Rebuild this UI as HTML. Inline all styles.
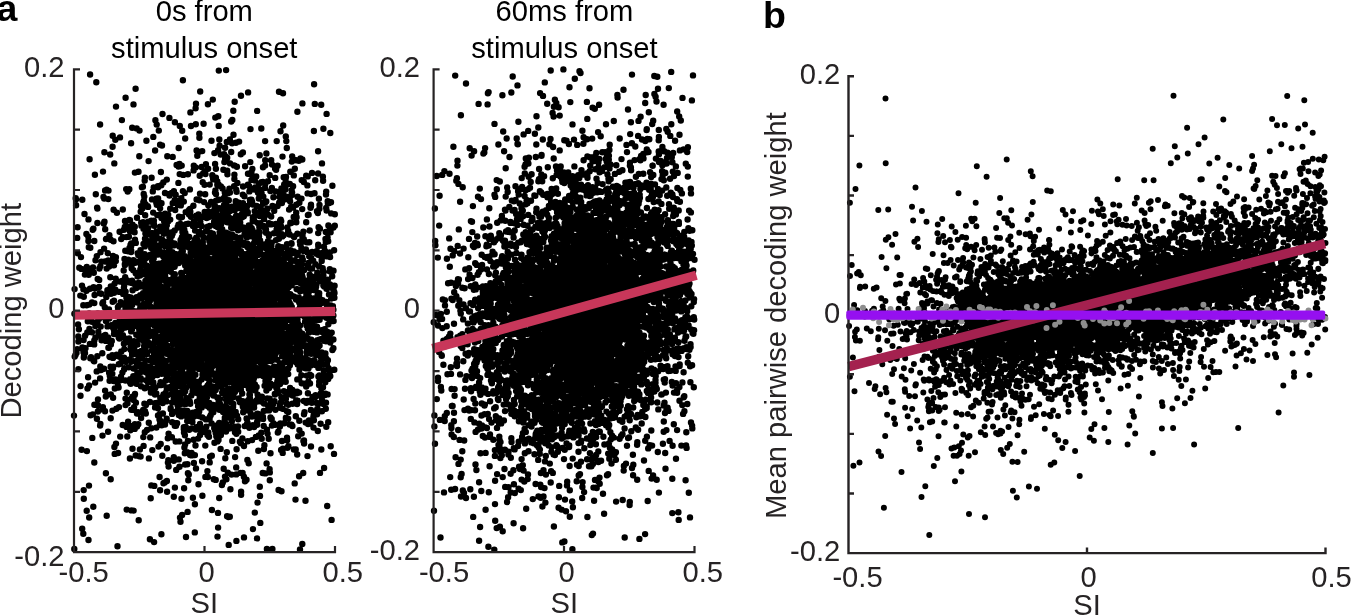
<!DOCTYPE html>
<html lang="en"><head><meta charset="utf-8"><title>Decoding weight vs SI</title>
<style>html,body{margin:0;padding:0;background:#fff}svg{display:block;will-change:transform}</style></head>
<body>
<svg width="1351" height="615" viewBox="0 0 1351 615" font-family='"Liberation Sans", Arial, Helvetica, sans-serif'>
<rect width="1351" height="615" fill="#fff"/>
<path d="M184.5 320.5h0M217.4 264h0M214.5 442.8h0M153.1 357.6h0M104.2 198.5h0M276.7 250.7h0M212 304.5h0M283.4 193.8h0M302.8 241h0M292.1 272.2h0M307.5 456.1h0M227.9 258.3h0M313.9 420.2h0M289.8 183.9h0M246.4 291.9h0M177.4 316h0M142.5 305.1h0M173.3 370.5h0M215.9 274.3h0M256.2 300.7h0M263.6 330.6h0M170 359.5h0M151 275.1h0M173.6 321.5h0M295.6 273.9h0M232.1 365.8h0M238.5 291.2h0M198.5 318.1h0M231.9 255.2h0M298.8 297.4h0M231.1 318.5h0M149.1 300.2h0M214.9 287.6h0M250.1 201.9h0M142 261.8h0M252.8 217.4h0M174.7 266.3h0M194.9 313.4h0M304.9 363.2h0M98.3 331.9h0M174.9 487.6h0M95.4 337.7h0M236.4 371.2h0M195.6 108.2h0M98 399.5h0M234.9 356.3h0M219.5 380.8h0M193.6 439.7h0M139.3 156.3h0M284.2 184.4h0M237.6 341.5h0M125.4 327.5h0M208.5 260.1h0M286.1 280.7h0M247.4 460h0M189.3 275.6h0M215.8 313.3h0M329.7 306.9h0M174.7 200.3h0M198.4 214.5h0M240.9 267.8h0M152.3 450.1h0M259.7 232.3h0M130.6 247.4h0M178.7 148h0M241.8 322.6h0M220.8 385.5h0M223.7 256.1h0M260.9 288h0M218.5 440h0M262 313.3h0M273.1 292.8h0M237.6 331.6h0M212.9 296.9h0M280.7 322.2h0M250.3 268.5h0M184 300.6h0M269.6 469.3h0M140.6 364.6h0M305.7 383.4h0M200.6 364.1h0M197 327.2h0M230.1 257.3h0M204.2 298.5h0M182 360.5h0M253.3 372.6h0M264.2 304.9h0M250.3 282.8h0M239.9 441.7h0M203.6 428.6h0M200.3 232.8h0M167.9 352.5h0M290.7 304.6h0M203.8 294.2h0M121.1 304.2h0M253.9 362.5h0M164.7 313.2h0M243.6 330.2h0M227.9 271.6h0M205.1 285h0M210.7 366.3h0M129.4 298.6h0M272.4 354.3h0M115.3 323h0M203.8 292.8h0M280.5 319.1h0M198.2 364.4h0M329.3 203.1h0M170 283.2h0M126.4 237.1h0M261.9 334.4h0M216 244.1h0M264.6 385.8h0M133.5 361.1h0M275.4 269.2h0M156.3 202.8h0M300.7 361.4h0M157.1 348.8h0M301.4 248.2h0M194.3 333.4h0M176 303.7h0M162.8 367.9h0M236.3 288.8h0M270.3 373.5h0M247.6 344.1h0M283.1 291.3h0M280.5 290.7h0M324.4 335h0M283.7 280.9h0M143 261.7h0M177.6 405.2h0M227.8 472.7h0M205.2 322.7h0M94.2 361.2h0M200.9 359.9h0M293 337.4h0M284.4 199.4h0M305 299.2h0M267.5 283.9h0M170.7 318.1h0M197 254.6h0M298.4 334.1h0M136.6 311.5h0M237.8 305h0M252.4 279.6h0M216 357.3h0M241.5 306.3h0M180.2 316.7h0M124.9 265h0M330.9 305.4h0M194.9 294.2h0M199.5 251.4h0M234.9 392.1h0M207.6 331.4h0M248.2 407.4h0M153.7 332.8h0M237.9 383h0M164.9 264h0M230.9 390.7h0M279.5 197h0M271.7 279.7h0M235.7 324.7h0M219.4 405.7h0M197.4 382h0M221.6 346.4h0M135.2 262.7h0M260.7 253.6h0M202.1 461.2h0M250.1 299.5h0M238 207.4h0M164 367.1h0M201.3 366.4h0M325.8 231.9h0M194.1 222.6h0M166.5 375.7h0M184.6 365.4h0M199.7 336.4h0M297.1 404h0M287.2 270.4h0M216 267.3h0M285.1 308.7h0M310 383.5h0M147 366.7h0M329.9 371.4h0M152.7 253.7h0M142.9 186.7h0M200.6 294.7h0M180.5 308.6h0M231.9 299.7h0M305.5 280.5h0M215.4 206.6h0M247 347.2h0M205.5 320.4h0M200.3 221.4h0M250.1 233.4h0M87.5 388.5h0M235.6 207.1h0M321.7 260h0M241.3 378.5h0M251.7 228.3h0M181.2 273h0M242.1 324.7h0M197.3 366.7h0M308.9 363.2h0M226.2 232.8h0M218.5 277.8h0M289.9 365.2h0M160.1 214.4h0M210 267.3h0M185.2 464.5h0M162.1 273.3h0M167 448.2h0M269.6 300.9h0M229.4 370.3h0M241.6 259.8h0M175.7 194.7h0M302.4 103.4h0M273.1 403.5h0M190.4 275.4h0M185.4 321.8h0M253.4 283.2h0M310.8 206.7h0M226.8 210.5h0M175.6 302.4h0M240.2 310.4h0M196.5 295.9h0M327.8 376.9h0M230.3 311h0M207.9 362.5h0M165.7 339.1h0M265.7 303.7h0M225 338.9h0M218.9 366.1h0M262.4 306.7h0M291.7 253.5h0M217.3 341h0M243.1 287h0M162.6 370.7h0M192.3 320.5h0M213.3 314.3h0M245.8 284h0M242.9 329.4h0M229.9 333.8h0M179.7 225.5h0M170.7 408.3h0M161.7 373.7h0M209 316.7h0M140.7 372h0M280.1 287.5h0M123.9 287.7h0M243 203.1h0M220.6 361.8h0M232.5 250.1h0M303.5 249.5h0M260.7 319.1h0M209.5 334.7h0M236.8 272.5h0M227.1 379.6h0M186.9 239.4h0M284.6 362.3h0M229.9 192.5h0M249.4 191.4h0M128.5 319h0M207.1 295.6h0M236.8 325.4h0M253 318.6h0M231 298h0M116 443.6h0M214.6 206.2h0M329.8 376.6h0M224.2 272.6h0M230.9 351.6h0M191 247.7h0M300.6 335.4h0M195.9 339.3h0M125.5 308.2h0M193.3 326.4h0M114 300.7h0M156.4 198.6h0M231.9 271.7h0M261.7 358.4h0M149.9 367.3h0M256.6 325.9h0M211.1 341.6h0M252.9 331.6h0M189.2 324.6h0M253.5 354.1h0M230.5 303.9h0M243.3 343.9h0M187.6 511.9h0M213.8 319.7h0M193.6 376.8h0M80.5 395.8h0M151.8 350.4h0M144.1 346.3h0M157.4 375h0M275.8 262.9h0M203.9 289.6h0M193.5 274.4h0M178.2 364.5h0M231.2 381.5h0M201.6 429.5h0M228.1 193.2h0M219.9 298.2h0M208.2 394h0M177.2 337.9h0M239.7 253.3h0M206.4 322.6h0M196.9 307.8h0M275 253.7h0M207.9 341.1h0M93.4 228.7h0M205 300.3h0M281.2 381.8h0M255.3 332h0M150.9 392.5h0M249.1 281.9h0M226.1 327.3h0M263.9 349.3h0M246.6 303.6h0M200.7 406.3h0M168.3 221.3h0M89.2 313.4h0M222.4 303.2h0M233.4 319.7h0M172.5 301.9h0M270.5 299.7h0M224.6 197h0M244.4 196.2h0M238.3 346h0M231.3 417.2h0M252.3 325.7h0M250.2 362.8h0M279 91.7h0M285.1 324.2h0M318 276.8h0M205.9 292.9h0M304 301.3h0M153.6 318.7h0M172.4 311.9h0M108.3 199.1h0M186.8 316h0M235.9 321.1h0M192.2 275.3h0M171.9 437.2h0M259.9 283.1h0M211 356h0M220.9 320.9h0M204.5 301.5h0M238.6 336.3h0M83.8 498.7h0M219.3 139.5h0M235.6 344.7h0M211.5 293.3h0M256.9 414h0M258.7 329.1h0M235.4 365.9h0M212.9 323.5h0M202 295.4h0M228.1 293.3h0M212.3 374.5h0M183.9 377.7h0M246.8 334.5h0M192.9 268.8h0M195.4 374.8h0M109.5 356.6h0M226.1 399.4h0M226.8 299.4h0M255.3 327.4h0M328.4 225.4h0M215.3 290.7h0M260.9 317.9h0M287.8 360.4h0M159.5 419.5h0M264.3 318.5h0M243.3 383.4h0M219.4 409.7h0M219.2 379.6h0M283.4 291.7h0M196.3 289.1h0M83 349.5h0M323.4 285.4h0M128.3 259.6h0M298.3 392.8h0M254.3 368.1h0M257.5 399.1h0M203.8 405h0M255.4 277.7h0M169 258.2h0M232.6 272h0M330.7 446.2h0M231.5 263.8h0M266.9 282.6h0M189 257.3h0M216.9 331.8h0M205.9 164.3h0M248.5 330.4h0M115.3 315.2h0M217.5 359.7h0M225.4 331.1h0M277.2 323.9h0M161.6 288.5h0M152.3 278.9h0M159 286.8h0M212.2 373.5h0M190.9 369.8h0M292.2 322.5h0M231.1 326.9h0M173.6 276.1h0M145 238.7h0M296.1 160.3h0M273.6 314.8h0M179.1 350.5h0M97.1 207.6h0M93 267.5h0M198.7 362.9h0M157.1 296.4h0M167 298.4h0M211.5 239.1h0M238.4 331.3h0M274.3 368.7h0M245.6 244.3h0M199.2 334.6h0M179.2 304.7h0M162.2 373.1h0M288.2 266.9h0M123.4 282.6h0M257.6 293.3h0M284.2 323.5h0M279.7 292.4h0M273.8 351.5h0M167.3 253.5h0M249.7 387.8h0M217.2 355h0M205.4 290.8h0M216.8 259.2h0M169.8 305.9h0M217.6 262.2h0M254.9 384.5h0M237 221h0M289.3 353.7h0M235 432.2h0M279.9 407.8h0M209.2 286.7h0M270.7 350.6h0M184.1 314.8h0M239.6 280.5h0M245 302.7h0M260.9 287.7h0M210.6 281.7h0M230.9 398.6h0M140.6 456.6h0M204.5 394.9h0M199.4 332h0M203.5 317.1h0M205.9 295.5h0M322.5 300.1h0M153.6 358.7h0M232 411.7h0M266.1 248.3h0M282.3 236.4h0M204.7 212h0M247.5 422.8h0M218.5 294.2h0M211.8 309.4h0M184.9 312.7h0M271.3 279.3h0M247.4 270.4h0M130.2 379.1h0M248.1 366.8h0M204.6 317.3h0M307.9 215.1h0M128.7 367.3h0M330.6 232.3h0M218.7 333.1h0M288.9 350.6h0M173.7 330.6h0M287 437.8h0M230.1 163.4h0M250.4 349.8h0M180.7 241.5h0M259.9 337.7h0M229.4 328.4h0M219.2 498h0M284.1 423.3h0M258.7 329.5h0M108.4 315.8h0M223.6 316.9h0M259.5 191.7h0M248.8 293.9h0M160.1 208.2h0M98.7 335.4h0M275.1 334.4h0M105.2 229.2h0M260.9 355.5h0M331 202.3h0M278.5 255.2h0M287.5 369.7h0M166.6 295h0M304.3 305.4h0M184.1 337h0M187.9 342.1h0M322.7 313.5h0M239.8 208.3h0M192.2 287.2h0M313.4 331.8h0M263.6 358.1h0M259.4 332.1h0M231.9 325.7h0M313.1 321.2h0M222 324.5h0M246.3 299.3h0M293.9 449.5h0M242.9 152.5h0M192.8 294.6h0M245.2 291.8h0M213.8 362.9h0M278.4 298.3h0M245.6 346.6h0M228.9 340.3h0M280 253.3h0M151.1 373.2h0M240 322.8h0M256.1 329.8h0M236.3 283h0M235.2 309.7h0M218.1 346.9h0M170.6 283.1h0M216.3 436.2h0M206.6 351.7h0M196.7 264.1h0M286.1 247.4h0M231.1 358.5h0M253.7 299.1h0M196.5 326.6h0M228.8 245.5h0M244.8 264.1h0M193.8 382.7h0M281.3 330h0M316.3 326.7h0M229.9 370.6h0M254.2 325.8h0M135.7 324.4h0M103.1 302.3h0M162.7 310.1h0M251.4 321.7h0M318.5 346.6h0M142.1 307.3h0M124.3 349.1h0M276 240.1h0M229 346.7h0M210.3 270.1h0M180 404.7h0M220 280.9h0M207.7 318h0M238.4 311.7h0M178.6 356.3h0M151.2 248h0M172.8 388.3h0M201.3 272.9h0M277.3 305.3h0M288.8 297.7h0M267.5 381.8h0M316.1 355h0M215.1 355.9h0M229.5 356.7h0M176.6 321.4h0M159.8 348.8h0M228.7 309.5h0M163.2 278.5h0M223.5 330.9h0M231.9 315.4h0M276.5 310.4h0M270.9 401.2h0M276.1 309.4h0M265.4 311.3h0M228.7 244.1h0M235.7 201.2h0M245.7 338.4h0M269.8 265.3h0M171.6 306.6h0M324.8 329.4h0M144.6 284.2h0M228.6 211.1h0M246.8 312.3h0M172.1 413.9h0M250.2 260.7h0M229.2 261.5h0M232.5 345.8h0M202.9 308.3h0M160.1 342.1h0M115.2 260.1h0M220.9 333.9h0M214.4 153.1h0M244.4 345.9h0M235.6 333h0M328.2 422.3h0M235.8 390.3h0M241.1 254.3h0M251.6 280.7h0M243 321.6h0M222.9 332.1h0M235 300.5h0M223.5 314h0M173.8 457.1h0M240.4 293.9h0M264.9 303h0M273 321.4h0M213.4 216.8h0M131.7 268.6h0M225 411.7h0M186 387.9h0M303.4 231.6h0M306.5 385.8h0M307.6 193.4h0M142.5 350.6h0M329.8 252.5h0M164.6 273.8h0M260.5 215.3h0M314.5 193.3h0M230.9 313.4h0M277.8 308.7h0M299.3 308.9h0M202.8 369h0M200 366.9h0M260.9 348.7h0M259 236.4h0M294.4 360.2h0M253.9 384.7h0M225.2 356.4h0M224.5 308.4h0M308.9 282.7h0M257.8 329.5h0M275.3 354.3h0M324.7 376.2h0M239 353.6h0M293.6 296.5h0M283.8 276.6h0M256.7 296.4h0M95 288.5h0M271.7 316h0M207 268.3h0M186.5 366h0M233 208.7h0M214.9 356.4h0M132.6 290.2h0M144.4 367.3h0M196.2 332.6h0M234 311.5h0M267.3 410.4h0M191.9 311h0M198.9 386.8h0M136.6 297.1h0M274.3 286.3h0M261.4 341h0M209.4 359.9h0M266.9 301.2h0M194.9 242.1h0M166 271.2h0M227.4 394h0M222.8 322.3h0M224.8 277.6h0M228.9 266.9h0M329.7 312h0M268 241.2h0M320 472.9h0M219.6 298.9h0M280.9 301.1h0M226.7 308.8h0M243.6 361.9h0M130 220.1h0M257.8 369h0M301.8 359.2h0M266.4 333.4h0M328.2 378.9h0M251.3 236.2h0M302.9 287.6h0M208.5 350h0M190.2 319.2h0M241.1 494.8h0M251.5 324.5h0M235.9 297.7h0M210 315.4h0M290.1 201.2h0M226.3 284.7h0M246.2 353.8h0M266.5 287h0M114.6 283.6h0M97.5 321.8h0M325.8 242h0M181 313.5h0M162.3 326h0M241.4 385.8h0M215 430h0M284.1 294h0M179.2 284h0M109.5 262.4h0M225 384.3h0M177 399.9h0M231.7 360.2h0M178.6 345.4h0M282.7 377.5h0M182.1 401.2h0M153.7 187.4h0M195.2 296.6h0M222.8 328.6h0M135.7 273.2h0M218.5 397.8h0M209.7 391.5h0M275.5 289.6h0M130.5 349.4h0M257.1 423.1h0M181.7 335.2h0M229.1 350.7h0M194 301h0M321.3 449.5h0M185.2 351.6h0M230 278.6h0M205.7 255.4h0M191.6 415.3h0M253.3 234.7h0M266.1 321.8h0M254.7 340.4h0M272.3 306.5h0M141.4 225.8h0M232.4 357.7h0M202.7 182.2h0M205.2 327.6h0M226.9 326.5h0M238.4 279.4h0M157.3 245.8h0M277.5 294.9h0M169.5 328.1h0M279.8 236h0M332.3 297.4h0M204.5 307.7h0M248.8 278.4h0M186 283h0M223.7 355.5h0M216.9 299.8h0M233.1 337.1h0M266.9 549h0M131.8 283.1h0M185.7 356.2h0M225.7 156.5h0M258.7 291.2h0M249.9 397.7h0M154.2 369.6h0M290.9 272.8h0M232 206.8h0M280.9 402.4h0M267.1 328.1h0M259.7 216h0M147.8 297.6h0M219.1 289.9h0M218.2 312.9h0M227.2 170.8h0M220.5 380.4h0M185.2 391.2h0M323.4 275.6h0M259.3 227h0M276.3 272.7h0M202.7 255.6h0M196.5 296.1h0M223.9 369.8h0M247.6 302.4h0M187.3 411h0M219.2 336.1h0M268.7 326.7h0M255.9 436.9h0M168.2 214.6h0M281.4 327h0M242.3 209.3h0M194 353.8h0M250.3 339.4h0M305.9 336.1h0M186.5 325.2h0M155.3 253.4h0M307.7 176.4h0M192.9 263.1h0M189.9 297.3h0M250 274.6h0M97.3 356.3h0M199.2 411.6h0M273.4 256.3h0M252.3 331.4h0M311.2 375.7h0M334 453.9h0M94.4 404.7h0M296.1 340.7h0M263.4 333h0M221.8 350.6h0M282.3 313.4h0M259.6 267.4h0M130.1 304.4h0M238.7 398.5h0M152.8 191.4h0M180.4 223.9h0M252.2 331.3h0M226.7 303.8h0M274.5 401.2h0M184.4 305.6h0M169.6 249.7h0M179 216.7h0M180.6 385h0M288.4 446.3h0M231.6 345.4h0M144.4 343.6h0M195 287.2h0M221.1 310.6h0M320.2 376.9h0M259.8 347.6h0M148.3 375h0M271.2 160.3h0M267.3 259h0M254.8 512.6h0M203.1 377h0M246.8 315.9h0M300.5 158.5h0M221.8 218.3h0M266.3 370.2h0M276.9 257.2h0M238.8 311.4h0M238.1 269h0M203.1 270.2h0M150.2 266.6h0M206.5 337.9h0M294.8 168.7h0M206.1 343.9h0M274.1 285.3h0M290.8 253.5h0M223.4 285.1h0M191 327.7h0M233.5 269.1h0M255.9 343h0M231.5 225.6h0M187.9 343.3h0M92.8 414.4h0M226.9 295.2h0M191.3 288h0M196.2 251.2h0M224.6 258h0M141 259.2h0M244.5 234.6h0M108.4 347.7h0M183.3 345.3h0M273.1 404h0M127.5 341.8h0M272.7 318.8h0M243.2 355.8h0M90.6 415.2h0M198 305.6h0M247.8 267.7h0M243.9 322.1h0M291.6 285.3h0M302.3 544h0M189.8 354h0M212.2 386.4h0M208.4 344.6h0M243.8 216.2h0M212.5 362.2h0M280.3 351.7h0M177.8 304.2h0M299.7 267.1h0M210.2 280.4h0M177.9 284.8h0M228.3 216.8h0M162.4 273.4h0M215.3 299.5h0M235.5 314.3h0M208.5 323.6h0M165.7 380.5h0M106.5 310.5h0M231 303.2h0M293.9 251.4h0M280.7 267.3h0M258.4 313.6h0M199.7 396.6h0M180.2 367.2h0M283.6 235.3h0M300.5 302.7h0M164 336.1h0M220.2 373.4h0M270.5 453.3h0M109 309.5h0M269.9 358.4h0M242.3 281.7h0M296.3 204.7h0M177.8 353.8h0M276.6 229.5h0M324.1 468h0M150.2 437.4h0M192.3 356.7h0M160.6 327.5h0M118.8 364.3h0M233.1 407.1h0M139.3 284.5h0M205 366.5h0M215.1 300.5h0M199.3 133.7h0M206.9 312.7h0M173.7 398h0M188.4 330.3h0M307 287.2h0M207.6 314h0M229.8 516.8h0M141.8 315.8h0M326.5 317.7h0M225.6 276.2h0M176.1 297.7h0M278.8 323.1h0M170.9 386.9h0M318.4 376.5h0M231.4 395.5h0M230.8 316.6h0M257 421.9h0M168.3 387.5h0M283.5 189.1h0M192.7 334.6h0M120 137.4h0M137 217.7h0M310.4 422.8h0M223 211.7h0M276.9 310h0M221.3 290h0M211.8 343.4h0M224.8 192.4h0M109.8 375.7h0M222.7 232.7h0M266.4 153.5h0M235.9 337.1h0M257.5 370.1h0M233.8 277.8h0M191.6 279.3h0M191.8 289.7h0M185.4 235.7h0M317.1 352.6h0M253.1 299.7h0M302.5 315.3h0M255.7 324.9h0M222 375.6h0M278.2 246.9h0M316.8 403h0M163.2 300.7h0M194 346.5h0M173.9 378.2h0M248.1 270.2h0M207.7 346.5h0M234.4 335.2h0M173.1 334.9h0M262.9 416.6h0M314 360.1h0M220.6 320.6h0M222.3 322.9h0M263.3 196.6h0M263.4 303.6h0M288.2 374.1h0M234.4 179h0M260.2 285.1h0M277.6 206.1h0M266.9 429.6h0M180.5 371.8h0M146.7 316h0M217.1 268.2h0M317 332.4h0M224.4 162.1h0M219.8 382.2h0M175.7 441.5h0M187.1 279.2h0M312.1 268.6h0M283 320h0M178.8 263.1h0M245.1 326.5h0M196.8 281.5h0M129.3 220h0M259.1 417.9h0M222.3 279.8h0M263.5 291.4h0M172.7 203.2h0M191.2 265h0M174.9 317.6h0M126.4 297.7h0M227.9 282.3h0M187.7 299.2h0M209.9 356.8h0M239.9 343.7h0M282.2 356.2h0M176.6 165h0M213.9 318h0M228.5 312h0M285.7 381.8h0M209.9 416.7h0M174.8 425.7h0M246.2 263.1h0M142.7 312.5h0M230.9 317.9h0M240.5 284.5h0M278.3 392.7h0M217.3 262.4h0M235.7 279.5h0M258.7 368.9h0M227.5 417.1h0M236.2 325.7h0M219.2 300.1h0M326.3 256.3h0M126.2 189.1h0M176.9 328.8h0M209 436.8h0M144.5 273.5h0M211.8 455.8h0M249.7 409.2h0M233.8 221.7h0M138 412.1h0M209.2 317.5h0M219 199.7h0M278.5 288.1h0M219.7 326.7h0M214.9 261.1h0M189.4 321.9h0M247.8 212.2h0M220.2 265.5h0M250.1 340.9h0M142.9 324.3h0M277.5 254.6h0M285.5 197.1h0M255.8 353.3h0M274 333.2h0M220.3 238h0M181.4 319.5h0M161.5 315h0M262.1 343.1h0M258.8 347.3h0M299.4 430.1h0M225.7 354.5h0M243.9 330.7h0M254.3 314.7h0M236.2 474.4h0M135.1 343.9h0M140.7 270.5h0M152.5 279.1h0M213.4 364.5h0M237.2 341h0M219.6 145.7h0M256.5 316.1h0M298.9 359.8h0M306.8 351.8h0M222.5 312.4h0M217.4 283.5h0M332.9 306.3h0M170.5 310.8h0M217.5 397.8h0M326.9 363.8h0M312.1 251.9h0M134.2 352.1h0M236.3 311h0M317 275.3h0M323.8 357.6h0M268.4 341.3h0M247.6 293.4h0M241.1 370.9h0M154.4 371.3h0M214 258.3h0M261.9 328.6h0M188.8 309.9h0M179.8 398.8h0M157.8 367.4h0M178.9 291.6h0M252.6 272.5h0M318.2 244.7h0M191.5 336.2h0M186.9 291.4h0M276.5 278.4h0M163.5 384.5h0M295.6 350.4h0M233.9 359.7h0M235.9 142.8h0M223.1 411.9h0M207.5 385.8h0M290 362.1h0M212.1 281.1h0M91 357.2h0M229.9 285.2h0M179.5 163.9h0M149 241.1h0M285.4 199.2h0M241 315.2h0M286.8 335.1h0M305.7 422.6h0M216.3 344.1h0M266.6 324.9h0M132.1 354.8h0M290.5 250.3h0M181.3 292.8h0M304 440.4h0M315.6 411.3h0M227.8 409.5h0M187.7 346.9h0M302.4 366.6h0M266.6 326.6h0M184.1 307.6h0M239.8 253.2h0M145.8 270.9h0M238.6 346.8h0M279.3 293.2h0M167.6 330.6h0M130.9 313.1h0M202.8 244.7h0M242.9 354.1h0M181.9 274.6h0M169.7 294.4h0M265.8 304.6h0M176.6 308.6h0M217.7 302h0M283.3 302.5h0M304.1 443.6h0M268.8 292.2h0M214.9 387.7h0M159.7 385.1h0M174.2 369.4h0M288.8 342.9h0M286.3 141.1h0M246.1 283.1h0M209.3 403h0M198.7 287.1h0M272.9 342.2h0M264.7 294.8h0M297.6 196.7h0M252.9 280.6h0M182.6 329.3h0M201.6 166.9h0M191.5 366.6h0M207.2 335h0M247.9 400.6h0M223.6 322.4h0M241 95.7h0M297.2 391.6h0M226.3 272h0M248.5 305.6h0M208.1 168.8h0M282.1 353.2h0M215.7 425.6h0M144.7 305.7h0M113.1 291.8h0M154.9 264.3h0M264.4 445.3h0M158.8 130.6h0M143.5 243.9h0M256.5 318.3h0M115.9 257.3h0M150.9 390.7h0M76 199.2h0M304.7 298.8h0M236.6 191.8h0M154.5 342.4h0M265.8 309.4h0M178.5 283.7h0M264 403.5h0M209.5 359h0M171.6 325.4h0M211.6 337.3h0M316.9 252.3h0M317.1 348.5h0M246 353.3h0M240.7 366.3h0M187.9 287h0M184.9 435.2h0M189.2 335.2h0M288.1 230.7h0M258.9 303.6h0M145.6 351h0M240.2 222.6h0M251.5 231.1h0M162.5 240h0M237.3 383.2h0M268 214.6h0M249.6 288.2h0M261.6 335.3h0M244.9 319.8h0M233.3 274.8h0M296.6 217.2h0M95.1 382.6h0M223.8 336.9h0M196.9 300.1h0M174.2 319h0M314.6 306.4h0M288.5 279.1h0M134.9 284.4h0M214.6 340.6h0M196.1 289.1h0M282 370.1h0M309.7 319.3h0M217.4 438.6h0M131.8 351.5h0M183.2 225.7h0M241.2 325.9h0M234.3 363.1h0M86.9 451.1h0M189.7 292.6h0M149.2 314.1h0M199.8 267.4h0M313.2 260.7h0M182.9 80.3h0M212.4 373.6h0M242.6 472.9h0M260.6 243.2h0M233.6 273.8h0M227.1 516.3h0M97.4 223h0M165.1 275.6h0M169.4 193.9h0M202.5 343.2h0M135.8 242.9h0M252 339.3h0M220.5 240.6h0M270.6 383.7h0M266.9 356.7h0M233.3 292.1h0M195.4 300h0M263.7 321.5h0M206.4 358.4h0M198.8 315.1h0M224.6 249.6h0M263 167.3h0M183 302.3h0M202.3 289.3h0M258.6 231.8h0M326.2 191.6h0M181.3 373.7h0M223.8 341.2h0M186.6 299.7h0M135.6 88.7h0M94.9 174.8h0M255.1 355.6h0M187.8 300.2h0M146.4 315.1h0M204.5 184.8h0M223.5 261.9h0M273.4 283h0M205.3 264.8h0M76.5 353h0M88.5 540h0M286.9 348.5h0M213.3 301h0M130.9 324.2h0M287.3 227.4h0M269.5 291.7h0M154.1 308.3h0M278.3 321h0M168.9 250.8h0M273 350.1h0M271 335.5h0M236.7 375.2h0M279.3 295.8h0M166.7 418.7h0M130.7 383.8h0M215.9 221.1h0M219.1 281.1h0M254.9 176.9h0M144 334.7h0M220.1 404.3h0M229.4 304.9h0M248.9 252.9h0M156.9 322.3h0M178.2 309.5h0M188.1 259.6h0M304 414.2h0M195.5 361.7h0M264.8 309.6h0M332.4 350h0M106.6 189.7h0M169.4 237.1h0M265.4 328.4h0M173.8 496.8h0M256.6 361.1h0M215.8 296.9h0M307.6 316.4h0M260.3 223.2h0M234.4 174.8h0M264.4 338.6h0M240 402.2h0M195.8 338.8h0M254.3 389.3h0M270.7 269.5h0M214.3 318.5h0M319.4 304.7h0M147.3 320.2h0M269.5 318h0M207.7 385.9h0M130 231.4h0M212 265.5h0M258.9 317.7h0M275.7 332.9h0M262.4 329.2h0M246.4 353.4h0M299.3 420.7h0M199.2 364.7h0M277.3 320.1h0M126.9 280.2h0M224.7 269h0M247.2 234.4h0M258 348.4h0M125.6 291.6h0M180.6 302.1h0M258.1 253h0M81.5 268.9h0M230.3 366.1h0M319.5 204.9h0M118.7 355.2h0M222.4 265.9h0M262.3 318.6h0M254 243.1h0M208.8 327.2h0M295.7 449.4h0M237.8 281.1h0M252.6 230.2h0M212.1 275.2h0M208.9 383.6h0M113.4 265.2h0M210 313.2h0M278.7 346.5h0M229.1 304.8h0M139.1 323.4h0M226.7 254.9h0M261.3 432.6h0M148.7 286.9h0M252.7 221h0M217.3 181.4h0M281.4 397.2h0M231.7 352.9h0M295.2 330.3h0M321.9 313h0M200.4 269.6h0M309.6 302.8h0M214.4 328.1h0M238.6 281.7h0M234.7 312.8h0M123.5 304.1h0M223.8 287.3h0M171.9 235.7h0M225.1 356.8h0M153.9 223.8h0M284.2 343.4h0M160.7 383.9h0M245.7 331h0M188.1 321.5h0M245.4 341.3h0M203.1 377.2h0M227.1 287.8h0M283.6 306.4h0M328.6 368.3h0M279.7 376.3h0M109.1 266.5h0M242.1 215h0M242.2 322.7h0M118.4 356.3h0M120.2 436.6h0M185.2 380.1h0M204 237.7h0M193.2 333.9h0M209.7 462.4h0M231.4 308.9h0M253.8 336.2h0M199.7 175.8h0M239.7 288h0M277.1 329.1h0M264.9 304.2h0M177.7 227h0M185.6 299.7h0M207.9 104.3h0M153.6 283.4h0M88.4 270.8h0M250.4 361.4h0M207.3 309.9h0M191 126h0M209.9 306.1h0M130.7 297.5h0M245.3 305.4h0M139 333.9h0M223.8 366.4h0M90.3 247.8h0M334.8 225.7h0M308.5 368.3h0M94.3 303.1h0M252.1 440.1h0M137.5 276.3h0M155.4 387.5h0M251.9 326.9h0M185.2 321.1h0M208 304.4h0M203.7 314.8h0M247.3 347.5h0M165.6 280.9h0M230.2 337.4h0M257.5 502.6h0M277.3 381.6h0M104.1 368.7h0M86.7 305.2h0M267 338.2h0M263.4 225.9h0M177.5 303.3h0M320.6 339.2h0M198 392.8h0M179.2 374.7h0M307.1 287.7h0M273.1 267.8h0M178.8 414.9h0M226 337.6h0M203.1 252.3h0M264.2 272.1h0M216.7 301.8h0M238.2 431.7h0M232 300.8h0M192.6 344.1h0M255.5 344.3h0M294.7 483.4h0M121.2 292.1h0M257.3 358.4h0M179.1 298.5h0M248.7 295h0M303.8 239.2h0M163.6 252.1h0M301.9 264.2h0M252.8 369.5h0M228 288.8h0M145.9 372.3h0M307.4 185.4h0M137.9 283.6h0M179.6 393h0M308.9 332.5h0M319.1 266.4h0M260 319.7h0M254.8 290.3h0M247.3 310.5h0M204.1 303h0M192.6 323.8h0M201.1 351.8h0M268.9 295h0M204.4 298.1h0M291.7 193h0M202.9 351.1h0M234.3 345.5h0M206.1 314.3h0M240.7 203.5h0M166.9 353.7h0M235.4 237.2h0M212.1 273.8h0M202.8 241.9h0M135.7 455.5h0M148.5 242.1h0M229.9 330.7h0M294.3 260.5h0M230.7 317.6h0M218.8 301.2h0M291 274.3h0M206.2 278.8h0M334.6 285.7h0M280.3 423.5h0M89.6 159.3h0M177.1 258.8h0M215.4 324.1h0M321.5 330.3h0M288.9 316.1h0M90.3 358.3h0M219.5 340.9h0M159 291.5h0M213.6 340.5h0M246.5 304.9h0M330.2 321.5h0M288 327h0M224.4 334.6h0M244 274.3h0M323.1 275.8h0M240.9 389.8h0M196.9 346.9h0M193.6 329.9h0M236.3 334.4h0M208.9 348.7h0M300.7 244.1h0M207.4 471.1h0M226.1 299.3h0M168.3 370.9h0M255.7 295.4h0M237.3 360.2h0M125.6 97.7h0M265.4 270h0M219.6 358.3h0M323.8 370.7h0M313.5 427.6h0M290.3 294.1h0M221.1 299.9h0M190 208.9h0M110.9 293.8h0M151.3 298.4h0M209.2 273.8h0M253.1 339.5h0M302 275h0M232.4 331.2h0M260 246.1h0M250.1 292.5h0M232.4 294.4h0M243.1 333.2h0M229.4 352.4h0M114 265.2h0M189.9 339.1h0M303.2 473h0M181.5 254.8h0M240.3 237.8h0M332.4 185.7h0M184.9 310.7h0M152.3 388h0M199.4 231.7h0M201.4 326.3h0M245 362.4h0M330.3 342.6h0M162.9 298.7h0M236.2 218.8h0M228.8 309.3h0M224 261.8h0M206.7 218h0M263.8 326h0M278.7 324.7h0M230.6 335.8h0M272 306.9h0M209.5 297.3h0M174.7 278.3h0M224.8 289.3h0M286.5 196.8h0M233.9 344.6h0M77.2 237.9h0M229.2 334.9h0M158.5 201.4h0M244.3 324.1h0M220 312.7h0M200.5 276.9h0M189.1 335.3h0M280.1 323.5h0M236.2 340.8h0M225.3 458.3h0M222.4 341.9h0M334.1 250.2h0M171.1 325.5h0M293.7 315.4h0M195.7 316.4h0M250.2 351.6h0M220.5 327.7h0M320.6 423.8h0M308.7 360.2h0M279.2 202.8h0M265 295.6h0M259.9 331.5h0M253 298.2h0M116.6 354.6h0M240.9 310.7h0M225.9 233.6h0M205.2 194.3h0M223.7 468.7h0M160 344.9h0M237.1 265.2h0M315.7 365h0M261.4 322.7h0M253.1 335.2h0M83.3 305.2h0M229.2 428.5h0M197.5 254.5h0M108.5 190.6h0M281.6 296h0M297.4 233.8h0M180.8 227.2h0M258.7 338.5h0M249.1 374.5h0M250.9 293.8h0M319.4 208.8h0M247.8 315h0M243.3 305.7h0M143.3 202.1h0M323.6 272.3h0M227.1 247h0M123.9 229.7h0M258.8 262.3h0M252.9 374.1h0M108.1 431.7h0M220.6 284.9h0M89.9 343.9h0M170.2 267.2h0M249.9 200h0M104.8 307.3h0M262 305.6h0M225 476.6h0M160.2 226.7h0M247.8 441.3h0M247.5 300.5h0M200.6 290h0M236.6 220.2h0M263.2 284.4h0M189.7 307.1h0M263 360.7h0M238.8 341.5h0M205 310.1h0M284.2 304h0M166.2 267.8h0M276.6 324h0M265.3 473.4h0M165.2 300.7h0M230.8 358.1h0M232.3 440.9h0M264.9 282.6h0M174.8 274.3h0M226.9 205.9h0M236.8 303.1h0M276.9 321.4h0M260.6 322.3h0M268.9 372.8h0M86.7 510.7h0M160.6 231h0M193.7 267.3h0M245.5 282.6h0M255.2 187.4h0M199.8 275.6h0M225.6 339.9h0M266.3 201.4h0M184.8 246.4h0M215.1 271h0M167.4 395.3h0M210.8 360.7h0M249.6 318.4h0M259.5 281.9h0M187.1 417.1h0M256.8 335.6h0M189.7 324.5h0M288.4 273.7h0M224.4 268.6h0M313 282.8h0M217.1 277.4h0M276.9 281.7h0M217.8 302.3h0M240.8 293.7h0M210.7 319.9h0M289.5 276.6h0M126.8 392.7h0M325.9 241.3h0M229.7 234.2h0M149.2 324.1h0M271.9 323.3h0M200.1 339.7h0M215.8 354h0M237.6 346.1h0M164.6 246.1h0M156.6 322.1h0M185.1 320.6h0M234.9 224h0M226.3 354.6h0M236.5 279.4h0M251.2 300.8h0M199.4 330.5h0M154.3 321.9h0M189.9 285.6h0M260.8 340h0M160.7 444h0M328.4 335.5h0M219 274.9h0M296.7 344.4h0M213.8 479.3h0M201.7 329.7h0M236.7 279.6h0M233.1 301.3h0M181.3 413.8h0M184 432.4h0M154.1 325.3h0M220.9 435h0M78.4 369.1h0M279.9 309.6h0M303.7 286.4h0M199.1 301.1h0M302.3 159.5h0M213 319.2h0M139.5 130.6h0M227.7 342h0M333.4 227.5h0M195.7 323.2h0M140.6 335.6h0M167.3 379.6h0M207.2 256.8h0M208.4 304.9h0M154.2 225.7h0M131.1 252.1h0M236.9 166.8h0M187.1 294.5h0M255.8 342.9h0M269.4 330.2h0M228.8 346.6h0M151.3 241.7h0M219.6 336.4h0M267.3 346.7h0M185.2 309.9h0M293.8 236.4h0M255.1 339.4h0M278.2 233.5h0M201.3 326.5h0M231.6 218.6h0M268.6 304.3h0M186.7 328.6h0M228.8 350.3h0M198.5 333.6h0M207.7 226.7h0M274.1 366.6h0M217.7 347.1h0M263.5 331h0M192.3 373h0M190.9 279.9h0M291.2 261.6h0M301.8 261.4h0M249.9 394.7h0M183.1 321.7h0M219.4 293.3h0M287.3 333.4h0M127.7 191.6h0M217.1 345.7h0M270.4 191.1h0M157.3 299.3h0M292.1 322.2h0M253.2 276.2h0M296.2 212.7h0M333.4 315.4h0M198 294.8h0M284.4 306.9h0M146.6 387.1h0M216.2 336.2h0M319.6 319.7h0M243.2 412.3h0M215.2 244.1h0M308.1 368.2h0M262.7 314.4h0M182.2 130.7h0M258 234.2h0M250.3 425.9h0M211.5 367.7h0M197 401.8h0M264.9 296.6h0M174.9 122.2h0M302.6 234.5h0M333.4 348.3h0M194.1 344.6h0M148.3 297.5h0M216.6 304.1h0M324.7 329.3h0M247.6 348.9h0M136.7 128.4h0M195.5 445.5h0M253.5 261.1h0M216.7 221h0M230.1 294.5h0M270.7 352.1h0M125.6 312.4h0M147.8 206.2h0M291.8 161.6h0M188.1 416.4h0M220.7 264h0M190.3 322.2h0M250.3 230.2h0M158 291.4h0M198.8 344h0M159.3 371h0M115.6 379.5h0M142 332.9h0M250.1 390.1h0M193.8 165.7h0M257.9 192.4h0M158 408.3h0M226.1 370.8h0M209.3 346.6h0M131.6 379.7h0M185 311.5h0M306.5 320.2h0M195.2 289.9h0M219.2 278.8h0M284.7 255.5h0M248.3 354h0M212.7 283.1h0M329.7 231.4h0M227.8 267.1h0M236 367.5h0M209.7 366.5h0M306.4 325.3h0M202.5 374.6h0M209 375.8h0M196.2 392.7h0M200.9 316.5h0M249.6 319.2h0M196.8 259.2h0M121 376.8h0M250.8 315.8h0M89.3 304.6h0M233.6 336.4h0M191.6 298.7h0M191.8 274.4h0M181.1 401.9h0M243.4 271.6h0M172.7 156.9h0M190.7 252.5h0M211.1 201.9h0M175 321.2h0M201.6 226h0M187.9 296h0M163.6 312h0M283.6 379.5h0M148.6 290.1h0M85 352.9h0M145.2 360.1h0M143.7 193.9h0M160.8 286.8h0M269 247h0M254.8 389.1h0M118.7 305.9h0M114.2 331.2h0M227.1 246.2h0M244.5 268.3h0M290.3 342.3h0M202.4 495.8h0M188.7 308.2h0M217.5 311.6h0M268.9 235.9h0M81.6 449.8h0M190.6 353.3h0M263.7 335.3h0M272 306.4h0M215.6 340.4h0M279.5 322h0M271.2 347.8h0M180 324h0M221.7 430.9h0M194.5 280.7h0M202 344.3h0M249.9 293.4h0M185 308.1h0M159.7 268.6h0M236.7 321.3h0M274.8 291.5h0M221.1 224.2h0M321.7 352.4h0M236.8 268.4h0M188.4 358.8h0M210.1 291.5h0M239.1 250.4h0M261.9 272.6h0M240.8 292.5h0M291.8 194.9h0M277.9 232.4h0M165.9 370.6h0M224.5 270.5h0M210.1 364.1h0M205.6 302.5h0M138.5 171.7h0M167.5 310.7h0M255.5 314h0M330.3 133h0M214.8 332.4h0M202.4 348.7h0M270.5 288.3h0M188.4 321h0M221.4 365h0M130.5 245h0M178 333.4h0M274.2 284.7h0M237.5 223.1h0M191.5 340.5h0M187.5 295.5h0M260.7 333.5h0M165.5 301.9h0M239.9 290.3h0M181.3 311.7h0M152.4 257.4h0M127.3 436.5h0M216.6 364.5h0M271.2 324.9h0M215.7 325.1h0M240 252.2h0M334.4 297.7h0M182.4 232h0M295.4 330.1h0M260.5 207h0M286 177h0M231 310h0M253.6 357.7h0M243.6 411h0M189.1 362h0M272.7 250.6h0M156.3 393.4h0M314.1 84.3h0M264.8 330.4h0M200.3 313.9h0M324.7 375.3h0M157.3 352.7h0M246.5 325.9h0M157.3 330.4h0M239.4 354.9h0M282.4 316.7h0M219.9 295h0M259.3 279.9h0M225.1 159h0M167.1 491.8h0M172.4 252.2h0M208.3 211.4h0M140.3 307.4h0M201.2 272.2h0M266 277h0M199.8 329.3h0M224.1 299.3h0M216.1 355.6h0M134.7 313.4h0M189.2 429.7h0M291.1 223h0M217.3 247.7h0M233.3 273.4h0M183.8 429h0M185 286.8h0M253.9 378.3h0M303 362.6h0M142.3 208.5h0M214.2 302h0M242.2 281.7h0M242.1 331.3h0M133.5 104.4h0M158 187.3h0M331.2 213.4h0M255 359.3h0M301.7 344.2h0M249.2 263.5h0M237.4 291.8h0M210.2 369.6h0M246.9 352.3h0M169.5 309.5h0M217.6 334.7h0M217.5 536.6h0M261.8 261.5h0M200.1 435h0M204 355.3h0M232.1 376h0M289.8 310.8h0M310.2 289.6h0M210.7 297.6h0M259.5 301.3h0M209.7 380.8h0M189.1 210h0M156.7 124.6h0M182.4 356.2h0M262.4 329h0M232.3 286.5h0M143.1 293.3h0M191.5 287.3h0M231.9 420.9h0M275.8 289.1h0M229.5 255.7h0M212.4 266.3h0M217.3 251.6h0M242.4 438.5h0M232.5 347.1h0M180 311.8h0M154.5 342.2h0M264.2 359h0M183.2 174.9h0M256.2 322.4h0M282.5 156.6h0M275.8 338.3h0M325.8 408.7h0M205.4 476.9h0M208.7 315h0M239.7 298.1h0M261.7 438.8h0M131.2 426.3h0M199.3 256.4h0M324.2 284.6h0M189.5 311.3h0M250 312.5h0M83.5 352.2h0M279.7 317.5h0M243.1 186.5h0M203.6 123.7h0M172.4 243.2h0M184.3 333.8h0M246.3 297.4h0M199 217.7h0M230.4 329.8h0M291.4 243.1h0M267.5 297.7h0M257.6 249.4h0M255.7 264.8h0M174.8 354.7h0M193 226.1h0M286.5 253.5h0M162.2 352.7h0M184.4 303.1h0M244.2 356.3h0M204.4 310.9h0M78.4 341.5h0M190.1 366.6h0M184.1 294h0M224.6 269.7h0M125.3 250.8h0M237.7 312.6h0M222.5 323.2h0M193.2 310.2h0M274.5 274.3h0M223.8 370.8h0M213.2 179.4h0M220.9 290.2h0M222.1 292.9h0M192.3 346.4h0M169.2 325.7h0M244.7 426.1h0M258.4 300.7h0M248 347h0M221.8 252.6h0M187.6 288.6h0M249.5 282.6h0M168.6 433.6h0M238.9 202.8h0M276.9 280.6h0M283.5 345.4h0M317 326.6h0M268.5 351.6h0M185.3 233h0M117.6 325.3h0M264.1 219.1h0M143.5 228.8h0M196.8 327.6h0M226 346.7h0M190.6 338.7h0M244.8 353h0M227 379.3h0M286.9 317.2h0M140.1 358.6h0M214.6 263.5h0M195.3 286.1h0M319.6 345.6h0M110.8 394.5h0M134.1 311.9h0M320.8 393.5h0M219.2 216h0M282.3 366.3h0M220.9 297h0M242.5 348.8h0M189.2 236.9h0M86.8 267h0M233.9 311.6h0M229.6 289.6h0M241.3 304.5h0M181.1 247.2h0M265.6 331.6h0M255.3 312.4h0M165.1 226.5h0M129.3 306.7h0M177.3 297.2h0M304.9 290.4h0M291.3 332.7h0M164.7 482.5h0M207.5 339.6h0M171 254.9h0M272.6 345.9h0M257.8 299.9h0M137 426.4h0M277.3 350.7h0M163.8 233.7h0M77.2 349.1h0M166.6 317.7h0M281.1 450h0M148.4 244.1h0M195.4 316.1h0M107 394.6h0M311.1 258h0M93.7 360.8h0M241.9 333.8h0M222.3 368.5h0M229.7 336.9h0M183.2 337.7h0M253.2 345.4h0M209.7 225.9h0M318.1 151.3h0M188.2 223.8h0M198.2 362.2h0M263 364.3h0M190 374.2h0M205.3 334.9h0M171 291.9h0M263.1 367.7h0M92.7 229.8h0M147.5 278h0M279.4 275.7h0M177.8 348.8h0M165.6 392.9h0M156.6 403h0M146.8 268.3h0M247.9 184.8h0M184 325.2h0M244.9 404.9h0M133.3 376.2h0M127 325.8h0M134.9 424.2h0M120.7 302.1h0M179.8 125.9h0M194.9 455.1h0M110.8 286.5h0M219.3 332.8h0M216.8 319.2h0M216.4 282.4h0M264.8 262.4h0M245.3 335.7h0M213.3 362.1h0M218.2 311.7h0M204.5 298.7h0M207 332.4h0M214.6 263.6h0M245.6 305.1h0M222.8 482.5h0M132.1 280.8h0M88.8 247.3h0M127.8 308.7h0M298.8 160.8h0M79.3 267.7h0M293.1 186.3h0M194.9 504.3h0M249.6 298.9h0M182.1 317.6h0M269.7 224.4h0M194.4 299.6h0M231.6 356.7h0M180.8 205.4h0M243.5 298.4h0M188.3 480.3h0M149.4 336.2h0M221.9 300.9h0M263.3 265.7h0M186 412.7h0M206.5 264.9h0M225.5 276.1h0M223.4 341.4h0M285 300.5h0M241.5 330.8h0M140.7 378.1h0M201 328.8h0M245.8 356.7h0M116.6 315.5h0M209.4 287.8h0M248.8 279.3h0M89.8 315.1h0M285.9 417.6h0M168.5 291h0M146.9 265.8h0M233.2 350.9h0M212.8 291.6h0M274.3 302.3h0M193.2 291.1h0M264.1 290.3h0M230.7 312h0M215.9 377.7h0M218.4 384.5h0M258.7 435.5h0M216.6 363.7h0M217.3 360.5h0M315.6 395.2h0M329.3 335.7h0M164.2 333h0M209.4 307.1h0M74 415.6h0M267.7 321.6h0M262.2 296h0M236.5 298.1h0M169.9 262.9h0M283 301.1h0M185.3 290.4h0M261.4 182.3h0M103.8 223.5h0M249.1 303.7h0M187.2 327.3h0M210.1 456.8h0M284.1 333.4h0M211.7 295.2h0M271.4 246.2h0M113.6 209.7h0M223.2 411.9h0M143.6 445.9h0M191 324.1h0M214.6 258.3h0M194 317.9h0M274.7 298h0M308.3 339h0M273.8 313.5h0M223.2 250.2h0M237.2 338.4h0M305.1 321.8h0M217.1 312.7h0M234.5 312.2h0M149.3 315.7h0M149.6 306.2h0M231 290.6h0M227.8 313.5h0M256 345.8h0M284.5 268.6h0M105.9 340.9h0M206.2 323.5h0M259.8 307.8h0M136.5 383.7h0M180.5 397.7h0M324 356.5h0M238 426.4h0M236.6 286.8h0M279.4 268.6h0M212.2 366.5h0M233.3 313.4h0M209.6 372.4h0M189.7 358.9h0M216.6 329.8h0M202.4 348h0M219.1 325.9h0M242.7 401.1h0M267.6 208.7h0M256.5 337.3h0M159.5 265.8h0M225.2 214.5h0M321.9 277.9h0M159.7 319.2h0M298.1 276.7h0M266.4 303.8h0M220.8 249.6h0M236 263.7h0M198.4 345.5h0M275.7 325.1h0M294.9 318.1h0M189 278.4h0M260 340.6h0M289.9 197h0M198 349h0M204.8 251.1h0M171.7 192.9h0M240.5 346h0M198.1 224.9h0M232.2 244.1h0M231.6 474.6h0M196.6 323.9h0M200.9 293.3h0M278.8 305.9h0M271.7 279.2h0M221.1 347.2h0M163.9 341.7h0M167.7 267.3h0M107.3 291.9h0M290.3 347.9h0M293 252.3h0M153.7 321.1h0M236.3 351.4h0M256.5 239.8h0M169.4 372.3h0M267 316.4h0M238.7 399h0M283.9 327.2h0M218.6 402.4h0M216.7 309.7h0M133 409.8h0M252.7 335.6h0M300.2 244.6h0M241.7 335.8h0M158.9 250.5h0M172.2 422.2h0M74.7 356.6h0M193.2 254.9h0M206.7 329.8h0M151 307h0M208.1 276.1h0M230 299.3h0M134.7 324.4h0M189.6 420.6h0M263.1 376.1h0M118.2 323.2h0M307.7 328.6h0M305.6 345.2h0M173.6 387.1h0M233.8 296.9h0M187.4 464.3h0M245.5 377.9h0M172.9 296.2h0M319.9 228.7h0M204.1 202.1h0M182.3 313h0M112.3 373.7h0M132.5 396.7h0M284.9 354.2h0M159.7 319.2h0M123.1 293.9h0M218.5 438.6h0M167.3 156.3h0M198.1 334.3h0M167.4 245.6h0M179.5 466.7h0M329.3 287.6h0M154.9 247.5h0M207.7 348.8h0M224.5 274.2h0M241.8 337.5h0M149.9 402h0M140.9 264.9h0M133.4 311.7h0M281.2 193h0M124.1 357.7h0M195.7 240.8h0M246 318.2h0M234.7 236.8h0M245.9 348.1h0M211.6 423.4h0M267 380h0M167.5 339.3h0M192.9 412.6h0M144.3 307.2h0M84.9 274.6h0M201.5 295.9h0M250.4 247.2h0M241.9 311.7h0M100.1 124.5h0M205.4 297.9h0M193.7 336.9h0M101.1 293.8h0M190.9 347.1h0M197.9 318.8h0M126.9 322h0M194.4 366.4h0M300 355.5h0M232.2 297.7h0M198.8 339.5h0M246.1 284.1h0M316.5 320h0M236.4 433.8h0M159.5 284.4h0M75.4 355.2h0M207.8 349.4h0M196.8 331h0M228.8 339.9h0M254.4 221.3h0M237.6 301.5h0M205.9 285h0M204 247.8h0M163.3 256.4h0M222 348h0M225.8 343.8h0M240.2 337.7h0M140.2 295.2h0M174.9 297.1h0M226.6 324.3h0M256.3 330h0M161.4 534.3h0M173.7 245.4h0M170.7 323.9h0M207.4 406.1h0M240 330.1h0M231 306.8h0M186.9 374.5h0M303.9 362.8h0M126.9 304.9h0M183.9 310.3h0M256.1 248.6h0M280.8 292.7h0M224.5 329.7h0M161.7 425.3h0M280 363.2h0M100.4 266.3h0M232.6 336.3h0M163.9 292.7h0M268.7 409.3h0M267.1 315.3h0M211.2 324.5h0M182.7 277.4h0M140.4 308h0M256.5 212.6h0M200 278.8h0M235.2 349.6h0M113.5 241.3h0M270.5 328.5h0M212.5 306h0M170.8 303.9h0M186.5 321h0M207.8 477h0M199.4 309h0M147.9 269.3h0M268.3 334.6h0M187.9 473.2h0M181.9 311.8h0M268.9 300.8h0M232.1 316.3h0M172.7 344.3h0M227.3 222.2h0M234.4 368.3h0M190.1 385.2h0M236.5 339.9h0M320.4 279.5h0M223.5 283.6h0M203.1 339.6h0M251.5 260.7h0M166.3 401.4h0M215.2 298.8h0M266.1 287.6h0M166.2 229.3h0M229.1 283.5h0M246.1 266.4h0M262.4 374.3h0M166.8 388.9h0M161.7 320.1h0M201.4 275.2h0M283.9 356h0M134 341.3h0M165.2 334.7h0M158.6 287.8h0M297 282h0M136.4 353.9h0M169.6 303.7h0M183.7 333.8h0M252.3 379.8h0M291.7 190.3h0M226 408.8h0M313.4 302.9h0M153.8 236.5h0M275.2 287.3h0M219.6 306.9h0M207.7 292.4h0M214.9 311.8h0M237.1 364.1h0M219.7 329.9h0M187.5 362.3h0M130.6 346.2h0M163.6 317.6h0M266.1 268.7h0M273.9 338.5h0M303.9 346h0M180.5 217.7h0M224.6 304.9h0M213.3 353.4h0M178 373.1h0M255.7 316.6h0M232.8 274.7h0M293.3 272.4h0M212.7 310.2h0M168.5 256.8h0M207.2 342h0M188.2 287.3h0M190.5 338.6h0M217.4 262.5h0M230.7 418.3h0M180.8 305.8h0M214.2 428.1h0M238.9 269.3h0M271.9 425.6h0M167.9 462.6h0M272.5 325.3h0M228.4 283.5h0M215.1 364.5h0M205.1 314.2h0M234.9 340.2h0M178.3 325.8h0M282.3 297.2h0M212.8 324.9h0M210.7 415.2h0M228.2 324.8h0M158.5 446.6h0M207.6 378.3h0M275.9 224h0M254 348.4h0M299.4 202.7h0M164.2 221.4h0M262 295h0M263.7 355.3h0M202.5 347.9h0M180 517.6h0M218.8 70.6h0M218.9 349.6h0M156.4 427.6h0M234.7 309.1h0M257.1 339.5h0M236 245.4h0M215.7 307.5h0M259.9 304.8h0M172.5 381.7h0M194.1 247.3h0M185.4 281.1h0M237.2 367.7h0M110.3 277.3h0M182.8 251.3h0M146.1 313.2h0M170.9 338.7h0M311 204.8h0M205.2 272.7h0M152.1 233.2h0M241.2 282.3h0M205.8 259.7h0M225.4 396.2h0M223 335.9h0M164.6 259.9h0M159.4 337.3h0M300 549.5h0M241.7 332.9h0M321.2 104.7h0M137.5 344.5h0M269.3 248h0M232.2 337.3h0M266.3 212.8h0M111.4 286.7h0M330.3 376.1h0M171.6 386.6h0M288.2 418.6h0M263.1 203.8h0M134.5 311.9h0M265.4 304.9h0M271.9 343.3h0M196.4 270.6h0M170.9 271.8h0M231.7 418h0M265 283.6h0M170.3 238.7h0M229 374.7h0M230 306.1h0M257 538.4h0M278.6 252.4h0M215 192.6h0M214.2 222.6h0M158 254.5h0M96.9 418.7h0M217.2 280.6h0M250.7 325.5h0M246.4 352.3h0M224.3 333.9h0M155.1 339.4h0M303.7 345.1h0M135 239.8h0M190.2 335.3h0M222.4 364.3h0M291.2 315.4h0M293.7 313.6h0M221.9 309.9h0M154.1 285h0M154.3 242.3h0M152.9 236.3h0M290.3 266.7h0M222.3 293.4h0M300.3 352.5h0M248.1 410.6h0M310.6 280.7h0M250.9 371.6h0M269.8 480.2h0M259.4 194.8h0M321.4 388.4h0M324.2 364.4h0M292.6 271.9h0M269.4 383.3h0M140.5 250.1h0M210.6 342.9h0M290.2 320.3h0M195.1 339h0M258.1 320.4h0M124.5 259h0M206.8 396.7h0M237 227.9h0M153 291.5h0M311.3 284.9h0M217 263h0M248.1 92.4h0M247.5 330.4h0M223.8 282.8h0M258.2 272.7h0M145.9 284.1h0M138.4 352.1h0M262.9 323.6h0M205.1 311.2h0M151.9 233.2h0M110.2 375.7h0M201 296.1h0M172.4 337.9h0M222.1 379h0M228.3 517h0M195.2 294.4h0M173.7 365.1h0M98.1 405.4h0M228.8 314.9h0M321.9 316.5h0M154.3 350h0M292.2 156.4h0M257.6 394.8h0M104.4 152.2h0M241.5 228.6h0M191 325.4h0M194.1 290.4h0M239.8 330.1h0M276.2 266.8h0M191.9 315.5h0M208.3 432.4h0M218.6 223.7h0M261.6 397.6h0M318.3 246.2h0M248.6 405.2h0M181.3 198.3h0M228.8 283.8h0M276.8 322.1h0M236.3 304.3h0M237.7 360.2h0M223.4 361.1h0M260.9 319.9h0M89.1 385.4h0M234.2 290.3h0M270.6 250.7h0M182.3 338.1h0M281.2 342h0M175 264.3h0M223.8 371.5h0M196 103.8h0M177.8 314.5h0M191.6 354.4h0M256.4 304.2h0M167.4 374.9h0M133.2 347.2h0M210.1 287.6h0M235.1 457.1h0M210.3 344.8h0M282.7 452.9h0M172.4 302.3h0M283.9 391.1h0M203.6 350.4h0M232.7 342.9h0M240.6 275.1h0M231.5 296h0M191.9 335.5h0M199.3 343h0M271 259.5h0M125.2 277.2h0M259.8 486.7h0M179.8 343.4h0M262.1 346.1h0M266.1 232.7h0M320.3 281h0M235.5 249h0M143.2 409.9h0M145.4 233.4h0M215.1 305.8h0M150.2 234.8h0M220.3 342.6h0M255.3 330h0M83.3 533.7h0M248.4 228h0M251.6 328.1h0M214.6 221.7h0M168.2 304.7h0M241.5 214.6h0M267.6 331.7h0M202 391.3h0M260.2 304.3h0M167.2 221.6h0M165.5 242h0M174.5 266.8h0M231.2 414h0M276.5 388.3h0M144.8 246.4h0M315.2 180.2h0M297.3 379.4h0M272 407.8h0M329.7 271.3h0M241.5 308.1h0M185.8 426.9h0M262.7 473h0M167.1 323h0M241.2 314h0M237.2 337.2h0M105.1 317.9h0M287 289h0M106.5 238.6h0M237.6 343.3h0M156.1 264.2h0M164.4 218.6h0M127.6 226.5h0M132 225.7h0M196.6 150.4h0M209.5 346h0M144.7 334.2h0M240.6 239.9h0M196 365.9h0M255.2 307.5h0M269.9 279.4h0M209.4 241.2h0M260.8 263h0M250.8 413.7h0M158.4 322.2h0M208.6 261.3h0M236.2 467.4h0M189.4 360.3h0M232.9 251.6h0M160.6 382.2h0M216.5 380h0M153.6 345.6h0M224.8 417.7h0M189.4 371h0M248.7 302.5h0M147.7 278.2h0M252.1 404.4h0M298 323.4h0M189.9 294.2h0M209.6 324.6h0M257.2 371.6h0M204.7 281h0M318 318.8h0M188.9 321.7h0M158.3 362.9h0M225.3 367.5h0M231.2 152h0M227.9 295.4h0M148 312.1h0M106.7 515.8h0M165.9 421.1h0M227.8 208.8h0M250.6 301.3h0M237.9 293.4h0M271.5 313.5h0M223.3 309.7h0M238.4 275.8h0M272.5 205.9h0M273.5 275.1h0M151.3 428.3h0M108.7 310.4h0M315.2 310.8h0M212.8 304.3h0M166.9 481h0M301.1 303.2h0M240.6 227.4h0M144 364.9h0M301.7 180.1h0M214.4 306.9h0M267.2 297h0M220.8 351.2h0M229.2 325.2h0M215.7 390h0M190.3 341.9h0M323 387.3h0M113 357.9h0M160.9 172h0M176.7 401.9h0M167.8 438.2h0M219.9 296.2h0M309.3 401h0M245.6 333.8h0M154.5 369.5h0M234.3 317.3h0M93.3 506.7h0M262.6 313.2h0M200 424h0M190.3 367.5h0M228.2 278.5h0M180.9 302h0M256 291.5h0M316.4 253.8h0M200.1 355.1h0M221.1 352.6h0M232.4 258.9h0M238 297.8h0M122.7 280.8h0M299 301.4h0M215.3 307.8h0M126.3 317.3h0M118.6 387.5h0M169.4 117.9h0M219 329.2h0M110.3 341.9h0M151.4 220.7h0M316.1 286.7h0M180 325h0M237.7 368.3h0M171 380h0M266.4 390.6h0M323.8 377.1h0M256.9 286h0M211.5 140.8h0M321.3 253.2h0M153 321h0M252.1 346.9h0M236.8 351.4h0M167.5 291h0M196.2 215.7h0M202.7 335.6h0M214.1 221.7h0M222.9 287h0M260.4 249.3h0M182.5 277.3h0M215.2 301h0M106.7 268.6h0M271.8 224.2h0M283 93.3h0M157 315.6h0M173.8 460.7h0M143.1 222.3h0M180.6 294.7h0M254.3 289.4h0M214.4 294.6h0M181.5 325.3h0M269.5 245.7h0M87.8 321.3h0M327.9 360.2h0M180.9 368.9h0M264 260.9h0M247 307.5h0M122.9 318.7h0M195.5 330h0M258.3 296.6h0M242.3 321.3h0M235 384h0M244.2 359.2h0M236.5 326.4h0M306.2 175.7h0M305.6 313.8h0M259.4 336.4h0M183.2 385.8h0M241.9 380.4h0M254.1 407.6h0M329 231.2h0M196.1 354.1h0M190.5 297.3h0M190.4 112.4h0M104.8 307.1h0M192.8 389.1h0M115.4 289.7h0M248.3 322.8h0M259.7 273h0M324 340.8h0M258.2 292.7h0M260.1 240.4h0M229.1 275.3h0M246.6 261.7h0M248 386h0M198.5 318.9h0M244.7 335.1h0M170.6 326.7h0M242 269.3h0M177.6 400.2h0M194.8 532.4h0M303.9 400.9h0M246.6 418.5h0M197.4 336.9h0M201.2 335.6h0M211 340.3h0M153.4 270.8h0M112.7 135.7h0M235.5 301h0M146.7 316.1h0M191.9 306.3h0M218.2 358.2h0M178.6 343.7h0M270 289.9h0M258.7 263.1h0M229.6 355.6h0M217.1 336.6h0M195.8 318.3h0M274.8 369.5h0M325.4 353.4h0M256.3 333.4h0M257.4 290.2h0M222.7 199.1h0M225.3 326.1h0M213.5 346.1h0M214.6 270.9h0M213.3 281.4h0M250 326.9h0M226.4 311.6h0M218.1 527.6h0M302.9 305.3h0M166.8 179.6h0M216.3 377.1h0M141 297.9h0M243.9 476.7h0M243.5 355.9h0M298.8 341.5h0M274.3 311.9h0M218.8 218.4h0M174.4 243.5h0M113 256h0M278.8 371.2h0M287 372h0M216.8 335.5h0M106 239.1h0M235.1 325.5h0M189.2 243.8h0M313.5 298.5h0M121.4 320.7h0M203.1 311.4h0M289.7 424.5h0M162.5 274.5h0M184.4 447.4h0M205.5 340.5h0M191.3 395.4h0M289.7 253.5h0M201.7 407.4h0M243.3 411.8h0M248.4 326.8h0M153.7 362.1h0M229.2 327.9h0M248.9 336.7h0M186.7 298.2h0M235.6 243.7h0M251.7 311.2h0M243.4 267.7h0M317.4 340.2h0M141 286.4h0M193.6 311.6h0M125 264.7h0M157.3 215.1h0M121.3 351.5h0M136.6 377.8h0M83.4 289.2h0M108 261.1h0M249.8 339.1h0M99.2 279.9h0M266.5 304.9h0M133.4 260.3h0M206.4 338.8h0M192.7 370.3h0M163.5 483.3h0M233.3 403.9h0M215.3 289.1h0M127.5 403.3h0M227.6 320.9h0M212 392.3h0M251.9 303.7h0M191.4 455.4h0M199.3 406h0M283 290.9h0M228.3 307.8h0M238.2 247.6h0M297 289.2h0M216.5 212h0M277 272.8h0M234.8 322.7h0M208.4 308.9h0M300.1 306.9h0M232.3 336.2h0M104.1 335.8h0M243.4 315.7h0M285.3 189.6h0M232.3 249.4h0M150.4 366.9h0M151.3 369.5h0M212.8 267.5h0M145.6 289.9h0M235 324.3h0M235.8 367.6h0M280.3 339.9h0M99.4 268.5h0M323.6 403.9h0M193.4 305.6h0M216.8 254.9h0M195.5 300.6h0M155 403.3h0M269 410.4h0M162.5 298.6h0M275.5 367.3h0M144.9 177.6h0M283.2 125.5h0M171.6 279.7h0M226.9 317.8h0M281.9 203.1h0M210.2 277.3h0M272.1 164.6h0M233.8 319.1h0M230.3 292.9h0M326 341.2h0M277.6 296h0M217.3 283.2h0M259.4 323.6h0M192.4 273.9h0M228.5 367.4h0M260.7 299.4h0M244.1 307.2h0M232.3 321.4h0M213.3 353.8h0M285.6 264.4h0M192.5 254.6h0M140.1 331.1h0M278 324.4h0M231.9 309.9h0M139.8 286.5h0M207.7 329.7h0M83.9 356.4h0M82.2 528.7h0M268.9 223.2h0M163.9 290.6h0M156.5 233.4h0M207.2 265.2h0M259.7 269.7h0M191 319.9h0M280.5 250.6h0M238.8 309.1h0M211 326.8h0M206.9 397.4h0M246.5 318.2h0M306.3 402.8h0M179.5 227.2h0M253 529.1h0M253.3 341.3h0M256 297.1h0M166.8 337.9h0M180.8 339.9h0M284.8 288.7h0M130.8 321.7h0M264.6 301.4h0M227.2 157.7h0M235.4 236.7h0M189 311.6h0M255.5 241.2h0M213.9 289.9h0M140.1 275.6h0M273.4 326.9h0M211.1 273.9h0M181.5 369.2h0M207.5 320h0M139.5 262h0M206.8 372.8h0M225.9 395.1h0M308.3 321.6h0M178.5 224.8h0M240.5 336.7h0M267.9 328.9h0M214.9 278.7h0M117.9 307.1h0M227.2 380.9h0M233.9 323h0M211 369.2h0M153.2 289.8h0M178.4 182.9h0M165.3 374h0M210.5 281.7h0M219 248.4h0M183.4 380.9h0M263.7 299.1h0M224.9 210.5h0M231 295.8h0M218.3 304.7h0M297.6 400.8h0M189.1 268.9h0M286.9 281.5h0M298.3 325.9h0M177.5 337.3h0M326.3 426.8h0M190.1 332.9h0M321.2 393.5h0M258.7 369.1h0M110.2 154.5h0M119.4 321.2h0M183.6 410.7h0M318.6 227.2h0M128.9 236.7h0M243 349.1h0M223.7 336.2h0M297.5 319.4h0M144.9 337.8h0M209.8 363.9h0M168.4 279.9h0M152.3 298.8h0M287.7 348.8h0M259.5 212h0M111.3 325.3h0M192.2 299h0M303.7 339.4h0M268 303.6h0M85.5 348.2h0M154.2 287.1h0M196.2 313.7h0M246.9 295.7h0M184.7 342.2h0M189.8 325.2h0M260.9 353.2h0M194.2 360.5h0M212.3 411.2h0M242.8 284.7h0M323.1 180.7h0M234.8 351.1h0M94.1 314.3h0M311.2 320.4h0M216.6 256h0M194.3 321.9h0M210.7 305.7h0M260.5 309.2h0M216.9 314h0M170.4 358.3h0M232.9 273.1h0M180.7 310h0M205.8 402.5h0M235.6 285.5h0M162.8 335h0M186.1 279.5h0M299.1 476.3h0M322.9 176.8h0M273.6 321.1h0M213.9 394.9h0M211.2 357h0M257.7 302.5h0M216.1 200.8h0M154.7 264.7h0M174.7 323.9h0M226.2 207.1h0M202.6 303.7h0M122.9 335.3h0M188.9 247.6h0M198.6 218h0M212.7 351.1h0M314.9 278.2h0M199.9 294.6h0M140.1 337.4h0M252.5 333h0M248.5 268.6h0M217.9 270.3h0M191 331.1h0M170.2 349.7h0M334.3 292.2h0M156.6 303.6h0M278.4 431.5h0M261.8 254.6h0M237.2 302.1h0M219.6 343h0M138.8 282.6h0M195.6 167.5h0M139.6 357.1h0M211.6 334.9h0M198.9 416.1h0M290.4 222.7h0M219.6 404.9h0M208.1 318.1h0M219.4 325.8h0M228.5 311.2h0M166.6 265.3h0M212.9 280.4h0M237.6 347.5h0M260.8 274.1h0M168.9 313.7h0M193.8 221.7h0M177.5 293h0M171.5 232.4h0M129.1 338.5h0M297.2 454.5h0M254.6 299.7h0M166.5 283.9h0M180.1 336.1h0M261.9 371.5h0M259.9 316.7h0M184.8 357.1h0M200.6 276.3h0M268.2 376.2h0M173.7 333.3h0M198.4 289.6h0M266.9 361.6h0M145.5 204.1h0M228.6 367h0M226 291.9h0M164.3 308.8h0M206.9 268.7h0M203 311.6h0M247.2 296.1h0M124.5 368.3h0M181.7 165.6h0M210.9 347.6h0M199.7 316.3h0M138.7 520.2h0M283.1 306.8h0M260.3 299.4h0M222.7 274.3h0M278.3 246.2h0M214.1 365.5h0M232.4 263.3h0M171.8 336.6h0M149.6 275h0M254 312.7h0M179.6 327.2h0M290.3 223.2h0M275 331.6h0M308.6 214.8h0M223 354.8h0M272.2 335.9h0M288.3 368.5h0M233 305.5h0M179.4 246.5h0M254 355.8h0M321 361.6h0M326.5 288.7h0M313.7 290h0M223.4 424.1h0M254.6 289.8h0M277.5 341.7h0M198.4 263.3h0M260.6 299.2h0M201.8 248.2h0M136.3 288h0M284.4 265.9h0M312.7 285.3h0M187.7 329.6h0M216.9 287.7h0M159.9 356.7h0M262.3 340.8h0M186.7 303.3h0M220 337h0M176.7 310h0M241.3 306.9h0M227.8 318.5h0M230.8 366.6h0M182.9 191.1h0M148.2 291.8h0M225.6 260.6h0M318.1 173.5h0M212.8 99.6h0M223.5 321.3h0M210.5 216.4h0M252.7 306.7h0M260.6 358.1h0M123.7 270.5h0M264.6 275.2h0M236.2 189.7h0M232.1 293.1h0M265.2 210.5h0M328.3 324.2h0M254.1 427h0M178.5 323.2h0M267.6 433.7h0M131.1 312.5h0M175.4 395.1h0M251.3 296.7h0M217.5 358h0M165.1 213.6h0M207.3 304.6h0M214.1 352.6h0M246.5 479.8h0M280.7 265.5h0M258.7 252.2h0M243.1 338.7h0M249 185.9h0M166.3 231.8h0M326 402.7h0M197.9 325h0M149.7 323.7h0M247.1 418.6h0M223.9 281.8h0M210.7 282.3h0M100.7 326.6h0M285.9 336.9h0M189.2 297.3h0M241.5 320.1h0M237.4 299.2h0M246.3 369.6h0M236.6 293h0M141.2 298.2h0M299.7 331.7h0M280.5 131.2h0M288.7 271.6h0M264.9 320h0M239.9 286.7h0M107.5 326.4h0M286.5 256.8h0M282.2 347.4h0M252.9 357.3h0M186 224.3h0M201.7 341.9h0M208.9 326.6h0M188.4 264.9h0M259.2 183.5h0M216.3 305.1h0M216.2 354.6h0M280.8 314.4h0M190 296.9h0M178.5 344.8h0M231.6 299.9h0M240.8 154.3h0M292.8 273.2h0M216 292.1h0M287.1 440.2h0M102.3 353.2h0M251 329.7h0M191.9 297h0M168.5 315.1h0M205.9 358.4h0M204.8 354.3h0M254.2 315.7h0M141 206.3h0M99.1 287h0M193.3 334.6h0M270.2 290.9h0M207.5 342.6h0M178.8 201h0M317.1 414.3h0M202.5 313.4h0M170.6 388.2h0M90.1 74.5h0M209.3 265.8h0M170.7 409.3h0M214.6 356.9h0M280.7 327.1h0M218.7 125.9h0M257.5 318.5h0M192.4 422h0M113.1 257h0M282.7 337.1h0M249.3 381.4h0M131.3 409.8h0M241.7 336.1h0M233.2 258.1h0M180.3 366.3h0M299 337.4h0M264.6 319.6h0M212 215.7h0M299 301.7h0M274.3 328.6h0M299.8 361.5h0M219.6 232.1h0M226.8 142h0M176.3 309.2h0M274.2 333.1h0M274.1 374.7h0M257.2 401.6h0M124.8 226.9h0M189 332.3h0M244.7 358.4h0M222.3 321.1h0M261.5 278.3h0M112.3 355.3h0M181.7 312.7h0M162.7 403.1h0M261.3 339.1h0M248.4 375.6h0M190.7 245.3h0M319.2 293.2h0M190 345.2h0M319.1 384.9h0M314 283.2h0M248 329.5h0M250.8 401.6h0M326 194.5h0M118.1 453h0M191.6 428.5h0M253.5 355.5h0M205.3 353.6h0M181.9 237.2h0M107.1 317.9h0M137.3 319.1h0M216.7 432.8h0M187.9 441h0M167.1 320.5h0M105.8 396.5h0M196 468.4h0M195.7 300.7h0M190.2 335.4h0M226 317.1h0M237.8 351.1h0M203.1 347.9h0M303.6 339h0M209.5 314.6h0M201.3 277.1h0M224.3 357.1h0M277.1 305.2h0M255.1 257.9h0M234.8 334.3h0M147 430h0M318.5 365.5h0M144.2 261.7h0M312.7 349.4h0M110.7 479.2h0M254 301.6h0M226.6 250.1h0M157.9 186.2h0M306.9 353.7h0M205.8 215h0M129.5 247.9h0M190.2 403.8h0M199.3 289.3h0M204.1 303.3h0M238.7 316.7h0M105.1 261.5h0M141 386.2h0M209.7 184.6h0M306.8 321.2h0M191.6 267.7h0M170.2 219.6h0M112.6 293h0M206.7 281.7h0M179.2 330.5h0M252 416.6h0M227.9 366.1h0M243.2 211.7h0M263.8 411h0M224.1 154.2h0M241.7 270.1h0M305.8 291.2h0M216.8 240.6h0M264 290.8h0M254.9 240.6h0M231.4 328.5h0M330.1 257h0M247.5 229.3h0M271.7 318.4h0M238.6 356.9h0M257.5 420.7h0M218.4 361.1h0M297.6 357.8h0M288.3 252.9h0M163.4 318.3h0M174.5 336.1h0M97.9 411.5h0M227.6 268.1h0M275.9 296.2h0M282.9 320.5h0M285.6 179.9h0M172.8 290.2h0M125.4 380.5h0M162 348.6h0M263 181.9h0M194.5 295h0M219.5 302h0M278.9 238.7h0M208.8 275.3h0M248.5 351.1h0M93.6 287.1h0M258.3 450.8h0M297.7 364.4h0M259.6 189.5h0M230 238.8h0M245.1 378.2h0M277.6 165.8h0M214.5 327h0M113.1 397.7h0M144.3 196.4h0M149.9 539.3h0M196.5 297.2h0M309 420.4h0M145.6 347.6h0M248.7 361.4h0M213.5 211.5h0M227.2 285.2h0M232.7 311.5h0M272.7 313.5h0M137.4 372.5h0M125.5 398.6h0M221.8 307.2h0M221.9 274.9h0M175.1 319.3h0M227.8 221.9h0M227.2 335.4h0M213.2 277.6h0M177 341.9h0M282.9 448.8h0M253.4 329.2h0M113.7 381h0M97.4 208.5h0M262.5 296h0M148.1 206.9h0M244.3 243.3h0M255.7 307.1h0M215.3 117.6h0M178.1 290.4h0M282.7 376.9h0M299.7 272.9h0M247.7 403.3h0M183.4 389.8h0M214.4 328.7h0M221.5 280.5h0M205.6 287.9h0M231.5 263.6h0M248.2 305.3h0M253.6 377h0M145.7 274.8h0M280.4 313.9h0M333.6 289.8h0M266.6 361.6h0M188.7 330.6h0M221.5 314.3h0M333.4 339.5h0M194.6 265.9h0M256.1 301.6h0M181.7 295.8h0M215.6 408.4h0M219.2 368.3h0M213.2 298.3h0M214.5 273.1h0M203.9 342.4h0M226.7 287.3h0M74.6 289.1h0M250.8 282.8h0M98.9 318.9h0M208.1 340.5h0M187.1 284.8h0M203.1 280.2h0M143.9 200.8h0M220.8 328.5h0M192.8 346.9h0M208.9 246.9h0M253 178h0M328.2 241.3h0M254 405.2h0M275.8 325.4h0M182.5 319.4h0M147.8 303h0M169.3 309.6h0M210 370.1h0M220.5 289.3h0M262.8 300h0M110.9 344.5h0M175.9 423.2h0M227.6 289h0M182 217.1h0M209.1 358.1h0M302.7 284.8h0M240.1 341.8h0M196.5 348.1h0M249.5 266.2h0M196.4 357h0M275.1 304.1h0M217.4 349.9h0M200.3 221.5h0M225.7 209.4h0M114 334h0M184 341.9h0M259.8 357.2h0M193.7 323h0M236.5 307.8h0M209.7 276.4h0M146.5 291.3h0M226.8 452.3h0M219.6 351.7h0M260.4 320.2h0M230.5 389.3h0M282.9 265.5h0M198.6 322.8h0M188.8 343.6h0M248.6 399.9h0M321.7 261.1h0M215.4 380.3h0M248 173.8h0M271.2 216.5h0M308.5 263h0M184 290.8h0M257.2 237.9h0M179.3 441.4h0M299.1 392.6h0M197.4 239.1h0M269.6 356.7h0M263.1 418.9h0M256.2 400.6h0M217.9 306.2h0M144 262.4h0M237.4 325.3h0M265.1 165.5h0M149.4 378.8h0M171.6 372.9h0M138.9 365h0M265.9 213.7h0M284 371.9h0M229.1 286.6h0M92 302.5h0M249.3 249.2h0M224.3 280.5h0M229.9 278.6h0M147.3 381.2h0M242.8 266.9h0M271.5 269.3h0M234.1 286.6h0M202.4 358.3h0M184.8 453.3h0M225.7 281.4h0M276.5 327.6h0M244.1 332.9h0M213 360.7h0M260.6 354.8h0M312.2 325.4h0M255.2 367.2h0M280 281.3h0M175.4 327.1h0M239.1 141.6h0M221.2 313.1h0M178.1 337.7h0M234.4 341.6h0M174.3 281h0M157 368.2h0M331.7 332.6h0M119.8 281.6h0M210.9 246h0M233.9 317.7h0M223 285h0M271.2 419.1h0M242.4 333.8h0M236.8 347.3h0M221.7 273h0M242.8 406.6h0M193.7 336.5h0M301.1 302.3h0M132.1 304.9h0M129.9 282.5h0M204.5 327.9h0M155.7 393.1h0M193.2 350.2h0M155.2 372.3h0M271.8 353.4h0M252.9 425.2h0M222.5 284.3h0M129.6 359.5h0M172.1 280.7h0M244.9 230.1h0M224.8 304h0M225.3 348.6h0M264.8 363.5h0M260.9 301.4h0M140.4 366.2h0M269.3 377.8h0M143.9 319.6h0M227.3 271.4h0M114.8 388.5h0M329.8 269.1h0M180.4 288.1h0M149.4 372.6h0M324.9 283.2h0M196.7 307.3h0M212.8 295h0M226.8 209.7h0M179.5 342.2h0M191.5 266.2h0M175.4 391.4h0M205 309.6h0M230.9 262.6h0M238.2 358.5h0M167.6 285.7h0M101.6 340.2h0M225.9 358.5h0M162.5 114h0M273.4 197.3h0M155.5 336.4h0M310.4 329.8h0M268.7 438.7h0M224.2 431h0M208 352.2h0M86.5 290.7h0M313.9 131h0M201.5 400.5h0M201.8 326.9h0M202.8 299.5h0M243 282.8h0M230 382h0M202.3 417.5h0M227.3 348.1h0M265.5 244.3h0M327 306h0M219.3 370.8h0M194.8 338h0M209.8 352.3h0M298.9 340.8h0M252.5 246.5h0M321.8 302.9h0M243.8 358.6h0M224 266.9h0M119.4 338.6h0M239.5 364.7h0M212 304.4h0M246 285.2h0M209.6 419h0M241.9 324.9h0M109.9 357.1h0M157.6 246h0M258.3 315.6h0M200.4 297.1h0M204.4 291h0M218 227.2h0M257.1 424.7h0M280.1 221.4h0M241.7 328.7h0M255.5 255.4h0M186.5 236.2h0M207 355h0M249.9 226.1h0M252.5 290.6h0M186.9 398.1h0M228.8 200.2h0M283.6 372.2h0M193 359.3h0M273.2 317.5h0M217.2 263.6h0M254.5 248.5h0M225.4 272.8h0M189.5 306.2h0M253.5 336.6h0M310.1 345h0M283.8 276.8h0M110.6 366.8h0M249.3 337.3h0M221.1 357.7h0M213.3 292.2h0M264.9 346.8h0M273.6 300.8h0M222.6 244.4h0M209.2 311.8h0M168.3 314.8h0M177.1 423.2h0M213.2 405h0M140.3 269.4h0M187.4 338.4h0M259.3 348.3h0M297.8 253h0M203.8 312.6h0M216.7 331.3h0M125.6 405.1h0M275.2 177.9h0M192.8 301.5h0M170.4 269.8h0M187.6 258.6h0M334.8 214.3h0M226.6 370.5h0M250.5 129.1h0M311 351.2h0M244.6 310.7h0M219.2 269.7h0M226 431.5h0M200 193.7h0M211.5 344.6h0M161.4 263.5h0M177.6 375.8h0M276.5 305.4h0M74.3 548.9h0M228.8 358.5h0M191.5 368.3h0M209.3 304.8h0M158.5 308.5h0M314.3 300.2h0M327.6 237.6h0M320.6 403.3h0M290.3 354.5h0M281.4 188.5h0M154.6 282.1h0M81 257.1h0M268.2 283.4h0M222.2 290.4h0M265.2 160.2h0M135.1 311.8h0M200 271.8h0M256.3 358.1h0M228.4 283.5h0M143.9 341.1h0M179.4 351.2h0M168 218.1h0M250.4 295.7h0M237.6 279.4h0M241 305.1h0M116.9 212.8h0M236.4 315.3h0M200.4 297.3h0M86.4 233.9h0M177.9 227.5h0M275.2 333.9h0M277.3 388.7h0M310.6 325.2h0M109.2 318.6h0M292.2 324.8h0M110.8 344.5h0M193.7 288.4h0M160.3 402.1h0M122.4 372.6h0M197.6 339.4h0M325.5 393.8h0M193.9 262.5h0M103.5 197h0M246 233.3h0M276.1 169.8h0M187.3 290.3h0M197.8 321.7h0M96.8 256.1h0M307.6 350.8h0M239.4 314.3h0M198.2 152.3h0M285.2 373.2h0M254.1 262.9h0M262.8 368.9h0M184.5 284.7h0M111.8 340.9h0M220.9 317.1h0M264.5 319.1h0M196.1 412h0M174.4 363.5h0M277.2 344.1h0M248.2 333.1h0M144.8 388.2h0M274.3 340.6h0M210.6 295.3h0M305.4 358h0M234.9 270h0M196.4 290.4h0M188.2 336.6h0M232.5 326.9h0M208.9 275.8h0M281.2 221.1h0M217.3 184.8h0M247.7 347h0M201.5 362.1h0M226.9 371.4h0M192.4 243.6h0M250.7 381.2h0M271.3 286.6h0M241.1 323.5h0M209.9 317.3h0M172.2 364.8h0M253.5 307.7h0M209 276.1h0M199 327.2h0M105 411.3h0M174.7 230.5h0M292.1 267.4h0M94.2 344.4h0M153.7 258.4h0M280.6 374h0M242.1 315.8h0M321 379.6h0M171.7 394.2h0M141.9 187.3h0M256.3 342.5h0M227.6 276.1h0M222.7 281.4h0M231.1 272.8h0M138.3 254.9h0M230.3 413.6h0M261.5 325.5h0M303.8 182h0M301.7 433.6h0M184.7 349.5h0M194.8 390.3h0M243.7 377h0M238.5 278h0M139.2 329.3h0M214.9 295.2h0M161.6 309.3h0M231.7 220h0M213.6 267.3h0M216 226.1h0M219.4 256.1h0M321.6 256.8h0M261.9 285.1h0M133.8 326h0M207.4 309.6h0M233.9 222.8h0M208.6 264.6h0M244.6 307.3h0M311.8 402.7h0M277.8 366.6h0M217.5 306h0M119 407.1h0M248.2 265.4h0M259.7 155.2h0M255.2 319.7h0M223.4 169.7h0M260 436.5h0M203 309h0M245.2 260.6h0M326.1 377.4h0M327.8 279.7h0M315.3 397h0M208.4 341.9h0M94.3 462.5h0M206.6 265.4h0M281.9 281h0M277.7 298.4h0M151.2 345.1h0M237.6 297h0M292.4 403.7h0M247.8 243.9h0M195.7 351.8h0M162.6 351.2h0M183.5 314h0M270.1 294.2h0M231.4 324.8h0M245.9 275.7h0M290.3 335.2h0M306.4 294.8h0M282.6 270.4h0M199.7 294.8h0M199 328.2h0M209.5 407.8h0M210.9 392.6h0M178.5 166.5h0M113.1 327.8h0M186.3 286.4h0M252.1 201.5h0M258.6 317.8h0M184.7 193.1h0M155 394.6h0M244.7 301.7h0M275 394.6h0M189.8 321.4h0M274.7 304.5h0M203.7 328.8h0M250.2 271.2h0M199.5 399.5h0M262.1 334.8h0M240.2 262.7h0M268.5 234.1h0M279.8 259.5h0M221.5 386.9h0M166.5 329.5h0M244.2 300h0M120.3 363.5h0M331.2 298.5h0M248.8 225.4h0M242.3 287.2h0M250.1 320.6h0M238.6 287h0M316.5 284.3h0M194.3 303.9h0M210.4 271.7h0M160.4 296h0M193.3 386h0M234 379.1h0M115.7 278.6h0M199.8 429.5h0M206.2 297h0M299.5 369.5h0M89.4 328.9h0M224.7 420.2h0M296.6 289.1h0M289 319.5h0M275.4 317.6h0M261.9 396.6h0M165.2 304.5h0M132.6 310.9h0M162 145.5h0M91.9 332.3h0M168.2 312.7h0M183.7 343.9h0M153.6 286.5h0M221.2 351.1h0M229.9 308.8h0M219.6 257.9h0M203.7 329.2h0M223.5 326.3h0M168.3 292.2h0M258.8 198.5h0M272.9 340.9h0M182 310.3h0M166.9 345.4h0M208.9 351.1h0M148.4 342.6h0M268.3 290.1h0M131.1 361.7h0M241.8 268.7h0M269.2 345.1h0M193.9 248.1h0M197 271.8h0M159 325.4h0M254.5 325.3h0M250.7 255.2h0M214.7 341.3h0M187.8 280.4h0M211.8 331.6h0M247.4 246.9h0M240.2 339.7h0M234.4 224h0M192 347.9h0M190.6 317.8h0M227.6 234.2h0M211 264.7h0M286.8 411.1h0M100.1 425.6h0M153.4 224.3h0M205 287.7h0M219.3 208.1h0M218.4 278.8h0M190.2 292.4h0M135.5 325.7h0M270.9 310.6h0M217.5 300.6h0M163.5 394.5h0M316.2 313.8h0M260.3 522.9h0M291.8 307h0M239.5 282h0M314.6 361h0M236.9 277.8h0M258 254.9h0M236.5 326.2h0M253.6 327.1h0M267.9 342.1h0M310.3 268.5h0M198.5 484.3h0M238.4 334.1h0M164.5 328.4h0M241.5 294.2h0M260.5 321h0M269.7 263.6h0M280 384.1h0M172.6 298.6h0M284.9 343.9h0M192.3 296.3h0M246.3 327h0M233.4 283.9h0M144.4 403.7h0M231.8 270.3h0M236.8 335h0M203.8 314.3h0M203.7 308.8h0M217.2 428.6h0M242.3 217.2h0M191.5 326.7h0M97.8 313.4h0M224.8 288.8h0M234.8 314.1h0M243.4 349.7h0M195.4 312.4h0M159 366.9h0M148.7 271.2h0M219.5 291.6h0M322 163.4h0M305.5 364.2h0M253.6 314.3h0M134.7 428.9h0M243.3 325.5h0M275.7 191.4h0M214.7 329.2h0M222.8 393.1h0M277.6 259.5h0M285.1 315.7h0M199 263h0M114.4 447h0M237.7 271h0M312.4 341.5h0M234.3 331.1h0M241.3 353.1h0M180.6 380.2h0M113 368.1h0M300.2 291.3h0M269.8 472.4h0M202.2 337.9h0M199.2 321.6h0M141 273.7h0M223.3 352.6h0M211.6 338.4h0M167 301.8h0M195.4 331.6h0M156.3 231.6h0M290.7 342.8h0M269 255.1h0M247.2 314.9h0M192.3 261.3h0M160 424.2h0M242 312.7h0M234.5 343.7h0M192.5 318.1h0M283.5 335.8h0M140.7 211.7h0M234.1 250.6h0M230 295.6h0M316.5 354.6h0M147 338h0M257.8 223.1h0M228.2 263.7h0M205.3 272.9h0M203.6 306.7h0M269.7 175.3h0M275.4 409.7h0M225.3 406.2h0M242.4 276.4h0M199.7 288.5h0M175.2 253.9h0M213.5 301.6h0M145.9 405h0M283 318.8h0M323.4 128.8h0M286.2 254.1h0M219.7 234.5h0M228.2 303.8h0M175.4 355.1h0M149 331.4h0M166.8 335.9h0M244.1 303.8h0M301.5 198.6h0M176.9 290.4h0M298.2 436.2h0M264.4 315.4h0M247.9 350.1h0M257.1 287.3h0M233.7 261h0M222.6 339.2h0M216.1 405.3h0M202.7 323.1h0M225.2 349.8h0M211 309h0M278.6 347.4h0M282 307.9h0M162.4 326.1h0M278.4 269.9h0M197.2 217.7h0M258.4 302.8h0M203 267.4h0M161.5 203.3h0M211.5 352.3h0M274.7 308.7h0M242.6 322h0M152.1 370.5h0M231.8 236.6h0M315.4 264.2h0M316.7 251.2h0M198.8 300h0M244.2 384.7h0M225.3 238.4h0M202.8 327.2h0M287.7 348.3h0M262 337.8h0M185.7 295h0M283.8 260.2h0M291.6 243.8h0M212.4 364.4h0M220.6 425.1h0M225.2 323.5h0M214.8 389.3h0M241.6 323.3h0M192.9 497.8h0M248.7 287.7h0M158.3 330.3h0M163.5 318.3h0M228.2 276.7h0M272 321.6h0M256.6 271.4h0M142.8 354.8h0M94.3 340.4h0M217.6 348.4h0M189.8 401.4h0M251.8 364.4h0M265.5 381.3h0M306.2 386.5h0M177.5 302.6h0M271.7 419h0M286.4 307h0M221.1 308h0M267 303.6h0M299.1 379.6h0M149.3 292.4h0M266.6 463.4h0M286.6 352.5h0M131.4 398.5h0M230.4 306.8h0M252.9 273.2h0M252.2 251.6h0M164.9 360.8h0M239.5 284.7h0M181.3 252.4h0M238.3 349.5h0M244.4 309.7h0M277.9 390.9h0M204.1 388.4h0M217.5 227h0M275.6 268.9h0M196.6 267.2h0M186.5 374.2h0M207.7 303.8h0M176.2 367h0M203.2 313.7h0M183.8 201.6h0M147.7 371.4h0M178.3 319.7h0M154.9 342.3h0M243.7 313.3h0M209.6 287.9h0M277.1 261.9h0M168.1 255.6h0M179.4 386.2h0M206 300h0M217.9 292.3h0M126.7 509.6h0M224.7 344.4h0M284.7 350.8h0M134.6 232.2h0M177.3 394.2h0M206.8 309h0M202.7 262.7h0M254.4 189.6h0M155.1 150.5h0M159.5 365.1h0M201.5 379.6h0M177.4 339.4h0M224.6 261h0M236.7 275.4h0M152.1 260.9h0M329 294.5h0M210.6 286.8h0M83.8 357.6h0M217.4 249.9h0M136.9 298.7h0M221.1 356.8h0M154.5 368.9h0M106.4 314.9h0M150.7 498.2h0M267.1 309h0M257.1 110.9h0M257.8 337h0M180.6 239.9h0M319.4 375.5h0M219.7 240.3h0M227 294.2h0M132.7 302.5h0M261.4 301.2h0M318.4 367.9h0M280.2 297.4h0M209.4 334.5h0M184.3 326.3h0M114.3 163.4h0M299.9 241.6h0M223.5 268.5h0M176.3 411.5h0M156.8 277.1h0M234.7 101.8h0M261.3 331h0M94.3 241h0M169.1 313.3h0M186.7 316.3h0M236.3 277h0M243.6 355.4h0M231 271.9h0M236.9 352.1h0M241.3 283.6h0M290.4 285.2h0M153.3 136.9h0M176.5 336.8h0M266.1 372.2h0M240.8 308.3h0M261.6 193.3h0M183.9 312.8h0M141.3 319h0M151.1 268.3h0M109.6 380.7h0M223.3 252.8h0M165 193h0M78.9 329.2h0M222.9 407.2h0M289.7 258.5h0M223.5 343.8h0M249 289.1h0M254.4 324.3h0M164.2 300.1h0M220.7 154.5h0M238.8 273.3h0M203.7 374.6h0M153 311h0M144.7 180.5h0M164.8 306.4h0M274.7 273.8h0M214 288.4h0M322.7 268.3h0M88.7 274.8h0M225.1 147.8h0M257.5 250.1h0M295.5 499.6h0M216.1 283.4h0M164.9 373.5h0M255.3 390.4h0M144.8 432.3h0M145.4 353.3h0M205 355.6h0M233.7 262.5h0M267.4 253.2h0M244 537.4h0M228.9 364.7h0M176.2 469.9h0M288.1 394.6h0M176.6 316.7h0M163.6 304.3h0M212.6 337.4h0M249.9 315.7h0M95.4 326.1h0M256.8 360.9h0M194.1 286.3h0M215.9 177.6h0M188.1 298.3h0M319.2 339.8h0M169.3 313.8h0M224.9 362.7h0M246.9 237.4h0M182.1 273.1h0M257.8 309.3h0M272 312.2h0M191 216.7h0M245.1 166.3h0M253.9 323h0M298.9 326.7h0M216.7 285h0M261.9 330.1h0M198.4 289.9h0M318.2 305h0M247.6 357.5h0M187.2 326.3h0M225 329.3h0M296.1 299.5h0M153.5 317.6h0M117.5 311.8h0M242.8 194.6h0M239.2 276.7h0M101.5 261.7h0M193.6 313h0M198.8 382.8h0M210.5 323h0M290.8 278.5h0M286.8 403.8h0M237.6 363.5h0M331.2 318.7h0M227.5 351.2h0M221 308.9h0M215.3 210.3h0M207.5 272.9h0M227 407.4h0M112.5 410.6h0M283.7 285.9h0M206.8 308.2h0M233.2 261.5h0M161.3 185.2h0M249.4 427.7h0M322.1 332.1h0M88.3 236.7h0M331 339.8h0M181.5 254.1h0M265 350.1h0M281.9 341h0M281.7 313h0M254.2 298.8h0M90 288.8h0M317.1 211.5h0M321.9 411.3h0M271.3 324.6h0M200.8 334.4h0M156 291.5h0M178.6 350h0M216 194h0M254.3 352.3h0M290.3 171.7h0M269.7 277.2h0M238.7 339.1h0M211.1 332.1h0M218.7 330.6h0M201.5 256.5h0M160.3 398h0M110.7 418.2h0M252.4 326.4h0M310.5 207.8h0M215.7 479.9h0M222.5 312.2h0M322.8 255.7h0M174.3 285.5h0M248.4 334.8h0M94.6 295h0M166.8 225.3h0M208.6 250.9h0M227.3 341.1h0M269.6 398.6h0M198.4 325.8h0M233.5 396.4h0M240.4 305.6h0M216 388.1h0M226.9 390.4h0M185.4 323.3h0M291.6 313.5h0M250.4 358h0M208.3 205.3h0M288.3 404.8h0M229.9 139.4h0M292.5 313.6h0M92 321.7h0M128.7 322.5h0M286.4 393.7h0M267.3 331.4h0M236.6 217.4h0M290.1 388h0M254.4 275.6h0M249.3 329.5h0M130.3 430.3h0M99.9 293.2h0M179.4 395.9h0M119.4 326.3h0M141.5 351h0M172.5 329.4h0M238 386.1h0M205.3 257.3h0M310.2 277.1h0M282.4 355.6h0M256.3 304.4h0M74.4 313.8h0M235.4 276.9h0M183 327.4h0M183 314.8h0M148.3 221.8h0M224.8 375.7h0M165 424.5h0M305.3 358.6h0M199.1 403.5h0M219.8 399.5h0M202.2 351.1h0M255.6 352.1h0M174.9 303.7h0M223.4 220.8h0M247.8 312.5h0M208.1 313.4h0M234.1 186.3h0M170 309.8h0M261.7 310.7h0M218.4 280h0M147.5 293.3h0M180.4 283.8h0M159.2 373.6h0M185.9 316.2h0M297.4 333.8h0M231.8 277.8h0M211.7 411.4h0M196.4 312.4h0M254.2 216.4h0M240.6 442.2h0M299.7 314.8h0M260.5 319.4h0M218.1 150.3h0M176 425.8h0M265.7 272h0M272.8 333.4h0M293.8 317.5h0M234.6 329.3h0M201.8 324.6h0M177.3 359.2h0M227.1 410.5h0M252.8 265.4h0M217.6 289.9h0M189.9 189.4h0M311.1 194h0M144.4 313.5h0M225.4 331.1h0M242.5 298.4h0M252.5 329.6h0M233.1 228.2h0M159.7 230.7h0M203.7 283.8h0M209.9 325.1h0M103.3 409.7h0M224.2 328.9h0M191.6 452.9h0M218.1 317h0M325.5 238.9h0M194.5 335.5h0M226.5 260.6h0M213.2 252.4h0M153.2 331.4h0M135.8 353.3h0M272.4 321.6h0M131.9 318.8h0M314.8 103.9h0M177.9 204.9h0M190.3 211.7h0M222.9 318.7h0M248.4 309.3h0M214.6 342.8h0M231.7 339.2h0M265.2 184h0M310.9 319.3h0M245.8 288.7h0M196.5 347.1h0M187.8 277.4h0M294.2 237.1h0M317.4 408.6h0M213.3 281.4h0M221.9 246.4h0M233.5 134.7h0M181.1 416.4h0M252.4 169h0M236.3 386.4h0M324.8 250.8h0M124.2 285.4h0M210.9 245h0M231.6 293.7h0M192.1 324.8h0M187.2 355.4h0M211.1 290.3h0M283.7 278.2h0M271.7 242.7h0M257.3 305.7h0M277.4 324.3h0M176.5 295.1h0M233 258.6h0M250.6 354.9h0M210.5 332h0M168.6 466.5h0M330 284.4h0M181.5 316.8h0M318.9 198.8h0M239.9 323.1h0M292.3 277.6h0M197.6 328.8h0M139.9 449.5h0M200.2 91.5h0M189.6 302.1h0M302.3 333.7h0M288 299h0M215.4 190.4h0M221.9 301.6h0M300.9 283.6h0M178.2 408.2h0M308.9 353.2h0M201.5 322h0M274 295.8h0M172.7 233.6h0M285.8 136.4h0M280.1 220.7h0M240.9 443.2h0M229.1 307h0M278.4 310.2h0M195.3 333.4h0M194.8 264.2h0M199.3 287.5h0M141.2 379.8h0M203.1 279.7h0M234.4 244.5h0M224.3 206.5h0M175.2 210h0M305.4 368.3h0M248.7 463.2h0M188.3 211h0M211.3 343.3h0M176.2 284.9h0M289.6 302.8h0M230.1 311.9h0M221.5 280.4h0M206 276.9h0M185.4 303h0M289.1 209.6h0M316.6 300.5h0M229.4 188.7h0M145.8 413.5h0M317.6 295.3h0M281.6 201.9h0M216 316.7h0M236.3 312.8h0M312 172.9h0M225.6 340.4h0M208.8 322.9h0M219.5 293.9h0M223.5 300.4h0M287.4 447.7h0M198.7 265.8h0M245.9 311.8h0M271.9 308.6h0M123.9 343.7h0M216 328.1h0M201.7 295.1h0M237.8 288.1h0M216.7 308.1h0M115.8 261.1h0M195 239.7h0M146.4 140.7h0M199 234.7h0M311.3 298.5h0M228 311.5h0M134.9 172.6h0M113.8 329.3h0M207.2 278.5h0M202 314.8h0M207.7 363.8h0M159.4 294.8h0M191.8 382.6h0M283.7 177.3h0M199.7 312.2h0M228 333.1h0M269 316.5h0M250.4 261.5h0M242.8 341.6h0M258 313.3h0M193.8 243.5h0M235.5 258.7h0M179.9 322.3h0M118.8 332.1h0M161.6 385h0M287.4 342.5h0M178.2 301.6h0M234.6 268.6h0M145.2 215.3h0M166.1 351.3h0M264 341.2h0M214.6 361.1h0M273.4 341.8h0M109 311.4h0M104.5 221.7h0M207.1 214.5h0M195.1 307.9h0M257.5 413.8h0M241.2 320.5h0M304.8 317.1h0M311.2 353.8h0M295.8 267.6h0M134.8 226.7h0M218.6 285.1h0M158.7 270.2h0M193.6 170.4h0M203.4 431.7h0M293.8 175.4h0M221.2 324.3h0M288.4 232.3h0M187.4 327.2h0M242.1 294.5h0M228.2 265.6h0M195.4 352.5h0M163.5 254.8h0M137 311.7h0M263.5 254.9h0M282 441h0M182.8 334.8h0M195.3 322.2h0M296.8 261.8h0M186.9 352.7h0M295 282.3h0M222.6 409.5h0M206 285h0M315.4 315.9h0M278.4 325.5h0M328.3 286.1h0M316.2 284.3h0M248.3 327h0M218.2 384.2h0M272.2 258.5h0M187.7 316.2h0M83.7 490.1h0M230.8 301.3h0M133.7 343.1h0M226.2 397h0M234.1 165.4h0M133.7 400h0M181 279.7h0M282.6 275.5h0M161 339.9h0M247.1 423.8h0M192.7 368.3h0M227.3 339.8h0M280.2 327.4h0M85.9 269.5h0M270.9 273.7h0M156.3 273.9h0M201 301.7h0M301.7 314.4h0M227 392.7h0M243.7 368.6h0M220 385.9h0M256.7 205.9h0M255 386.1h0M142.3 412.3h0M129.3 189.3h0M292.8 357.6h0M197.5 306.3h0M144.7 254.1h0M186 537h0M270.7 267.3h0M169.5 195.6h0M237.3 251.9h0M219 332.9h0M105.1 390.6h0M213.8 351.6h0M226.4 357h0M185.2 138.5h0M221.8 289.8h0M169.8 239.1h0M194.2 247.1h0M251.5 320.6h0M306.7 242.3h0M313.4 416.8h0M246.5 208.7h0M212.3 175.3h0M293.1 207.5h0M158.3 305.3h0M196.4 358.3h0M110.7 239.7h0M133.6 510.6h0M246.3 340.6h0M233.3 110.7h0M250.3 279.1h0M194.2 242.3h0M185.9 319.3h0M93.8 272.7h0M268.6 368.1h0M214.7 335.2h0M280.2 343.5h0M131.2 331.4h0M221.9 485h0M178.7 306.1h0M259.1 289.9h0M248.7 327h0M267.7 252h0M100.4 424h0M272.2 304.9h0M261.3 372h0M122.8 237.1h0M175 392.9h0M270.3 297.3h0M230.6 320.5h0M274.1 315.8h0M308.1 424h0M272.1 312.8h0M157.4 326.7h0M188.8 259.3h0M250 358.9h0M202.6 254h0M188.2 330.3h0M184.5 328.6h0M237.2 350.2h0M160.1 144.8h0M252.9 355.6h0M317.3 272.8h0M187.4 347.4h0M260 495.9h0M249.6 326.2h0M279.3 337.7h0M239.6 337.3h0M270.5 417.5h0M305.6 301.5h0M158 415.4h0M198.1 406.2h0M242.3 370.7h0M294.4 271.8h0M167.9 245.2h0M228.7 259.1h0M239.4 330h0M244.6 369.9h0M288.3 412h0M249.3 346.2h0M149.6 381.7h0M169.9 307.4h0M192.7 333.2h0M174.9 321.3h0M251 338.5h0M219.2 339.6h0M283 307h0M152.6 376.4h0M189.3 318.6h0M300.7 267.8h0M207.5 296.7h0M277.3 345.6h0M286.8 148h0M232.9 270.8h0M184.1 391.4h0M235.6 224h0M230.2 325.7h0M211.8 331h0M278.7 345.2h0M302.3 365.8h0M291.2 206.7h0M277.8 432.6h0M244 446h0M268.3 292.9h0M266.2 281.8h0M236.8 286.2h0M156.9 362.7h0M174.8 343.1h0M160.9 337.9h0M106.3 297h0M230.5 312.2h0M234.8 210.1h0M256 293.2h0M210.8 323h0M226.4 479.2h0M280.1 227.8h0M319.1 296.1h0M283.3 271.1h0M222.7 325.3h0M261.1 401.5h0M265.1 141.1h0M129.9 458.5h0M120.8 312.7h0M225.8 353.4h0M242.4 331.3h0M319.8 365.7h0M102.9 407.3h0M206 419.4h0M270.9 361.1h0M121.9 120.1h0M191.3 369.9h0M181 411.4h0M279.8 405.1h0M190.4 305h0M235.3 280.2h0M161.7 329.9h0M229.5 426.4h0M214.5 318.9h0M205.5 174.1h0M123.6 337.3h0M193.9 462.9h0M195.8 124.3h0M232.8 397.6h0M237 415.6h0M143.3 325.5h0M118.7 337.5h0M287.5 274.1h0M263.7 426h0M248.3 273.4h0M213.3 265.6h0M265.4 295.5h0M137 413.6h0M163.8 264h0M122.7 425h0M242.1 366.6h0M197 367.3h0M143.3 437.1h0M84.5 214h0M215.5 256.4h0M231.9 294.3h0M206.6 301.3h0M207.8 371h0M268.2 337.1h0M161.3 313.9h0M224 205.3h0M102.4 317h0M253.4 380h0M233.8 428.8h0M274.4 269h0M117.5 546.2h0M82.3 199.7h0M89.2 517.5h0M208.8 269.6h0M161.5 218h0M317.8 431h0M292.5 393.7h0M148 368.6h0M236.1 204.1h0M269.4 341.7h0M262.3 269.7h0M302.8 283.5h0M77.6 227.2h0M160.8 253.3h0M202.9 292.5h0M145 411.1h0M266.1 303.9h0M266.6 376.4h0M104.1 248.6h0M235.7 309.6h0M201.7 294.7h0M199.7 326.5h0M253.1 338.9h0M187.3 416.1h0M100.1 378.4h0M320.7 356.9h0M210.1 321.8h0M182.4 313.1h0M188.3 290.4h0M182.1 515h0M186.4 380.7h0M305.5 500.7h0M181.9 306.6h0M204.3 289.3h0M161.2 267.8h0M179.8 303h0M125.5 308.4h0M225.6 313.4h0M178.1 340.3h0M274.6 262.2h0M193.2 417h0M311.3 339.8h0M241.1 491.8h0M183.7 311h0M154.1 542.1h0M297.1 255h0M141.1 255.5h0M256.7 235.8h0M330 295.1h0M228.9 322.3h0M132.5 448.7h0M118.6 332.3h0M173.4 376h0M260.6 414.6h0M124.8 264.3h0M270.1 316.7h0M221.3 303.4h0M206.6 291.3h0M277.9 334.8h0M211.6 317.1h0M148.1 228.1h0M202.2 246h0M228.2 379.2h0M228.5 253.3h0M204.5 285.1h0M324.2 286.4h0M129.9 382.2h0M251.4 199.6h0M226.7 344.9h0M248.7 322.9h0M174.6 295.7h0M237.4 292h0M218.7 270.8h0M174.4 350.5h0M184.9 256.3h0M213.3 329.2h0M188.4 338.1h0M229.4 343.5h0M139.2 352.6h0M192.6 337.1h0M213 285.7h0M168 269.2h0M109.4 235.2h0M209.6 317.8h0M287 244.2h0M202.3 302.9h0M306.7 375.6h0M243.6 332.9h0M89 485.6h0M299.4 335.9h0M234.5 284.7h0M245.6 321.8h0M266.2 279.1h0M136.9 366h0M145.7 347.3h0M265.6 318h0M312.6 397h0M256.4 298h0M182.7 288.6h0M275.3 424.8h0M192.6 391.2h0M239.6 304.4h0M102.5 435.6h0M195.8 429.6h0M146.4 303.3h0M242.1 286.8h0M222.6 270.2h0M172.3 298.9h0M185.7 347h0M288.6 287.2h0M230.6 382.4h0M299.4 302.8h0M154.1 354h0M191.2 420.2h0M205.1 299.1h0M251.6 316.6h0M85.1 335.8h0M152.5 345.9h0M166 361h0M256.4 283h0M301.7 383.3h0M285.9 418.4h0M268 181.2h0M247.1 306.7h0M82 285.6h0M116 106.6h0M236 338.9h0M181.4 310.6h0M230.1 211.1h0M282.2 355.7h0M225.2 248.2h0M293.8 350h0M330.5 333.6h0M313.7 414.8h0M233.7 318.1h0M232.6 245.3h0M299.9 325.8h0M260.7 314.6h0M244.1 372.8h0M206.7 276.9h0M182 355.8h0M209.5 298.9h0M173.5 354h0M176 303.6h0M193.3 364.6h0M213.4 395.5h0M289.1 280.4h0M271.7 327.4h0M222.1 232.4h0M125 220.9h0M231.2 121.5h0M148.9 458.4h0M229.4 301.4h0M239.8 316.3h0M205 356.9h0M260 314.9h0M218 512.9h0M315.6 289.6h0M220.6 310.5h0M297.4 357.4h0M333.6 321h0M234 387.5h0M210 359.6h0M234.4 426.8h0M219.2 423h0M262.6 296h0M274 385.5h0M248.6 340.4h0M189.1 214.4h0M216.3 277.4h0M190 289.4h0M131 382.6h0M146 326.9h0M241.6 317.1h0M208 361.4h0M205.1 298.7h0M142.8 365h0M220.9 186.5h0M289 329.9h0M264.9 283.8h0M159.7 281.2h0M318.1 254.8h0M256.1 312.5h0M196.3 261.3h0M150.1 300.5h0M131 298.5h0M331.6 519.9h0M242 333.9h0M161.8 277.6h0M303.6 251.1h0M277.2 359.7h0M149.3 305h0M232.3 119.9h0M222.2 289.7h0M188.8 272.5h0M205.3 445.6h0M238 308.2h0M226.6 400.9h0M162.3 254.9h0M162.3 455.8h0M209.5 275.3h0M201.7 282.3h0M256.2 317h0M245.1 279.9h0M302.6 277.1h0M256.6 386.9h0M164 332.6h0M212.8 177.1h0M151.6 177.8h0M230.2 348h0M196.7 336.8h0M234.5 358.8h0M214 320.6h0M222.2 293.2h0M237.4 369.7h0M286.5 392.3h0M191.2 332.6h0M292.7 333.8h0M173.9 191.1h0M222.2 229.2h0M195.5 301.9h0M333.5 270.7h0M231.7 311.5h0M213.8 306.3h0M190.6 295.7h0M198 320.5h0M222.2 392.5h0M267.4 299.9h0M301.3 375.2h0M230.2 300.3h0M243.6 290.2h0M252.8 204.5h0M223.1 369.1h0M191.1 357.7h0M175.7 334.1h0M220 368.8h0M128.3 297h0M222.2 291.8h0M296.2 312.8h0M259.1 324.1h0M247.6 234.9h0M227.4 174.2h0M184.1 488.2h0M221.2 348.4h0M159.6 477h0M182.2 369.3h0M126.6 426.9h0M237.9 338.7h0M113.2 366.8h0M108.2 260.4h0M197.3 155.7h0M266.6 274.5h0M172.4 326h0M247.7 213.3h0M170 336.9h0M273.2 329.4h0M241.3 293.1h0M153.2 212.6h0M237.6 301.2h0M186.1 342.6h0M215 310.8h0M116.4 381.2h0M232.6 362.1h0M255.3 265.5h0M218.7 184.6h0M179.6 311.1h0M212.6 251.2h0M297.4 111.8h0M248.5 364.5h0M171.7 304.5h0M165.7 320.7h0M191.2 333.6h0M165.6 244.8h0M263.2 317.6h0M269.5 311.7h0M318.2 233.1h0M237.7 270.2h0M272.4 360h0M319.2 381.7h0M261.5 353.5h0M285.9 304h0M268.4 346h0M185.2 265.4h0M114.1 292.7h0M283.7 339.2h0M334.3 369.8h0M200.1 265.4h0M254.6 343.3h0M248.4 362.6h0M299.3 355.5h0M177.4 302.1h0M235.3 344h0M193.4 205.8h0M228.3 305.8h0M224.8 276.9h0M213.9 316.2h0M247.8 260.7h0M131.1 329.2h0M189.9 367.7h0M181.5 289.5h0M194.7 323h0M228.4 316.4h0M193.4 253.3h0M257.9 331h0M215.9 260.4h0M247.2 263.8h0M238.7 313.7h0M307 348.6h0M223.6 289h0M232.5 372.6h0M255.1 355.2h0M229 292.3h0M213.6 315.6h0M209.9 232.4h0M207.7 295.8h0M97.7 279h0M269.8 339.5h0M257 287.3h0M235.6 321.9h0M302.2 257.4h0M264.7 337.7h0M241.4 284.5h0M135.9 402.7h0M232.6 390.4h0M134.1 283.1h0M287.2 392.3h0M333.4 309.8h0M208.4 252.5h0M213.8 285.2h0M275.5 295.9h0M316.1 364h0M270.6 269.3h0M230.1 333.2h0M159.5 266.3h0M213.3 412.2h0M286.4 304.6h0M192.3 319.3h0M250.9 294.4h0M224.8 332.5h0M215.7 433h0M261.3 128.5h0M214.9 354.5h0M226.7 362.6h0M273.6 346.7h0M163.2 344.4h0M219.5 251.8h0M246.6 309h0M226.6 217.9h0M212.2 272.5h0M179.7 245.1h0M216.8 343.6h0M198.9 304.4h0M295.1 332.6h0M141.1 418.1h0M274.4 322.4h0M196.8 329.7h0M258.1 375.3h0M245.3 337.6h0M283.7 320.4h0M160.9 360.1h0M287.1 304.1h0M158.6 284.2h0M156.8 204.8h0M136.4 273h0M153.9 220.6h0M199.1 293.9h0M203.5 302.9h0M234 379.3h0M185.3 323h0M289.9 334.4h0M100.3 366.5h0M273.3 423.3h0M218 375.9h0M236.5 380.7h0M153.6 322.6h0M307.6 252.4h0M202.3 267.3h0M224.3 338.3h0M152.3 357.8h0M224.8 370.3h0M121.2 239.1h0M212.8 373.2h0M230.4 306.2h0M234 307.1h0M153.5 310.2h0M191.7 270.1h0M258.5 287.5h0M180.5 306.1h0M160.1 490.3h0M268.7 265.2h0M195.4 347.5h0M210.4 344.9h0M178.6 363.6h0M280.7 309.5h0M115.3 139.8h0M241.3 253.1h0M210.4 327.4h0M212 330h0M285.9 398.8h0M230.7 257.5h0M144.4 325.4h0M182.7 383.2h0M225.6 351.2h0M302 278.5h0M225.5 202.9h0M252.7 308.4h0M142 306.7h0M197.3 343.3h0M267.9 405.2h0M130.1 316.4h0M267.2 398.4h0M163.3 182.5h0M171 303h0M232.8 348.7h0M152 199.4h0M196.4 427.1h0M241.1 280.2h0M232.1 143.2h0M175.8 322.5h0M131.1 143.2h0M274.6 273.6h0M209.6 237.1h0M204 267h0M240.1 277.4h0M222.2 274.3h0M211.7 284.2h0M116.4 408.8h0M296.2 400.4h0M122.6 323.1h0M240.7 325.3h0M260.2 321.9h0M252.3 307.8h0M266.7 316.1h0M184.1 313.9h0M311 446.5h0M243.2 227.5h0M234.3 226.1h0M246.4 320.8h0M215.1 164h0M187.2 421.1h0M197.7 353h0M134.7 395h0M243.3 373.4h0M203.7 264.9h0M220.6 448.9h0M222.6 188.4h0M248.1 409.3h0M186.2 360h0M227.1 321.5h0M254 416.1h0M210.3 261.1h0M96.7 371.4h0M154.9 274.1h0M235.7 412h0M213.4 328.6h0M139.2 339.7h0M92.3 437.9h0M195.1 230.6h0M192.4 334.2h0M200.1 253.4h0M146.2 258.1h0M226.2 275.8h0M165.9 400.3h0M262.2 260.7h0M240.2 276.3h0M253.5 330.3h0M132.1 329.3h0M203.5 355.4h0M309.2 256.2h0M277.9 331.6h0M222.7 246.6h0M250.7 307.4h0M144.6 314.1h0M191.3 421.3h0M146.3 380.2h0M278.6 490h0M200 322.3h0M80.3 295.6h0M76.1 205.3h0M251 231.9h0M105.1 190.5h0M308.4 292.8h0M288.2 357.1h0M238.3 273.8h0M218 253.2h0M144.9 364.9h0M142.7 265.1h0M282.6 279.4h0M271.8 311.4h0M162 287.2h0M225 303.2h0M132 350.1h0M211.4 306.7h0M199.4 137.7h0M223.9 261.7h0M282.8 381.6h0M162.7 299.8h0M191 349.8h0M147 354.1h0M185 303.2h0M257 311.6h0M256.2 176.5h0M218.7 285.3h0M167.5 314.4h0M245 481.3h0M133.3 270.2h0M302.8 259.7h0M264 266.9h0M222.5 262.8h0M187.2 452.3h0M256.3 329.5h0M227.2 372.3h0M160.2 303h0M208.6 293.8h0M219.4 331.5h0M198.2 351.1h0M265.5 284.3h0M312.7 326.8h0M206 249.9h0M148.3 344.7h0M161.2 307.9h0M179.7 174.1h0M192.2 324.1h0M256 302.9h0M131.2 250.4h0M282.4 285.4h0M240.5 472.9h0M246.9 301.2h0M144.6 330.7h0M154.1 335h0M210.2 333.1h0M257 330.3h0M205.9 231.2h0M204.2 356.5h0M196.6 252.2h0M248.3 362.6h0M172.1 402.5h0M249.8 326.7h0M230.8 402h0M275.7 282.1h0M155.1 407.4h0M173.8 302.5h0M269.4 333.2h0M184.9 312.6h0M141.3 353.3h0M193.4 320.6h0M247 269.6h0M178.6 314.1h0M263.2 365.8h0M220.3 218.7h0M297.3 261.6h0M243.6 280.4h0M88.5 219.4h0M185.3 404.2h0M214.8 213.4h0M231.2 227.8h0M172.8 339.4h0M289.6 234.5h0M239.9 278.2h0M321.5 397.1h0M157.8 319.7h0M265.2 262h0M250.5 365.4h0M78.3 336.5h0M132.2 127.8h0M274.2 210.7h0M200.7 245.1h0M108.1 337.4h0M199.4 245.9h0M103 171.6h0M148.8 281.6h0M307.9 393.2h0M327.2 331.8h0M310.7 365.5h0M250.6 252.6h0M211.9 510h0M219 238.2h0M162.9 413.5h0M231.1 314.7h0M299.9 271.4h0M284.3 284.2h0M277.8 379.4h0M222.3 321.8h0M183.4 310.4h0M225.7 329.5h0M317.9 213.1h0M203.2 216.8h0M179.3 256.9h0M183.4 300.3h0M175.5 312.4h0M208.4 275h0M276.1 291.1h0M208 304.4h0M251.4 172.5h0M285.9 312.2h0M167.2 268.8h0M188.6 345.2h0M250.2 200.4h0M295 348.1h0M285.4 347.5h0M213.3 261h0M190.3 315.6h0M227.1 322h0M291 338.8h0M248.2 322.4h0M228.7 544.9h0M88.4 240.9h0M166.6 339.1h0M175.9 302.6h0M326.6 210.5h0M311 206.2h0M132.8 320.1h0M172.7 359.4h0M124.1 289.5h0M78.1 324.4h0M237.4 183h0M205.8 265.6h0M196 239.6h0M175 379.9h0M325.8 357.7h0M206.9 216h0M182.1 261.4h0M199.9 250.9h0M279.9 426.5h0M207.2 283.6h0M257.7 299.9h0M210.6 311h0M214.7 323.5h0M283.5 314.7h0M135 393.9h0M222.5 209.7h0M149.6 233.6h0M309.7 230.5h0M209.6 266.6h0M148.6 161.1h0M210 287.5h0M225.4 283.1h0M202.2 151.1h0M327.6 394.4h0M205.8 345.4h0M95.5 260.2h0M155.5 356.3h0M134.2 351.3h0M101 370.1h0M274 233.2h0M281.5 491.2h0M197.1 339.1h0M158.9 416.2h0M209.3 347.3h0M272.9 334.2h0M222.7 248.4h0M212.9 307.2h0M307.7 307.5h0M212.9 266h0M279.7 261.3h0M242.2 393.5h0M275.9 369.6h0M197.9 267.2h0M212.9 233.6h0M238.7 330.4h0M188.7 335.2h0M191.9 293.6h0M221.7 208.7h0M323 270.8h0M246.5 407.1h0M186.3 271h0M249.8 173.9h0M315.1 277.2h0M237.5 246.5h0M268.9 267.2h0M214 267.5h0M292.1 192.6h0M245.8 293.4h0M191.8 353.8h0M209.4 295.5h0M155.3 322.7h0M175.9 382.8h0M226.1 296.3h0M135.1 242.8h0M226.4 345.2h0M225.4 428.2h0M266.5 321h0M224.7 242.2h0M194.9 329.7h0M286.4 287.2h0M190.1 455h0M183.8 427.1h0M171.6 334h0M247.1 206h0M285.7 296h0M226.5 364.2h0M203.8 335.9h0M170.2 208.8h0M247.9 267.1h0M207.4 386.4h0M261.1 363.9h0M121.2 380.1h0M138.3 424.3h0M285.7 271.7h0M197.5 276.7h0M264.2 309.9h0M157.6 250.9h0M243.1 244.7h0M211 336.9h0M126.8 302.7h0M161.6 385.1h0M238.2 419.3h0M162 331.2h0M249.4 394.4h0M198.1 438.6h0M280.9 250.7h0M257.8 251.1h0M145.2 244.8h0M208.4 217.3h0M285.4 302.3h0M226.6 345.4h0M241.7 303.3h0M271.1 352h0M210.2 287.1h0M254.8 180.5h0M206.3 426.8h0M192.5 352.7h0M217.6 290h0M320.4 277.1h0M247.5 287.1h0M219.5 331.3h0M131.5 510.4h0M241.4 334.8h0M244 312.5h0M293.7 217h0M130.8 230.4h0M324.6 282.8h0M268.3 288.5h0M281.9 247.2h0M196.6 275.7h0M187.9 174.2h0M242.6 340.7h0M292.4 389.9h0M332.2 276.3h0M241.6 375.3h0M217 326.1h0M176.3 254.3h0M249.6 330.4h0M202.5 378.1h0M281.3 331h0M232.5 235h0M269.1 312.7h0M168 294.6h0M295.1 297.1h0M281.9 342h0M220.7 297.2h0M179.8 166.3h0M181.5 277.1h0M148.7 293.4h0M230 264.8h0M203 369.9h0M218.2 264.5h0M152.2 279.1h0M221.6 339.3h0M150.2 360.5h0M206.6 388.9h0M231.9 328h0M240.6 337.4h0M245.7 270.5h0M263.1 203h0M192.8 320.5h0M164.7 258h0M196.6 199.5h0M185.6 321.7h0M230.6 308.5h0M246.3 306.9h0M168.8 312.4h0M195.1 303h0M282 380.2h0M181.9 371.3h0M131.2 246h0M258.5 308.7h0M178.6 322.4h0M229.2 261.1h0M272.4 548.9h0M163 305.2h0M226.9 358.5h0M229.9 281.1h0M244.3 317h0M95.8 194.3h0M159.9 295.5h0M304.5 412.2h0M196.2 237.6h0M247.2 368.9h0M203.3 286.1h0M215.8 309.4h0M117.9 385.5h0M263.6 369.9h0M102.4 303.4h0M234.6 317h0M194.2 282.2h0M132.1 341.9h0M188.8 474.5h0M327.9 203.5h0M251.5 179.9h0M147.9 328.5h0M215.3 246.7h0M196.2 299.9h0M181.9 316.2h0M314.1 307.3h0M154.3 485.9h0M216.1 248.6h0M109.1 372.8h0M260.7 340.9h0M261.1 248.1h0M302.5 237.5h0M280.9 225.9h0M100.5 252.2h0M225.4 391.9h0M167 372.7h0M309.5 326h0M144.1 303.5h0M220.8 367.2h0M207.5 434.9h0M253.9 305.7h0M231.5 297.1h0M244.6 282h0M198.8 246.5h0M218.6 370.8h0M125.6 341.2h0M112.7 301.7h0M314.2 276.6h0M200.4 256.3h0M211.2 347.3h0M199 340.7h0M189.4 418h0M202.8 317.8h0M267.4 314.5h0M196.3 333.9h0M107.8 253.2h0M155.4 120.2h0M172.6 332.4h0M196.4 242.5h0M222.3 271.2h0M220.8 299.5h0M250.3 162.1h0M263.9 278.9h0M198.2 384.6h0M327.7 201.2h0M326.6 113.9h0M158.9 263.8h0M211.5 315.3h0M230.3 241.2h0M199 369h0M208.6 258.7h0M214 284.8h0M252.4 304.4h0M137.7 253.3h0M197 318.6h0M238.2 312.6h0M276.2 319.5h0M231.6 264.2h0M229.6 283.5h0M291.5 424.7h0M282.7 408.8h0M161.9 291h0M139.4 456.3h0M209.3 321.7h0M248.9 388.9h0M262.2 333.1h0M326.2 207.9h0M143.7 329.1h0M218.3 116.2h0M226.8 219.5h0M105.9 321h0M199.2 295.7h0M223.4 198.6h0M259.2 281.2h0M239.9 229.4h0M295.8 416.3h0M184.2 292.7h0M83.6 340.1h0M222.8 249h0M107.4 290.3h0M240.7 287.8h0M328.2 335.1h0M180.5 521.8h0M253.2 276.4h0M196.1 261.8h0M132.6 224.6h0M213.1 362.8h0M259.7 334.5h0M237.3 350.1h0M296.8 393.2h0M295.7 361.9h0M161.3 243.6h0M124.1 369.5h0M185.9 238.4h0M313.3 307.8h0M250.8 342.1h0M253.3 360.4h0M258.8 298.8h0M147.6 366.6h0M246.8 289.1h0M276.1 331.4h0M245.3 342.2h0M105.9 473.3h0M225.9 423.7h0M299.6 348.7h0M195.5 270.8h0M214.2 275.6h0M183.1 302.8h0M247 311.8h0M235.2 298.3h0M273.5 284.1h0M189.5 331.8h0M215.7 226h0M128.4 262.5h0M159.1 247h0M202.7 284.3h0M175.9 296.2h0M134.1 407.3h0M269.1 388.1h0M246.8 409.7h0M303.4 440.9h0M180.7 309.6h0M280.8 336.5h0M281.6 299.1h0M77.8 253.3h0M246.9 265.3h0M179.3 315.4h0M143.3 354.3h0M202.1 307.7h0M272.5 323.7h0M200.1 344.2h0M232 335.3h0M210.3 359.4h0M278 296.9h0M222.7 284.2h0M185.1 444.4h0M245.4 267.8h0M162.2 287.6h0M150.5 254.6h0M199.5 200.3h0M307.1 307h0M155.3 333.9h0M214.6 208.8h0M184.3 229.8h0M326.6 302h0M279.4 349.2h0M235.6 366h0M236.2 215.6h0M208.5 388.7h0M321.4 358.7h0M249.2 334.4h0M230.1 348.9h0M272.4 329.7h0M237.1 267.9h0M203.8 324.4h0M196.9 327.4h0M264.1 340h0M122.8 209.5h0M224.8 366.4h0M231.9 277.8h0M239.3 347.5h0M276.2 314.7h0M128.7 326.2h0M308.4 381.4h0M218.3 273h0M260.1 264.7h0M129.8 314.1h0M216.6 335.7h0M210.9 305.4h0M231.7 247.7h0M231.5 371.3h0M172.5 259.9h0M200.3 307.3h0M196.3 338.9h0M265.5 310.9h0M137.4 302.6h0M255.2 307.9h0M145.6 255.7h0M242.8 318.9h0M273.9 340.6h0M278 317.1h0M87.3 332.4h0M322 400.2h0M222 272.1h0M251.2 291.1h0M249.8 394.4h0M144.6 224.1h0M263.9 449h0M227.2 324.3h0M184.2 287.3h0M197.2 269.9h0M277.4 282.7h0M216.7 309.6h0M174.1 342.7h0M202.3 260.3h0M233.9 335.5h0M281.1 338.7h0M296.4 339.7h0M309.1 297h0M228 216.2h0M254.7 211.1h0M75.7 198.2h0M258.2 328.1h0M178.8 279.4h0M292.4 426h0M185.1 366.5h0M309.3 242.2h0M314.5 343.8h0M227.1 297.2h0M217.4 441.4h0M245.9 259.3h0M222.8 221.5h0M158.1 198.5h0M250.7 256.2h0M190.8 310h0M168.3 460.1h0M233.8 293.5h0M181.2 320h0M228.4 315.9h0M242.5 288.4h0M293.4 339.8h0M235.1 255.1h0M208 354.9h0M199.2 309.7h0M232.6 290.8h0M231.5 336.3h0M214.5 300.8h0M265.2 202.6h0M196.9 351.7h0M329.3 308.2h0M249 300.3h0M109 347.7h0M232.7 340.6h0M268.8 320.1h0M230.8 327.8h0M289.4 327h0M205.3 281h0M181.5 359.3h0M263.2 304.3h0M88.1 377.2h0M296.7 325.7h0M223.6 275.7h0M206.8 319.8h0M159.3 238.6h0M237.6 303.6h0M156 317.6h0M275.1 168.6h0M325 395.1h0M194.4 271.8h0M240.3 242.6h0M220.5 233.1h0M231.8 297.1h0M161.5 358h0M222.9 313.9h0M268 280.1h0M273.2 318.6h0M160.7 313.9h0M195.5 279.4h0M224.6 273.6h0M166.8 372.8h0M206.1 293.5h0M195.5 275h0M214.6 327.8h0M235.9 313h0M238.1 230.2h0M302.6 290.6h0M137.9 359.8h0M112.6 146.8h0M123 303.1h0M230 318.1h0M212.9 308.4h0M274.5 302.9h0M104.3 222h0M128.1 251.2h0M261.5 292.5h0M218 293.4h0M241.1 368.2h0M203 275h0M266 229.8h0M218.3 322.5h0M170.8 193.6h0M110.4 325.4h0M145.4 281h0M190.7 377.2h0M185.7 212.1h0M212.4 339.1h0M205.9 297h0M215.7 296.5h0M177.6 291.4h0M230.4 489.2h0M180.1 414.1h0M317 211.2h0M310.9 409.9h0M218.4 345.9h0M83.8 296.8h0M179 312.7h0M271.9 187.9h0M240.9 251.3h0M213.7 406.1h0M213.7 309.6h0M187 324.3h0M209.4 352.4h0M236.6 449.2h0M226.1 70.1h0M195.5 314h0M247.5 339.2h0M137.6 379.3h0M276.7 141.1h0M120.9 357.5h0M228.3 259h0M228.2 388.6h0M183.7 243.3h0M251.8 314.6h0M230.2 283h0M287 270.9h0M193.7 375.5h0M232.5 320.2h0M230.8 255.4h0M226.5 279.3h0M210.8 323.3h0M191.6 358.7h0M309.9 374.7h0M230.4 324.9h0M240.8 369.4h0M189.9 284.2h0M260.9 303.8h0M259.9 244.4h0M233.3 276.3h0M198.8 361.5h0M215.8 311.3h0M236.4 540.9h0M292.7 395.5h0M311.8 289.4h0M82.4 347.4h0M183.3 283.8h0M227 298.3h0M157 266.3h0M249.2 257.9h0M96.3 82.2h0M238.4 240.7h0M311.3 350.8h0M189.1 269.1h0M105.4 334.9h0M254.1 341.4h0M189.4 364.8h0M274.8 394h0M226.4 247.1h0M244.3 278.1h0M309.2 291.2h0M325.3 382.2h0M184.7 386.7h0M192.4 285.2h0M216.3 305.4h0M151.7 311.7h0M173.5 351.4h0M226.2 279h0M272.5 403.6h0M204.5 280.4h0M252.8 361.1h0M97.1 325.2h0M114.7 453.9h0M307.6 265.3h0M260.4 345.1h0M119.6 231.8h0M139.5 336.1h0M241.2 357.6h0M148.8 422.8h0M292.9 330.6h0M205.7 346.2h0M232.4 330.4h0M240.8 310.8h0M229.3 317h0M286.2 266.5h0M220.6 332.7h0M128.1 339.2h0M161.6 300.7h0M194.4 346.8h0M215.9 168.8h0M302.2 209.1h0M258.5 263.7h0M163.9 361.8h0M324 378.1h0M187.7 349.7h0M221.6 353.4h0M157.7 250.1h0M247.7 288h0M251.9 341.3h0M266.2 305.4h0M243.4 289.3h0M258.7 299.2h0M246.5 337.3h0M284.7 378h0M243.6 300.3h0M306.2 222.3h0M307.5 400.9h0M164.1 351.3h0M203.3 269.2h0M181.3 318.8h0M246 315.7h0M159.4 361.5h0M163.8 399.4h0M301.8 250.4h0M119.4 291.9h0M200 293.3h0M235.6 276.4h0M194 274.1h0M226.3 302.4h0M192.1 312.3h0M232 332.9h0M265 187.9h0M296.5 280.4h0M192 315.7h0M254.9 265.8h0M194 416.5h0M242.5 383.7h0M202.1 233.9h0M133.6 368.5h0M245.3 299.5h0M128.1 421.8h0M213.8 274.9h0M173.7 400.9h0M197.9 299h0M159.8 414.2h0M217.9 245.6h0M244.9 254.3h0M197.8 294.9h0M315.1 284.8h0M257.3 325.5h0M323.4 357.8h0M224.6 210.7h0M281.1 227.7h0M246.5 354h0M309.7 274.8h0M239 329h0M160 252.9h0M267.8 301h0M156.6 250.7h0M245.2 330.7h0M144.8 411.5h0M277.4 254.8h0M199.5 332.2h0M183.8 393.2h0M227.7 299h0M334.5 292.9h0M263.8 315.4h0M311.1 301.7h0M243.3 404.4h0M195.9 335.9h0M280 287h0M160 420.5h0M199.8 364.3h0M219.3 275.2h0M250.7 251.2h0M181.5 498.8h0M152.5 293.5h0M281.8 234.3h0M170 354.7h0M176.1 366.1h0M188.7 358.3h0M151.3 485.4h0M296.3 222.2h0M171.5 265h0M121.7 329.3h0M324 246.8h0M295.1 325.8h0M156.7 232.2h0M261.3 254.3h0M231.5 319.2h0M267.4 324.3h0M141.5 321.6h0M296.9 353.6h0M244.8 276.9h0M286.3 284.2h0M131.5 266.3h0M206.7 265.9h0M310.7 298.5h0M203.3 173.1h0M209.7 314.4h0M141.2 222.7h0M127.5 302.3h0M189.4 317.9h0M214.7 319.7h0M327.2 506h0M305.9 249.4h0M187.1 262.6h0M260.5 332.6h0M235.6 300.9h0M318.6 307.1h0M191 323.8h0M264.8 227.6h0M201 400.6h0M138 261.4h0M150.4 284h0M245.3 274.5h0M203.2 254.6h0M198.9 294.9h0M280.7 219.8h0M243 256.2h0M178.7 459.4h0M265.5 380.7h0M284.8 290.8h0M241.4 353.1h0M223.2 341.9h0M191.7 343.4h0M217.4 279.2h0M80.6 386.1h0M273.1 356.8h0M223.9 275.8h0M152.8 372.9h0M183.9 332.9h0M134.2 348.1h0M131.2 243.4h0M269.6 337h0M224.2 265.5h0M136.3 334.8h0M170 333.8h0M265.6 295.5h0M198.2 298.1h0M125.3 361.7h0M245.7 305.9h0M213.7 276.7h0M175 341.9h0M232.8 237.3h0M203 341.6h0M140.8 263.9h0M238 315.7h0M304.2 269.9h0M205.8 349.3h0M167.9 366.4h0M222.3 278.9h0M280.2 227.3h0M146.7 297.5h0M195.4 320.5h0M246.4 316.5h0M208.1 257.9h0M214.3 237.2h0M285.4 187.6h0M187 266.8h0M222.2 339.1h0M218.5 278.3h0M210.4 334.1h0M281.4 320.3h0M153.3 382.5h0M204.7 171.7h0" fill="none" stroke="#000" stroke-width="6.4" stroke-linecap="round"/>
<path d="M511.5 442h0M605.1 350.7h0M598.8 368.7h0M611.8 305.6h0M601.7 284.4h0M568.4 290.9h0M563.5 247.2h0M614.3 322h0M570 300.5h0M667.8 329.4h0M588.1 330.3h0M539.8 308.8h0M650.9 258.4h0M551.2 312.3h0M549.9 255.8h0M516.7 314.8h0M552.8 370.9h0M608.1 474.2h0M595.6 246h0M687.8 166.6h0M579.5 71.3h0M619.8 365.3h0M555.1 293h0M600.8 352.1h0M587.1 174h0M603.5 351.4h0M681.9 269.8h0M625.9 275.7h0M620.1 307.6h0M666.2 291.9h0M555.8 358h0M557.2 286.6h0M523.7 259.9h0M608.7 250.9h0M589.5 306.1h0M589.8 282.2h0M547.3 310.8h0M544.3 296.4h0M475 410.3h0M513.6 284.5h0M517.9 293.1h0M523.6 372.5h0M562.1 262.9h0M612.7 228.6h0M591.2 315.8h0M575.7 370.9h0M598.6 423.9h0M673 197.1h0M646.7 408h0M523.1 349.9h0M606.4 270h0M654.6 341.6h0M605.6 219.4h0M643.1 246h0M665.8 300.7h0M512.9 379.9h0M620.4 244.5h0M614.2 342.3h0M643.4 292.8h0M672.6 445.7h0M570.1 397.1h0M613.3 326.3h0M573.6 277.6h0M519.7 203.4h0M628.1 406.1h0M596.5 252.5h0M557.5 362.9h0M552 268.6h0M649.9 290.6h0M601.7 388.8h0M655.6 194h0M641.8 349.4h0M544 371.9h0M618.2 322.1h0M644.7 323.4h0M652.2 124.1h0M667.2 195.8h0M569 375.5h0M556.5 345.5h0M557.5 225.9h0M618.4 308.3h0M634.1 386h0M517.4 303.8h0M614.2 258.7h0M609.3 208.4h0M583.1 356.7h0M648.7 354.1h0M659.5 292.3h0M611.7 343h0M642.1 235.2h0M645.4 417h0M614.8 277.9h0M586.9 101.9h0M651.1 183.6h0M567.1 399.2h0M609.8 342.5h0M629.7 250.9h0M645.3 141h0M666.2 343.4h0M606.5 319.9h0M636 238.2h0M608.2 353.9h0M590.7 370.3h0M462.8 490.4h0M638.7 301.8h0M680.7 289.8h0M562.7 339.3h0M588.5 244.7h0M588.2 361.9h0M516.7 347h0M595.2 301.2h0M603.2 273.4h0M667.2 241.5h0M574.6 375.7h0M606.7 337.6h0M531.5 269.4h0M545.4 502.6h0M578.2 358.3h0M656.9 318.1h0M576.3 197.7h0M510.2 326.4h0M485.4 427.4h0M594.5 242h0M542.8 211.6h0M566.4 310.9h0M494.6 254.3h0M589.6 196h0M474.2 349.3h0M510 347.4h0M551.6 338.5h0M616.6 301.8h0M608.1 290.8h0M599.7 285.5h0M534.3 278h0M495 504.1h0M587.4 173.3h0M551.5 303.7h0M662.4 325.9h0M618.4 341.4h0M576.5 272.6h0M526.9 244.1h0M648.2 245.4h0M623 298.6h0M551.6 336.7h0M598.7 334.7h0M564.6 362h0M572.5 309.6h0M511.7 381.1h0M545.7 355.5h0M626.9 218h0M527.6 267h0M640 268h0M601.2 303.4h0M606.7 373.4h0M540.3 223.3h0M612.6 310.2h0M681.6 288.1h0M558.2 267.9h0M580.6 372.1h0M577.2 367.2h0M541.2 192.4h0M655 338.1h0M630.7 373.5h0M692.1 425.6h0M685.4 320.3h0M587.8 330.2h0M549.5 319.4h0M571.4 324.5h0M663.6 104.7h0M579.4 359.1h0M582.4 379.8h0M591.6 227.8h0M556.5 250.9h0M691 193.4h0M651.6 245.5h0M593.5 487.6h0M660.3 249.5h0M598.8 225.5h0M546.5 302h0M582.2 337h0M584.9 348.6h0M592.5 375.2h0M623.9 265.3h0M523.6 414.5h0M690.2 296.8h0M651.1 401.9h0M472 378h0M692.6 332.9h0M585.8 285.1h0M569.4 335.9h0M470.8 286.3h0M622.1 244.3h0M687.4 294h0M668.5 371.1h0M589.2 300.1h0M551.3 318.7h0M632 263.7h0M637.4 315.8h0M589.9 285.4h0M578 351.1h0M555.4 308h0M631.7 321.4h0M542.6 280.7h0M571.6 346.5h0M593.8 349.3h0M669.9 334.5h0M575.6 244.3h0M544.7 273.2h0M607.1 351.9h0M535.5 436.6h0M582.3 312.6h0M615.9 452.2h0M450.6 339.3h0M583.4 143.8h0M517.8 349.1h0M542.3 398.5h0M655.1 328h0M594.8 108.8h0M545.9 426h0M615.2 413h0M567.9 383.9h0M596.7 330.5h0M485.8 366.1h0M617.6 231.6h0M623.6 307.9h0M512.4 288.2h0M559.2 485.9h0M536.3 291.4h0M659 299.9h0M639.8 184.9h0M527.5 257.8h0M588.9 339.3h0M594.9 274.4h0M667.1 226.8h0M610.1 307.4h0M682.8 309.8h0M621.3 296.1h0M561.9 274.4h0M490 311.4h0M558.3 373.1h0M693.1 318.3h0M486.9 332.1h0M562.4 247.1h0M507 369.7h0M646.9 208h0M640.9 292h0M576 360.3h0M563.8 293.6h0M519.3 355.5h0M624 286.6h0M617.3 260.9h0M612.7 390.8h0M575.4 299.7h0M554 307.9h0M578.3 360.7h0M589 347.2h0M545.8 277.9h0M587.1 275.2h0M626.2 212.8h0M577.7 229.2h0M599.1 355.3h0M632.2 289.7h0M513.4 404.6h0M610.7 267.8h0M636.4 293.3h0M585.9 287.5h0M513.6 300.3h0M647.7 343.7h0M547.4 362.1h0M635.8 308.5h0M548.6 221.2h0M616 368.3h0M599.9 238h0M591.8 361.3h0M532.9 356h0M664.9 355.4h0M569.6 466h0M563 397h0M559.3 326h0M614.5 343.8h0M615.6 221.7h0M558.8 351.2h0M492.6 251.8h0M520.6 272.1h0M560.4 296.9h0M577.8 229.3h0M626.8 415.3h0M629.4 354.4h0M571.9 308.2h0M541.7 375.5h0M582.8 326.3h0M547.1 362.4h0M566.9 217h0M575 286.2h0M635.6 350.1h0M615 247.9h0M653.2 120.7h0M616.8 188.3h0M504.4 258.6h0M596.5 355h0M605.5 324h0M586.5 345.5h0M603.1 326.5h0M547.8 305.6h0M592.5 187.3h0M542.2 382.5h0M677.3 389.9h0M602.5 396h0M539.2 213.8h0M571.9 267.6h0M575.4 221.4h0M607.7 254.4h0M576.6 267.8h0M663.7 259.5h0M581.6 301.1h0M621.3 250.2h0M503.6 272.9h0M601.9 339.8h0M569 433.3h0M651.9 192.3h0M555.9 408.1h0M555.7 316h0M556.1 334.4h0M525.2 359.2h0M600.1 299.1h0M677.4 302.1h0M469 238.9h0M607.3 305.5h0M585.6 372.6h0M583.6 332.8h0M580 322.2h0M529.2 303h0M570.2 370.8h0M581 265.1h0M607.6 313.8h0M631.5 236.1h0M670.7 310.6h0M600.3 216h0M469.8 332.9h0M648.8 112.2h0M572.3 396.2h0M579.1 298.8h0M550 303.5h0M634.8 310.8h0M555.1 340.7h0M598.1 308.8h0M570.7 348.2h0M490.1 297h0M582.2 320.3h0M625.4 308.2h0M611.9 395.7h0M640.4 250h0M444.9 300.3h0M667.9 220.2h0M609.8 285.5h0M579.6 366.7h0M522.5 323.9h0M628.5 280.5h0M651.5 334h0M638.1 135.9h0M572.3 217.7h0M528.2 359.4h0M542.4 373.6h0M592.5 295.5h0M574.9 310.8h0M522.1 436.9h0M526.7 355.5h0M625.3 321.6h0M657.4 343.3h0M561.2 434.3h0M607.6 345.9h0M503 393.2h0M596.3 365.9h0M506.9 341.1h0M526.4 237.2h0M568.5 350.8h0M570 317h0M689.4 349.8h0M584.1 253h0M494.9 263.1h0M609.6 243.2h0M497.9 363.4h0M525.1 440.8h0M610 292.5h0M548.6 333h0M568.1 318.5h0M479.8 298.1h0M537.1 349.2h0M526.8 310.6h0M635.9 249.5h0M678.8 222h0M589.9 453.1h0M587.4 156.5h0M603.2 276.4h0M521.6 366.1h0M518 288.6h0M568.9 144h0M604.4 233.8h0M551.6 188.9h0M627.2 251.7h0M605.3 387.2h0M606.7 225.5h0M451 282.7h0M561.6 509.6h0M618.3 373.8h0M520.9 337.6h0M457.4 165.6h0M654.6 251.4h0M510.8 457.8h0M554.1 437.3h0M534.2 279.8h0M541.3 174.4h0M627 445.8h0M658.2 321.7h0M615.6 303.6h0M577.7 401.9h0M622.9 310.9h0M605 251.5h0M611.1 308.9h0M640.4 160.2h0M656.5 101.5h0M446.4 341.7h0M646.8 391h0M579.8 217.1h0M591.7 307h0M513.7 294.6h0M555.9 347.7h0M620.1 340.2h0M523.2 334.8h0M618 272.9h0M630.9 167.4h0M572.6 247h0M558.3 281.1h0M516.4 329.3h0M585.8 355.9h0M505.2 486.9h0M539.1 168.9h0M585.5 190.8h0M642.8 310.9h0M492.9 353h0M610.1 336.1h0M493.5 338.7h0M485.4 335.2h0M600.1 349.9h0M476.4 300.3h0M614.8 199.7h0M658.7 201.4h0M579 220h0M690.9 212.4h0M642.8 246.7h0M554.8 267.6h0M645.3 291.4h0M584.7 362.2h0M533 319.5h0M570.1 366.1h0M667.9 341h0M530.2 308.4h0M551.6 333.6h0M522.9 339.1h0M632.9 271.5h0M615.3 389.9h0M453.9 421.3h0M580.7 324.3h0M514.4 271.2h0M521.5 208.2h0M588.5 378.7h0M552.2 303.5h0M550.7 70.5h0M566.9 246.1h0M557.5 435.5h0M598.9 312.5h0M635.3 302.6h0M510.7 492.5h0M613 230.4h0M528.7 399.3h0M551.3 380.7h0M608.9 310.2h0M656 355.2h0M599.2 371.6h0M531.1 319h0M615.8 295.8h0M526 272.3h0M559.7 115.6h0M604.4 353.5h0M556.7 246h0M638.5 120.9h0M662.4 276.2h0M540.8 299.4h0M571.5 348.2h0M602.6 305.4h0M672.3 270.7h0M623.3 296.2h0M570.5 342.8h0M558.3 350.8h0M617.2 350.2h0M578.5 443.1h0M533.7 322.9h0M639.5 297.4h0M559.8 304.6h0M535.9 400.6h0M550.5 340.2h0M554.8 374.4h0M553.6 257.6h0M620.6 237.4h0M548.7 425.9h0M530 333.4h0M660.2 249.9h0M581 461.8h0M666.4 278.2h0M634.3 321.3h0M679.7 309.6h0M637.4 234h0M666.7 319.6h0M625.4 339.5h0M656 387.2h0M578.2 344.8h0M613.8 225.9h0M514.1 301.6h0M522.4 299.8h0M503.9 420.4h0M486.9 219.4h0M596.9 326.5h0M601 407.2h0M629.6 272.8h0M611.2 363.9h0M555.7 379.6h0M565.1 252.6h0M580.3 262.4h0M563.2 347.4h0M512.3 324.7h0M567.3 287.7h0M493.2 266.6h0M556.5 344h0M578.8 284.9h0M597.3 311.7h0M612.1 260.2h0M538.2 318.2h0M449.5 173.8h0M532.8 499.1h0M631.3 274.7h0M596.4 235.2h0M573.3 356h0M678 253.3h0M608.8 314.7h0M596.8 272.2h0M610 287.9h0M528.5 360.3h0M504.4 243h0M588.8 255.1h0M608.1 375.1h0M606.6 258.4h0M556.5 293.8h0M605.7 310.2h0M622.3 246.9h0M627.3 278.4h0M672.1 231.7h0M592.9 377.4h0M523.3 234.5h0M587.5 242.2h0M621.3 290.8h0M612.4 274.3h0M595 339.8h0M472.6 329h0M567.6 283.3h0M595.5 288.8h0M570.6 266.6h0M494.9 455.9h0M581.9 349.1h0M623.8 268.6h0M648.8 325.4h0M498.9 386.1h0M552.2 194h0M470 311.4h0M561.9 277.3h0M613 293.3h0M615 405.8h0M533 240.6h0M590.1 317.4h0M663.4 279.2h0M471.1 391.2h0M556.6 174.9h0M594.7 401.8h0M579.3 230.4h0M568.3 239.9h0M571.4 346.7h0M681.7 272.2h0M548.8 251.9h0M502.9 240.5h0M571.6 181h0M671.8 157.1h0M646.3 254.9h0M527.7 358.5h0M617.8 308.1h0M545.9 474.6h0M577.5 291.7h0M677.1 392.8h0M620.3 233.7h0M555.4 421.2h0M482.4 346.9h0M474.6 320.7h0M604.3 286.9h0M535.6 340.8h0M546.6 366.2h0M651.9 233.4h0M606 208.7h0M441.3 390.5h0M639.6 316.7h0M563.5 207.3h0M558.3 335.9h0M527.5 265.4h0M534 349.2h0M616.9 394.2h0M615.2 349.1h0M575.7 305.6h0M570.9 282.5h0M688.2 252.4h0M511.1 278.2h0M536.4 432.5h0M501.4 284.9h0M593.4 192.7h0M514.9 303.4h0M586 278.6h0M593.7 279.8h0M628.2 309.1h0M521.2 407.1h0M491.9 383.3h0M626.9 334.7h0M611.4 320.2h0M603 227.1h0M604.7 167.1h0M628.6 296.8h0M597.9 415h0M597.7 303.7h0M605 331.8h0M515.3 286.3h0M634.5 339.2h0M548.1 349.6h0M495.1 480.7h0M588.4 230.4h0M610.5 418.3h0M540.3 441.8h0M589 280.5h0M440.8 313.9h0M587 273.3h0M534.2 352.9h0M543 307.3h0M480 333.1h0M598.5 283.5h0M532.9 280.5h0M599.8 431.7h0M682.3 405.1h0M661.7 235.6h0M642.4 266.2h0M661.3 394.6h0M537.1 326h0M579.1 323.2h0M561.5 327.1h0M607.6 367.8h0M549.1 281.4h0M572.2 285.5h0M690.7 248.9h0M575.1 241.1h0M679.7 364.5h0M499.5 302.5h0M608 309.3h0M543.9 304.2h0M598.7 336.3h0M632.6 351.9h0M571.5 302.4h0M543.2 346.6h0M694.1 330.2h0M583.7 388.1h0M448.9 336.8h0M668.5 410.9h0M602 365.4h0M584.1 331.1h0M493.3 322.7h0M562.5 271.8h0M551 395.4h0M559.5 416.2h0M595 421.2h0M462.3 451.3h0M597 280.1h0M599.4 289.1h0M589.7 171.2h0M564.3 183h0M560.3 365.6h0M568.7 298.4h0M649.3 139.2h0M691.3 306.3h0M520.7 218.9h0M545.4 357.7h0M637.7 257.3h0M561.3 262.5h0M593.6 357.6h0M643.9 268.7h0M504.4 246.5h0M601.8 303.1h0M478 350.1h0M643.4 277.9h0M561.7 396.1h0M575.6 284.5h0M565.6 270.2h0M612.3 378.3h0M605.3 341.5h0M472.9 245.7h0M596.5 178.7h0M611.3 321.1h0M571.9 365.1h0M655.7 376.1h0M617.6 97.5h0M630.7 385.4h0M621.1 435.9h0M677.7 291.5h0M561.6 359.6h0M597.4 365.3h0M573.4 285.6h0M475.3 403.5h0M555.7 301h0M580.5 297h0M540.2 336.1h0M528.6 314.1h0M549.8 320.2h0M593.4 212.9h0M656.5 228.7h0M612.1 435.8h0M488.7 245.6h0M640.6 116.8h0M587.2 343.7h0M546.2 210.1h0M590.1 393.7h0M559.3 317.3h0M600.7 136.3h0M590.1 306.8h0M581.8 368.2h0M488.9 274h0M538.5 496.5h0M641.1 155.9h0M645.3 216.4h0M679.2 249.6h0M578.7 377h0M545 461.4h0M602.2 260.5h0M590.7 284.9h0M609.1 293.8h0M575.5 381.1h0M619.4 390.5h0M596.7 488.1h0M610.7 439.6h0M614.2 335h0M617.4 208.9h0M633.3 464.7h0M507.7 303.8h0M549.7 300.1h0M568.5 319.5h0M535.2 438.2h0M591.3 387.9h0M605.2 285.5h0M664.9 312h0M579.6 250.4h0M502 257h0M587.7 336h0M444.7 421h0M569.3 235h0M563.9 350.3h0M664 330.7h0M539.6 404.5h0M648.4 328.4h0M589 466.2h0M576.3 341.6h0M578.8 397.4h0M681.4 245.1h0M643.5 369.8h0M634.8 278.5h0M689.1 210.6h0M587.2 312.6h0M599.4 417.9h0M460.7 477.2h0M569.4 366.5h0M588.4 218.7h0M625.7 293.7h0M612.3 323.8h0M633.2 301.8h0M608.2 268.9h0M524.7 360.3h0M558.7 249.8h0M573.5 379.5h0M630.6 299.5h0M604.2 337.7h0M672 290.8h0M504.9 394.4h0M593.2 333.2h0M670.4 262.4h0M690.8 188.8h0M600.8 289.7h0M523.4 297.1h0M482.1 264.9h0M659.5 223.4h0M584.9 354.4h0M580.6 401.1h0M569.3 327.9h0M529.5 300h0M589.5 298.4h0M635.9 249h0M493.9 291h0M532 246.3h0M553 283h0M541 271.1h0M564.2 294.1h0M593 225h0M525.8 402.1h0M583.9 353.1h0M486.8 244.8h0M579 313.2h0M603.7 287.6h0M626.5 293h0M520.6 395.3h0M686.1 445.5h0M658.7 140.2h0M691.5 241.9h0M632.4 346.6h0M673.3 258h0M616.1 386.2h0M586.8 255.2h0M567.5 363.9h0M545.7 318.5h0M618.1 264.4h0M673.3 226.3h0M553.9 106.8h0M571.2 282.2h0M607.8 188.8h0M530.1 290.5h0M618.2 282.7h0M630.6 319.9h0M642.2 268.6h0M510.7 243.7h0M531 340.5h0M551.3 271h0M611.4 279.3h0M595.9 210.9h0M543.1 301.4h0M610.1 336.7h0M478.9 272.3h0M653.8 244.1h0M562.8 364h0M583.9 354.2h0M548.2 290.8h0M512.8 306.7h0M658 88.8h0M587.9 269.2h0M484.9 404.6h0M502.7 531.2h0M562.7 354h0M577.2 416.3h0M648.8 218.6h0M635.8 352.8h0M562.6 421.5h0M610.4 266.7h0M577.2 348.9h0M653.1 475.5h0M580.4 319.3h0M553.5 357.1h0M537.2 273.4h0M616.5 297.9h0M602.7 335.1h0M642.1 256.9h0M533.6 443.3h0M554.2 312.9h0M622.5 434.3h0M576.1 310.9h0M654 369.8h0M646.6 309.9h0M596.7 238.8h0M618.6 294h0M615.1 309.4h0M660.5 266.6h0M502.4 295.6h0M578.4 378.2h0M580.7 352.7h0M663.8 290.7h0M603.7 305.9h0M558.4 331.8h0M599.4 200.4h0M533.4 311.8h0M506.1 399.2h0M457.5 160.7h0M583.4 313.4h0M585.6 351h0M595.6 189.7h0M557.6 213.2h0M617.2 322.9h0M591.4 234.4h0M606.6 368.9h0M620.2 306.1h0M470.3 489.3h0M616.1 202.9h0M601.8 378.5h0M581.9 257.1h0M475.5 349.6h0M638.2 381.9h0M593.3 355.4h0M434.9 208.5h0M557.1 386.3h0M599.5 417h0M619.7 348h0M574.8 432.4h0M515.7 330.9h0M622.6 320.1h0M641.7 219.3h0M674 392.6h0M583.6 274.4h0M599.9 334.4h0M566.2 309.8h0M618.9 300.4h0M606.9 349.1h0M592.1 325h0M626.8 234.1h0M523.6 420.6h0M561.6 284.6h0M639.9 197.8h0M571.4 377.5h0M677.6 304.1h0M530.1 324.5h0M591.3 300.9h0M511.2 287h0M510.5 371.3h0M589 355.1h0M616.1 501.6h0M661 329.5h0M654.4 321.7h0M621.4 288.1h0M603.7 276.8h0M530.1 311.7h0M569.1 447.1h0M595.5 354.8h0M608.2 378.7h0M628.4 331.8h0M625 254.3h0M566.9 399.3h0M659.9 285h0M512.7 76.5h0M592 240.5h0M562.3 347.6h0M635 370.8h0M550.1 316.7h0M573 274h0M570.1 348.2h0M543.4 262.2h0M528 474.4h0M589 283.1h0M450.5 248.8h0M658.2 371.3h0M670 302.1h0M498.2 307.4h0M609.9 349.3h0M523.1 347.6h0M651 318.6h0M511.2 322.4h0M605 201.9h0M649.6 342.5h0M550.4 281.8h0M594.2 275h0M587.3 118.9h0M503 288.5h0M589.5 267.4h0M607.2 371.1h0M610.2 289.3h0M631.3 431.3h0M515.8 310.9h0M515.6 298h0M517.5 414.9h0M594.1 356.5h0M571.9 342.7h0M524.3 481.5h0M564.6 349.2h0M586.3 231.2h0M546.5 428.4h0M597.3 255.6h0M613 186.8h0M669 312.1h0M631 369.9h0M678.1 332.6h0M540.1 248h0M672.3 274.5h0M556 423.7h0M693.8 387.2h0M610.7 179.1h0M572.9 195.1h0M506.4 259.6h0M618.1 186.8h0M514.3 367.4h0M444.8 416.2h0M624.9 292.4h0M575.8 310.2h0M520.8 347.9h0M579.9 248.6h0M576.7 481.2h0M649.7 232.8h0M583.4 305h0M538 304.1h0M524.9 443.4h0M642 233h0M670.8 224.2h0M518.6 488.7h0M572.1 286.6h0M600 397h0M548.6 359.4h0M580.5 264.6h0M565.9 176.8h0M540.3 411.3h0M572.2 366.3h0M655.5 250h0M657.3 215.3h0M551.9 291.9h0M505.6 301.8h0M643.5 158.4h0M623.2 317.6h0M585.1 209.2h0M600.7 354.5h0M601.8 251.7h0M669.8 233.6h0M585.3 207.2h0M667.5 152.7h0M595.8 237.1h0M603 493.7h0M634.2 342.4h0M597.1 225.5h0M568.1 345.7h0M616.7 185.9h0M488.2 354.9h0M522.8 210.6h0M625.9 309.1h0M524.6 319.9h0M589.1 289.5h0M676.6 354.1h0M485.1 292.2h0M475.3 365.9h0M589.5 326.4h0M534.5 305.6h0M516.5 375.8h0M538.2 257.1h0M590.2 165.6h0M488.4 325.3h0M556.6 315.8h0M610.4 164.4h0M562.1 427.7h0M582.5 266.2h0M628.8 336.5h0M538.6 399.7h0M569 316h0M524.6 353.2h0M629.1 280h0M626.4 241.1h0M499.6 447.5h0M596.3 152.9h0M600.5 281.6h0M637.9 281.1h0M531.2 287.6h0M550.5 336.4h0M571.6 416.5h0M651.2 176.9h0M498.1 387.7h0M627.2 234.2h0M512.5 333.5h0M614.5 197.4h0M615.2 221h0M510.8 310.5h0M692.3 230.3h0M646.2 264.8h0M578.5 189.2h0M634 192.8h0M582.9 340.4h0M634.3 276.2h0M611.8 406.5h0M611.3 301.8h0M607.3 260.4h0M556.7 313.9h0M502.4 95.2h0M588.8 416.7h0M603.8 255.5h0M558.9 419.3h0M590 242.2h0M586.1 349.3h0M532.5 220h0M522 210.5h0M479.8 188.6h0M576.4 270h0M522.2 344.7h0M605.1 290.1h0M570.2 308.2h0M642 139.5h0M579.9 245h0M559.5 359.3h0M515.2 280.2h0M655.9 325.4h0M616.1 210.1h0M490 309.1h0M605.4 307.8h0M568.1 326.7h0M509.4 354.4h0M573.7 252.4h0M577.3 297.9h0M515.4 383.7h0M643.3 154h0M546.1 393.3h0M613.8 367h0M599.7 325.3h0M633 244.5h0M603.4 322.2h0M537.1 377.3h0M485.9 297.6h0M672.5 297.7h0M617.3 193.8h0M592.4 372.6h0M485.6 509.7h0M544.3 319.9h0M584.3 278.9h0M521.2 257.9h0M560.1 284.6h0M495.2 240.5h0M550 334.8h0M562.2 312.9h0M600.4 246.7h0M626.1 382.6h0M482.8 291.4h0M556.4 374.6h0M589.8 275.7h0M564 377.3h0M623.4 288.3h0M580.3 383.7h0M605.7 344.2h0M607.6 334h0M601 381.9h0M639.7 376.7h0M518.1 378.9h0M631.4 281.4h0M639.4 356.6h0M677.5 258h0M658 349.6h0M562 337.1h0M476.7 315.4h0M662.4 147h0M586.9 262h0M597 390.6h0M592.5 364.1h0M658.3 409.4h0M572.4 549.3h0M496.4 264.9h0M545.5 280.7h0M485.5 388.8h0M633.1 288.2h0M571.8 360.4h0M521 268.3h0M593.9 263.3h0M606 325.5h0M658.7 151.4h0M688.6 325.4h0M585.2 277.1h0M582.5 296.3h0M594.5 301.6h0M639 199.2h0M520.9 336.7h0M611.7 264.2h0M499.1 368.8h0M582.6 360.2h0M531.4 325.4h0M572.6 273.6h0M616.5 221.2h0M607 288.1h0M615 417.3h0M602.5 422.8h0M545.6 354.2h0M672.3 513.1h0M693 253.9h0M633.9 298.9h0M531.8 282.3h0M607.3 378.1h0M458.4 183.9h0M673.3 224h0M643.6 342.9h0M620.3 269.6h0M671.9 250.6h0M563.7 367h0M573.5 305.7h0M489.9 307h0M438 325.5h0M497.2 222.7h0M579.1 279.4h0M507.7 191.9h0M554 233.7h0M495.9 272.6h0M637.1 316h0M621.4 397.5h0M494 242.2h0M554 307.8h0M553 294.4h0M580.3 315.6h0M553.7 373.9h0M572.4 350.2h0M585.5 263.4h0M584.8 316h0M617.8 365.7h0M539.1 355.7h0M634.2 375.9h0M574.9 236.4h0M614.1 349.2h0M557.8 387.6h0M537 377.7h0M562.7 416.5h0M504.5 347.6h0M683.6 372.3h0M526.2 508.7h0M613.8 121h0M563.4 388.3h0M545.7 378.3h0M591.4 374.1h0M624.8 309.4h0M575.1 339h0M629.9 165.6h0M586.6 270.1h0M584.7 360.7h0M627.4 224.1h0M515.6 376h0M654.1 310.1h0M582.5 294.7h0M614.6 315.6h0M590.4 241.9h0M490.4 283.2h0M463.3 361.3h0M598.6 270.7h0M518.4 121.8h0M583.5 403.5h0M586.2 322.8h0M600.8 326h0M544.4 345.2h0M579.6 324.9h0M621.3 333.8h0M599.4 422.8h0M576.5 358.5h0M544.9 389h0M654.1 385.3h0M610.8 266.9h0M600.5 309.5h0M600.6 293h0M505 240.6h0M472.4 318.8h0M546.5 318.8h0M569.6 353.9h0M587.2 362.5h0M563.7 215.7h0M546.8 332.6h0M611.3 267.6h0M556 389.5h0M575.1 363.6h0M544.9 230.6h0M520.6 295.1h0M611.3 295.2h0M552.9 336.8h0M600.7 354.9h0M572.8 295.2h0M436.1 315h0M609.1 310.4h0M541.7 390.8h0M552.7 378h0M581.1 310.5h0M625.8 274.2h0M540.5 435.1h0M691.5 293.9h0M536.8 366.8h0M613.4 340.9h0M614.8 245.1h0M555.3 382.4h0M583 337h0M555.4 338.7h0M474.1 364h0M569.4 430.7h0M605.3 388.1h0M565 264.4h0M542 261.9h0M565 301.8h0M580.5 202.7h0M485.1 344.8h0M590.2 355.9h0M667.8 222.3h0M618.8 288.2h0M620 270.4h0M513.4 470.3h0M654 215.6h0M575.2 331.7h0M511.3 413.8h0M675.3 306.4h0M547.5 341.3h0M479.6 336.8h0M486 313.5h0M675.9 214.4h0M557 348h0M680.1 250.3h0M562.4 182.1h0M561.8 438.6h0M601.1 254h0M462 338.3h0M511.6 245.8h0M683.9 348.3h0M583.5 430.4h0M555.2 336h0M523.6 294.7h0M555.6 192.2h0M550 274.5h0M634.6 327.7h0M587.3 272.8h0M606.7 161.6h0M524.6 265h0M642.5 360.3h0M644.1 216.7h0M434.4 426.4h0M595 287.7h0M670.5 232h0M600.6 191.7h0M589.1 269.4h0M641.4 272h0M487.7 349.7h0M516.8 294h0M618.3 313.4h0M546 334.8h0M633.2 407.5h0M614.3 338h0M611.8 348.2h0M683.7 260h0M641.9 308.8h0M572.5 176.3h0M646.3 276.7h0M631.3 269.5h0M602.3 152.2h0M492.3 354.7h0M517 219.3h0M663.7 431.8h0M617 269.4h0M608.8 344.1h0M618.1 228h0M579.2 359.3h0M567.3 339h0M661.9 257.7h0M628.2 292.5h0M601.8 371h0M488 362.9h0M651.3 349.7h0M504.9 449.7h0M549.9 326.3h0M600.1 324h0M547.4 310.5h0M577 282.4h0M593.6 268.6h0M494.9 285.5h0M608.2 330.2h0M523.3 396.7h0M598.4 385.8h0M668 291.4h0M592.7 340.6h0M617.2 320.7h0M664.1 151.3h0M543.5 349.8h0M687.2 311.3h0M559.1 352.4h0M506.7 138.5h0M506.8 390.8h0M560.7 166.5h0M508.3 357.7h0M484.8 325.2h0M539.6 308.1h0M489.6 466.3h0M560.2 331.6h0M681.2 288.9h0M670.6 263.8h0M551.6 391.2h0M593.5 412.7h0M608 284.9h0M584.1 341.3h0M624.7 294.3h0M564 360.6h0M553 290.2h0M591.4 466.2h0M577.7 256.5h0M667.5 366.3h0M585 227.8h0M676 383.3h0M479.9 303.3h0M608 319.4h0M525.8 158.5h0M600 342h0M613.3 288.9h0M547.4 225.4h0M634.5 289.6h0M590 265.3h0M586.4 292.8h0M622.9 372h0M617.6 284.3h0M541 309.2h0M582.4 130.8h0M573.7 225.8h0M585.8 384.6h0M579.4 336.7h0M547.8 276.3h0M637.2 264.2h0M638.1 183.3h0M643 313.8h0M491.3 317.6h0M576.3 295.2h0M527.4 203.2h0M534 348.8h0M676 458.8h0M564.7 331.6h0M579.4 294.6h0M569 266.2h0M536.5 338.8h0M455.9 286h0M667.7 245.9h0M505.8 300.3h0M560.1 404h0M610.7 242.7h0M628.1 295.1h0M580.6 329.2h0M551.2 287.1h0M578.3 314.3h0M550 280.5h0M467.4 343h0M564.3 332.2h0M682.9 285.6h0M509.3 342h0M552.6 248.5h0M619.4 298.5h0M629.8 345.4h0M554.9 304.6h0M607.6 270.8h0M647.8 390.2h0M664.3 254.8h0M608.7 283.9h0M480.3 357.2h0M520.3 372.6h0M539.8 339.3h0M570.4 211.9h0M535.3 332.8h0M591.7 264.1h0M507.1 345.5h0M642.4 345.5h0M597.3 330.3h0M507.3 257.1h0M641 312.5h0M592.8 229.3h0M629.3 299.9h0M573.3 389.2h0M669.4 321.7h0M650.3 219.3h0M612.8 301.4h0M658.5 240.9h0M499.4 360.5h0M671.2 251.4h0M540.9 314.6h0M596.1 454.9h0M574.1 431.4h0M692 329.9h0M615 204.4h0M580.3 262.4h0M553.7 158.5h0M574.7 289.1h0M463.2 319.4h0M564.3 140.2h0M643.6 244.5h0M545.1 253.9h0M671.2 71.9h0M546.2 260.5h0M553.7 276.4h0M474.9 342.6h0M692.3 428.4h0M652.3 343.6h0M637.6 369.4h0M644.3 267.4h0M582.6 333.2h0M442.1 318.9h0M563.7 327.1h0M623.4 235.8h0M566.6 342.7h0M591.9 337.7h0M508.5 451.7h0M566.5 140.8h0M639.5 159.1h0M583.6 270.3h0M646.8 382h0M579.5 306.7h0M576 269.6h0M572.2 335.8h0M628.4 377.6h0M587.9 228.9h0M617.4 388.9h0M613.4 310.5h0M649.3 186.8h0M618 399.1h0M578.3 357h0M556.1 244.9h0M555.2 378h0M596.5 391.7h0M566.3 288.4h0M563.4 327.6h0M556.5 302.8h0M576.7 416.5h0M628.5 307.4h0M558 347.5h0M644.3 402.5h0M663.2 317.1h0M599.1 387.6h0M455.1 489h0M675.9 166.4h0M519.7 278.2h0M558.6 338.5h0M591 295.4h0M489.1 310.8h0M622.3 279.3h0M621.3 348.4h0M633 202.6h0M606.1 308.8h0M675.9 213.3h0M558 379h0M594.5 340.9h0M543.1 387.3h0M565.5 305.4h0M563.7 237.3h0M586.8 377.2h0M664.9 328.8h0M666.5 409.6h0M555.4 330.3h0M642.9 272.5h0M510.7 409.6h0M626.9 266.4h0M557.1 212.6h0M568.1 305.2h0M583.6 274.7h0M526.9 282.6h0M527.8 316.8h0M619.4 205.2h0M499.3 436.6h0M648.7 326.7h0M528.4 163.5h0M670.6 253.3h0M485.9 286.2h0M578.6 402.6h0M568.9 290.4h0M567.3 383.2h0M638.4 317.7h0M491.6 353.9h0M503.7 345.4h0M593.2 254h0M626.3 304.5h0M577 304.6h0M598.1 228.5h0M626 463.6h0M522.7 293.9h0M603.1 392.3h0M579.1 271.2h0M434.4 415.4h0M602.7 254.7h0M596.1 201.1h0M621.1 294.7h0M641.8 299.2h0M651.6 478.6h0M531 200.8h0M548.6 417.5h0M563.7 389.1h0M521.9 312h0M591.8 397.8h0M648.5 224.3h0M548.3 431.8h0M596.3 338.6h0M609 257h0M578.6 435.2h0M523.8 357.7h0M613.4 307.5h0M511.3 254.6h0M662.9 308.8h0M596.7 288.9h0M594.4 307.4h0M568.1 368.1h0M641.7 423.5h0M573.9 380.6h0M568.6 287.7h0M562 412.1h0M572.2 307.4h0M530 244.8h0M487.9 368.8h0M559.2 280.1h0M670.2 290.2h0M630.9 122.2h0M586.9 411.3h0M554.9 282.9h0M676.2 310.5h0M559.7 409.8h0M525.7 363.2h0M444 492.4h0M652.7 309h0M663.7 405.4h0M543.7 431.2h0M677.5 256.3h0M599.5 191.2h0M489.9 436.9h0M599 346.4h0M647.4 306.9h0M474.5 316.3h0M633.9 367.8h0M601 275.1h0M552.8 341.9h0M501.5 263.6h0M570.8 366.3h0M614 274.6h0M655.5 379.9h0M640.6 271.6h0M622.3 333.1h0M616.9 324.2h0M660.2 336.1h0M598.5 385.4h0M631.9 326.8h0M564.7 204.3h0M563 318.1h0M552.1 265.4h0M610.3 324.9h0M566.5 348h0M595.3 188.2h0M692.1 365.3h0M495.2 311.5h0M630.2 366.9h0M552.8 178.3h0M645.6 399.7h0M557.3 406.3h0M561.2 406h0M637.1 341.9h0M596.4 357.1h0M501.9 215.9h0M483.3 227.5h0M581.4 350.5h0M586.5 283.8h0M564.7 273.7h0M650.6 274.8h0M622.4 233.1h0M546.7 248.9h0M597.6 296.6h0M693.2 270.4h0M505.9 385.1h0M667.4 220.7h0M638 391.8h0M567.8 263.7h0M611.2 343.3h0M656.4 311.5h0M551.4 361.7h0M631.4 366h0M580.4 186.6h0M509.3 339.9h0M582.8 330.6h0M539.5 261.8h0M649.3 223.4h0M653.5 272.6h0M550.1 364.5h0M620 377.5h0M562.9 258.2h0M450.8 367.2h0M603.9 346.9h0M563.5 391.8h0M560.4 315.2h0M587.5 315.4h0M594.1 331h0M587.3 287h0M665.8 274.1h0M554 284.4h0M632.4 306.9h0M524.8 365.3h0M523.6 224.7h0M610.3 306.6h0M597.9 379.1h0M677.1 233.1h0M547 304.6h0M576.5 337.3h0M489.5 226.5h0M548.8 308.9h0M595.7 369.7h0M574.5 315.2h0M529.8 308.1h0M551.1 240.4h0M557.6 322.1h0M466 83.5h0M655.9 272.8h0M640.5 286.5h0M540.5 405.1h0M533 281.2h0M591.3 354.5h0M570.3 258h0M561.8 213.1h0M581 261.1h0M617.7 278.6h0M588.3 345.4h0M579.9 412.5h0M599.5 333h0M463.5 304.4h0M636.3 417.3h0M542 213h0M611.8 326h0M519.4 336.6h0M581 342.7h0M526.3 359.4h0M437.8 257.6h0M629.6 505h0M530 187.7h0M641 263h0M588.4 374.3h0M544.4 322.6h0M581 271.2h0M598.3 232.2h0M605.3 286.2h0M694.1 299.1h0M590 364.6h0M567.2 234.4h0M530.9 230.4h0M679.6 366.1h0M684.5 340.8h0M602.8 252.7h0M617 273h0M603.2 282.9h0M541.8 286h0M501.5 354.8h0M546.1 288.7h0M566.9 354.2h0M550.9 327.4h0M572.1 354.3h0M573 271.5h0M607.5 174.4h0M624.2 251.2h0M586.6 275.8h0M661.7 394.4h0M647.7 233.2h0M546.6 263.3h0M503.1 314.3h0M569.8 305h0M669.1 309.7h0M612.4 363.1h0M561.8 369h0M670.5 370.7h0M581.2 440.7h0M597.8 340.2h0M686.6 349.1h0M584.1 284.9h0M602.4 311.7h0M634.5 212.7h0M451.6 389h0M572.7 347.4h0M592.4 223.9h0M648.3 265.3h0M536.1 326.7h0M635.9 176.7h0M545.1 359.1h0M566.9 173.9h0M667 158h0M585 215.4h0M643.3 404.9h0M598.4 162.4h0M573.5 324.7h0M600.3 295.8h0M570.1 254.7h0M508.5 309h0M606 290.4h0M628.2 260.1h0M558 333.9h0M617.1 305.7h0M606.6 269.4h0M621.3 308.1h0M530.4 398.1h0M601.3 247.2h0M663.4 239h0M652.1 445.6h0M663.4 276.6h0M559 293h0M582 247.5h0M567.9 287.7h0M673.8 207.8h0M621.4 214h0M487.1 257.9h0M628.7 315.3h0M600 331.1h0M589.5 239.4h0M672.4 194.4h0M575.7 262.5h0M538.9 214h0M641 270.9h0M595 322.2h0M583.7 319h0M602.3 302.7h0M662.9 443.8h0M578.2 175.3h0M556.5 416.4h0M483 305.9h0M538.5 306.4h0M525.2 299.4h0M611 356.9h0M639.8 318.4h0M598.4 301.2h0M542.3 353h0M537.9 367.3h0M593 533.6h0M571 256.5h0M650.7 188.6h0M606.9 301.1h0M627.6 311.8h0M540 296.3h0M532.3 269.4h0M567.2 324.8h0M594.9 251.1h0M477.4 287.5h0M579.7 305.3h0M648.2 300h0M594.8 232h0M647 318.2h0M628.8 259.6h0M525.1 272.9h0M557.9 451.8h0M509.8 280.3h0M597.7 291.3h0M551.3 302.6h0M598.2 323.9h0M472.4 278h0M578.7 475.4h0M577 294.7h0M521.3 401h0M542.4 231.4h0M596.9 240h0M622 230.2h0M570.5 295.4h0M508.4 343.8h0M629.7 420.2h0M591.8 334.6h0M633.9 364.8h0M572.6 319.8h0M657.7 310.2h0M548.8 268.2h0M657.4 266.3h0M535.4 350.3h0M594.2 457.7h0M585 405.2h0M609.6 243h0M690.7 276.3h0M542.3 339.5h0M628 109.5h0M599.8 211h0M666.8 231.8h0M632.2 311.3h0M622.8 317.7h0M587 312.3h0M614.4 199h0M525.2 343.6h0M550.5 138.9h0M597.3 273.3h0M614.4 398.4h0M622.7 300.9h0M524.8 320.2h0M559.2 365.2h0M638.5 346.3h0M642.9 252.8h0M535.3 195.7h0M547.5 332.9h0M614.9 253.5h0M454.3 251.2h0M677.6 350h0M510.5 222.9h0M608.4 301.6h0M566.9 324.3h0M525.7 302.3h0M579.5 258.4h0M577.6 307.2h0M608.2 338.4h0M615 311.5h0M632.2 268.1h0M598.1 132.1h0M561.8 365.3h0M572.3 310.3h0M572.7 458.6h0M580.1 303.7h0M434 510.7h0M553.6 299.5h0M650.4 312.5h0M531.8 395.3h0M571.8 365.6h0M507.9 284.2h0M678.4 342.2h0M518.5 265.7h0M584.1 263.7h0M576.4 334.3h0M656.4 346.6h0M553.9 395h0M616.3 165.2h0M494.9 450.1h0M623.3 320.5h0M606.8 228.8h0M578.3 283.4h0M584 219.3h0M561.7 422.2h0M626.2 288.3h0M587 389.4h0M646.8 374.1h0M660.3 220h0M675.8 286.5h0M587.9 334.3h0M608.4 427.5h0M553.2 241.2h0M612.3 352.4h0M592.9 309.4h0M642.3 411.9h0M656.7 322.5h0M635.8 295.9h0M559.1 348.9h0M602.6 184.1h0M613 305h0M558.3 345.7h0M612.1 214.4h0M580.5 73h0M547.2 103.8h0M483.5 355.2h0M479.1 540.7h0M640.2 416.2h0M585.7 234.7h0M693.4 319h0M629.3 375.1h0M599.4 368.3h0M542.9 325.3h0M551.7 320.7h0M563 231.4h0M600.4 395.4h0M650.6 197.6h0M597.2 192.2h0M626.4 238.5h0M565.2 334.4h0M554.6 375.8h0M596.5 301.5h0M619 275.9h0M615.8 201.9h0M609.7 343.6h0M531.5 221h0M530.1 261.5h0M582.3 223.4h0M643.9 335.7h0M500.6 357.4h0M595.8 281.2h0M579.2 252.6h0M468.3 257.3h0M686.5 327.1h0M617.1 344.3h0M642.1 370.2h0M469.1 268.2h0M595.7 354.1h0M598.4 278.6h0M687.2 152.1h0M570.1 266h0M526.4 282.3h0M557.6 330.9h0M564.3 362.8h0M576 369.5h0M672.8 323.2h0M535 244.4h0M677.7 172.9h0M539 299.7h0M616.1 254.9h0M640.4 252.9h0M580.9 327h0M591.8 290.6h0M518.2 282h0M550.2 284.6h0M641.8 262h0M561.4 287.2h0M556.5 209h0M587.7 222.9h0M559.9 322h0M609.4 149.9h0M576.1 340.5h0M596.5 301.2h0M592.6 107.6h0M540.1 319.5h0M612.7 250.6h0M625.1 338.7h0M542.8 418.3h0M550 310.4h0M652.4 294.6h0M596.3 276.8h0M622.9 286.3h0M553.9 398.2h0M587 367.8h0M509.4 292.9h0M600.3 361.5h0M562.7 324.9h0M608.5 286.1h0M627.4 345.6h0M474.1 151.3h0M584.3 372.8h0M608.2 453.6h0M583.6 137.2h0M548.3 306.7h0M619.8 341.5h0M559.3 353h0M527.4 397h0M672.4 162.2h0M561.5 266.3h0M595.5 204.4h0M594.4 257.4h0M541.4 294.4h0M572.7 179.7h0M587.2 274.6h0M625.4 182.6h0M672.4 291.3h0M584.2 347.2h0M627.4 324.2h0M483.8 329.7h0M590.2 283.9h0M525.7 232.3h0M563.2 361.9h0M578.8 266.8h0M579.2 320.9h0M659.7 195.1h0M634.2 268.4h0M528.3 292h0M587.2 241.2h0M642.8 364h0M590.8 349.6h0M599.9 306.4h0M571.8 287.4h0M460.2 335.7h0M495.8 416.3h0M591.2 333.1h0M578.7 229.9h0M563.9 172.4h0M602.4 254.7h0M549.4 355.6h0M627 152.1h0M557.5 298.1h0M521.7 298.6h0M587.2 337.9h0M562.7 312.3h0M658.7 335.5h0M616.1 413.1h0M612.9 279.4h0M567.1 337.4h0M662.2 190.6h0M578.8 291h0M538 331.8h0M613 237.5h0M590.9 435.9h0M587.1 255.8h0M599 344.5h0M579.6 291h0M571.2 288.9h0M551.6 281.4h0M655.3 359.2h0M567 214.5h0M634.4 194.1h0M616.4 330.4h0M645.6 236.3h0M661.5 217.2h0M657.9 283.2h0M578.3 361.1h0M589.7 365.7h0M548.9 407.4h0M508.5 271.8h0M560.3 379.3h0M576.9 285.6h0M659.3 358.9h0M635.2 335.6h0M527.2 417.6h0M551.1 202h0M449.2 238.4h0M580.6 344.6h0M568.5 325.2h0M581.7 220.6h0M627.8 315.5h0M566.8 268.2h0M645.3 345.6h0M503.7 344.9h0M663.8 421.5h0M603.4 273.3h0M571.9 315.8h0M581.8 354.3h0M628.5 391.7h0M563.7 352.6h0M604.5 383.6h0M541.2 322.5h0M620.1 286.7h0M603.2 311.9h0M575.8 324.3h0M574.8 339.3h0M533.2 339h0M612.5 309.4h0M566.3 249h0M516.7 138.4h0M554.8 234.2h0M610.5 356.1h0M639.4 394.2h0M613.3 411.2h0M574.1 309.2h0M614.1 396.7h0M584.3 270.4h0M568.6 213.8h0M607.3 245h0M439.9 419.9h0M556.4 352h0M501.7 330h0M504.1 151.3h0M481.4 388.3h0M561.3 333.3h0M528.4 340.7h0M628.7 233.5h0M694.2 319.5h0M668.5 258.1h0M670.1 178.8h0M587.3 327.5h0M620.1 299.4h0M596 206.2h0M595.9 209.7h0M581.3 340.8h0M678.4 512.2h0M549.4 206.6h0M559.4 283.7h0M588.8 208.1h0M629.9 334.8h0M599.3 205.6h0M535.4 241.1h0M544 392.3h0M549 330.6h0M658.9 293.9h0M532.8 249.8h0M626.5 240.2h0M599.2 352.9h0M545.4 309.6h0M561 325.3h0M597.7 210h0M645.2 409h0M624.2 326.9h0M682.6 304.9h0M629.8 415.2h0M612.4 331.5h0M551.4 400.2h0M565.2 252.9h0M606 338.4h0M592.3 293.1h0M665.5 355h0M568.5 382.8h0M480.6 331.3h0M620 325.5h0M474.4 354.6h0M628.6 276.6h0M597.6 324.5h0M490.7 303.6h0M646.2 257h0M555.4 242.1h0M651 213.9h0M496.1 420.3h0M641.5 317.6h0M560.8 209.1h0M564.5 398.9h0M551 315.6h0M603 256.5h0M595.1 396.2h0M602.5 256.3h0M672.9 266.6h0M610.9 280.2h0M631.9 143.2h0M617.9 258.5h0M647.3 370.8h0M567 352.6h0M578.8 365.7h0M596.5 302h0M575 254.8h0M606.7 302.2h0M575.8 225.8h0M579 324h0M596.8 280.9h0M553.2 357.1h0M547.2 327h0M540.5 293h0M631.2 292.9h0M557.3 326.5h0M592.3 285.2h0M547.5 321.5h0M554.1 386.5h0M567.5 341.7h0M559.4 272.6h0M455.6 457.2h0M594.9 279.8h0M613.7 292.7h0M640.3 381.1h0M645.1 245.6h0M544.9 349.8h0M610.6 367.7h0M554 360.3h0M632.1 299.1h0M528.7 176.8h0M611 328h0M528.6 350.4h0M600.5 317.5h0M690.6 346.9h0M593.8 297.4h0M596.4 410.4h0M527 285.7h0M634.1 372.4h0M570.6 279h0M570.9 302.7h0M675.1 140.7h0M562.7 350.2h0M572.8 331.1h0M669.3 225.9h0M526.1 330.1h0M573.9 352.5h0M596.5 342.1h0M549.9 329.4h0M641.5 282.3h0M641 379.6h0M618.6 296.6h0M667.6 407.8h0M609.2 288.5h0M544.3 399.8h0M638.9 294.4h0M593 354.2h0M603.3 222.4h0M501.6 319.4h0M585.7 308.7h0M634.1 282.1h0M585.6 344.6h0M607.6 293.1h0M535.7 294.6h0M522.7 366.6h0M544.7 326.4h0M555.1 248h0M621.4 375.4h0M580 277.7h0M675.7 352.4h0M621.9 274.6h0M599.1 342h0M579.6 335.8h0M528.8 401h0M588.9 308.8h0M585.9 252h0M507.7 252h0M571.9 317.6h0M571 240.4h0M673.2 152.9h0M556 313.2h0M639.7 296.2h0M581.8 319.3h0M557.1 350.4h0M569.2 445.4h0M558.9 403.2h0M654.3 76h0M599.2 272.6h0M552 320.4h0M652.8 338.2h0M531.6 174.3h0M569.5 87.2h0M460.1 201.7h0M610.3 352.7h0M495.3 316.5h0M597.7 211.4h0M561.8 405.1h0M610.4 304.7h0M540.1 93.1h0M557.8 387.1h0M515.7 342.9h0M586.2 297.7h0M612 300.2h0M592.4 353.8h0M640.4 188.9h0M565.5 377.7h0M622.4 170.2h0M569.7 256.2h0M578.5 276.9h0M612.7 302.4h0M580 286h0M606 292.1h0M620.1 330.8h0M608.9 155.7h0M485.1 148.1h0M663.8 180.3h0M669.5 302.4h0M521.8 240.8h0M563.1 238.7h0M605.2 349.5h0M573.8 334.9h0M500.7 319.2h0M569.9 308.4h0M577.7 294.3h0M597 250.2h0M661.9 291.4h0M651.8 242.7h0M672.5 239.7h0M475.4 387.9h0M506 356.3h0M577.8 365.1h0M599.7 358.4h0M569.2 305.9h0M571.3 386.6h0M572.3 296.2h0M497.7 339h0M578.3 257.9h0M658.5 254.9h0M679.6 348.8h0M613.5 354h0M575.1 244.7h0M645.2 300.4h0M559.1 296.8h0M641.9 263.2h0M604.3 293.1h0M553.7 319h0M468 408.8h0M489.9 339.8h0M606 204.2h0M546.5 223h0M606 323.5h0M614.6 305.1h0M494.1 292.3h0M577.1 260.5h0M580.5 308.6h0M518.7 194.6h0M551.5 280.3h0M467 354.1h0M532.8 289.6h0M591.3 223.7h0M580.6 284.3h0M686.6 447.9h0M514.7 360.4h0M652.9 197h0M641.7 337h0M628.8 187h0M599.6 373.2h0M598.6 387.6h0M543.3 344.1h0M558.2 344.5h0M506.1 231.5h0M558.7 368.4h0M658.2 243.7h0M514.2 291.5h0M587.8 376.2h0M615.8 287.8h0M566.1 410.9h0M670.1 315.1h0M654.8 294h0M509.2 367.4h0M578.1 397.2h0M570.1 416.4h0M537.4 359.3h0M481.3 491h0M555.2 340.6h0M605.4 272h0M574.8 342.7h0M560.2 236.7h0M577.1 319.9h0M568 406h0M496.4 327.7h0M601.8 247.7h0M599.1 236.9h0M610.7 305.5h0M548.2 226.5h0M568.8 304.6h0M536.9 326.4h0M607.4 287.9h0M677.1 273.1h0M655.9 158.6h0M482.8 435.9h0M607.2 305.6h0M447.5 374.3h0M624.6 325.3h0M609.9 447.7h0M645.2 440.7h0M562.1 179.5h0M629.6 348.3h0M558.6 346.1h0M583.9 319.6h0M578.8 289.5h0M610.1 359.3h0M566.8 380.9h0M529.6 367.1h0M587.8 262.1h0M535.2 341.4h0M477.6 350.6h0M533 239.8h0M651.3 430.5h0M484.3 152.5h0M665.3 173.1h0M659.6 239.3h0M549.8 315.2h0M570.1 223h0M557.5 289.7h0M577.2 144.9h0M499.4 446h0M632.8 267.4h0M605.9 322.1h0M641.1 400.2h0M599 298h0M532.6 285h0M605.8 318.1h0M675.2 257.9h0M653 347.3h0M618.9 334.2h0M539.6 246h0M631.8 331.3h0M612.7 286.5h0M616.1 230.5h0M485 437.6h0M563.8 284h0M531.8 409h0M577.3 297.6h0M666.1 266.5h0M581.9 348.6h0M508.9 324.1h0M530 253.8h0M634.3 328.1h0M593.4 334.9h0M653.5 347.9h0M521.2 285.9h0M583.5 340.8h0M481 199.1h0M593.2 245.5h0M547.9 395.5h0M667.2 283.3h0M596.2 437.1h0M555.2 204h0M626.5 317.2h0M602 204.9h0M567.6 300.1h0M640.1 301.5h0M614.1 252.2h0M693 75.4h0M517.3 327.9h0M449.8 341.4h0M544.1 176.2h0M613.3 276.8h0M555 340.1h0M565.9 280.7h0M584.8 266.5h0M592.4 281.1h0M554.9 455.1h0M684.1 330.6h0M436.7 176h0M620.8 370.3h0M603.1 279.6h0M583.5 254.8h0M549.7 349.5h0M613.8 437.6h0M500.5 442.1h0M658.6 210.3h0M575.9 435.5h0M567.7 367.8h0M541 292.8h0M545.5 422.9h0M567.6 216.8h0M519.8 351.6h0M557.6 293.3h0M617.9 374.2h0M559.4 317h0M629.5 337.8h0M654.4 391.6h0M575.3 364.5h0M618.6 333.5h0M656.6 281.3h0M538 227.7h0M531.4 383.9h0M556.2 310.8h0M607.7 379.3h0M603.9 219.7h0M595.1 347.5h0M567.5 228.9h0M576.2 283h0M488.1 393.9h0M586.3 261.6h0M561.1 283.3h0M612.2 275.1h0M601.1 391.8h0M618.1 293.4h0M579.2 373.1h0M544.9 335.7h0M541.1 350.5h0M567.6 268.6h0M450.2 477.1h0M588.1 349h0M519.6 298.3h0M458.1 283h0M553.8 336.5h0M541.9 294.1h0M600.6 231.1h0M624.8 326.7h0M599.7 483.7h0M477 371.3h0M664.8 334.8h0M612.3 327.1h0M632.8 325.3h0M579.2 285.7h0M443.4 364.8h0M645.9 290.1h0M582.3 321.7h0M566.2 290.8h0M536.5 297.6h0M579.5 341.3h0M621.7 297.3h0M591.4 338.7h0M590.4 360.4h0M690.5 344.3h0M551.7 311h0M657 218h0M559.9 376.2h0M539.8 267.2h0M645.2 103h0M555.9 397.5h0M544.4 285.1h0M628.1 438.1h0M629.9 315.2h0M635.2 281.7h0M520.8 412h0M550.5 331.6h0M522.3 372.9h0M543.2 357.1h0M528.8 317.3h0M642.2 346.3h0M583.6 160.3h0M582.2 366.8h0M609.7 391h0M585.2 329.2h0M601.4 211.6h0M571.1 389.6h0M550.9 416.3h0M630.1 182.3h0M538.7 289.4h0M619.5 284.5h0M667.1 301.3h0M677.3 348.5h0M642.1 326.6h0M543.5 496.5h0M462.7 187.2h0M639 226.4h0M599.2 358.4h0M671.7 274.5h0M583 238.1h0M475 243h0M551 349.3h0M586.6 248.4h0M689.6 318.5h0M547.6 275.5h0M439.2 225.6h0M615.2 194.1h0M539.5 216.7h0M564.4 210.7h0M628.1 354.5h0M649.8 329.9h0M527.3 372.5h0M563.5 355.8h0M541.1 487.1h0M687.3 404h0M590.7 306.8h0M625.8 312.8h0M472.5 368.8h0M549.9 355.1h0M516.9 321.7h0M600.1 391.6h0M494.3 549.6h0M541.4 228.3h0M498.4 144.5h0M652.1 283.6h0M660.7 160.9h0M499.3 292.1h0M669.6 440.9h0M560.8 338.4h0M611 351.7h0M656.8 389h0M613.3 242.7h0M541.2 262.6h0M617.4 270.3h0M464.2 440.5h0M646.7 406.5h0M617.6 285.6h0M560.4 176.6h0M663.2 367h0M621.3 299.3h0M539.7 309.5h0M615 347.4h0M520.3 306.6h0M686.3 432.2h0M602 406.6h0M617.5 294.1h0M604.4 444.5h0M609.6 339.3h0M616.1 333.1h0M538.5 246.7h0M599.7 359.1h0M569.4 311.6h0M687.8 176.6h0M606.1 252.9h0M639.3 307.7h0M573.1 367.6h0M586.8 308.3h0M633.7 269.4h0M599.3 237.6h0M534.3 274.4h0M577.9 287.8h0M607.5 271.9h0M583.7 296.7h0M672.8 289.5h0M604.3 327.6h0M513.9 484.3h0M569.9 345.6h0M482.8 313.5h0M664.9 254.6h0M534 330.9h0M501.9 318.9h0M567.2 308.9h0M604 332.7h0M585 270.8h0M549.3 277.9h0M631.4 272.6h0M620.5 377.2h0M670.6 290.7h0M619.8 420.2h0M498.6 386.6h0M493.3 349.1h0M673.5 301.2h0M661.8 282.2h0M591.3 274.2h0M637.7 299.7h0M657.2 285.8h0M620.8 347.9h0M580.5 331.9h0M512.3 383.7h0M622.7 201.3h0M548.2 326.8h0M581.1 344.7h0M558.1 345.9h0M570.2 332.4h0M624.9 384.9h0M652.2 212.1h0M564.9 403.2h0M559 391.3h0M635.8 330.5h0M652.8 284.8h0M596.5 206.7h0M569.1 196h0M577 331.5h0M622.7 500h0M616.8 347.3h0M594.6 355.2h0M509.3 206.9h0M566.6 414.7h0M630.1 292.1h0M595.1 394.9h0M509.8 290.7h0M492.5 254.4h0M683.3 264h0M654.4 232h0M642.4 341.5h0M595.7 344.1h0M435.4 245.2h0M557.3 446.4h0M600.1 333.9h0M602.4 369h0M458.3 305.7h0M679.8 325.9h0M599.3 324.5h0M577.6 274.4h0M568.6 336.5h0M598.5 276.1h0M610.1 279.1h0M587.6 326.5h0M615.8 225.4h0M670.2 279.1h0M645.2 272.6h0M606.7 347.3h0M552.8 321h0M681.9 193.4h0M511.8 341.7h0M589.5 365.2h0M611.8 339.7h0M577.4 401h0M593.3 376.2h0M494.5 336h0M656.5 192.6h0M577.7 332.3h0M621.9 361.7h0M581.2 312.9h0M560.2 252.4h0M524.8 453.2h0M587.2 315.7h0M634.4 397.4h0M599.1 261.4h0M583.4 230.9h0M676.8 272.9h0M481.5 415.5h0M547.5 326.5h0M573.9 300.7h0M595.6 487.6h0M623.4 233.5h0M614.6 379.4h0M547.7 363h0M554.8 341.6h0M675.1 318.5h0M613.6 264h0M607.2 254h0M677 199.2h0M550.3 339.1h0M556.6 338.3h0M547.8 428.3h0M573.9 280.8h0M569.9 227.1h0M685.1 320.1h0M612.7 335.7h0M513 318.7h0M591.4 266.9h0M528 385.3h0M634.8 296.6h0M595 347.2h0M658.7 291.2h0M672.8 311.6h0M597 335.4h0M618.3 304.9h0M568.1 259.9h0M492 366.6h0M598.2 410.9h0M658.4 292.3h0M562 261.7h0M536.9 268.4h0M602.2 383.5h0M593.2 300.3h0M636.7 198.7h0M571.2 230.2h0M589.9 257.8h0M606.8 254.7h0M590 342.2h0M655.8 340.2h0M596.5 289h0M551.3 343h0M634.1 358.4h0M623.6 294.5h0M532 342h0M561.9 320.4h0M545.5 418.7h0M677.7 245.4h0M536.2 212.2h0M608.7 256h0M541.6 154.9h0M617 318h0M586.9 241.1h0M569 367.7h0M647.1 259.8h0M581 353.5h0M595.3 306.8h0M599.3 271h0M652.2 243.4h0M611.5 463.5h0M638.1 429.8h0M543.5 310.5h0M506.9 362.4h0M441.6 355.2h0M530.5 324h0M479.1 482.2h0M446 346h0M567.2 175.2h0M583.1 379.6h0M505.9 267.4h0M564 337.7h0M655.9 286.8h0M648.5 199h0M655 184.4h0M630.6 308.9h0M516.7 291.7h0M520.6 242.2h0M646.5 182.8h0M560 328.7h0M532.8 268.7h0M563.3 371h0M627.7 320.2h0M608.5 328.8h0M602.1 258.6h0M639.6 226.6h0M531.1 344h0M586.2 369.1h0M611.2 378h0M513.6 342.2h0M587.2 220.9h0M668.8 339.2h0M661.2 344.1h0M600.1 294.1h0M583.3 317.3h0M643.3 339.9h0M505.1 320h0M651.7 196.2h0M582 333.1h0M595.1 398h0M570.1 353.3h0M592.5 292.4h0M592.2 340.9h0M564.7 305.2h0M596.6 328.6h0M580.9 399.4h0M694.5 259.8h0M629.6 359.7h0M614.6 294.6h0M624.6 428.4h0M458.2 430h0M575.5 379.6h0M590.4 227.7h0M606.9 338.3h0M648.5 152h0M485.6 452.9h0M508.1 230.2h0M564.6 223.3h0M487.2 309.2h0M646.4 242.1h0M553.7 342.7h0M623.5 378.2h0M496.9 372.3h0M679.6 330.1h0M649.2 263h0M534 287.9h0M456.4 283.7h0M618.6 258h0M689.6 230.8h0M532.8 404.6h0M598.1 309.3h0M559.2 383.5h0M578.4 363.5h0M663 355.2h0M551.4 306.5h0M566.6 247.1h0M588 255.2h0M678.9 223.9h0M576.1 226.9h0M615.5 201.2h0M629.9 282h0M617.9 366.6h0M651.7 389.6h0M548.4 303.1h0M551.7 244.7h0M607.2 252.8h0M593.3 319.9h0M563.4 360.6h0M623.6 367.6h0M538.1 223h0M621.7 298.7h0M615.3 281.2h0M619.9 392.7h0M610.5 335.7h0M561.2 244.1h0M615.8 286.3h0M593 457.8h0M661 278.3h0M557.9 325.7h0M595 332h0M524.8 173.5h0M644 460.5h0M631.3 282.8h0M575.5 254.3h0M488.6 92.1h0M620.4 292.4h0M592.1 341h0M574.6 241.3h0M554.2 299.8h0M589.5 277.4h0M647.7 501h0M572.3 306.8h0M443.4 340.8h0M558.7 347.6h0M458 279.2h0M529.8 323.1h0M563.1 287.7h0M517.2 396.3h0M642.4 310.2h0M548.5 306.2h0M572.5 296.9h0M641.6 232.9h0M557.5 329.8h0M573.2 334h0M608.8 223.2h0M599 387.1h0M580 328h0M558.9 344.9h0M565.7 249.1h0M546.2 318.3h0M628.4 286h0M686.2 150.1h0M593.4 342.7h0M529.6 275.9h0M655.6 262.1h0M567.5 271.6h0M524.5 381.9h0M659.3 228.9h0M566 281.2h0M578.1 389.4h0M567 307h0M685.6 480.3h0M612.3 291.4h0M438 381.1h0M548.3 334.4h0M619.4 346.5h0M572.3 372h0M580.6 253h0M609.3 367.4h0M569.5 348.2h0M648 265.9h0M585.7 301.1h0M566.4 403.6h0M505.4 325.3h0M658.8 129.9h0M622.5 351.8h0M469.7 148.2h0M556 166.4h0M586.4 325.3h0M522.5 307.4h0M627 204.7h0M563.3 261.9h0M593.5 414.2h0M624.7 376.2h0M557.9 331h0M589.1 275.2h0M469.6 274.7h0M673.8 424.3h0M653.2 245.3h0M658.9 136.9h0M560.5 343.3h0M539 179.3h0M576.5 294.4h0M582 333.5h0M579.5 247.8h0M488.4 546.7h0M548.1 268.3h0M637.3 442.2h0M572.5 348.2h0M588.2 286h0M571.2 221.7h0M637.7 280.5h0M511 344.8h0M552.6 112.9h0M442.4 328.1h0M598.7 339.9h0M600.6 238.5h0M621.4 349.6h0M663.9 230.2h0M588.8 244h0M553.4 352.1h0M608.5 272.5h0M595.6 262.2h0M516.1 391.1h0M586.1 312h0M670.9 288.9h0M488.4 373h0M530.1 288.7h0M477.2 360.2h0M563.5 314.6h0M578.7 280.3h0M514 333.9h0M587.3 332.6h0M566 362.7h0M614.9 173.9h0M618.3 317.5h0M674.9 304.1h0M569.8 260.7h0M670.7 294.6h0M611.4 313.2h0M665.3 291.2h0M606.8 290.2h0M612.3 354.4h0M579.9 328.3h0M570.4 358.3h0M634.2 401h0M665.5 468.8h0M617.4 291.5h0M622.6 272.7h0M570.6 361h0M487.1 257h0M581.8 351.7h0M594.3 303.3h0M480.4 394.8h0M588.7 270.1h0M543 95.9h0M551.7 236.3h0M476.1 386.7h0M567.2 242.5h0M630.6 308.7h0M582 360.3h0M486.5 302.5h0M578.4 305h0M677.6 239.7h0M528.2 300.9h0M514.7 416.3h0M653.8 302h0M527.4 368.5h0M611.1 330.9h0M592.6 347.5h0M570.3 408.5h0M588 369.7h0M643.7 217.9h0M622 358h0M596.4 338.5h0M578 428.6h0M541.5 327.3h0M562.7 250.8h0M677.8 351.1h0M562.6 325.4h0M499.8 181.5h0M632.3 282.7h0M543 325.6h0M616.8 271.6h0M612.6 336.9h0M653.7 284.8h0M534.5 454.2h0M578.2 410.7h0M561.1 282.7h0M550.9 358.4h0M436.8 399.1h0M559.8 334.1h0M608.5 178.8h0M489.6 288.3h0M553.7 351.4h0M619 285.6h0M547.6 370h0M543.8 327.8h0M580.7 393h0M563.8 342.7h0M626.4 305.3h0M568.6 283h0M666.4 430.1h0M605.8 317.3h0M657.2 298.3h0M611.4 313.5h0M596.1 290.4h0M586 328.2h0M528.2 130.9h0M629.7 195.1h0M562.6 277h0M611.2 279.4h0M497.3 355.2h0M620.1 310.6h0M506 394.1h0M576.1 183.4h0M553.4 352.3h0M637.6 414.9h0M624.6 312.5h0M512.7 374.9h0M532.7 369h0M624.4 386.8h0M581.1 402.1h0M553.9 322.3h0M534.4 326.9h0M568 289.4h0M608.5 304.2h0M625.1 269h0M560 341.1h0M659.5 307h0M546.9 384.4h0M471.5 370.6h0M601 351.1h0M623 335.3h0M561.7 208.6h0M600.1 357h0M575.7 286.7h0M591.9 352.2h0M579.8 274.8h0M503.1 357h0M475.2 299.6h0M590.3 314.5h0M644.7 357.9h0M477.7 301.7h0M598.3 251.4h0M584.3 448.2h0M647 262h0M584.9 340.5h0M608.6 350h0M623.3 355.3h0M575.9 373.6h0M655.5 287h0M623.9 187.7h0M573.7 277.5h0M613.2 248.6h0M556.7 231h0M550.3 411.6h0M567.1 271.2h0M604.4 239.6h0M516.4 253h0M664.1 326.7h0M630.1 182h0M637.5 360.8h0M486.4 342h0M554.7 370.6h0M481.8 387.5h0M630.2 305.1h0M591.1 389.4h0M522.3 317.4h0M683.7 305.3h0M611.5 326.1h0M582 317h0M596.4 351.1h0M551.2 380h0M516.9 304h0M591 277.8h0M683.1 413.9h0M587.2 318.7h0M460.4 310.7h0M679.9 324.3h0M595.6 329.5h0M605.8 294.8h0M483.5 304.3h0M562.2 236.2h0M608.6 279h0M615.1 225.5h0M565.4 295.1h0M615.7 300.1h0M630.2 134.1h0M580.4 405.8h0M641.4 311.9h0M657.4 252.1h0M545.5 344.7h0M583.4 316.5h0M548.3 294.8h0M543.5 470.1h0M589.9 191.3h0M570.6 347.5h0M622 274.5h0M603.1 241.7h0M684.2 236.9h0M569.9 278.6h0M607.8 306.6h0M602 281.7h0M637 365.2h0M548.9 206h0M576.5 188.6h0M645.6 305.6h0M571.3 352.1h0M623.6 323.6h0M674.4 258.1h0M514.8 493.1h0M569.8 199.9h0M560.6 171.6h0M542.4 506.5h0M579.4 253.5h0M572.9 507.3h0M569.3 332h0M490 434.5h0M515 413.7h0M587.9 351.4h0M578.3 267.7h0M513.8 448.2h0M539.3 294.3h0M515.8 314.2h0M653.7 202.1h0M544 418.7h0M589.8 194.5h0M632.1 223.8h0M555.2 342.1h0M578.2 267.7h0M562.7 314.9h0M588.6 243.9h0M564.2 319.1h0M558.4 331.6h0M574 390.7h0M583 174.5h0M577.1 302.7h0M627.8 221h0M668.8 270.5h0M629.9 217.7h0M690 248.7h0M530.9 268.3h0M589.5 241.2h0M537.7 336.7h0M536.4 340.5h0M560.2 358.8h0M576.3 326.5h0M579.6 270.9h0M646.7 152.2h0M559.2 310.6h0M563 328.4h0M613.2 344.6h0M455.2 75.6h0M574.7 309.8h0M573.9 272.2h0M519.6 415.2h0M522 404.9h0M579.6 316.8h0M644.2 361.8h0M534.5 346.7h0M567.2 481.7h0M563.3 301.6h0M665.2 453h0M487.4 317.1h0M542.9 308.7h0M672.2 314.8h0M635.5 288h0M449.8 266.8h0M607.8 294.4h0M597.8 333.3h0M518 446.1h0M611.8 323.2h0M557.6 208.4h0M577.2 334.4h0M545.8 455.9h0M615.8 397.5h0M633.2 319.6h0M580.8 418.4h0M688.7 249.2h0M515.4 333.4h0M591.3 232.6h0M575.5 308.2h0M579.8 236h0M504.2 277.9h0M536.9 325.3h0M571.3 275.5h0M592.3 288.8h0M614.7 217.4h0M688.8 285.5h0M535.6 484h0M533 337.4h0M581.9 210.2h0M490.1 354h0M607.3 160.8h0M514.6 210h0M466.5 376.1h0M518.7 369.1h0M591.5 334.9h0M562.2 229.3h0M550.8 389.8h0M671.4 279.9h0M564.5 436.8h0M587.5 312.5h0M546.3 306.9h0M605.6 314.1h0M624.4 253.1h0M616.2 297.7h0M596.7 334.2h0M625.1 390.9h0M579.8 324.2h0M609.4 319.1h0M522.4 267.2h0M587.8 288.6h0M571.7 392.4h0M558.8 312h0M606.5 290h0M675 356.1h0M596.2 370.3h0M562.8 357.3h0M671.9 271.8h0M530.2 341h0M516 247h0M531.3 442.4h0M578.4 416h0M660.3 225.8h0M579.1 350.2h0M489.3 208.3h0M606.1 395.1h0M483.4 153.6h0M627.6 307.8h0M628.6 300.7h0M575.8 320.4h0M633.9 296h0M569.3 220.6h0M522 288.2h0M471.6 410.1h0M677.9 327.8h0M563.3 309.7h0M557.3 333.8h0M629 265.3h0M644.1 377h0M662.1 323.9h0M497.9 398.8h0M583.9 375.2h0M655.3 254.9h0M656.4 292.9h0M552 439.3h0M656 358.3h0M535.1 351.6h0M593.3 334.8h0M540.9 473h0M618.4 372.1h0M539.7 309.1h0M587.1 312.6h0M479.2 423.7h0M570.1 198.6h0M551.4 451.8h0M479.5 319.1h0M570.2 398.7h0M638.5 255.9h0M512.1 381.9h0M630.4 225.2h0M604.3 275.4h0M594.8 224.3h0M574.8 325.4h0M622.8 226.2h0M631.5 306.9h0M631.8 224.5h0M590.2 350.6h0M543.6 323.3h0M674.9 297.4h0M646.6 130h0M582.3 311.6h0M561.9 314.6h0M602.5 312.3h0M644.1 264.4h0M685.5 337.3h0M553.6 268.2h0M543.8 334.1h0M496.7 528.1h0M612.9 272.2h0M656.4 219.7h0M648.6 270.6h0M630.1 320.7h0M628.1 374.4h0M524.1 318.7h0M623.9 293.8h0M624.4 316.3h0M559.5 304h0M597.4 341.3h0M586.9 400.6h0M540.5 355.5h0M488.7 374.8h0M628.1 339.4h0M575.2 325h0M606 307.1h0M554.9 99.7h0M629.6 221.6h0M616.6 330.6h0M617.4 95h0M605.8 286.4h0M569.8 516.8h0M567.9 180.2h0M687.6 219.5h0M624.8 330.1h0M633.5 187.5h0M631.8 292.8h0M620.7 355.8h0M497.7 312.9h0M556 295.7h0M672.8 171.6h0M561.3 393.5h0M555.4 321.7h0M629.8 350.5h0M548.9 402.6h0M635.7 274.4h0M650.4 320.6h0M564.6 328.6h0M587.3 289.7h0M639 304.6h0M668.1 293.2h0M571.4 295.4h0M630.3 213.5h0M571.4 347.9h0M569.3 252.1h0M521.3 215.5h0M581.5 170.3h0M625.3 386.3h0M661.5 179.1h0M578.6 385.5h0M566.9 283h0M583.8 222.8h0M604.4 313.1h0M588.2 337.5h0M485.4 392.5h0M602.2 239.1h0M503.2 131.5h0M582.5 277.1h0M624 313h0M632.6 296.1h0M551.4 428.5h0M598.1 282h0M636.3 278.5h0M591.6 358h0M632.9 349.8h0M599.4 282.8h0M585.9 400.8h0M613.9 347h0M580.6 241.2h0M547.5 197.2h0M638.4 343.7h0M499.1 368.3h0M569.1 299.6h0M541 216.7h0M549.9 317.3h0M626.4 334.6h0M523.2 419.1h0M623.1 259.5h0M590.9 377h0M581.9 212.8h0M556.6 308.9h0M619.4 410.7h0M642.2 287.4h0M520.7 189h0M545 437.8h0M590.3 258.6h0M585.2 416.5h0M567.8 333.8h0M520.8 325h0M630.8 304.1h0M643.1 224.1h0M636.4 378.6h0M564.3 286.7h0M638.6 231.2h0M651.5 279.2h0M568.7 434.7h0M681.9 285.2h0M532.1 333.3h0M556.4 223.7h0M497.9 290.7h0M613.7 300.5h0M557.9 193.7h0M586.5 314h0M547.1 273.5h0M581.3 334.4h0M588.5 245.5h0M581.4 336.9h0M689.8 291.8h0M549 307h0M610.7 306.4h0M555.6 217.9h0M590.1 323.3h0M541.9 291.9h0M626.4 269.6h0M504.5 469h0M618.8 309.3h0M635.3 293.3h0M546.5 405.7h0M622.5 316.8h0M558.9 497.2h0M640.5 309.4h0M659 162h0M508.9 383.2h0M658.7 357.1h0M593.9 223.4h0M502.6 328.2h0M524.6 429h0M598.3 286.6h0M541.5 155.7h0M551.3 306.7h0M596.5 341.3h0M625.2 307.8h0M639.5 332.8h0M561 283.3h0M509.6 232h0M583.4 365.1h0M581.2 361.1h0M659.8 291.3h0M608.8 159.6h0M574.6 353.7h0M606.1 281.2h0M647.5 353.8h0M643.8 304.1h0M580 324.3h0M673.3 241.3h0M644.6 266.9h0M567.4 363.2h0M666.3 129h0M569.9 338.4h0M556.4 278.3h0M507.2 298.9h0M575.6 298.8h0M501.7 357.8h0M459.3 300.2h0M589.5 411.3h0M651.2 291.7h0M557.5 356.5h0M544.5 237.8h0M616.8 360.6h0M603.4 331.1h0M623.9 365h0M532.3 338.7h0M547.7 356.9h0M538.6 447.3h0M564.4 541.4h0M564.4 286.4h0M572.1 357.2h0M629 236.2h0M643.6 305.4h0M454 323.8h0M657.3 76.7h0M609.6 257.8h0M601.5 254.7h0M559.1 328.7h0M551.6 284.9h0M688.4 228.2h0M595.2 340.6h0M524.4 362.7h0M562.8 240h0M551.3 237.4h0M557.2 357.3h0M554.9 247.1h0M578.2 305.2h0M639.3 342h0M594.9 201.4h0M571.2 357.7h0M499.8 331.3h0M629.4 213.2h0M683.2 279.1h0M598.3 220.2h0M556.8 336.1h0M595.6 433.2h0M570.5 279.6h0M598.1 362.6h0M632.5 362.9h0M535.4 344.2h0M615.2 246.1h0M543.2 194.8h0M452.7 300h0M539.7 301.1h0M560.1 264.6h0M549.7 343h0M647.4 225.4h0M633.4 293.9h0M574.6 313.3h0M581.2 230.3h0M563.7 368.7h0M649.7 346h0M624.7 309.8h0M647.1 327.8h0M524.3 439.6h0M605.4 340.5h0M627.3 291.2h0M584.3 298.6h0M606.8 305.6h0M677 282.5h0M564.4 254.6h0M535 416.1h0M638 272.2h0M559.7 368.5h0M657.4 245.7h0M561 238.1h0M634.8 218.9h0M632 468h0M619.9 259.6h0M507.5 281.7h0M552.5 333.9h0M569.9 316.7h0M532.5 259.8h0M586.2 321h0M517.4 316.8h0M557.2 259.5h0M657.3 348.1h0M583.5 242.8h0M648 393.1h0M479.8 391.4h0M575.7 345.9h0M675.5 288.9h0M494.8 376.3h0M555.3 238.6h0M547.6 297.9h0M570 226.7h0M545.6 361.5h0M579.5 314.2h0M560.3 306.8h0M654.7 209.6h0M480.2 378.1h0M607.7 309.1h0M612.4 376.3h0M653.4 264.3h0M574.5 281.6h0M535.3 372.7h0M531.9 236.3h0M628.6 235.2h0M660.4 291.7h0M557.9 248.5h0M575.2 348.5h0M559.8 301.6h0M472.9 206.1h0M550.2 196.6h0M615 349h0M626.9 245.5h0M530.7 182h0M515.6 199.9h0M672.6 385.6h0M585.8 311.7h0M657.9 318h0M570.2 339.7h0M633.5 207.7h0M573.3 401.3h0M616.4 331.4h0M528.6 384.3h0M633.6 231.9h0M586.7 387.5h0M483.4 298.5h0M600.8 356.7h0M614.2 307.2h0M572.7 417.1h0M586.2 399.5h0M582.1 423.6h0M507.6 231.7h0M518.5 345.2h0M595 370.1h0M545.1 303.4h0M602.1 171h0M571 340.5h0M612.4 377.8h0M681.4 445.6h0M542.2 181.2h0M598.3 451.5h0M558.8 294.4h0M584.8 282.9h0M589.8 319.4h0M581.1 184.6h0M630.3 308.9h0M586.7 296h0M535.9 384.2h0M616 331.8h0M534.2 299.8h0M598.7 267.8h0M568.6 280.5h0M549.4 361.6h0M568 366.2h0M685.9 258.3h0M608.3 157.2h0M607.4 153.7h0M533.7 407.8h0M508.2 404.4h0M562.6 447.9h0M609.1 384.6h0M651.9 332.6h0M523.6 298.5h0M576.2 321.4h0M575.7 260h0M654.3 316.8h0M597.6 384h0M535.9 290.2h0M621.9 272.1h0M595.5 294.9h0M574.6 315.4h0M518.1 191.2h0M624.6 325.1h0M532.5 229.4h0M544.2 315.1h0M596 239.6h0M593.7 187.5h0M629.7 311.6h0M566 225.1h0M590 238.9h0M513.9 324.9h0M615.2 319.5h0M475.6 431.9h0M571 256.4h0M590.6 377h0M551.2 430.6h0M642.6 278.8h0M589 249.4h0M619.3 171.7h0M568.4 407.6h0M688.2 356.2h0M560.6 272.2h0M516.1 324.2h0M599.4 222h0M603.4 436.8h0M649.7 445.2h0M610.5 292.4h0M621.7 278h0M603.3 281.3h0M554.2 429.3h0M623.7 470.6h0M591.3 341.7h0M548.5 401.3h0M671.8 255.3h0M616.7 313.4h0M493.2 376.8h0M587.2 286.3h0M540.9 339.4h0M630.9 414h0M473 371.7h0M542.8 356.9h0M560.1 262.9h0M678.7 321.8h0M607.7 272.1h0M500.9 235.3h0M626.7 361.4h0M520.9 389.7h0M632.2 295.6h0M634.7 324.7h0M542.2 279.6h0M592.3 246.3h0M643 319.8h0M559.8 202.9h0M596.6 265.8h0M456.4 296.5h0M584.9 329.5h0M609.2 379.1h0M521.1 350.7h0M562.8 269.1h0M489.5 306.5h0M535.4 330h0M620.1 274.4h0M554.8 226.7h0M544.5 331.3h0M666.8 244.4h0M645.2 245.3h0M632.8 283.5h0M552.4 358.8h0M646.5 356h0M590.5 319.3h0M600.8 316.3h0M525.2 263.8h0M546.6 383.3h0M475 362.8h0M592.9 342h0M524.6 166.8h0M599.4 249.4h0M634.7 274.6h0M534.5 407.4h0M561.1 287.6h0M458.5 463.9h0M638.6 203.7h0M481 351.5h0M660.9 254.8h0M596.1 394.1h0M592.2 244.9h0M660 342.2h0M624.7 537.5h0M666.2 358.3h0M536.4 354.6h0M646 327.6h0M535 291.3h0M576.7 341.7h0M640.1 219.8h0M571.4 260.2h0M571.8 350.9h0M519.3 365.8h0M586.1 314.6h0M538.7 348.1h0M528.5 283h0M606.6 357.9h0M575 239.5h0M592.7 370.4h0M525.8 431.9h0M588.2 351.1h0M480.7 322.2h0M625.7 242.7h0M613.5 297.4h0M669.2 208.7h0M582.5 236.2h0M593.5 407.5h0M661.6 289.9h0M556.4 445.2h0M543 318.6h0M622.3 421.8h0M582.9 281h0M679.5 134.7h0M456.3 180.8h0M549.2 301.6h0M470.8 418.9h0M561.6 260.2h0M619.9 261.2h0M505.8 308.8h0M594.8 298.9h0M542.2 348.4h0M507.1 502h0M592.6 252.5h0M573.2 322.2h0M638.8 310.4h0M564.5 230.3h0M568.5 325.3h0M568.8 347.5h0M564.5 352.6h0M623.5 89.8h0M504.6 304.7h0M505 209.8h0M528.3 214.9h0M659.9 272.4h0M554.4 338.6h0M563 283.5h0M513.9 385.8h0M575.9 271.1h0M576.3 265.5h0M674.8 352.1h0M515.5 186.3h0M609 213.5h0M644.5 301.4h0M622.5 284.4h0M593.7 413.3h0M617.3 342.2h0M615.5 267.8h0M535.5 418.9h0M585.8 208.9h0M489.1 419.1h0M582.1 318.8h0M561.8 299.8h0M560.7 263.4h0M677.6 294.9h0M580.8 386.3h0M575.7 346.6h0M610.5 366.6h0M641.9 369.4h0M637.2 356.5h0M568.7 299.7h0M541.3 264.5h0M650.3 225.3h0M620.9 323.1h0M549.3 327.8h0M568.3 356h0M585.1 333.2h0M620.6 401h0M502.2 256.1h0M549.7 359.4h0M552.8 300.9h0M491.3 353.6h0M498.2 289.6h0M528.6 349h0M617.3 340.9h0M581.3 189.1h0M578.4 371.3h0M653.3 330.2h0M662.1 287.8h0M539.5 227.6h0M507.2 187.5h0M597.1 366.5h0M593 272.9h0M633.6 272.3h0M536 370.2h0M596.6 271.5h0M567.2 318.4h0M591.5 327.6h0M601.5 355h0M545.7 335.4h0M514.4 316.7h0M553.6 306.4h0M535.7 434.3h0M666.8 348.2h0M589.8 216.6h0M539.1 431.6h0M581.1 351.3h0M532.5 260.1h0M670.5 264.9h0M577.8 362.9h0M621.4 271.9h0M486 345.6h0M540.7 316.5h0M644.8 347.1h0M491.6 382.2h0M593.6 356.5h0M627.8 383.2h0M606.5 225.1h0M550 323h0M626.1 360.8h0M617.9 259.4h0M631.3 299.2h0M674.4 329.4h0M572.5 280.4h0M531.6 326.5h0M561.6 249.7h0M546.7 317.4h0M644.7 229h0M577.8 315.6h0M446.9 338.9h0M504.7 333.9h0M627.6 276.6h0M645.4 255.9h0M592.8 323h0M487 269.5h0M634.6 220.2h0M490.3 363h0M600.2 208.8h0M540.1 343.1h0M561.1 322.9h0M468.8 353h0M507 327.1h0M677.8 252.6h0M596.5 381.8h0M558 247.9h0M572.7 383.6h0M581.3 273.9h0M470.9 388.3h0M554.7 259.3h0M589.7 295.3h0M468.5 330.5h0M550.7 482.5h0M566.4 316.1h0M498 304.6h0M560.5 330.9h0M540.2 312.8h0M607.4 294.2h0M498.8 361.5h0M646.2 186.1h0M471.6 155.6h0M490.4 261.1h0M611.5 277.6h0M592.1 440.1h0M473.2 516.9h0M604.8 324.6h0M596.3 379.5h0M582.5 371.3h0M574.1 250.8h0M631.1 170.3h0M630.9 300.4h0M604.8 224.7h0M619.8 386.3h0M635.9 330.9h0M549.9 350.8h0M594.9 231.2h0M488.5 301.1h0M580.2 333.7h0M625.6 198.3h0M551.2 280.4h0M585 275h0M610.7 233.9h0M504.3 290.5h0M629.9 258h0M603.7 290.5h0M564.1 338.3h0M554 207h0M546.9 317.2h0M623 217.4h0M578.5 371.3h0M535.3 277.2h0M598.2 240.8h0M585.2 313.4h0M610 271h0M625.9 359.8h0M626.5 325h0M568.2 278.7h0M680 295h0M494 308.9h0M667.1 237.7h0M568.3 221.1h0M540.2 282.9h0M591.8 346.1h0M556 251.8h0M560.7 362.7h0M635.3 222.6h0M566.9 364.5h0M546.5 352.4h0M451.4 298.7h0M635.5 234.7h0M574.2 292.3h0M562.5 392.9h0M602.8 263.9h0M673.8 213.2h0M519.3 334h0M610.3 320.1h0M608.7 339.3h0M634.7 347.4h0M627.6 182.4h0M616.8 197.7h0M554 369.8h0M616.9 264.1h0M593.1 202.7h0M509.6 309.2h0M484.6 302.7h0M571.6 352h0M491 380.5h0M473.9 496.8h0M646.7 319.5h0M589.1 326.8h0M639.5 335h0M653.3 232.8h0M565.3 255.1h0M535.4 308h0M538.8 285.1h0M562.6 329.7h0M531 328.7h0M560.1 247.5h0M578.9 408.2h0M617.6 336.8h0M552.2 344.6h0M534.4 259.8h0M631 283.5h0M538.2 446.3h0M584.2 415.5h0M625.8 320.5h0M597.6 407.6h0M576.6 362.7h0M578.2 424.3h0M628.9 303.5h0M450.5 337.9h0M660.4 295.3h0M473.6 399h0M590.5 157.5h0M560.2 265.9h0M501.8 391.5h0M646.1 232.5h0M553.3 309.7h0M552 244.2h0M628.6 304.8h0M598.9 431.4h0M592.2 314.5h0M592.3 316.7h0M626.4 254.4h0M622.3 396.1h0M583.5 239.7h0M493.6 357.5h0M624.1 273.9h0M523.2 422.6h0M505.6 321.9h0M638.1 283.5h0M482 425.5h0M574.2 395.2h0M612.5 317.5h0M689.4 295h0M693.4 333.8h0M654 275.9h0M500.3 298.7h0M630.9 235.7h0M481.8 403.5h0M587.2 359h0M456.9 178.2h0M609.6 299.4h0M583.2 321.7h0M613.9 299.7h0M534.3 267.2h0M623.1 283.1h0M545.2 378.7h0M512.5 315.3h0M571 252.4h0M631 320.9h0M614.4 455h0M557.8 353.5h0M565.1 217.1h0M627.9 229.9h0M572.5 289.8h0M590.8 302.3h0M637.2 329.8h0M572.5 335.9h0M536.5 419.4h0M638.8 173.9h0M608.5 349.2h0M606.1 425.3h0M621.7 313.3h0M590.3 413.7h0M688.8 290.2h0M557.7 332.4h0M545.8 389.3h0M601.1 275.2h0M606.5 411.6h0M559.9 323.5h0M604.3 295.7h0M549.5 228h0M500.7 220.4h0M637 357.1h0M594.5 295.5h0M640.9 212.5h0M535.8 400.1h0M585.9 303h0M542.1 227.2h0M674.2 227.5h0M651.5 352.3h0M607 336.5h0M544.1 308.3h0M627 259.3h0M650.1 172.3h0M601.6 346.1h0M603.9 332.6h0M492.2 366.5h0M690 517.4h0M651.1 197.4h0M576.5 291.2h0M509.2 245.3h0M564 178.7h0M509.5 157h0M608.8 290.1h0M543.3 255.7h0M557.2 289.2h0M577.2 308.1h0M471.7 376h0M599.3 302.3h0M645.2 296.2h0M536.1 293.4h0M582 354.4h0M629 340.5h0M631.7 330.7h0M531.2 350.3h0M534.2 268h0M639.6 247.5h0M590.7 440h0M619.6 377h0M530.4 315h0M659.6 323.2h0M582.9 283.4h0M663.2 369.1h0M478.2 308.2h0M652.9 320.4h0M577 464.7h0M476.4 470h0M567 333.6h0M534.4 195.4h0M612.2 394.8h0M620.8 335.1h0M586.8 372.2h0M615.5 248.7h0M612.8 255.8h0M659.9 297.9h0M555.3 343.7h0M605.2 323.5h0M546.6 350.7h0M655.6 96.7h0M623.9 328.6h0M547.7 348.6h0M590.8 216.5h0M512 323.4h0M626.8 280.6h0M598.4 462.1h0M662.5 257.3h0M631 298.7h0M553.6 454.5h0M501.8 306.5h0M599.5 232.6h0M594.1 312.1h0M668 257.9h0M557 170.3h0M671.4 309.3h0M598.4 317.8h0M570.7 185.4h0M653 373.9h0M648.1 282.4h0M605.8 315.4h0M572.2 399.3h0M630.6 194h0M602.4 256.7h0M616.4 294.8h0M522.1 416.4h0M535.4 226.8h0M604.1 226h0M648.6 297.9h0M551.6 447.1h0M559.9 371.1h0M593.6 438.6h0M568.4 323.8h0M563.8 363.4h0M536.8 249.8h0M514.7 230.5h0M604 204.3h0M625.3 193.5h0M567.3 340.7h0M517.6 343h0M459.6 439.9h0M497 427.9h0M535.7 360.5h0M657.7 350h0M665.3 258.8h0M653.3 227.1h0M547.8 384.9h0M622.8 295.6h0M525.8 204.2h0M573.7 378.3h0M593.7 364.3h0M683.7 397.3h0M581.4 292.3h0M528.8 366.3h0M536.3 235.6h0M609.2 424.9h0M573.8 361h0M571.4 313.3h0M537.9 400.5h0M599.1 104.7h0M593.8 305.5h0M582.3 233.5h0M605.8 295h0M573.6 295.1h0M618.4 200.6h0M583.4 380.3h0M683.3 291.5h0M586.5 289.3h0M515 259.7h0M621.4 382h0M599.4 353.4h0M634.8 377.7h0M540.9 336.2h0M555.3 348h0M580.6 264.3h0M451.3 425.3h0M610.6 394.4h0M647.6 308h0M624.5 325.7h0M512.5 210.6h0M571 314.8h0M524.9 395.6h0M495.8 343h0M616 316h0M605.1 302.8h0M618.6 355.5h0M606.5 344.8h0M571.5 395.2h0M562.2 303.5h0M651.8 228.2h0M582.3 307.1h0M617.3 242h0M578.9 340h0M687.8 362.7h0M448.1 283.2h0M460.7 459.6h0M547.8 167.3h0M562.7 280.4h0M655.2 280.8h0M559.8 276.9h0M665 379.1h0M574.6 327.3h0M508 382.7h0M620 292.2h0M538.9 384.9h0M630.4 255.1h0M554.2 334.9h0M614.2 327.1h0M572.8 207.2h0M529.5 252.2h0M500.8 379.3h0M693.1 270.9h0M585.2 339.4h0M619.7 297.2h0M690.1 319h0M672.6 227.3h0M572.3 391.6h0M545 410.7h0M608.4 253.1h0M508.4 333.9h0M575.9 196.4h0M523.3 301.2h0M638.3 377.4h0M647.5 384.6h0M495.7 407.3h0M538.3 127.5h0M567.8 253h0M616.6 206.6h0M589.5 88.3h0M611.3 266.8h0M535.7 408.6h0M631.5 317.5h0M595.3 324.7h0M575.9 265.6h0M527 308h0M641.8 378.7h0M505 388.3h0M561.9 301.7h0M528 287.3h0M684.3 396.2h0M614.3 264h0M460.7 345.9h0M575.6 331h0M581.3 205.3h0M563.4 217.6h0M600.2 246h0M527.1 241.8h0M612.5 390.5h0M637.4 310.9h0M620.6 351h0M492.1 364.3h0M513.7 317.7h0M625.4 302.1h0M587 139.3h0M603.7 277.5h0M552.5 317.6h0M520.5 376.2h0M463.6 248.6h0M486.7 362.7h0M559.7 150.4h0M682 320.3h0M571.1 401.1h0M603.8 338.3h0M607.4 332.1h0M544.6 283h0M500.9 451.9h0M679.5 400.7h0M598.3 236h0M439.6 319.3h0M617.1 308.9h0M482.9 286.4h0M579.1 277.7h0M485.4 340.8h0M637.2 208.5h0M560.4 384.5h0M615.5 370.4h0M598.6 212.3h0M564.8 286.7h0M586.4 388.3h0M563.7 338.9h0M608.6 239.2h0M577 209.7h0M520.8 490.1h0M580.9 316.1h0M593.7 362.8h0M592.9 464h0M573.8 335.9h0M565.9 282.6h0M546.6 282.1h0M604.2 318.9h0M614.6 301.3h0M590.2 269.7h0M544.7 265.5h0M551.2 349h0M574.1 338h0M555.5 404.9h0M646.8 149.5h0M545.3 256.4h0M537.7 378h0M584.1 358.3h0M546.3 413.7h0M524.4 319.9h0M569.2 343.5h0M594.8 372.8h0M626.7 243.6h0M531.3 360.8h0M610 272.2h0M568.3 266.7h0M655.7 338.7h0M507.3 358.3h0M532.8 334.5h0M546.5 354.6h0M588.1 312.1h0M564.9 232.3h0M564.7 424.1h0M574.8 363.7h0M552.9 334.2h0M500.4 452h0M525.5 404h0M657.7 333.3h0M591.7 340.9h0M544.1 351h0M563.5 376.9h0M612.7 289.1h0M672.3 285.3h0M505.3 220.7h0M621.1 278.2h0M551.4 423.6h0M667.7 131.8h0M594.1 226.3h0M505 411.1h0M579.6 278.7h0M605.3 268.7h0M580.2 292h0M522.8 465.3h0M482.1 334.1h0M654.4 354.3h0M631.9 323.3h0M523.5 395.6h0M513.6 523.3h0M593.9 271.1h0M528.7 239.1h0M496.1 313.6h0M544.4 380.3h0M603.9 291.4h0M538.9 354.9h0M504.2 300.8h0M605.6 277.8h0M648.6 299.5h0M571.6 280.4h0M584.7 391.3h0M594.8 289.9h0M487.6 104.4h0M511.3 92.5h0M540.1 273.2h0M619.1 251.8h0M562.5 318.9h0M593 325.8h0M566.3 297.2h0M585.9 276.5h0M554.2 322.2h0M573.8 385.9h0M560.6 324.4h0M584.8 316h0M621.2 388.4h0M621.4 303.8h0M545 236.7h0M646 255.1h0M651.7 284.2h0M569.9 358.3h0M571.7 226.3h0M597.7 183h0M548.5 362.8h0M617.1 216.6h0M481.5 428.6h0M576.1 390.5h0M573.1 412.6h0M504.4 315.3h0M600.7 265.5h0M666.6 321.7h0M615.9 459.7h0M631.9 230.2h0M635.3 342.5h0M457 362.9h0M564.4 226.9h0M608 337.3h0M595.1 261.7h0M611.7 378.1h0M546.3 330.3h0M561.9 260.5h0M508 321.9h0M588.8 329.1h0M636.8 359.6h0M565.2 306.1h0M610.6 270.8h0M557 339h0M602 365.2h0M614.7 274.4h0M625 384.8h0M574.6 236.2h0M560.4 273.8h0M538.2 459.9h0M518.7 441.7h0M642.2 253.7h0M625.6 365h0M499.9 526.8h0M575 246.5h0M641.9 292h0M642.2 314.2h0M638.6 201.7h0M458.9 279.4h0M579.8 409.5h0M691.9 100.4h0M455.4 283.2h0M596.9 317.1h0M551.9 296.8h0M594.3 288.7h0M600.8 361.6h0M501.2 423.4h0M483.7 316.1h0M477.8 318.1h0M687.8 281.5h0M657.9 189h0M580.6 400.8h0M561.6 341.4h0M560.5 269.8h0M577.6 178.5h0M555.7 274h0M589.7 300.7h0M628.8 322.1h0M573.2 436.9h0M514.6 449.4h0M561.7 285.1h0M547.7 290.4h0M570.3 102.1h0M521.2 375.1h0M639.9 264.3h0M599.3 159h0M563.6 319.9h0M538.3 322.9h0M657 287h0M673.5 349.9h0M657.5 290.1h0M581.6 283.1h0M572.4 283.9h0M563 301.1h0M561.5 234.9h0M634.7 346.8h0M660.3 256.8h0M568.4 227.4h0M564 459.1h0M590.3 445.1h0M552.8 302.7h0M541.1 411h0M582 351.8h0M549.4 144.2h0M544.9 361.1h0M582.4 317.7h0M612.9 341.6h0M679.9 243.4h0M571.5 421.5h0M554.5 423.7h0M571.8 290.4h0M534.9 133.8h0M595.4 273.9h0M611.3 287.5h0M576.6 266.6h0M554.8 379.3h0M653.3 224.2h0M604.8 229.4h0M610.3 285.5h0M547.5 270.4h0M575 325.6h0M564.8 280.3h0M613.4 239.1h0M652.6 384.3h0M561.1 329.9h0M552.8 191.2h0M581.3 276.1h0M628.1 287.2h0M499.6 439.9h0M556.3 102.9h0M540.2 292.6h0M661.1 324h0M552.3 423.8h0M613.3 284.7h0M632 74.6h0M634.9 280h0M564.3 353.5h0M505.3 293.6h0M574.7 179.4h0M579.4 345h0M654.9 314.5h0M531.5 426.6h0M609.5 278.5h0M648.2 448.4h0M580.1 351.5h0M641.7 240.4h0M569.6 221.3h0M629.7 265.2h0M545.4 382.3h0M486.4 246.2h0M593.4 267.2h0M686.6 265.5h0M444.4 171.1h0M585.2 396.1h0M580.9 272.4h0M508.8 287.8h0M522.1 187h0M567.4 325.7h0M578.3 273.3h0M574.5 312.4h0M505.7 196.6h0M530 287.8h0M573.1 281.6h0M616.4 255h0M571.7 333.9h0M656.6 277.1h0M628.8 357.2h0M588.7 232.5h0M536.3 144.5h0M589.8 255.7h0M597 259.7h0M675.7 370.9h0M554.6 224h0M605.4 402.4h0M665.5 236.8h0M617.9 355.5h0M569 282.7h0M536.4 392.3h0M553 349h0M541.3 429.9h0M652.7 276.3h0M629.1 331.2h0M599.4 212.1h0M614.1 367.7h0M530.8 243.7h0M497.8 316h0M507.5 396.7h0M627.2 369h0M529.9 353.4h0M454 412.8h0M499.2 418.4h0M513.9 201.3h0M577.7 357.7h0M615.2 313.4h0M635 255.5h0M595.9 444.2h0M541 316h0M601.9 283.8h0M541.2 275.1h0M558.7 313.6h0M615 206.9h0M543.7 353.2h0M681.6 326.2h0M678.9 272.6h0M645.1 239.6h0M517.6 385.1h0M454.6 389.1h0M562.5 255.1h0M553.7 387.4h0M638.5 339h0M486.2 338.7h0M586.9 438.5h0M518.8 310.4h0M661.3 281.5h0M549.6 305.7h0M668.9 258.7h0M621.9 272.7h0M611.5 347h0M543.1 359.5h0M519.6 268.8h0M521.6 459.1h0M542.8 422.7h0M601.2 415.8h0M616.1 192h0M541.7 362.1h0M570.4 357h0M595 479.9h0M617.1 266.5h0M477.2 236.5h0M566.9 207.9h0M582.6 482.1h0M493.2 393.6h0M507.8 396.3h0M566.2 413.4h0M640.4 345.5h0M623.2 217.1h0M579.7 256.3h0M453.8 437h0M502.5 350.5h0M636.7 298.4h0M609.5 250.6h0M611.6 352.1h0M628.2 289.4h0M513.9 374h0M536 278.6h0M576.7 332.7h0M627.2 309.3h0M482.9 295.6h0M549.7 417.5h0M491.6 239.3h0M527.9 379.6h0M559.6 357h0M547.8 419.9h0M653.7 289.9h0M553.9 349.9h0M589.4 397.8h0M556.1 396.9h0M565.2 370.7h0M594.1 500.7h0M600.8 359.5h0M520.8 343.1h0M486.7 331.5h0M562.9 285.2h0M517.7 356.8h0M546.6 262.3h0M598.5 167.2h0M523.7 375.2h0M484.6 414.2h0M608.1 236.6h0M668.8 88.1h0M557 326.8h0M661.4 221.9h0M673.4 235.2h0M575.2 190.3h0M575.7 326.2h0M563.4 69.4h0M601.9 395.3h0M465.6 353.7h0M596.5 282h0M584.5 379.4h0M584.8 403.8h0M557.8 365.9h0M592.2 138.6h0M580.6 400.3h0M659.6 316.6h0M585.8 272.8h0M550.7 225.4h0M635.9 278.4h0M490.8 375h0M602.9 237.6h0M522.6 295.1h0M580.1 286.4h0M523.8 411.3h0M534.5 422.8h0M532.2 262.1h0M630.8 205h0M593.4 345.8h0M632.4 344.6h0M529.4 280.4h0M693.8 317.2h0M520.9 301.6h0M561.1 356.1h0M546.1 288.9h0M640.8 362.4h0M652.7 165.7h0M565.7 330.9h0M577.7 282.9h0M608.1 309.9h0M567.4 390h0M537.3 430.6h0M495.5 326.8h0M584.3 255.9h0M604.2 318.7h0M514.7 403.9h0M525.5 190.3h0M591.6 340.8h0M590.4 310.6h0M567.2 373.9h0M608.1 393h0M618.6 293.6h0M681.5 301.1h0M565.9 332.7h0M579.8 296.5h0M510.6 473.7h0M480.5 453.3h0M613.9 334.8h0M673.2 216h0M574.7 379.9h0M634.3 389.7h0M626.6 293h0M564.3 268.3h0M555.7 340h0M570.2 359.5h0M625.1 335.2h0M657.3 402.5h0M554 407.2h0M578.9 222.8h0M504.3 363.6h0M571.7 276.7h0M526.3 315.7h0M590 192.8h0M609.1 332h0M653.7 217.9h0M568.6 418.1h0M559.8 237.4h0M528.4 378.8h0M533.9 327.3h0M576.1 298.9h0M586.2 346.9h0M623.9 232.5h0M584.7 312.5h0M686.8 243.9h0M565.5 283.1h0M591.7 324.1h0M571.9 317.3h0M636.6 255.3h0M551.3 378.2h0M627.4 298.4h0M630.4 264.2h0M644.4 186.6h0M618.8 329.5h0M564.3 351.9h0M508.6 393h0M578.1 259.4h0M650.3 217.2h0M543.7 377.2h0M611.8 384.8h0M435.2 240.9h0M620.8 278.3h0M582.4 430.6h0M475.7 360.8h0M606.5 224.1h0M541.3 325.2h0M607 302.8h0M581.4 285.3h0M585.1 223.6h0M591.6 351h0M637.2 284.3h0M502 309.6h0M640.6 286.6h0M623 223.6h0M556.9 320.2h0M549.8 277.9h0M526.9 311.1h0M659 308.8h0M488.7 349.2h0M567.4 323.5h0M648.8 318.2h0M567.7 270.1h0M523.6 470.6h0M632.4 234.2h0M654.4 93.9h0M637.7 325.2h0M599.2 225.3h0M674.8 268.1h0M502.8 274.7h0M612.8 378.7h0M586.3 381.3h0M650.4 242.6h0M549.5 418.8h0M526.3 286h0M592.5 309.4h0M654.8 260.2h0M578 351.7h0M593.8 266.1h0M575.1 391.7h0M491.6 298.8h0M595.7 247.6h0M685.4 317.1h0M590.4 401.7h0M538.6 357.8h0M619.9 302.7h0M559.2 330.7h0M590 256h0M595.4 169.2h0M611.1 247.1h0M555.3 311.5h0M646.6 324.6h0M591.8 337.8h0M572.5 124.4h0M591 239.3h0M659 154.3h0M573.2 278.4h0M678.2 252.9h0M554.8 336.5h0M615.4 307.2h0M547.5 319.4h0M634.9 184.3h0M565 265.5h0M558.7 355.3h0M516.1 299.4h0M620.7 335.9h0M462.3 334.3h0M676.3 244.1h0M649.5 285.5h0M606.7 334.8h0M506.1 351.5h0M537.7 336.8h0M620.2 317.9h0M581.7 348.8h0M589 317.1h0M440.9 386.9h0M579.4 240.4h0M546.7 294.1h0M639.6 399.4h0M560 375.1h0M472 221.7h0M549.5 315h0M587.9 409.3h0M642.3 318.4h0M580.6 332.7h0M624.1 193h0M659.1 326.5h0M505.6 364h0M626.3 195.8h0M640.6 358.1h0M572.3 278.9h0M597.5 367.8h0M567.7 207.8h0M477.1 376h0M650.9 233.9h0M515.6 290.8h0M544.2 324.6h0M568.1 241.6h0M537 445.2h0M610.3 418.4h0M683.7 288.1h0M553.1 322.9h0M610.8 264.8h0M531.1 345.1h0M581.5 255.3h0M663 279.1h0M626.5 337.5h0M548.9 207.9h0M488.6 341.1h0M597.2 220h0M603.2 395h0M588.9 285.8h0M576.4 201.3h0M607.3 351h0M634.6 160.1h0M637.9 224.5h0M606.9 400.4h0M590.4 327.1h0M582.2 316.9h0M556.5 337.1h0M624.3 330.1h0M548.7 309.7h0M544.6 299.6h0M545.2 296.7h0M466 498h0M601.5 309.3h0M544.9 310.5h0M602.6 308.7h0M539.5 179h0M496.4 338.3h0M607.8 268.1h0M579.2 344.3h0M562.5 423.9h0M545.8 280.5h0M641.9 349.9h0M631.2 199h0M621.9 247h0M575.4 286.1h0M556.1 306.9h0M605.8 320.2h0M499.9 369.5h0M553.2 340.7h0M613.5 330.5h0M557.7 343.6h0M578 329.4h0M542.4 295.6h0M524.6 196h0M588 185.2h0M476.6 362.6h0M535.5 337.8h0M609.8 247h0M626.3 311.3h0M544.8 311.8h0M587.6 386.6h0M606.1 277.1h0M574.4 368.6h0M631.8 330.1h0M625.3 304.1h0M561.1 348.4h0M580.7 252.7h0M573.4 437.4h0M550.3 330.6h0M624.7 416.6h0M568.9 388.4h0M655.5 382.7h0M621.8 309.8h0M628.1 263.6h0M628.6 244.5h0M475.7 288h0M507.7 294.9h0M493.3 439.8h0M514.8 274.7h0M659 303.6h0M499.9 279.4h0M546.6 194.9h0M582.3 340.7h0M607.7 189.2h0M575.2 238.1h0M487.8 414h0M592.7 270.6h0M497.1 474.1h0M566.3 278.5h0M548.7 363.3h0M663.5 312.9h0M604.5 265.3h0M592.6 256.4h0M553.4 356.3h0M585 334.4h0M604.2 341.6h0M528.5 451.2h0M589.7 412.9h0M501.5 259h0M602.9 357.6h0M579.9 275.7h0M633.8 262.8h0M645.6 225.6h0M576.5 409.5h0M593 310.3h0M667.1 240.8h0M681.1 271.3h0M578.6 343.6h0M575.4 401.8h0M535.8 276.4h0M589 325.5h0M547.5 346.3h0M628 310.7h0M590.2 281.6h0M523.7 311.5h0M535.1 402h0M588.4 391.8h0M634.9 283.1h0M617.3 335.3h0M598.2 223.2h0M556.9 376.6h0M554.9 281.1h0M548.7 445.4h0M586.5 316h0M599.8 290.3h0M580.9 345.6h0M547.2 214.8h0M627.3 300.8h0M496.2 374.1h0M634.4 213.9h0M592.2 357.6h0M546.7 295.6h0M608.8 289.4h0M536.3 328.8h0M634.5 374.9h0M581.6 273.8h0M588.9 374.6h0M615 231.6h0M522.5 412.2h0M616.6 376.2h0M554.6 279.5h0M568.2 172.4h0M580.7 294.2h0M508.4 454.5h0M605.9 320.3h0M679.9 201.7h0M554.9 349.6h0M498 340.1h0M557.6 422.7h0M560 376.7h0M512.9 233h0M674.8 287.6h0M619.3 379.8h0M551.3 251.6h0M588.3 321h0M578.7 236.7h0M640 299.5h0M561.9 326.1h0M585 252.5h0M622.2 315.8h0M558.7 294.8h0M574.2 269.1h0M646.8 344.4h0M502.4 327.3h0M579.3 295.3h0M624.1 304.3h0M590.9 357.3h0M585.1 398.6h0M688.8 492.8h0M557.2 341.7h0M609.1 413.9h0M656.2 296.8h0M628.2 235.5h0M530.3 235.4h0M673.6 282h0M613 376.6h0M600 295.1h0M553.6 306.7h0M507 354.2h0M562.3 542.4h0M606.6 363.1h0M560.3 350.5h0M533.2 373.1h0M599.7 341.5h0M522.9 350.3h0M604.5 262.5h0M522.7 362.4h0M572.7 202.4h0M636.8 307.4h0M677 278.9h0M584.1 492.1h0M587.7 288h0M584.2 274.5h0M580.9 291.6h0M541.7 223.2h0M583.2 230.8h0M675.5 285.1h0M672.1 343.9h0M535.4 301.9h0M569.2 341.9h0M607.8 307.6h0M547.4 194h0M568.3 349.1h0M571.2 232.1h0M460.8 313.6h0M644.6 235.6h0M556.8 300.6h0M547.6 316.1h0M592.8 252.4h0M551.4 340.9h0M679.9 150.4h0M601 250.7h0M599.7 310.3h0M579.7 237.2h0M564.2 356.9h0M490.1 298.7h0M617 231.2h0M561.6 432.8h0M621.5 246.9h0M595.1 323.2h0M634.8 277h0M509.9 360.6h0M554.3 332.8h0M535.7 368.8h0M641.9 295.6h0M590.5 322.4h0M603.6 217.6h0M520.4 289.7h0M475.7 289.4h0M568.8 360.5h0M521.6 479.6h0M582.1 265.9h0M683.1 254.9h0M567.3 340.2h0M619.1 226.2h0M543.3 242.1h0M620.7 405.7h0M564.8 275.2h0M521.1 365.2h0M480.1 527h0M507.1 264.1h0M612.5 339.7h0M600 294.1h0M590 249.2h0M649.2 327.1h0M596.7 378.9h0M446.8 412.9h0M628.2 266.9h0M568.1 436.2h0M577.7 402.6h0M494.2 408.4h0M691.2 329.5h0M591.4 157.4h0M609.8 302.8h0M582.5 189.5h0M550 388.6h0M599.7 345.8h0M573.4 277h0M613.3 286.1h0M610.5 359.3h0M523.2 271.8h0M519.6 324.1h0M629.4 234.6h0M584.4 412.4h0M591.4 288.9h0M568.9 225.8h0M566.8 304.4h0M625.5 254.1h0M486.3 338.6h0M597.8 375.2h0M574.2 355h0M557.4 340.6h0M609.8 345.2h0M591.8 535.1h0M598 460.6h0M464 492.9h0M585 298.7h0M565.4 348.4h0M598.3 481.3h0M610.4 329.5h0M610.5 454.1h0M522.5 380.1h0M603.5 286.6h0M645.6 245.8h0M624 203.4h0M544 303.1h0M628.9 395.7h0M628.9 379.1h0M441.8 355.8h0M557.8 337.1h0M622.9 292.1h0M600.5 255.1h0M636.1 231.7h0M595.4 249.3h0M599 397.3h0M562.8 356.4h0M653.3 266.7h0M591.5 277.9h0M573.7 336.4h0M659.6 327.1h0M592.6 383.1h0M600.8 339.3h0M557.6 207.2h0M487.8 339.2h0M635.6 327.1h0M585 330.5h0M474 247.1h0M631.6 224.8h0M533.3 396.6h0M634.1 354.8h0M566.6 420.8h0M651.1 397.4h0M560.1 394.8h0M519.1 466.8h0M524.1 274.1h0M491.5 296h0M653.4 295h0M576.7 339.3h0M630.3 305.8h0M461.6 473.9h0M651.2 261.7h0M607.6 270.3h0M622 220.5h0M602.2 260.3h0M669 305.8h0M577.7 262h0M601.4 233.3h0M568.3 287.7h0M609.7 326.1h0M562.8 347.3h0M502.7 477.1h0M587.2 277h0M536.5 116.3h0M571.7 352.5h0M608.3 324.4h0M558.4 267.8h0M614.5 286.7h0M552.3 386.1h0M610.3 300h0M593.8 251.3h0M601.4 276.8h0M541.3 384h0M600.9 418.1h0M484.6 391.4h0M684.4 411.3h0M572 326.7h0M540.2 319.7h0M656.2 300.1h0M456.3 296.2h0M566.9 244.8h0M553.3 357.7h0M596 425.1h0M607.4 317.5h0M556.7 287.5h0M606.6 199.4h0M606.3 303.5h0M597.3 356.3h0M574.9 187.3h0M433.7 322.2h0M574 327.6h0M522.6 356h0M583.8 429.3h0M562.3 278.5h0M601 333.3h0M549.1 225.4h0M631.7 310.1h0M601.4 191.9h0M640.1 299.1h0M473.5 322.4h0M625.5 349.5h0M596.2 290.5h0M568.9 365.2h0M677.3 200.9h0M593.6 305.5h0M586.4 246.2h0M570.7 259h0M574 355.1h0M625.4 295.3h0M552.4 273.8h0M547.4 440.4h0M544.2 234.4h0M614.2 377.4h0M582.9 251.7h0M495.2 275.3h0M537.3 362.6h0M607.9 277.5h0M611.9 344h0M599.5 477.6h0M614.7 307.5h0M553.6 116.6h0M586.2 358h0M573 331.9h0M612.5 245.5h0M577.8 423h0M600.1 337.3h0M541.3 371.8h0M628.6 210.1h0M555.3 287.3h0M646.9 267.8h0M608.9 201.4h0M565.4 234.4h0M563.9 277.9h0M580.5 226h0M530.8 366.9h0M603.6 344.8h0M651.5 368.4h0M616.3 346.4h0M533.2 323h0M607.2 375.2h0M595 375.8h0M665 413h0M593.3 346.1h0M579.5 276.5h0M556.7 345.6h0M613.4 322.3h0M590.6 195.7h0M572.2 320.9h0M586.9 230.2h0M562.2 248.8h0M604.6 248h0M499.4 318.4h0M508 258.6h0M616.5 337h0M618.4 273.4h0M531.2 317.4h0M625.4 314.4h0M551.9 387.9h0M525.6 375.1h0M608.4 298.4h0M556.3 390.1h0M567.4 376.2h0M569.8 490.2h0M628.9 302.3h0M690.1 366.3h0M585.7 412.6h0M683.1 257.1h0M668.8 321.8h0M676.6 257.1h0M576.5 363.1h0M557.3 285.4h0M564.8 276.6h0M528.7 407.5h0M531.8 339.4h0M567.6 232.1h0M523 216.2h0M599.1 229.2h0M596.1 229.9h0M648.7 470.9h0M608.9 288.2h0M560.6 275.9h0M685.4 300.4h0M470.5 303.3h0M505.3 380.9h0M634.6 302.2h0M517.5 85.4h0M587.1 374.1h0M555.8 288.5h0M534.2 332h0M547.7 343.3h0M526.5 371.5h0M554 359.5h0M492.4 316.1h0M629.1 287.4h0M580.2 236.2h0M591.2 271.1h0M632.1 344.1h0M511.3 438.3h0M612.9 332.7h0M676.9 282.9h0M614.2 261.6h0M677.4 187.9h0M562.7 279.8h0M590 227.6h0M505.4 368.6h0M487.5 374.9h0M540.4 272.2h0M647.4 238.7h0M592.8 431.9h0M547.5 384.3h0M567.6 305.3h0M552.1 305.3h0M465.4 379.9h0M579.3 271.7h0M626.6 276.7h0M665.1 214.2h0M625.9 309.4h0M556.3 338.2h0M582.6 274.2h0M601.1 460.7h0M507.6 388h0M567 485.4h0M607.2 276.6h0M630.4 317.4h0M586.3 264.8h0M534.6 328.9h0M439.1 352h0M601.7 239.4h0M564.5 336.6h0M607 155.2h0M561.6 302.5h0M575.7 306.2h0M482.9 293.9h0M602.5 352.7h0M528.2 189.1h0M586 324.6h0M577.2 235.6h0M582.4 235.3h0M597.8 283.8h0M637.1 444.8h0M463.7 399.5h0M528.8 266.9h0M620.9 332.7h0M549.1 310.3h0M522.5 290.2h0M627.1 270.9h0M632.6 295.4h0M627.6 361.1h0M526.6 332h0M540.4 436.9h0M452.6 406h0M582.3 249.7h0M651.2 402.3h0M582.5 254.9h0M560.2 318.5h0M581 442.5h0M569.3 269.8h0M525.2 317.5h0M599.1 309.8h0M678.5 357.1h0M532.4 300h0M556.1 361.3h0M564 294.5h0M686.1 260.7h0M539.9 449.6h0M665.8 161.9h0M571.1 409.5h0M641.5 295.1h0M545.4 388.5h0M582 218.7h0M502 336.6h0M558.1 291.7h0M523.8 307.5h0M501.5 305h0M516.5 310.7h0M629 315.3h0M495.2 520.8h0M607 475.2h0M621.5 397.6h0M602 342.4h0M553.3 435h0M547.9 343.4h0M508.8 297.8h0M557.6 229.7h0M570.3 292.4h0M618.8 334.2h0M541.5 304.2h0M633 305.6h0M611.1 313.1h0M570.5 357.9h0M527.2 414.8h0M691 422.5h0M590.6 251.7h0M607.8 252h0M489.3 256.6h0M451.4 428.1h0M495.7 281.4h0M525.5 164.5h0M524.9 348.9h0M609.1 289.7h0M606.1 372.8h0M627.9 245.9h0M590.1 354.3h0M670.1 303.4h0M594.5 299.1h0M531.1 292.6h0M575 257.7h0M537.3 436.5h0M528.3 260.4h0M669.7 287.2h0M591.4 238.9h0M543 415.3h0M490.8 235.6h0M649.3 325.4h0M534.1 325.1h0M587.1 459.2h0M588.3 304.1h0M592.5 336.9h0M640.3 319.9h0M644 304.9h0M541.9 321.2h0M591.8 300.1h0M524.1 267.4h0M601.3 261.9h0M627.4 414.2h0M575.2 266.3h0M577.7 381.6h0M608 329.3h0M507.1 344.6h0M566.2 320.8h0M478 196.7h0M626.4 320.2h0M554.8 324.5h0M464.6 288.3h0M647.6 273.5h0M593.2 161.3h0M574.4 166.4h0M553.5 420.4h0M573.9 243.9h0M507.1 265.2h0M440.5 537.5h0M551 350.3h0M552 302.6h0M446.8 311.8h0M626.4 330.3h0M530.6 440.1h0M457.5 337.2h0M559.7 304.8h0M626.8 378.8h0M584.6 306.8h0M635.5 355.7h0M542.1 363.3h0M494.7 266.4h0M475.5 464.5h0M615.3 282.2h0M590.2 340.2h0M590.1 317.2h0M686.2 347.1h0M611.3 249.3h0M473 305.1h0M531.8 365.9h0M587.5 177.7h0M572 279h0M566.6 300.4h0M614.4 327.5h0M531 365.4h0M630.5 288.6h0M593.1 370.2h0M600.2 415.3h0M559.4 365.6h0M603.4 328.5h0M598.5 258.9h0M585.2 187h0M627 314.4h0M535.2 279.4h0M561 302.9h0M514.7 223.3h0M461 496.5h0M542.9 372.3h0M520.8 391.1h0M601.7 292.9h0M646.9 436.8h0M621.2 235.1h0M569.2 314.7h0M648.8 308.5h0M599.1 411.7h0M585.9 259.1h0M581.3 352.1h0M454.2 292.2h0M585 382.8h0M518.9 412h0M588.5 352.9h0M582.2 289.3h0M590.2 263.3h0M572.9 285h0M514.1 410.5h0M554 260.8h0M605.3 374h0M608.1 282.1h0M560.2 244.1h0M673.9 233.6h0M652.1 346.2h0M586.7 195.4h0M643.8 340.6h0M636.2 352.3h0M557 232.3h0M521.7 178.1h0M563.4 293.6h0M522.2 332.1h0M589.9 187.8h0M625.8 192.2h0M562.9 256h0M571.8 347.1h0M626.1 377.5h0M591.8 305.5h0M622 266h0M597.4 372.2h0M623.4 250.9h0M593.8 270.4h0M559.7 280.9h0M540.6 361.4h0M653.3 175h0M637.1 302.5h0M531.4 260.9h0M662.3 273.3h0M573.1 325.3h0M548.4 252.8h0M467.6 344.2h0M613.1 345.6h0M686.7 242.2h0M490.1 401.2h0M516.9 284.8h0M569.6 363.7h0M611.2 280.8h0M605 373.2h0M609.7 144.7h0M506.8 346.5h0M565 358.1h0M609.5 168.4h0M571.8 422.7h0M514.1 322.4h0M518.7 268.1h0M581.4 229.8h0M619.2 397.2h0M510.3 292.1h0M562.1 257.6h0M594.3 359.8h0M636.7 312.6h0M674.9 337.8h0M556 325h0M672.8 340.1h0M576.8 305.9h0M499.4 381.6h0M627.1 299.5h0M526.8 294.4h0M508.5 487.2h0M590.1 361.8h0M586.8 297.3h0M685.9 308h0M510.9 353.1h0M546.1 401.1h0M579.3 178.1h0M539.9 253.4h0M608.6 279.2h0M578.4 224.9h0M654.1 342.3h0M490.2 357.2h0M563.3 313.6h0M496.8 189.2h0M589.3 325.4h0M548.9 217.9h0M499.2 377.1h0M514.8 360.5h0M575.7 322.1h0M597.4 260.3h0M591.5 344.9h0M667.3 242.2h0M613.6 283.2h0M541 346.3h0M641.9 297.6h0M639.8 259.5h0M558.5 304.4h0M648.7 291.7h0M586.4 344.6h0M464.5 410.1h0M536.8 386.7h0M510.5 221.9h0M635.2 330.4h0M682.8 331.3h0M597.4 416.2h0M673.8 296.6h0M687.3 271h0M627 409.3h0M610.5 316.3h0M652.9 254.3h0M521.1 279.8h0M631.6 320.1h0M612.8 325.7h0M620.9 221.4h0M568.8 359h0M588 344.9h0M616.7 350.9h0M462.3 287.8h0M520.2 352.3h0M568.2 251h0M663.9 349.9h0M614 319.2h0M586.7 304.9h0M435 443.7h0M623.9 466h0M587.2 301.5h0M581.4 209.9h0M499.1 313.2h0M588.5 288.3h0M580.6 296.4h0M575 372.7h0M542.1 292.6h0M610.7 275.3h0M628.3 244.1h0M628.9 378.2h0M682.3 241.7h0M530.5 280.4h0M489.2 238.9h0M615.1 291.3h0M583.1 333.6h0M550.1 267.3h0M615.8 320.3h0M587.2 384h0M597.5 317.4h0M611 248.6h0M554.8 258h0M642.9 285.7h0M450.3 333.6h0M574.5 251.3h0M670.3 135.9h0M685.8 163.8h0M468.1 279.1h0M642.1 366.5h0M514.8 301.1h0M608.2 282h0M535.8 157h0M566 511.3h0M529.2 373h0M580.9 309.1h0M627.8 392.9h0M651.2 392.9h0M506 267.7h0M573.1 403.3h0M613.8 275.6h0M560.3 313.2h0M600.3 327.4h0M600 245.8h0M688.7 240.5h0M598.4 313.8h0M573 252.6h0M624 270.6h0M505.1 275.2h0M593.7 326.5h0M598.1 263.3h0M470.9 221.1h0M507.3 300.5h0M609.1 286.4h0M560.6 204.5h0M663.9 314.6h0M614.3 291.9h0M602.4 304.3h0M611.8 370.8h0M648.1 238.6h0M594.6 370.7h0M656.8 272h0M635.1 282.4h0M565.8 254.3h0M489 296.2h0M545.3 443.2h0M549.3 435.1h0M591.8 245.6h0M610.5 293.3h0M517.5 224.9h0M608.9 443.5h0M646.7 261.5h0M691.8 245.4h0M575.8 251.5h0M570.9 297.3h0M608 322h0M619.2 330.3h0M569.7 326.6h0M509.8 289.3h0M606.3 339.5h0M523.9 309.9h0M635.3 308h0M577.2 354.8h0M576.7 347.1h0M632.9 454.8h0M544.5 488.1h0M617.1 318.4h0M632.1 333.2h0M565.9 265h0M571.9 356.6h0M586.4 305.5h0M689.5 283.6h0M683.6 251.8h0M579.5 315.2h0M641.7 302.6h0M586.7 389h0M563.5 371.3h0M517.9 357.1h0M642.9 257.9h0M548.8 279.6h0M491.8 238.7h0M609.3 458.7h0M575.6 228.5h0M563.4 327.1h0M521.3 361.3h0M529.6 362.7h0M600 354.5h0M654.8 225.9h0M607.9 325.4h0M541.2 239h0M484.5 405.5h0M505.7 168.3h0M568.2 309.2h0M498.8 374.9h0M637.7 212.5h0M523.1 528.3h0M606 124.3h0M654.1 344.1h0M579 244.4h0M589.6 244.7h0M609.7 270.9h0M664.7 382.6h0M640.8 285.3h0M578.7 362.8h0M570.2 327.3h0M633.1 392.7h0M627.8 315.1h0M527.9 371.6h0M686.5 265.5h0M619.7 360.6h0M571.1 260.1h0M517.8 144.2h0M556.2 188.5h0M568 317.3h0M594.1 313.8h0M568 273.9h0M609.6 197.2h0M603.9 334.9h0M522 272.8h0M520.6 382.5h0M571.6 228.1h0M535.4 288h0M608.7 181.2h0M580.8 339.4h0M607.1 389h0M592.1 355.8h0M496.4 392.8h0M552.4 283.9h0M647.8 349.5h0M600.9 317.6h0M495.2 196.9h0M572.8 279h0M608.4 331.1h0M541.9 421.9h0M609.1 256.5h0M451.6 434.5h0M579.3 375.4h0M571.9 329.4h0M626.4 331.8h0M570.5 376.3h0M633.1 475.2h0M533.4 253.5h0M493.3 391.1h0M553.1 147h0M629.6 282.2h0M678.7 519.9h0M590.1 337.1h0M595.9 289.1h0M656 315.5h0M549.2 314.1h0M568 276.6h0M568 251.2h0M542.8 348.2h0M539.9 191.2h0M566 225.6h0M612.3 294.7h0M446.7 326.3h0M567.1 330.6h0M669.6 288h0M577 379.2h0M572.9 368.9h0M612.4 211.8h0M451 373.9h0M499.3 233.1h0M669 350.4h0M649.3 277.4h0M574.9 276.7h0M457.7 245.9h0M535.4 247.8h0M506.9 330.1h0M543 258.2h0M503.7 404.6h0M545.3 255.2h0M453.4 146.8h0M533.7 351.1h0M513.2 365.3h0M605.8 209.7h0M535.5 340.9h0M671.8 224h0M680.3 270.6h0M452.7 255.4h0M649.6 321.3h0M615.7 291.6h0M657.5 237h0M536.2 362.5h0M586.4 351.6h0M683 324h0M622.3 270.5h0M678.7 275.7h0M577 215.3h0M652.3 294.2h0M633.6 225.3h0M669 204.3h0M583.2 267.9h0M451.2 489.8h0M644.4 247.8h0M627 244.8h0M461.5 344.7h0M477.6 274.7h0M579 293.4h0M561.6 376.2h0M621.4 222.8h0M622.7 307.6h0M519.3 214.2h0M543.7 323.3h0M618.3 337.2h0M643.3 173.7h0M618.2 286.1h0M580.1 236.1h0M552.6 297h0M650.9 266.9h0M544.1 339h0M631.2 310.7h0M588.9 187.6h0M618.3 310.6h0M498.3 339.3h0M688 290.2h0M511.8 334.4h0M604.4 206.9h0M621.5 277.3h0M569.5 381.9h0M542.6 356.6h0M569 180.9h0M553.2 399.7h0M497.1 262.1h0M585.8 350.4h0M495.2 364.3h0M610.4 257.4h0M609.8 368.7h0M575.4 284.5h0M535.4 336.9h0M542.8 139.5h0M606.9 329.5h0M496.2 289.1h0M652.4 329.4h0M495.2 336.3h0M625.9 257.1h0M602.2 316.3h0M596 333.3h0M599.7 335.8h0M495.7 378.9h0M629 366.3h0M547.5 414.5h0M638.2 212.9h0M572.6 383.2h0M520.8 311.2h0M588.5 336.2h0M609.2 288.6h0M615.1 270.8h0M504.9 317.4h0M621.3 320.9h0M585.2 349.4h0M498.6 282h0M610.6 328.2h0M592.3 248.3h0M521.5 254.6h0M585.8 296h0M625.4 242.3h0M592.5 161.1h0M533 316.6h0M591.4 339.7h0M640.5 230.8h0M572.6 256.1h0M631.2 261.8h0M618.5 305.6h0M621 272.1h0M477.8 245.2h0M546.7 247.6h0M574.5 390.4h0M519.8 388.2h0M610.6 266.2h0M635.9 320.7h0M574.8 78.8h0M631 282.3h0M634.2 377.8h0M439.6 195.7h0M570.4 226.9h0M586.2 363.9h0M647.5 236.2h0M580.2 347h0M547.9 284.1h0M673.2 341.2h0M592.6 247.5h0M577.3 342.8h0M681.4 242.6h0M652.5 165.6h0M666.3 187.5h0M561.2 256.8h0M570.8 332h0M577.7 366.9h0M577.6 242.5h0M687 316.4h0M633.2 387.8h0M540.4 242.6h0M501.7 294.9h0M516.7 363.2h0M599.7 241.1h0M597.5 225.5h0M520.8 309.3h0M620.2 318.7h0M473.9 289.7h0M559.1 340.1h0M564.3 310.6h0M548 339.4h0M649.1 255.7h0M680.7 271.9h0M508.1 497.2h0M491.8 325.1h0M512.3 377.6h0M649.2 189.8h0M478.6 103.9h0M616.6 326.7h0M649.8 219.3h0M535.7 405h0M491 348.4h0M575.2 295.6h0M637 397.5h0M516.6 356.9h0M564.8 398.1h0M685.5 272.1h0M583.3 380.7h0M541.1 351.2h0M498 362h0M573.6 318.4h0M604.7 300.1h0M621.2 289.7h0M610.2 346.1h0M511.8 200.6h0M676.6 296.3h0M505.5 265.2h0M606.2 291.4h0M600.2 302.5h0M595.6 324.2h0M560.3 313.5h0M560.2 360h0M614.3 274.2h0M573.7 269.3h0M622.2 280.8h0M569.6 310.2h0M602.5 278h0M517.7 353.9h0M551.6 398.1h0M646.7 225.4h0M608.6 207.2h0M592.3 369.8h0M479.1 382.5h0M524.9 298.3h0M583.6 333.7h0M575.3 191.4h0M682.4 382.4h0M590.4 423.5h0M554.4 316.1h0M442.2 174.9h0M494.5 194.8h0M618.8 406.5h0M495.9 297.8h0M621.5 159.1h0M591.8 278.8h0M597 376.3h0M562.1 326.8h0M562.7 204.1h0M541 306.8h0M529.7 344.2h0M619.7 138.5h0M518.9 421.2h0M571.5 295.3h0M446.9 258.7h0M628.6 268.5h0M536.3 248.4h0M639.4 538.9h0M660.8 233.1h0M605.1 269.1h0M556.2 349.5h0M656.7 479.8h0M624 278.2h0M629.3 255.4h0M504.8 371.5h0M555.6 338.2h0M624.9 298.1h0M487.3 368.5h0M668.2 283.2h0M568.6 290.8h0M614.4 202h0M586.7 304.7h0M604.7 351.5h0M542.5 351.7h0M647.6 275.2h0M533.4 342.9h0M517.7 348.1h0M559.1 352.4h0M609.6 254.5h0M639.8 282.9h0M554.6 334.2h0M608.2 288.7h0M599.3 319.3h0M558.6 107.2h0M604.1 513.8h0M611.3 289.6h0M478.3 354.3h0M635.9 288.2h0M556 274h0M673.5 252.8h0M488.8 338.8h0M627.9 208.5h0M680.3 189.9h0M572.4 270.7h0M665.1 299.3h0M574.7 428.2h0M612.3 400.8h0M541.5 368.6h0M607 347.7h0M523.4 320.9h0M596 212.7h0M509.5 277.7h0M625.7 254.8h0M555.2 298.3h0M638.4 280.9h0M565 499.6h0M571.7 343.8h0M589.6 356.3h0M551 328.1h0M572.1 324.7h0M629.8 320.9h0M565.8 326.1h0M622 280.2h0M609.3 289.1h0M582.9 188.8h0M627.7 360.1h0M676.2 278.4h0M536.8 313.5h0M595.2 391.1h0M607.6 194.4h0M618.1 402.9h0M663.8 379.6h0M582.4 487h0M523.3 278.1h0M684.2 258.6h0M628.5 409.9h0M559.6 279.1h0M538.3 283.9h0M601.6 233.1h0M596.4 337.9h0M554.9 413.7h0M598.5 233.5h0M608.8 320.5h0M582.9 257.2h0M646 293.5h0M604.2 342.4h0M635.5 377.6h0M572 287.1h0M596.9 374.2h0M589.7 317h0M542 297.9h0M589 374.3h0M467.8 355.5h0M532.4 218h0M620 191.8h0M494 336.7h0M574.1 378.1h0M533 281.5h0M540.7 497.7h0M649.2 321.5h0M619.6 438.7h0M559.1 349.2h0M534.7 408.8h0M586.9 242.4h0M494.5 123.9h0M541 392.8h0M600 299.4h0M560.8 330h0M619.3 297.3h0M583.8 293.2h0M664.1 350.1h0M530.6 406.8h0M588.3 360.6h0M562.4 301.5h0M460 253.5h0M611.4 324.9h0M588.5 416h0M633.1 319.8h0M576.5 403.5h0M558.2 385.1h0M480.8 329h0M531.4 263h0M600 364h0M548.2 314.5h0M553.1 313.1h0M595.2 156.2h0M546 328.5h0M625.9 268h0M657.8 344.8h0M633 320.6h0M481 269.6h0M613.2 264.7h0M610.8 369.3h0M533.5 341.9h0M645.7 95h0M651.2 297.9h0M527.2 362.8h0M687.9 147.3h0M595.1 389.8h0M647.4 138.9h0M660.6 365.7h0M579.5 284.3h0M628.4 319.4h0M613.7 319.8h0M611.8 263.7h0M563.2 287.6h0M568.5 333.4h0M601.6 340.3h0M469.2 410.5h0M578.8 430.1h0M671.3 124.2h0M626.2 355h0M472.1 318.2h0M614.3 340.1h0M566.8 274.8h0M647.2 262.5h0M543.7 274.3h0M610.4 432.2h0M649.4 239.6h0M558.7 394.3h0M581.6 379h0M587.8 338.8h0M536.3 290h0M662.1 171.3h0M635.3 146.5h0M583.3 324.3h0M538.9 365.6h0M640.2 299.4h0M658.2 277.6h0M620.7 201.1h0M593.2 278.9h0M590.3 340h0M570.2 309.9h0M582.1 348.9h0M599.9 322.3h0M550.5 401.6h0M671.8 381.9h0M613.7 411.7h0M605.1 152.1h0M625.1 285.6h0M611.1 270.5h0M556.8 367.1h0M590.6 205.9h0M556.8 317.3h0M616.5 347.5h0M681.4 238h0M613.1 233.6h0M566.4 353.9h0M524.6 349h0M629.8 290.4h0M559.5 279.8h0M650.9 286h0M621.2 280.2h0M479.8 314.5h0M684.5 265.7h0M595.6 253.5h0M593.4 356h0M558.6 215.8h0M567.3 344h0M558.6 507.7h0M550.5 343.7h0M550.3 290.6h0M454.6 395.8h0M522.8 272.7h0M680.2 305.9h0M625.7 310.5h0M566.9 280.9h0M643.2 299.9h0M511.1 351h0M564.9 384.6h0M572.5 295.3h0M659.7 262.1h0M666.7 235h0M625.2 322.5h0M589 346.1h0M641.2 185.9h0M624.4 378.5h0M607.2 251.5h0M630.6 283.7h0M563.4 287.3h0M594.8 312.9h0M478.3 341.1h0M596.4 322.4h0M641.6 185.5h0M575.6 302.9h0M583.6 381.9h0M603.9 419.6h0M618.9 313h0M533.9 388.3h0M608 292.3h0M505.2 356.1h0M563.2 312.3h0M536.8 380h0M542.8 303.5h0M531.3 421.7h0M607.1 191.2h0M679.2 116.4h0M601 368.9h0M522.9 433.1h0M566.6 251.7h0M518.5 191.2h0M603.8 266.1h0M629 437.5h0M592.8 269.9h0M541.5 180.9h0M547.5 346h0M526.6 200h0M620 213.9h0M527.5 225.7h0M540.1 343.3h0M547.4 329.7h0M606.8 369.6h0M546.7 387.8h0M642.6 280.9h0M625.4 356.2h0M515 310.1h0M574.1 265.7h0M572.4 187.9h0M579.2 356.4h0M621.7 227.3h0M597.8 268.5h0M484.8 257.1h0M635.3 321.4h0M591.3 274.4h0M635.2 250.7h0M585.9 273.1h0M579.6 340h0M498.5 400h0M583.1 375h0M514.7 245.1h0M637.2 479.7h0M504.1 310.7h0M500.9 330.5h0M594 335.6h0M568.6 420h0M618.9 297.1h0M669.9 233.8h0M629.7 280.1h0M482.3 351.3h0M564.7 449.8h0M690.4 382.2h0M631.8 255.2h0M532.8 313.5h0M549.9 352.4h0M634.7 243.9h0M581.5 308h0M593.4 381.8h0M547.5 361.7h0M666.7 340.9h0M567.3 360.2h0M585.5 362.9h0M620.8 322.1h0M629.8 341.6h0M597.9 222.8h0M528.5 302.2h0M607.9 303h0M528 333.7h0M580.2 290.6h0M498.5 444.9h0M647.5 288.8h0M612.9 417.9h0M651.2 196.6h0M552.7 291.6h0M496.7 180.1h0M549.8 463.6h0M621.8 291.7h0M561.5 353.6h0M533.3 312.2h0M655.4 331.8h0M641.2 235.4h0M559.5 358.7h0M633.1 377.2h0M568.1 262.1h0M655.3 210.4h0M523.4 311.3h0M608.1 284.4h0M553.9 526.5h0M530.1 271.8h0M605.8 238h0M633.1 321h0M628.8 314h0M553.3 331.8h0M497.2 295h0M585.7 355.4h0M516 306.7h0M563.9 323.7h0M563 304.7h0M608.8 192.6h0M513.9 399.9h0M652.9 260.6h0M505 370h0M644.7 289.3h0M678.7 210.5h0M596.3 205.5h0M614.8 331.2h0M545.8 386h0M562 313.5h0M504.6 321.5h0M603 238.5h0M664.5 402.6h0M621 313.1h0M584.9 271.9h0M562.2 342.4h0M521.5 374.5h0M545.6 322.1h0M600 302.1h0M520.2 299.4h0M587.4 175.3h0M574 139.6h0M601.9 267.4h0M589.4 270.4h0M458.8 229.4h0M564 409.1h0M634.4 289.7h0M596 243.8h0M571.8 341.9h0M582.8 303.9h0M582.2 498h0M533.9 241.9h0M498.1 399.6h0M656.5 263.2h0M659.7 259.4h0M612.6 280.1h0M568.1 339.3h0M506.8 358.6h0M578.7 318.2h0M583.4 249.4h0M569 287.4h0M672.9 287.2h0M646.8 129.1h0M672.6 354.2h0M591.4 362.6h0M569.7 220.1h0M546 305.6h0M612.7 386.7h0M681.4 261.2h0M575.4 297.5h0M569.3 239.7h0M594.9 278.2h0M485.4 236.2h0M677.2 111.4h0M584.5 431.6h0M617.3 251.9h0M522.3 328.9h0M520 469.1h0M578.3 249h0M535.8 363.6h0M615.9 334.6h0M562.9 283.8h0M577.1 340.4h0M642.7 307.6h0M619.4 290.4h0M536.9 351.2h0M541.5 362.4h0M600.8 256.2h0M590.8 232.4h0M590.8 238.5h0M602.3 353.4h0M679.7 235.7h0M580.8 270.8h0M574.2 258.7h0M616.2 192.3h0M596.6 271h0M552.8 472.9h0M580.7 245.5h0M457 366.1h0M531.7 330.1h0M589.5 358.2h0M615.8 336.5h0M664.3 242.6h0M637.2 315.1h0M637.4 299.6h0M606.9 320.7h0M558.5 364.1h0M684.3 231.9h0M614.8 303.1h0M639.7 293.6h0M683.6 149.4h0M590.3 289.3h0M564.8 416.7h0M575.7 362.6h0M572.2 501.5h0M589.2 268h0M526.9 342.3h0M527.2 235.4h0M541.9 306h0M675.5 366.5h0M600.8 281.8h0M475.9 331.5h0M624.2 360.5h0M663.7 255.3h0M625.4 274.9h0M588 298.4h0M535 310.9h0M537.3 237.6h0M561.5 278.4h0M540.7 328h0M611.4 320h0M624.5 259.2h0M600.2 261.8h0M638.1 254.6h0M606.5 216.2h0M502.3 325.4h0M648.6 229h0M569 273.3h0M597.4 333.2h0M514.5 307.1h0M573.1 383.9h0M476.7 264.9h0M528.6 375.3h0M582.5 330.9h0M607.9 246.8h0M581.7 268.6h0M639.7 194.8h0M540.6 391.9h0M629.8 281.5h0M599.8 253.1h0M677.1 430.1h0M575 322.7h0M474.9 350.9h0M661.5 239.7h0M602.8 341.4h0M540.3 484.6h0M562.4 354.7h0M611.1 307.3h0M584.1 355.2h0M504.1 367.5h0M682.9 252.6h0M553.1 310.9h0M565.2 199.4h0M569.2 351.6h0M604.2 256.9h0M539.7 453.7h0M636.4 214.5h0M652.5 224.2h0M515.1 265.7h0M553.6 245h0M574.4 334.1h0M661.4 203.9h0M635 270.9h0M587 260.3h0M601.8 295.7h0M623.5 245.5h0M571.4 356.9h0M616.9 263.5h0M621.3 308.4h0M603.2 388.9h0M612.1 416.1h0M581.5 261.4h0M520.1 336.8h0M513.6 383.9h0M599.9 311.2h0M569.8 377.7h0M551.7 335h0M620.8 353.9h0M588.1 313.8h0M565 302.7h0M675.3 290.2h0M610.1 393.4h0M501.8 455.3h0M669.4 322.4h0M501.4 330.8h0M614.5 305.3h0M631.2 293.7h0M561.1 233.7h0M516.5 333.7h0M517.9 302.2h0M568 396.8h0M580.8 206.7h0M627.4 330.9h0M581 345.9h0M681.6 350.9h0M625.3 324.1h0M466 308.3h0M668 323h0M491.7 344.8h0M558.7 327.5h0M573.3 365.1h0M538.4 181.2h0M645.1 534.1h0M636 250.6h0M686.2 336.4h0M641.3 384.4h0M489.8 293.3h0M603.1 323.2h0M491.5 422.6h0M580.4 272.5h0M563.5 301.6h0M560.1 274.6h0M536.5 278.8h0M571.2 332.8h0M609.1 251.7h0M660.5 342h0M634.5 312.9h0M632.9 380.3h0M541.2 406.9h0M587.4 517h0M564.4 360.6h0M676.1 232.5h0M604.4 287.4h0M649.5 186.9h0M456.4 363.8h0M581.4 322.4h0M565.7 231.8h0M547.8 318.1h0M658.4 307.6h0M578.3 259.8h0M672.7 302.9h0M568.1 341.3h0M511.4 266h0M592.6 270h0M518.3 361.5h0M544.8 351.8h0M662.4 165.2h0M597.4 244.1h0M602.9 289.5h0M615.5 361.6h0M445 305.4h0M587.6 267.3h0M534.2 353.6h0M516.1 213.9h0M671.2 224.3h0M654.7 261.8h0M607.7 227.8h0M567.9 259.9h0M487.9 93.2h0M589.3 230.2h0M596.8 270.5h0M649.2 242.8h0M507.2 380.5h0M532.8 293.2h0M606.8 392.5h0M532.9 253.4h0M575.9 336.9h0M475.2 263.2h0M626.5 144.9h0M587.1 190.7h0M675 351.4h0M639.2 200.6h0M619.9 299.2h0M590.2 380.1h0M575 384h0M693.8 302.1h0M596.9 243.4h0M486.9 428h0M574.2 308.4h0M484.6 360.4h0M590.3 314.4h0M550.6 388.1h0M553.6 386.6h0M604.6 245.2h0M619.8 360.1h0M622 296.5h0M528.9 157.8h0M578.7 466h0M578.5 451.8h0M547.2 363.6h0M614.8 323.9h0M640.1 399h0M523.4 308.4h0M580.7 323.4h0M520 265.8h0M570.1 360.1h0M550.7 415.2h0M557.1 293.4h0M505.4 246.5h0M655.3 291.3h0M500.4 458.1h0M565.1 244.5h0M516.5 263.6h0M597 353.3h0M559.2 309.7h0M549.6 329.3h0M600.7 244.1h0M545.2 381.3h0M596.2 398.2h0M518.5 321.3h0M676.6 328.1h0M531.7 407.5h0M457 358.8h0M462.3 348h0M529.3 401.7h0M527.8 398.2h0M594.6 340.7h0M657.8 296.9h0M535.5 357.1h0M581.8 321.4h0M580 474.1h0M601.1 232.2h0M558.8 293.4h0M572.9 338.2h0M442.8 299.5h0M642.8 373h0M626.7 276.3h0M636.3 317.1h0M569.2 278.5h0M526.4 259.9h0M548.7 343.9h0M605 322.2h0M539.7 415.6h0M662.7 175.3h0M569.9 224.8h0M594.6 340.2h0M577.9 238.4h0M602.9 328.7h0M575.7 377.2h0M689.9 258h0M631.8 254.1h0M524.4 371.6h0M595.9 267.3h0M609.4 238h0M593.8 316.1h0M672.8 276.1h0M651.3 336.1h0M488.8 492.2h0M596.8 357.7h0M588.8 320.3h0M552 297.8h0M596.8 295.7h0M630.4 287.3h0M664.3 283.5h0M567.3 245.8h0M646 268h0M545.7 329.1h0M557.9 286.6h0M625.8 364.6h0M597 280.8h0M606.5 394h0M681.3 311.4h0M688.6 294.1h0M589.5 204h0M561.6 326.4h0M528.8 310.9h0M612.6 361.3h0M646 293.1h0M556.4 281.7h0M666.6 163.5h0M657.3 315.1h0M604.4 282.9h0M617.7 338.4h0M624.4 275.4h0M537.9 316.2h0M589 327.2h0M658.9 492.6h0M559.4 325h0M530.9 345.8h0M606.1 189.8h0M561.5 174h0M538.2 297.5h0M647 344.7h0M671.2 319.3h0M601.8 366.1h0M615.7 304h0M566.6 443.4h0M633.1 310.2h0M639.6 315.1h0M591.7 324.3h0M621.3 318h0M581.6 251.9h0M547.5 263.2h0M613.1 395.8h0M525.4 403.9h0M555.5 202h0M593.2 220.4h0M630 162.6h0M595.3 332.8h0M582 207.5h0M597.2 293.8h0M612.2 449.4h0M438 377.8h0M499.1 278.5h0M615.2 250.9h0M451.9 406h0M523.6 134.4h0M568.1 338.3h0M535.5 306.5h0M551.8 352.1h0M626.4 258.9h0M559.9 309.4h0M577.4 412.7h0M574.5 302h0M599.9 318.7h0M588.3 323.4h0M599.6 172.3h0M580.3 197.7h0M576.7 334.8h0M615.5 263.9h0M564.7 354.6h0M581.2 202h0M670.8 192.7h0M580.6 237.1h0M613.3 364.7h0M601.1 286.4h0M525.9 352.8h0M467.9 323.6h0M582.5 305.5h0M502.7 395.1h0M628.2 348.3h0M652.9 231.6h0M523.1 301.3h0M487.2 359.2h0M657.8 452h0M566.5 326.7h0M542.7 274.4h0M497.3 314.5h0M593 295.5h0M527.7 479.1h0M550 321.3h0M657.9 296.4h0M605.4 311.9h0M567.6 277.4h0M481.7 254.8h0M576.1 216.3h0M498.1 238.3h0M477.1 243.6h0M643 309h0M569.1 369.6h0M527.7 311.9h0M517.5 143.9h0M600.4 334h0M506.5 390.8h0M664.3 287.2h0M472.3 232.1h0M657.7 234h0M551.6 279.3h0M619.3 357.2h0M570.1 358.9h0M584.3 312.9h0M569.6 265.1h0M574.4 276.4h0M680.8 120.5h0M569.9 319.7h0M577.3 365.8h0M597.4 307.3h0M510.9 317h0M507.7 333.1h0M538.2 255.3h0M543.9 416.1h0M519.4 274.4h0M641.8 300.1h0M591.5 325.6h0M499.1 423.8h0M576.3 388.3h0M534.4 357.6h0M635.8 427.5h0M593.3 255.6h0M618.8 293.6h0M681.7 350.6h0M587.4 215.5h0M629.2 291.4h0M505.5 210.6h0M474.4 422.4h0M668.7 320h0M615.3 323.8h0M631.9 299.4h0M599.6 353.3h0M520.5 307.4h0M618.3 213h0M602.2 271h0M534.9 413.1h0M689.5 297.6h0M641.5 305.3h0M523.1 332.4h0M595.1 242.7h0M611.6 298.1h0M564 284.2h0M667.5 235.1h0M551.3 288.7h0M667.8 317h0M593.6 290.8h0M596.5 265.9h0M650.9 359.7h0M607.6 420.2h0M564.1 330.1h0M551.1 471.2h0M641.9 353.6h0M585.8 388.4h0M665.9 392.6h0M667.6 295h0M469.1 311.6h0M528.5 425.1h0M513.6 237.5h0M622.2 243.3h0M595.2 257.6h0M566 218.9h0M521.8 280.2h0M465.3 269.4h0M590.2 325.1h0M610 332.5h0M566.4 299.7h0M536.9 252.5h0M645.3 187h0M584.5 324.2h0M562.7 289.9h0M612.9 338.3h0M500 330.9h0M563 319h0M586.6 354.7h0M590.5 459.5h0M611.8 339.2h0M681.5 330.4h0M528.8 438.7h0M572.6 285.3h0M605.8 159h0M538 313.9h0M532.2 374.8h0M536.7 290.6h0M602.8 301.3h0M626.5 304.2h0M665.5 334.6h0M613.4 346.4h0M659.4 228.6h0M550.4 337.6h0M629.9 292.4h0M467.9 330.4h0M567 300h0M639.4 261.3h0M607.6 316.8h0M671 295.1h0M545.7 304.9h0M543.6 354.3h0M547.1 268.9h0M598.6 402.6h0M477.9 429.7h0M562.6 253.2h0M539.4 269.3h0M630.6 274.4h0M547.9 436.1h0M682.5 97.9h0M679.4 387h0M605.9 360.4h0M557.4 216.4h0M666.1 328.6h0M460.9 115.2h0M526.9 276.4h0M672.3 478.8h0M565.8 213.9h0M569.1 314.4h0M616.2 332.7h0M657 317.8h0M592.7 357.6h0M601.3 266h0M532.3 271.6h0M578.1 277.7h0M536.5 208.7h0M653.3 334.1h0M601.1 299.1h0M580.4 338.8h0M582.5 375h0M595.2 373.9h0M475.3 284.5h0M589.3 281.5h0M544.8 82.4h0M597.2 277.7h0M629.8 501.9h0M555.3 236.6h0M597.5 222.2h0M558.6 350.5h0M512.9 314.2h0M529.6 319.2h0M644.8 270.7h0M573 193.1h0M586.5 350h0M560.5 321.9h0M629.5 355.6h0M598.2 297.8h0M590.2 297.6h0M674 176h0M540.7 353.7h0M665.2 172.6h0M609.5 331.9h0M525.1 334h0M615.6 269.8h0M687.2 310.9h0M529.7 351.8h0M642.7 283.2h0M545.3 295.5h0M564 292.5h0M541.4 306.3h0M518.2 242.7h0M465 388.7h0M560.1 208.7h0M460.1 374.4h0M636.5 292.7h0M556.8 423.5h0M633.6 317h0M572 299.8h0M515.1 287.7h0M613.9 224.9h0M544.5 295.8h0M622.7 287.5h0M600.5 298h0M596.6 251.6h0M590.6 240.4h0M567.9 319.8h0M591.6 317.3h0M666.1 235.6h0" fill="none" stroke="#000" stroke-width="6.4" stroke-linecap="round"/>
<path d="M1073.3 291.7h0M1244.4 251.1h0M1253.8 261.2h0M987.8 349.6h0M1116.5 321.8h0M1108.5 293.6h0M1167.9 283.4h0M1167.7 320.8h0M1084.7 352.4h0M1035.9 318.4h0M1203.3 283h0M1059.5 320h0M1041.5 327h0M1167.7 294.5h0M1184.3 287.3h0M1084.7 319.5h0M1165.1 264.3h0M1174.6 326.8h0M1166.4 302.2h0M1163.1 321.2h0M1278.7 230.6h0M1239.9 302.8h0M1116.1 288.6h0M1164.9 300.8h0M1031.4 315.8h0M1091.7 263.8h0M1152.2 299.1h0M1108.8 412.1h0M937.7 346.6h0M1061.9 326.7h0M965.9 225.8h0M993.5 293.8h0M989.6 291.7h0M1210.6 342.3h0M988.8 321.8h0M1189.1 283.4h0M1083.4 220.3h0M1122.4 357.4h0M1130.6 263.6h0M1083.6 300.1h0M1010 361.5h0M1031.6 300.3h0M1123.9 261.2h0M1278.6 298.5h0M992.9 386h0M973.8 328h0M1282.4 297.7h0M1027.6 271.8h0M1039.1 293.3h0M969.1 319.8h0M994.8 328.9h0M1255.5 269.5h0M1053.7 346h0M1058 288h0M1232.3 322h0M1187.5 278.5h0M1101.6 318.4h0M1160.1 283h0M860.8 275.3h0M1052.5 344.3h0M1072.5 281h0M1224.7 211.2h0M1243.8 254.3h0M1056.7 302.5h0M946.5 370h0M978.6 351.9h0M970.3 363.5h0M1006.4 314.9h0M994.1 331.6h0M1076.3 352.7h0M1157.3 283h0M976 363.2h0M975.5 301.4h0M1127.2 332.8h0M1162.3 292.3h0M1032.2 360.7h0M1069.1 309.5h0M982 326.6h0M962.2 389.6h0M1194.4 276.7h0M1030.3 302.9h0M1011.2 348.5h0M1107.8 312.2h0M1074.7 307.1h0M1050.2 366.3h0M953 330.6h0M1315.1 196.5h0M937.8 224.4h0M1256.4 257h0M1080.5 397.4h0M1118.8 298h0M1197.8 276.4h0M1157.5 270.5h0M1082.4 365.6h0M1136.3 330.4h0M1139.8 314.5h0M1174.8 307.4h0M1186.2 322.2h0M1312.9 234.2h0M1009.4 308.1h0M1198.7 221.2h0M1070.2 295.6h0M995.4 330.9h0M1045.8 306.7h0M1053.4 293h0M966.2 354.2h0M997.8 337.6h0M998.5 316.1h0M1101.5 286.8h0M1082 274.5h0M1174.7 277.1h0M1060.9 279.1h0M1019.2 325.9h0M1079.7 328.4h0M1194.4 273.2h0M1295.1 207.8h0M1115.8 283.3h0M1066.5 300.9h0M1019.2 424.2h0M1122.3 296.4h0M1065.6 441.9h0M1064.2 293.7h0M1212.4 223.8h0M1323.7 234.6h0M1121.8 295.5h0M1000.5 315.7h0M1217.2 311.9h0M1167.8 335.7h0M910.4 324.2h0M1214.2 272.6h0M1315.5 198.7h0M1043.1 305.3h0M1235.5 307.2h0M1216.4 214.9h0M1236.6 355.4h0M970.9 271.6h0M1311.8 256.8h0M967.9 370.2h0M1275 226.5h0M1159.2 249.3h0M1122.7 271.1h0M1173.5 287.5h0M1301.6 242.2h0M1028.3 312.4h0M1097.4 357.1h0M1268.6 320.7h0M1104.3 327.4h0M1036.6 333h0M1117.3 298.8h0M1041.9 263.7h0M968.6 308.2h0M990.1 322.2h0M1056.1 282h0M993.1 331.7h0M968.1 395.2h0M936.9 366.3h0M1057.5 330.1h0M1180.1 250.2h0M982.9 335.3h0M1114.2 324.7h0M927.2 330.3h0M1111.1 282.5h0M1076.7 330.1h0M1293.2 253.4h0M1117.2 281.4h0M1235.4 263.9h0M995.5 264.4h0M1014.5 312.4h0M1197.8 244.8h0M1086.1 284.2h0M1114.2 277.7h0M1027.2 323.2h0M1250.9 232.6h0M1310.2 228.9h0M1115.9 309.1h0M1136.4 315.9h0M1248.8 294.5h0M1148.5 321.5h0M1244.8 234.5h0M1040.6 365.2h0M1219.1 324.6h0M1105.2 313.2h0M1226.5 192.3h0M1057.6 356.8h0M1032.2 322h0M1106 287.9h0M1244.9 265.1h0M992.2 301.6h0M1198.1 268.5h0M1277 125.3h0M1308.5 171.2h0M1195.6 228.5h0M924.6 338.3h0M1064.3 360.2h0M1200.3 274.2h0M1118.6 219.7h0M1294 372.5h0M1137.2 296.8h0M1045.8 332.7h0M1291.7 295.2h0M975.7 202.7h0M1035.5 294.4h0M1062 324.4h0M1103.7 324.2h0M1108.7 277.1h0M1000.2 333.9h0M1052.9 312.5h0M1135.8 320.2h0M1018.8 344.1h0M976.4 383.2h0M1072.6 332.4h0M1121.8 323.6h0M1078.6 294.9h0M1118.7 321.7h0M1177.3 318.6h0M1004 329.9h0M1050 290.5h0M1190.7 312.7h0M1039.9 326.8h0M1260 233.7h0M1087.9 290h0M1036.4 300.8h0M971 318.9h0M976.2 245h0M1025.9 321.6h0M1188 264.1h0M1038.8 339h0M1172.5 299.5h0M1145 324.5h0M1203 300.9h0M1064.6 339.7h0M1144.7 274.2h0M1141.6 297.1h0M996.7 312h0M1298.4 209.3h0M945.1 314.1h0M1104.7 308.7h0M1066.4 335.7h0M966.7 292.9h0M1025.4 356.8h0M991.1 358.6h0M1280.1 250.9h0M1134.9 346.5h0M1153.7 316.2h0M1140.3 378h0M954.7 320h0M1036.1 364.5h0M1183.3 267.5h0M1184.1 281.2h0M1059.7 299.8h0M1068.5 345.4h0M966.8 281.2h0M1055.8 304.3h0M1187.9 322.5h0M1316.1 283h0M1019.7 387h0M1111.7 302.7h0M1254.5 255.8h0M1296.4 326.1h0M1016.8 497.6h0M989.9 316.4h0M945 319.6h0M1285.9 199.5h0M1062.2 281.6h0M1180.6 253.2h0M1170.5 325.1h0M1164.9 310.3h0M1120.9 281.3h0M1272.4 305.3h0M995 331.8h0M1127.8 335.3h0M1180.9 347.9h0M1109.8 342.8h0M993.8 349.4h0M1065.9 297h0M1027.7 268.7h0M1196 295.7h0M1097.7 303h0M1211.3 310.4h0M1060.4 361h0M990.7 283.4h0M1057.6 303.6h0M1050.7 464.7h0M1035.5 324.3h0M965.7 339.3h0M1056 297.1h0M1200.4 179.5h0M1016.6 356h0M1098 370.6h0M1162.4 323.2h0M1006.4 333.4h0M851.7 264.9h0M1031.8 377.8h0M1218.8 242.9h0M1275.1 334.2h0M1201.9 258.6h0M974.7 326.5h0M1064.4 353.5h0M1033.2 333.6h0M1234.7 345h0M1205.1 284.9h0M1045.2 322.3h0M1088.7 295.2h0M1060.2 393h0M1134.1 334.8h0M1300.8 168.5h0M1084.2 318.1h0M1072 306h0M1137 252.1h0M1325 253.7h0M978.3 296.2h0M1202.8 265h0M1303.8 250.9h0M1318.1 244.8h0M1022.9 306.6h0M1135.2 284.1h0M1081.3 307.6h0M1110.5 283.4h0M1222.5 292h0M1321.1 241.3h0M1031 333.4h0M1111.6 319.3h0M1269.8 259.7h0M1319.7 211.2h0M1010.4 236.5h0M1183.2 252h0M1159.2 268h0M963.3 311.3h0M1038.8 269.2h0M1062.8 314.7h0M1001.1 393.3h0M1063.5 332.7h0M1212.4 277.1h0M1201 274h0M1230.6 272h0M901.5 472.1h0M1076.3 276.8h0M1317.1 257.7h0M980 304.8h0M1073 211.3h0M1215 236.8h0M1126.7 299.4h0M1041.1 297h0M1064.7 314.2h0M1141.4 307.9h0M1186.8 272.6h0M1072.7 337.1h0M1195.3 258.5h0M1183.2 304.6h0M1027.2 342.8h0M1139.3 343.8h0M1086.1 317.5h0M1230.4 238.7h0M1180.3 281.4h0M1040.3 388.7h0M988.5 337.6h0M1167.4 315.1h0M1109.9 297.1h0M1254.1 164.7h0M1043.6 359.3h0M1116 298.5h0M1306.8 226.5h0M1129.3 425.6h0M1020 327.8h0M1192.2 243.9h0M1181.5 294.1h0M984.5 393.7h0M1037.5 327.2h0M1139.7 282.6h0M1042 326.9h0M1187.1 127.8h0M1203.4 298.6h0M960.8 365.7h0M1147 332h0M1086.5 308.1h0M1298.2 220.1h0M1026.1 277.4h0M1062.4 284.4h0M1090.3 304.1h0M1192.6 298.2h0M1058.9 314.1h0M1226.3 300.2h0M945 279.7h0M961.8 390.7h0M1119.8 254.8h0M1183.4 288.8h0M973.3 405.8h0M990.2 327.6h0M1038.9 291.7h0M1260.3 244h0M1147.3 332.9h0M1105.3 339.9h0M1033.9 332.4h0M1160.9 246.7h0M953.6 455.8h0M1156.7 286.9h0M1200.2 264.6h0M1248.6 280.2h0M1040.3 356.3h0M1265.1 245.1h0M1052.2 380.2h0M859.4 165.5h0M970.2 359.7h0M1152.3 309h0M1161.2 310.9h0M1090.6 300h0M1275 256.9h0M1140.2 305.6h0M978.1 311.1h0M987.2 318.6h0M995.4 339.5h0M1114.5 320.1h0M1133.5 281.8h0M1151.3 282.7h0M1204.3 274.7h0M1227.5 246.8h0M1105.7 333.4h0M1216.5 279.4h0M1263.3 275.8h0M1204 253.2h0M1143.9 308h0M1095.6 287.8h0M1152.8 361.1h0M849.9 202.8h0M1190.6 301.5h0M1185 270.3h0M1069.5 327.7h0M1145.2 336.3h0M1209.1 286.4h0M1057.3 333.5h0M981.4 324.1h0M906.5 336.8h0M998.6 349.9h0M1124.9 299.3h0M1025.5 284.3h0M1008.1 314.8h0M978.9 402.7h0M1202 222.8h0M1067 320.3h0M1018.4 341.7h0M1075 307h0M1171.6 275.4h0M1078.3 299.5h0M1061.9 307.2h0M905 352h0M1024.3 270.9h0M1207.1 238.5h0M1161.9 428.6h0M1091.9 210.7h0M1021.8 351.9h0M1060.6 390.1h0M1321.9 231h0M930.2 323.4h0M922 303h0M1068.2 272h0M1306.2 255.1h0M1162 306.2h0M1180.4 268.6h0M1015.3 252.2h0M1050.9 279.1h0M1094.2 287.6h0M1039.1 281h0M1169.6 285.9h0M1028.9 486.4h0M1145.6 305.6h0M1140.5 307.3h0M1298.9 270.1h0M1260.9 259.2h0M1080.1 323.7h0M1052.8 355.3h0M1007.8 385.7h0M1150.3 312.2h0M929.3 535h0M1017.3 286.5h0M1040.1 283h0M1061.1 310.2h0M1243.7 233h0M920.3 292.6h0M1151.3 332.4h0M1061.5 339.4h0M1033 353.8h0M1133.7 306.9h0M1111.9 296.2h0M1119.5 345.6h0M1006.7 296.6h0M1275.9 209.3h0M1043.6 316.9h0M1053.2 255.4h0M1131.4 272h0M1102.8 241.7h0M973.4 334.6h0M1261.6 253.3h0M1189.1 278.5h0M1107.7 271.6h0M1183.9 284.7h0M1120.6 292.2h0M1044.7 251.9h0M1158.8 326.7h0M940.6 336.6h0M1075.6 357.6h0M1054.6 331.4h0M1122.4 262.5h0M1196 289.8h0M919.2 335.5h0M1316.3 191.8h0M960.7 307.3h0M919.1 316.9h0M1067 344.9h0M1127.1 318.4h0M1259.1 274.8h0M1312.1 205.7h0M982.6 368.7h0M1157.2 322.2h0M1152.8 452.9h0M1301.2 211h0M1003.5 306.9h0M1182.2 302h0M1169.7 293.8h0M1189.7 198.1h0M1251.2 275.3h0M1309.4 375.1h0M985.1 315.3h0M986.4 338.7h0M1040 282.7h0M1066.5 323.5h0M1120.2 299.6h0M1148.3 308.5h0M966.5 337.8h0M934.8 356.1h0M1108.5 349.5h0M1201.5 312.6h0M1072.8 297.7h0M1001.1 299.3h0M1189.5 219.8h0M999.6 341h0M1122.2 269.4h0M988.7 351.3h0M1099.2 300.6h0M1059.9 351.4h0M1202.8 285.6h0M1215.7 285.7h0M1143.2 301.5h0M1109.1 287.6h0M1274 297.2h0M1053.4 312.3h0M1234.5 317.3h0M1121 277.5h0M1003.7 323.7h0M1168.8 323.2h0M979.1 342.4h0M1186.2 293.3h0M1065 379.4h0M1228.1 278h0M1058.1 347.7h0M965.3 359.4h0M1233.3 201.6h0M1034.4 311.6h0M1241.2 296h0M1014.8 323.1h0M1138.5 330.4h0M996.3 318h0M1091.1 292.9h0M1045.5 306.9h0M1144 279.3h0M1086.5 328.1h0M1064.8 291.2h0M1225.2 178.1h0M1059.1 228.8h0M937.4 233.2h0M1005.7 281.4h0M998.3 274.3h0M1119.7 264.4h0M1013.9 262.1h0M1104.3 326.6h0M1260.3 283.7h0M978.4 361.2h0M1096.4 274.9h0M860.1 286.8h0M1005.3 405.2h0M1195.9 229.2h0M1152 260.3h0M1125.3 269.4h0M1144.2 277.4h0M1004.7 273.2h0M1137.7 302.7h0M1175.1 279.6h0M1190.6 225.3h0M1110 287.8h0M1143.1 289.5h0M1026.4 307.3h0M1121.8 366.2h0M1021.7 328.5h0M1190.9 301h0M989.8 331h0M969.5 308.3h0M1168 318.8h0M1071.2 321.8h0M1193.2 254h0M1067.7 293.3h0M1047 308.5h0M1129.8 317.5h0M1253.4 237.5h0M1252.3 273.2h0M1096.3 301.3h0M1206.1 280.7h0M1219.4 279.8h0M1320.1 239.8h0M1282.5 248.7h0M1183.8 291.8h0M1122.5 320.8h0M1046.5 331.3h0M940.6 319.5h0M1281.3 144.2h0M1191.9 282.4h0M952.3 315.9h0M1083.9 328.8h0M1099.1 298.5h0M1149.8 303.5h0M1040 291.8h0M1325 317h0M1225.6 275h0M1017.7 334.1h0M1155.2 310.5h0M932.1 402.6h0M1283.3 385.4h0M982.1 313.4h0M993.7 334.7h0M1139.9 364.3h0M1112.4 342.7h0M1139.3 287.1h0M1110.9 318h0M1158.2 306.1h0M1175.3 265.4h0M1105 367.8h0M1044.7 301.5h0M1056.5 332.2h0M981.9 374.6h0M1162 304.7h0M1138 323.3h0M977.2 316.1h0M979.7 310.5h0M1027.1 334.2h0M1056.6 344.4h0M1044.6 300.5h0M1024.2 451.7h0M1010.7 330.2h0M1078.7 277h0M1229.7 281.2h0M1013.8 311.7h0M967.2 333.7h0M1205.6 326.2h0M1019.8 342.4h0M1050.6 328h0M1072.3 297.5h0M1014.7 294.9h0M1018.8 319.3h0M1010.4 372.9h0M942 337.8h0M1190.4 273.9h0M999.7 330.4h0M1216.9 263.4h0M1008.1 222.7h0M1199.3 286h0M1208.3 274.8h0M1106.2 317.1h0M1158 199.9h0M953.7 265.4h0M1274.4 235.8h0M1294.1 276.1h0M1118.5 285.4h0M1160.5 284.1h0M1075.7 376.8h0M996.1 228.1h0M1064.9 324h0M1249.6 285.9h0M1173.4 272.9h0M1098 353.3h0M1134.2 327.5h0M1066.7 306.1h0M1165.8 313.9h0M1024.9 285.6h0M880.9 312.2h0M1121.8 334.7h0M882.7 306.6h0M1253.1 237.9h0M1266.1 234.5h0M1236.2 252.1h0M1087.2 316.1h0M941.4 280.1h0M1125.8 358.2h0M1198.8 311.3h0M1184.2 288.5h0M1163.2 296.4h0M962.1 334.9h0M969.3 298.8h0M1053.8 295.9h0M1045.5 268.6h0M1244 264.5h0M1137.5 350.3h0M1092.9 320.3h0M900.5 331.5h0M1036.3 325.7h0M1023.5 334h0M1106.6 287.5h0M1095.2 330.9h0M1066.6 320.7h0M991.6 322.6h0M1027.1 331.7h0M1098.2 304.9h0M1048.7 291.5h0M1012.9 311.4h0M1002 346.2h0M1091.7 325.5h0M1263.4 295.7h0M1124.8 346.3h0M1163.1 291.7h0M1119.5 279.3h0M1071.1 339.7h0M1107.7 287h0M975.7 305.5h0M1005.9 318.1h0M1033.7 330.1h0M1246 282.7h0M1084 299.8h0M897.8 324.7h0M1266.6 285.8h0M1165.9 266.4h0M1154.7 301.7h0M1026.7 359.7h0M995.4 341.6h0M1221.2 270.8h0M1315.7 307.9h0M1155.4 296.4h0M1302.2 204.3h0M1138.6 350h0M1073.4 282.9h0M1116.9 348.5h0M1094.4 296h0M979.9 323.6h0M1192.9 329.6h0M1128 285.9h0M1146 296h0M1079.7 476.1h0M1037.9 296.2h0M1158.4 284h0M1132.2 345.9h0M1004.6 377.7h0M1225.4 279h0M1005.2 329h0M1184.1 291.5h0M1064.2 334.9h0M1054.6 332.8h0M1271 287.6h0M1069.5 305.9h0M988.1 300.8h0M982.2 357h0M1176 307.3h0M1093.1 265.1h0M997.7 281.5h0M1155.9 361.9h0M936.1 279.7h0M1239 258.2h0M1027.5 351.3h0M904.6 323h0M1288.8 239.4h0M1237.9 241.8h0M1175 273.1h0M1271.8 262.6h0M1232.8 268.6h0M1187.7 307.3h0M1083.5 297.2h0M1121.4 290.2h0M1040.8 323.5h0M1102 289.1h0M1087.3 298.4h0M1080 306.9h0M1010.8 330.1h0M960.3 281.2h0M1029 265.3h0M980 332h0M1032.4 359.8h0M1033.4 349.4h0M1160.2 299.2h0M1115.6 334.6h0M1171.6 330.6h0M891.4 401.8h0M937.3 458.1h0M1049.4 244.7h0M1137.1 296.9h0M1058.2 323.4h0M1102.9 349.6h0M1246.7 285.3h0M1209.1 300.2h0M1185.4 293.4h0M1256.8 237h0M1091.5 253.4h0M998.4 289.2h0M1158.3 278.5h0M1207.1 340.2h0M1138.7 292h0M1144.1 336.1h0M1160.5 299h0M1002.3 387.2h0M1271 220.8h0M1093.8 348.6h0M1038.9 340.5h0M966.7 320.1h0M1166.7 247.7h0M1100.1 328.8h0M1205.1 296.6h0M1264.1 245.5h0M1080.9 393.8h0M1215.9 247.8h0M1287.7 192.8h0M1059.5 285h0M1194.9 264.5h0M1165.9 328.7h0M988.2 340.6h0M1134.8 203.5h0M1204.2 268.9h0M1202.5 279h0M1014 304.4h0M1199.6 284.6h0M1045.3 303.9h0M972.1 331.1h0M1021.1 323.2h0M1049.2 313.9h0M1153.8 288.2h0M1185.9 333.8h0M1037.4 305.8h0M1038.7 350.8h0M1163.3 310.4h0M1195.3 300.4h0M1017 380.8h0M1042.5 284.5h0M957.2 376.2h0M1069 356h0M993.9 323h0M1016.8 360.8h0M1181.8 213.1h0M980.4 259h0M1097.6 270h0M1193.8 221.2h0M1294.2 195.7h0M1016.2 313.9h0M1221.3 234.5h0M1279.3 271.3h0M1078.6 319h0M1073.1 339.2h0M1045.8 314.4h0M1211.4 280.3h0M1048 295.5h0M1205.4 311.6h0M1167.5 273.4h0M1126.6 301.8h0M1241.4 268.6h0M1180.6 296.2h0M1145.7 290.2h0M1192 226.2h0M1064.2 315.5h0M965.5 348.6h0M962.6 314.2h0M1154.5 247h0M1145.5 266.3h0M1028.1 332.9h0M1180.9 285.7h0M1036.6 289h0M1045.1 295.6h0M1296.6 307.8h0M1231.9 216.7h0M1275.9 286.6h0M1156.6 280.6h0M1035.3 348.6h0M938.4 381.4h0M1013.7 294.7h0M1236 272.2h0M1070.9 232.6h0M1063.8 319.5h0M1064.4 315.4h0M1191.2 304.8h0M1113 288.3h0M970.1 343h0M1168.7 300.7h0M1008.3 349.1h0M1139.1 320h0M1181 302.3h0M1155.5 293.6h0M999.2 330.8h0M1063.4 297.6h0M1302.8 168.6h0M1032.9 289.3h0M1012.2 335.2h0M1286.5 276.7h0M1133.1 273.2h0M1068.1 336.2h0M1008.2 356h0M1107.9 308h0M1182.9 237.8h0M973.2 314.8h0M1020.5 401.2h0M864.3 313.5h0M991.9 289.9h0M987.1 340.2h0M1088.2 291.2h0M1253.5 264.3h0M1204.4 287.3h0M1035.8 379.5h0M1292.6 353.5h0M985.3 343.7h0M995.7 328.7h0M1195.2 298.5h0M1021.3 306.4h0M1258.5 271.7h0M1164 304.9h0M1099.3 323.9h0M1240.9 353.3h0M997.6 305.3h0M1093 330.2h0M1034.7 290.7h0M999.3 305.2h0M1260.2 310.2h0M1240.2 300.3h0M1064.5 372.4h0M1046.7 323.4h0M1169.5 335.8h0M1140.3 235.9h0M932.2 410.5h0M1243.7 212.3h0M1321.2 227.2h0M1134.5 273.2h0M1026.4 337.5h0M1179.7 367h0M1010.8 330.3h0M1102.3 318.6h0M1219.6 295.4h0M907 339.4h0M1098.1 275.1h0M1227.7 269.5h0M1201.4 304.2h0M976.1 350.2h0M1090.2 348.8h0M1074.1 288.4h0M1199.7 282.3h0M1111.2 279.4h0M1060.3 323.8h0M1085.6 301.3h0M1249.8 255.6h0M1030.6 271.5h0M1181.9 270.9h0M1010.6 341.1h0M1230.1 276.3h0M940.5 348.7h0M1017.7 292.8h0M1242 230.3h0M1011.5 347.8h0M1107.6 249.9h0M1044.4 343.8h0M948.8 296h0M1036.1 301.3h0M1093.3 328.3h0M1250.6 247.7h0M1188.6 261.9h0M957.7 239.7h0M1206.9 297.2h0M1005.4 330.1h0M1109.4 285h0M1095.6 322.7h0M1220.2 311.9h0M1140.5 263.5h0M1160.3 338.4h0M1292.6 256h0M1079.7 336h0M1313.8 217.3h0M1229.2 249.3h0M1213.5 249.1h0M1061.1 295.2h0M1255.6 186.1h0M976.2 316.2h0M1003.7 304.5h0M985.1 369h0M1205.3 289.7h0M1077.4 347.4h0M1077.5 379.9h0M934.9 332.3h0M1223.3 238h0M1108.6 285.6h0M1060 310.9h0M1015.4 308.4h0M952.1 338.4h0M1005.2 301.8h0M997.5 417.4h0M945.5 347h0M1161.4 312.1h0M1281.8 324.7h0M1282.5 202.3h0M1231.8 249.5h0M1166.7 275.5h0M986 306.6h0M1007.7 328.1h0M1143.2 257.3h0M975 284.2h0M1143.9 321.4h0M1044.4 291.6h0M1172.1 285.6h0M1023.3 331.7h0M859.5 462.6h0M962.5 264.8h0M1069.7 295.7h0M1221.5 262.3h0M1310.7 262.7h0M1170.6 284.3h0M982 340.7h0M982 269.5h0M1155.9 295.9h0M1010 313.4h0M999.9 353.6h0M987.6 257h0M1229.3 165h0M1199.7 282.2h0M1113.9 297.7h0M1099 244h0M1045.8 326.9h0M1222.6 255.4h0M1050.6 329.7h0M1081.5 277.3h0M1137.4 273.1h0M1013.8 361h0M1150.5 313.1h0M925.3 486.3h0M1120.5 261.7h0M1310 220.5h0M1119.2 333.9h0M1179.4 312.4h0M987.5 417.4h0M1050.1 280.9h0M949.1 375h0M1132.1 368.9h0M1098.5 337h0M1196.4 311.5h0M944 338h0M1093.2 313.5h0M1087 289h0M1194.1 444.4h0M984 317h0M1026.9 314.6h0M1021 345.9h0M1122.6 344.9h0M969 262.5h0M1299.5 277.6h0M1131.8 297.8h0M994.4 247.5h0M1164 370h0M1102.6 339.2h0M996.1 319.8h0M1017.5 352.4h0M1057.5 365.3h0M1039.4 312.5h0M1171.2 271.6h0M1304.8 231.6h0M1169.7 316.9h0M945.9 352.4h0M1095.8 384.3h0M1121.6 366.7h0M1297.6 237.9h0M1061.8 293.3h0M1106 310.4h0M1060.7 330.8h0M1011.6 298.3h0M1241.1 298h0M1204.3 296.1h0M982.8 332.6h0M1129.6 322.3h0M1083 308.9h0M1267.4 275.4h0M1074 304.2h0M1000.2 330.7h0M917.8 321.8h0M1082.9 376.1h0M1175.6 291.4h0M1164.5 293.4h0M1029.4 324.3h0M1181.5 259.4h0M1079.1 328.2h0M1141.1 266.4h0M1054.1 314.3h0M1081.3 273.2h0M1076.2 317.4h0M992.5 302.6h0M987 325.3h0M1211.5 313h0M1111.2 332h0M995 325h0M928.7 327.7h0M1089.1 283.7h0M1068 352.2h0M1254.7 267.1h0M1289.2 257h0M1024.4 346.5h0M1087.9 278.2h0M905.1 391.7h0M1316.8 302.9h0M1018.4 298.2h0M1179.4 223.3h0M1022.7 302.4h0M1155.7 294.2h0M1114.3 267.4h0M1004.6 323.3h0M1244.4 273.7h0M1320 219.9h0M1048.4 355.8h0M1064.2 349.7h0M951.5 336.5h0M1031.1 417.3h0M1011.4 299.4h0M1033.1 306.8h0M1028 331.6h0M1082.1 305.5h0M933.6 316.8h0M1004.6 366.1h0M1114.5 291.7h0M1154.6 275.3h0M1121.9 272.9h0M1025.5 330.1h0M985.1 375.7h0M1245.2 251.2h0M1239.4 282.2h0M1161.7 276.4h0M1139.4 307.1h0M1196.7 311.1h0M1243.6 207.9h0M1167.4 272.9h0M1096.5 284.8h0M989.6 338.8h0M1021.1 306.6h0M1133.9 287.2h0M1216.1 294.6h0M1228.2 318.4h0M904 338.4h0M966 377.9h0M1184.5 339.7h0M1318 324.1h0M1006.3 331.6h0M1145.9 298.1h0M1145 317.3h0M1133.2 316.7h0M1082.2 309.6h0M1257.1 307h0M1193.7 275.3h0M1219.3 186.6h0M873.8 288.7h0M1275.3 283.7h0M1049.8 310.3h0M1318.8 159.5h0M1161.7 307.3h0M1070 291.7h0M1009.3 338.3h0M1037.1 294.2h0M888.2 209.4h0M1205.9 277.5h0M1048.3 306.1h0M961 450.4h0M1030.6 308.7h0M1030 323.5h0M1019 326.6h0M1130.4 287.8h0M1178.4 270.3h0M1126.2 318.4h0M1223.7 298.8h0M963.9 313.8h0M1104.2 320h0M1129.1 344.2h0M999 308.9h0M1209 277h0M1146.9 347.8h0M1035 320.1h0M1251.2 291.7h0M1078.6 313.2h0M1050.7 286.7h0M1182.4 218.3h0M1226.8 309.5h0M993.1 317h0M1118.7 310.1h0M1165.6 320.1h0M1161.1 331.8h0M1050 296.9h0M1125.6 345.6h0M1290.6 223.1h0M1318.2 241.2h0M985.2 347.1h0M1083.8 311.3h0M885.5 98.4h0M956 364.1h0M1096.1 309.8h0M1027.3 315.9h0M1178.7 379.8h0M1004 392.2h0M1159.2 296.6h0M1296.3 333.4h0M1138.7 320.3h0M1258.1 284.1h0M1041.9 365.8h0M1058.1 416h0M1185.8 299.8h0M1135.7 323.3h0M938.4 242h0M1136.5 330.2h0M1206.1 318.3h0M1181.9 300.5h0M1110.3 289.8h0M1127.1 307.8h0M1183.7 319.7h0M1211.7 291.7h0M1116.7 318h0M1042.6 312.3h0M1200.8 232.5h0M1008.5 427h0M1022.8 317.2h0M1102.9 326.3h0M993 426.4h0M969 300.3h0M1082.9 376.6h0M1113 282.2h0M972 286.5h0M955.4 392.9h0M1255.3 275.7h0M1085.9 315.7h0M1056.5 312.6h0M999.5 361h0M1138.9 227.2h0M1316.8 256.6h0M1263.8 245.4h0M921.6 308.3h0M981.3 302h0M1004.9 415.5h0M1114.6 340h0M1205.2 297.8h0M1010.9 294.5h0M1087.7 365.6h0M956.2 412.7h0M992.4 309.3h0M1182.5 326.5h0M1084.1 397.1h0M1009.1 333.1h0M910.6 332.3h0M1196.8 287.8h0M1039.6 269.1h0M1238.7 273.8h0M1050.6 325.9h0M986.3 362.6h0M1101.9 311.8h0M943.2 236h0M1088.2 264.2h0M1055.9 347.5h0M996.2 384.4h0M1215.7 296.2h0M972 264.8h0M1244.1 291.5h0M1080.8 311.9h0M1083.3 275.1h0M1099.2 303.4h0M985.4 331.6h0M1195 233.3h0M1044.7 318.6h0M1084.7 311.7h0M1226.4 285.5h0M1069 260.3h0M1123.8 292.7h0M1036.3 315.3h0M1003.4 409.5h0M995.5 314.9h0M1013.5 312.1h0M1086.7 336.6h0M1266.4 292h0M1185.8 293.1h0M1030.4 285.4h0M1210.5 269.3h0M1001.9 321.2h0M1073.3 295.2h0M1252.2 265.8h0M999.3 213h0M1178.2 242.5h0M924.3 281.6h0M1236.2 224.9h0M978.5 311h0M952.8 306.9h0M1321 258.9h0M1247 320.2h0M1183.2 277.3h0M1000.9 288h0M1325.3 261.3h0M1041.9 291.1h0M1069.6 296.1h0M1056.5 347.1h0M1057.6 306.3h0M980.1 315.9h0M1284.9 206.3h0M949.5 312.9h0M1177.6 295h0M1051.5 336.8h0M1009.3 306.9h0M1304.4 285.8h0M1079.3 290.7h0M1040.4 363.9h0M940.8 381.2h0M994.5 312.2h0M1180.7 274.9h0M1072.2 260h0M987.2 300.1h0M985.3 360.2h0M1125.6 289.2h0M983.9 358.1h0M1021.4 287.5h0M1119.1 276.8h0M1109.8 277.8h0M919.6 282.9h0M1158.5 239h0M1168 323h0M1023.7 338.1h0M1147.2 294.5h0M1079.2 287.6h0M995 334.2h0M1204 366.8h0M967.8 267.9h0M1170.2 303.7h0M1270.9 310.5h0M1112.7 295.7h0M956.3 426.6h0M930.7 368.7h0M1106.3 280.3h0M1274.9 252.8h0M987.7 326.6h0M1015.7 310h0M1005.4 358.7h0M1077.7 277.7h0M919.3 331.6h0M1242.6 320h0M1100.9 301.9h0M952.4 368.7h0M1182.5 298h0M992 404.4h0M1078.9 293.5h0M1134.3 276.1h0M1184.3 214.2h0M983.7 398.5h0M948.9 324.1h0M1087.3 319.2h0M1216.8 232.7h0M1014 334.2h0M1060.1 350.7h0M1070.5 346.8h0M1061.7 294.3h0M1033.5 294.6h0M1211.4 299.6h0M1237.6 277.3h0M920.1 449.1h0M1025 304.9h0M1239.4 303.8h0M1072.2 247.1h0M1178 303h0M1055.5 307.3h0M1179.9 290h0M1023.7 335.9h0M1084.5 352.7h0M1196.9 244.4h0M943.6 313.7h0M1094.8 261.7h0M1221.9 290.7h0M988.7 368.5h0M1114.7 271.3h0M1050.1 327.4h0M1318 254.5h0M1032.8 293.9h0M1082 277.6h0M885.8 239.7h0M1040.4 270.5h0M1314.6 236.4h0M1020.6 366.2h0M1232.8 275.3h0M1067.9 257.3h0M1148 302.2h0M1164 315.1h0M1131.9 304.7h0M1124 271.3h0M1095.8 332.2h0M1109.2 339.4h0M1129 292.5h0M1135.8 300.4h0M912.2 408.9h0M1068.6 295.3h0M921.3 427.5h0M1298.5 251.6h0M1304.2 247.1h0M1137.8 311.1h0M1009.7 358.8h0M972.4 345.5h0M970.3 282.1h0M1071.3 220.9h0M1144.6 344.1h0M1112 320.8h0M1163.8 308.6h0M984.2 347.9h0M960.4 313.7h0M986.3 354.3h0M1077 277.7h0M1248.7 231.2h0M1191.4 290.7h0M1164.1 264.1h0M1244 274.1h0M1013.1 273.1h0M950.5 380.4h0M1148.4 306.9h0M1096.8 317.2h0M1090.3 290.8h0M976 304.6h0M1181.6 238.3h0M1025.7 367.3h0M1160.4 279.5h0M1165.7 280.8h0M1019.8 303.1h0M1184.4 226h0M1143.5 295.8h0M977.9 357.9h0M978.1 328.1h0M1172.3 307.9h0M1026.2 288.8h0M1014.9 323.2h0M1069.3 386.1h0M1082.5 354.2h0M927.5 328.9h0M1062.9 262.8h0M1064.4 305.2h0M982.5 297.4h0M967.2 364.9h0M1165.6 277.8h0M1303.5 181.7h0M1036.3 303.6h0M1117.9 330.5h0M1103.9 267.5h0M1065.5 214.4h0M1238.2 427.9h0M1047.4 314.1h0M968.1 374.9h0M1068.6 310.2h0M1016.8 327.3h0M1248.6 247.2h0M971.9 307.4h0M1294.9 334.9h0M1044.7 265.4h0M1049.3 319.3h0M1149.1 285.5h0M1011.3 319.2h0M987 304.3h0M1144.3 361.2h0M1120 358h0M992.7 315.8h0M1138.2 299.5h0M1321 186.3h0M1295.7 264.2h0M1062.5 317.9h0M1023.7 298.1h0M928.9 411.2h0M1147.6 293.9h0M1188.1 270.8h0M1096.2 326.2h0M1090.1 295.7h0M1224 217.5h0M1152 303.3h0M1062.2 336.5h0M1243.9 349.1h0M1046.7 326.4h0M1002.4 321.3h0M1000.7 340h0M1108.4 304.5h0M1186.8 285h0M1031.1 287h0M1100.2 265.2h0M1309.8 230.7h0M1269.8 151.3h0M1033 286.6h0M1085.7 284.6h0M968.3 290.1h0M1229.1 312.8h0M1102.8 283h0M1154.5 318.5h0M1126.2 306.1h0M1093.4 330.1h0M1231.2 232.1h0M1006.2 292.5h0M998.1 340.6h0M1211.1 225.4h0M1286.3 229h0M1110.8 296.4h0M1291.7 257.9h0M1250.8 291.2h0M1040.9 364.4h0M1114.9 321h0M1103.9 292.1h0M1193.1 306.4h0M1041 326.9h0M1194.9 258.5h0M937 276.4h0M996.7 299.6h0M992.4 363.5h0M991.5 348.8h0M1201.7 267.4h0M1158.7 320.7h0M1116.4 265.5h0M1186.9 285.4h0M1168.5 282.4h0M1315.1 172.5h0M1087.9 317h0M992.5 355.5h0M1091.7 320.4h0M1083.1 342.7h0M1272 246.2h0M1293.1 227.4h0M996.8 327h0M1178.1 326.4h0M1060.1 279.2h0M999.9 284.7h0M1057.4 284.8h0M1210.6 280.4h0M1117.3 343.9h0M1235 260.8h0M1011.8 310.3h0M1153.4 263.9h0M984.6 238.9h0M1081.9 311.8h0M1129.2 266.2h0M1116.7 221.6h0M1043.8 319.7h0M976.2 279.9h0M1302.2 335.4h0M1001.8 311.3h0M1051.8 338.4h0M1070.9 286.1h0M1103.7 216.1h0M1237.1 273.2h0M1167.1 292h0M1076 277h0M1100.8 293h0M1236.3 240.5h0M1207.1 229.6h0M992.9 310.4h0M1253 325.9h0M915 396.3h0M1044.8 342.8h0M973.3 336.9h0M1008.9 366h0M1187.9 272.5h0M1147.7 342.7h0M1256.7 233.5h0M1096.8 287h0M1037 310.5h0M1182.4 292.7h0M1228.7 258.9h0M991.8 287.9h0M978.6 322h0M1206.1 267.1h0M991.2 285.7h0M1184.5 325.6h0M1035.6 326.9h0M1173.5 258h0M1035.7 296.6h0M1175.3 249.7h0M1046.3 377h0M1041.6 270h0M1247.5 256.9h0M1017.6 299.2h0M1002.9 302.5h0M1061 322.2h0M1099.5 347.4h0M985.4 341.3h0M1206 291.5h0M1050.1 317.3h0M1119.4 280.3h0M1089.3 339h0M896 284.4h0M1012.1 305.8h0M937.1 283.8h0M1079.4 279.7h0M1123.4 255h0M1084.4 412.5h0M923.2 333.4h0M913.9 364.1h0M1154.4 341.1h0M1007.9 297.2h0M852.9 357.4h0M1121.3 312.3h0M1160.5 241.4h0M1043.3 326.9h0M1208.4 245.9h0M1084.1 306.7h0M993.8 288.9h0M1108.9 318.3h0M1285.2 303.5h0M1310.3 235.8h0M1176.7 300.6h0M964.2 360.7h0M967.8 414h0M951.4 324h0M1087.1 351.2h0M1060 327.6h0M1117.5 343.2h0M1210.5 282.2h0M1224.3 271.7h0M1066.2 367.4h0M1170.9 288.7h0M1004.4 312.4h0M1017.6 435.2h0M991.7 314.9h0M1228.1 231.7h0M1155.7 333.8h0M1184.5 288.6h0M943.9 331.3h0M1308.3 220.7h0M1099.6 373h0M1208.3 287.5h0M1101.1 336h0M948.7 317.7h0M962.7 300.7h0M945 394.5h0M1111.4 279.5h0M1035.3 320h0M1008.3 328.3h0M1181 295h0M1293.7 274.2h0M946.2 382.2h0M1129.5 286.4h0M1188.8 273.7h0M1245.2 209.1h0M992.1 318.5h0M1086.5 286.4h0M1059.7 323.8h0M999.3 343.1h0M1030.3 349.5h0M1047.1 306.8h0M965.2 248.3h0M1230.6 247.9h0M1082.8 295.6h0M1080.5 267.2h0M1076.2 268.3h0M1137.1 296.7h0M1054.9 292.3h0M999.8 284.5h0M1178.9 336h0M1023.5 287.7h0M1199.1 274.1h0M1098.9 214.2h0M996.1 433.1h0M971.9 293.5h0M929.6 340.1h0M1244 226.7h0M1094.2 368.1h0M1094 327.6h0M1211.3 221.6h0M1174.5 287.3h0M1052 353.3h0M1201.2 311.6h0M1017.1 297h0M1173.3 323.9h0M1087.1 300.3h0M1053.2 282.2h0M1009.4 307.7h0M1051.4 324h0M1292.7 231h0M1152.8 354.6h0M1207.9 344.4h0M1095.1 373.6h0M1204.2 261.1h0M1032.2 283.6h0M1074 314.3h0M1008.9 330.8h0M1071.5 320.9h0M1175.6 321.5h0M1099.6 324.7h0M874.7 389.1h0M1107.9 316h0M1140.1 302.9h0M1003.7 291h0M849.9 376.8h0M1258.8 278.7h0M1163.5 344.8h0M1047.1 291.7h0M983.1 340.3h0M1108.8 298.6h0M1080.8 341.3h0M1235.7 262.9h0M977.5 289.7h0M1176.4 276.7h0M1069.1 366.1h0M1151.8 273.6h0M1229 309.4h0M1068.9 295h0M1199.1 317.6h0M1077.1 301.1h0M1143.9 267.4h0M1320.6 208.9h0M1212.8 279h0M1252.1 156.1h0M1149.6 305h0M1220 210.9h0M1207.2 286.9h0M1093.3 329.2h0M1100.8 336.1h0M976.9 313.5h0M1189.7 292.5h0M1117.7 179.2h0M976.8 280.6h0M1028.4 289.9h0M1088.7 279.5h0M1262.5 314.2h0M999.4 320.3h0M968.1 312.5h0M1162 302.5h0M1259.2 275h0M1088.6 341.1h0M1026.1 347h0M1158 275.6h0M1229 281.9h0M1134.1 302.5h0M985.2 345.2h0M1235.5 269.2h0M1232.4 345.8h0M1144.4 322.6h0M1135.7 271.5h0M1004.4 318.8h0M1130.2 325.8h0M1143.8 307.5h0M1271 295.7h0M1120.7 280.4h0M1101.5 293.7h0M1296.6 214.3h0M1002.6 299.2h0M1214.9 298h0M1295 255.6h0M1151.5 330.1h0M1078.1 334.9h0M1159.1 311.2h0M1094.2 323.7h0M983.5 316.9h0M1141.6 278.9h0M1057.4 297.6h0M1181.8 285.1h0M1043 352.4h0M1192.2 313.1h0M1179.4 323.2h0M962.7 292.5h0M1169.2 295.7h0M977.6 300.4h0M924 325.7h0M1150.6 266.5h0M975.8 400.5h0M1165 243.3h0M1164.3 302.7h0M1255.6 223.9h0M1152.2 302.1h0M1158 307.3h0M1123.9 317.3h0M1153.3 328.7h0M921.9 211.1h0M1051.3 330h0M878.3 210h0M1114 310.6h0M1152.9 367.5h0M1022.5 357h0M1298.2 128.4h0M1051.5 332.2h0M1119.1 364h0M1015.5 397.6h0M1014.1 278.9h0M1124.8 265.1h0M1032.3 355.1h0M1274.7 257.9h0M1217 282.2h0M1014.1 311.9h0M1192.7 317.3h0M1211.1 274h0M1014.3 338.2h0M1218.7 296h0M1270.8 284.5h0M994.8 336.4h0M1147.4 297.9h0M1195.6 289.5h0M1095.6 319.5h0M1103.8 354.3h0M1007 303h0M1107.4 283.6h0M1092.5 291.6h0M1241.5 312.3h0M1210.7 240h0M988.6 361.6h0M992.6 321.4h0M1229.1 296h0M1274.7 287.2h0M1111.8 334.9h0M1026 325.3h0M1061.1 357.1h0M1076.3 279.3h0M1175.9 314h0M1291.8 234.7h0M1152 254.2h0M968.3 318.8h0M1221.4 247.9h0M1083.9 343.1h0M1072 337.8h0M942.8 287.1h0M1097.5 287.8h0M1262.9 302.8h0M1130.5 264.6h0M1260.2 265.9h0M1171.5 248.8h0M921.5 497h0M1028.6 319.4h0M1010.5 297.1h0M1259.3 199.5h0M1029.5 298.4h0M980.9 293h0M1084.3 335.7h0M989.5 334.3h0M1198.9 313.1h0M1061.1 260.5h0M978.3 338.5h0M1182 280.9h0M1195.9 305.6h0M1146.5 297.3h0M1021.4 272.8h0M1191.2 312.2h0M976.1 345.2h0M980.2 347.7h0M986 274.9h0M982.3 319h0M1216.8 270.8h0M1246.3 260h0M986.6 332.3h0M1109.2 314.5h0M1045.8 379.3h0M1161.5 273h0M1017.2 328.1h0M1263.1 288.7h0M1136.8 307h0M1101.1 283.1h0M1147.9 257.7h0M1041.2 335h0M1113.2 247.1h0M1074.5 321.4h0M1099.2 302.9h0M1148.6 299.7h0M1169.1 285h0M1143.2 271.1h0M1283.6 232.7h0M1105.8 308.3h0M977.5 381h0M1064.5 386.2h0M983.6 326.9h0M1057 327h0M998.8 294.5h0M1084.6 333.6h0M996.5 297.6h0M1127.3 282.7h0M998.3 332.3h0M1185.4 261.1h0M1225.9 258.4h0M1086 325.2h0M1095.9 297.2h0M911.6 283.9h0M1117.5 318.1h0M1051.5 332.6h0M1250.7 271.7h0M1280.9 262.2h0M978.9 294h0M1185.6 285.1h0M998.3 300.5h0M1001.9 320.9h0M1151.2 259.7h0M1271.9 256.8h0M1049.9 337.2h0M1077.2 327.8h0M1146.1 333.5h0M1100.9 347.6h0M1086.1 341.9h0M960.1 303.2h0M1223.8 289.8h0M1158.9 240.1h0M1024.2 315.7h0M1285.2 296.6h0M1243.7 293.6h0M1136 359.7h0M1236.1 267.2h0M1312.6 236.7h0M1171.9 302h0M1098.7 281.3h0M1132.2 323.2h0M1189.5 299.8h0M1112.6 293h0M873.9 308.8h0M1161.2 297.8h0M956.3 341.1h0M1013.9 317.3h0M1205 286.6h0M1037 488.8h0M1179.3 294.8h0M995.5 348.9h0M1070.1 298h0M1119.7 356.9h0M1097.4 282.4h0M1048.9 321.2h0M1124.4 312.4h0M1065.7 311.8h0M1269.7 307.6h0M1000.7 286.9h0M1061.3 331.5h0M1211.9 287.6h0M1252.1 213.9h0M1225.4 271.8h0M972.3 357.4h0M1264 289.8h0M1232.3 252.5h0M1178.5 261.1h0M1168 264.4h0M1270.2 336.5h0M1253.8 278.4h0M1152.5 300.3h0M1113.5 299.4h0M1191.8 251.2h0M1075.9 312.5h0M999 346.9h0M996.6 291h0M1322.2 263h0M1157.3 312.9h0M1182.1 289.4h0M1294 376.8h0M949 335.3h0M1184.8 300.1h0M1176.3 294.1h0M990 309.1h0M1149.2 273.2h0M927.3 269.1h0M1101.4 276.4h0M1070 311.6h0M1110.5 300.1h0M1200 296.7h0M1301.3 332.5h0M1177.6 287.7h0M994.8 300.7h0M1183.5 236.8h0M1236.4 344.1h0M965.4 327.4h0M946.5 311.2h0M1021.6 282.7h0M988.3 319.5h0M1035.6 301.2h0M1217 291.2h0M1155 313.8h0M1177.7 286.5h0M971.3 333.6h0M1021.5 289.6h0M1179.5 290.1h0M1041.9 322h0M1096.6 282.7h0M1091 325.1h0M996.2 394.9h0M1072.4 327h0M1209.3 163.4h0M980.1 303.5h0M1185 320.6h0M1184.4 264.8h0M1190.3 295.5h0M994 352.2h0M988.9 288h0M1281.8 228h0M1148.2 224.9h0M1227.2 253.8h0M1183 275.7h0M1031.6 312h0M1235.5 366.5h0M1200.4 261.3h0M1059.5 289.4h0M1264.6 279h0M1014.7 341.5h0M968.2 278.5h0M1117.1 280.6h0M1064.9 301.3h0M1056.1 327.7h0M1171.6 294.6h0M1048.5 398.5h0M973.1 416.5h0M1114.7 311.1h0M1098.3 276.1h0M1024.5 308.7h0M1072.4 367.8h0M1133.4 279.8h0M1122.2 330.6h0M936.9 303.1h0M934.6 351.6h0M1132.4 280.4h0M1302.6 220.1h0M1139.9 303.9h0M1059.7 285h0M1006.4 325.8h0M1165.1 311.6h0M1039.3 318.7h0M1068.6 288.3h0M1196.1 307.1h0M1150.9 349.5h0M1083.3 332h0M994.4 297.8h0M1192.8 260.7h0M1128.8 329.5h0M1109.5 307h0M975.9 326.2h0M1036 296.4h0M1166.4 283.2h0M1086.4 299.7h0M1264.5 298.5h0M1065.8 312.9h0M1108.4 313h0M1169.4 288h0M1043.7 337.2h0M1010.5 352.1h0M1243.6 306.1h0M1122.5 224.8h0M1060.3 312.5h0M1051.7 302.6h0M996.3 315.5h0M1010.6 293.4h0M926.5 345.3h0M1156.9 297.3h0M1269.1 264.2h0M1155.6 278.1h0M1189.5 244.4h0M1258.8 275.8h0M1030.1 321.6h0M1162.6 291.7h0M1063.6 262.9h0M949.4 333.1h0M1294.2 265.3h0M1166.2 326.9h0M1304.2 203.5h0M1029.1 294.2h0M1229.4 258.8h0M1126.5 286h0M1286.5 213.2h0M1018.1 297.1h0M1047.2 319.2h0M1185.3 300.5h0M1298.8 228.7h0M1075.2 303.9h0M1188.3 279.3h0M1150.6 303.6h0M935.7 352.4h0M1114.1 341.6h0M1205.3 308.4h0M1058.1 283.1h0M1184.4 293.2h0M986.7 325.7h0M990.9 328.2h0M1076.2 291.3h0M1131.9 292.6h0M1111.3 318.9h0M989.8 394.9h0M958.6 301.4h0M968.9 325.4h0M1007.7 323.9h0M1054.8 282.3h0M1065.8 301.5h0M1243.2 294.2h0M1057 297.8h0M1009.8 444.1h0M1128 310.8h0M1015.6 286.7h0M1168.6 271.4h0M1076.3 298.3h0M1209.3 303.3h0M1235.6 290.4h0M1115.6 341.9h0M1196.8 305.7h0M1124.5 374.8h0M1270.6 253.2h0M1153.1 314.8h0M1260.9 296h0M1275.1 268.6h0M944.5 294.8h0M1202.6 260.6h0M1072.8 308.3h0M1082.8 302.2h0M1032.2 299.7h0M981.5 352.4h0M1038.7 332.5h0M1020.9 287.2h0M979.6 313.5h0M1170 335h0M1071.6 308.6h0M1120.6 388.5h0M1056.8 317.1h0M982.4 307.5h0M1020 288.2h0M1207.1 307.1h0M1219.8 220.2h0M1147.2 236.3h0M1266.8 223.9h0M1005.6 355.9h0M1198 292.3h0M1017.7 321.8h0M983.5 321.9h0M1191.1 260.9h0M1133.3 284.9h0M985.6 340.1h0M1099.1 297.8h0M1004.3 394.5h0M1128.2 266.5h0M1008.3 316.1h0M1177.3 157.4h0M953.4 315.3h0M1199 278.6h0M1097.1 320.6h0M1172.8 279.9h0M1125 273.7h0M931.6 324.1h0M1118.6 360.2h0M1257.4 288.1h0M1240.7 276h0M1178 257.6h0M1282 265.4h0M1090.2 286.5h0M1034.5 322.4h0M1046.2 303.1h0M1240.3 275.9h0M1231.1 267.1h0M1107.4 307.2h0M967.5 379.9h0M1113.4 318.6h0M1030.9 317.3h0M1233.1 299.1h0M1264.8 222.5h0M1010.8 352.6h0M1019.9 326.4h0M1215.5 251.6h0M1039.1 280.9h0M1198.4 300h0M1027.2 296.8h0M1216.4 270.7h0M1059.9 363.6h0M1064.1 314.6h0M924.5 356.4h0M1149.1 309h0M944.1 364.4h0M1222 329.9h0M1207.2 285.4h0M1080.7 275.1h0M1317.7 337.7h0M952.7 343.3h0M1116.9 330.7h0M1055.4 295.4h0M1287 232.2h0M1145.4 288.8h0M1167.3 347.5h0M1149.8 284.8h0M1198.7 262.4h0M1061 298.5h0M1017.9 343.4h0M1160.4 323.5h0M992.5 349.9h0M1231.3 275.7h0M994.3 325h0M933.5 380.6h0M1067.4 354.9h0M982.1 328.5h0M1004.8 272.5h0M986.8 382.1h0M1170.7 338.6h0M975.7 333h0M1047 310h0M1174.2 288.8h0M1137 303.7h0M1059.8 326.3h0M1071.8 312.1h0M1214.7 278.9h0M1300.9 250.9h0M1162.7 220.8h0M982.7 346.4h0M1105.8 315h0M1125.3 332.4h0M1263.4 289.5h0M1044.5 306h0M1093.6 310.3h0M1207.2 274.7h0M1089.7 311.8h0M1050.8 191.2h0M1010.1 326.6h0M1237.9 281.2h0M982.1 308.8h0M1093.5 275.2h0M1057 361.7h0M979.1 332.2h0M1052.4 308.2h0M973.1 305.2h0M1255.7 252.8h0M1127.2 309.6h0M1023 338.7h0M1159.7 292.3h0M1136.8 289.2h0M1096.4 330.3h0M1073.2 315.9h0M1106.9 285.8h0M1148.4 300.3h0M1268.9 252.9h0M1130.1 367h0M1274.7 343.1h0M1063.5 312.2h0M1011.3 315.6h0M1048 355.1h0M1163.3 328.8h0M1233.9 265.7h0M998.3 360.3h0M1192.8 273.1h0M1030 284.8h0M1035 311.2h0M903.9 368.3h0M1139.8 300.8h0M1323.3 160.3h0M1035.5 325.9h0M1021.9 397.6h0M1013.1 313.9h0M1215.1 281.5h0M982.4 316.6h0M1102.2 284.1h0M1042.6 298.6h0M943.3 282.2h0M1218 299.9h0M1217.5 310.7h0M993 323.4h0M1096.3 323.8h0M1188.7 284.7h0M1050.1 348.5h0M1080.6 274.3h0M996.7 381.6h0M1284.5 304.6h0M1189.7 298.4h0M1113.8 279.6h0M1127.9 385.8h0M1262.8 303.3h0M1024.5 321.6h0M1292.6 258.8h0M1092.7 314.2h0M1065.9 281.9h0M1210.2 240.6h0M971.1 296.3h0M1034.3 264.7h0M974.1 319.6h0M1244.2 265.1h0M1123.2 285.2h0M1024.5 323.9h0M987.6 354.9h0M1240.9 304.3h0M1115 314h0M1010.1 337.1h0M1133 297.9h0M1128.4 281.8h0M1010.7 354.4h0M1296.5 329.1h0M966.6 358.5h0M996.6 272.1h0M977.4 357.6h0M1252.6 340.1h0M1210.8 279h0M1308.2 238.8h0M1033.4 321.4h0M1208.8 318.4h0M1222.9 279.3h0M1203.3 203.2h0M1225 191h0M1198 295.1h0M1058.2 293.1h0M1174.1 322.6h0M1116.9 321.2h0M1087.1 311.5h0M1002 342.2h0M1051.4 270.7h0M1040.6 367.5h0M1031.6 325.1h0M1106.8 314h0M1027 329.7h0M1001.6 327.6h0M1268.9 291.2h0M895.4 358.3h0M1153 339.9h0M1105.2 294.1h0M1088.9 351.2h0M1050.1 331h0M1190.5 398.1h0M1220.3 279h0M1221.1 299.3h0M1176.2 343.1h0M1289.3 319.5h0M999.1 300.5h0M1146.2 316.2h0M1106.5 290h0M1316.4 223.7h0M1130.5 247.5h0M1071.4 319.6h0M1182.9 292.7h0M1267.7 260h0M1214.5 256.8h0M1083.5 324.7h0M997.1 330.8h0M1032.1 352h0M889 313h0M1017.1 336.1h0M1240.4 304h0M970.4 319.3h0M1000.2 381.7h0M1214.6 324.2h0M1032.9 296.4h0M1231.7 240.9h0M1123.6 325.8h0M1185.4 271.4h0M1033.7 336.9h0M1010.5 344.5h0M1265.9 195.9h0M998 394.2h0M1009.7 338.8h0M1211.6 290.3h0M1280.3 258.3h0M1054.9 284.8h0M1091 311.1h0M971.5 326.9h0M998.8 316.9h0M1005.2 318.7h0M1198.9 247h0M912 206.7h0M1236.4 293h0M1175.6 252.1h0M1138.9 396.6h0M1215.8 238.1h0M1106.7 295.6h0M1054.8 320.6h0M936.4 331.3h0M1127.9 330.5h0M1058.8 376.4h0M1244.5 253.9h0M1059.4 325.8h0M883.9 507.8h0M1109 299.8h0M1155.5 293.3h0M1129.4 285h0M1192.5 269.5h0M1061.7 269.5h0M1210.5 244.4h0M1161.9 402.2h0M1030 316.2h0M1280.5 203.3h0M892.1 244.8h0M1217.6 248.7h0M934.5 318.5h0M1119.3 288.1h0M1083.2 308.2h0M972.7 292.8h0M1043.6 354.4h0M1015.7 308.3h0M1258.1 227.6h0M1031.4 380.6h0M1123.8 311.1h0M988.3 309.6h0M1011.6 372.8h0M1251.9 277.7h0M1141.1 304.8h0M1302.9 269.4h0M1078.8 291h0M1108.3 289.2h0M975.5 374.4h0M1277.6 208.7h0M946.4 332.6h0M1187.7 265.7h0M998.8 326h0M1213.6 297.3h0M1243.2 253.3h0M1006.6 291.6h0M1309.4 279.3h0M1057.3 337.7h0M1060.2 331.4h0M1251.7 250.1h0M1235.7 288.7h0M1093.4 275.8h0M1195.8 265.6h0M1039 229.8h0M904.9 351.5h0M1041.5 309.3h0M1011.7 311.5h0M1016.6 261.6h0M991.1 287.8h0M996.8 266.1h0M1269 307.1h0M962 442.7h0M1005.2 280.5h0M1109.5 298.3h0M1161.1 285h0M1143.7 244.4h0M1021.6 339.7h0M964.9 358.6h0M1042.2 320.2h0M935.7 406.9h0M1134.2 354.9h0M1024.1 289.9h0M1159.8 305.8h0M1078.4 335.4h0M1300.7 221.3h0M1092.2 329.1h0M1143.8 279.1h0M1204.6 137.4h0M1107.5 358.8h0M939.6 410h0M1170.3 344.6h0M1238.1 251.4h0M1287.2 95.9h0M1065.5 308.7h0M1210.4 294.4h0M1002.9 308.2h0M1128.2 286.3h0M1286.1 258.9h0M1169.4 248.1h0M1048.5 327.8h0M1214.4 286.1h0M1159.7 276.2h0M972.5 324.7h0M1173.5 95.8h0M1031.5 288.1h0M1035.7 309.6h0M932.6 326.6h0M1020.1 281.6h0M992.5 310.1h0M1082.2 363.6h0M988.5 267.4h0M1227.8 292.6h0M872.1 310.8h0M1132.7 306.2h0M1179.5 296.3h0M1205.4 246.6h0M1159.7 288.2h0M1240 227.5h0M1163.6 305h0M1106 280.5h0M1036.5 319h0M984.1 329.3h0M1200.8 226.6h0M1183.8 318.7h0M1142 286.6h0M1212.4 257.4h0M1214.7 266.9h0M1033.1 321h0M1153.9 331h0M1135.2 433.6h0M1096.9 298.3h0M1054.1 296.4h0M1083.5 309.5h0M1010.6 299.6h0M1130.5 297.6h0M943.4 323.9h0M1181.3 386h0M987.6 309.5h0M1058.6 324.2h0M1003.9 349.5h0M1206.1 252h0M1105.6 291.2h0M1128.4 322.3h0M1166.8 299.8h0M1306.3 251.4h0M1250.6 291.4h0M1249.9 244.4h0M1046.3 319.9h0M1110.1 269.7h0M1189.6 311.2h0M1127 276.4h0M1079.3 269.7h0M1117.2 282.5h0M1002.6 326.8h0M1023.6 314.4h0M1043.8 321.3h0M1015.1 319h0M1093.9 323.5h0M1099.6 310.7h0M1111.9 307.2h0M1173.9 261.5h0M1000 238h0M985.4 306.2h0M1118.6 331.5h0M1138.5 289.2h0M1203.7 303h0M1245.7 291.5h0M1126.5 298.7h0M1021.5 279.2h0M1261.1 279.1h0M1064 277.1h0M1054.3 286.8h0M1275 323.8h0M988.4 341.3h0M1145.2 310.8h0M1133.3 263.5h0M1133.9 416.8h0M1069.8 259.9h0M1112 297.9h0M975.6 331.4h0M1158.3 277.9h0M898.6 308.8h0M974.1 302.8h0M1131.4 312.8h0M1154.9 335.2h0M1276.5 275.9h0M900.2 300.4h0M1050.7 312.4h0M992.9 321.6h0M1262.9 279.2h0M1193.3 226.6h0M1317 314h0M1242.5 282.7h0M1074.6 254.9h0M1305.8 180.6h0M1234.9 291.8h0M1219.3 372h0M1046.3 328.6h0M963.4 311.7h0M1103.2 310.5h0M1275.9 258.1h0M982 272.9h0M1025.6 234.2h0M1019.3 398h0M1108.8 276h0M929.6 285.9h0M912.5 323.4h0M1001.6 315.9h0M1043.1 266.5h0M1062.5 357.9h0M1068 335.6h0M1062.2 301.8h0M1044.9 335h0M1145.4 293.9h0M1136.9 284.9h0M1108.9 271.3h0M932.5 344.6h0M1087.9 235.4h0M1130.9 319.2h0M961.6 414.5h0M1012.9 355.6h0M1116.1 319.5h0M1320.9 287.4h0M1055.5 299.4h0M1207.6 251.6h0M1160.9 312h0M1317.2 191.8h0M1104.2 285.8h0M976.3 366.2h0M1089.6 329.5h0M1184.5 265h0M1072.3 331.6h0M1095.1 307.7h0M1133.9 315.9h0M1277.2 281.7h0M1174.2 306.7h0M1244.4 230.9h0M1072.5 294.3h0M1125.8 324.4h0M992.5 302.5h0M866.8 328.6h0M978.9 304.9h0M1120.3 264.7h0M1306.1 204.2h0M1093.9 287.8h0M1085.4 315.6h0M1038.5 376.2h0M1046.2 281.4h0M1026.6 332.5h0M1150.5 209.3h0M1106.9 341.4h0M987.4 402.7h0M991.3 333.3h0M1217.7 274.3h0M1055.7 362.6h0M1083.7 256h0M1315.3 187h0M1125.6 300h0M1234.1 271h0M1075 324.4h0M1194.3 220.3h0M975 452.3h0M1162.7 266.7h0M1140.3 361.4h0M1324.9 202.2h0M1161 259.9h0M1098.9 295.4h0M1135.5 303.2h0M1192.2 282.1h0M1142.4 302.2h0M1204.9 296.3h0M1062.5 322.9h0M954.7 307h0M1113.7 316h0M1088.6 314.5h0M1034 406.7h0M1016 309.2h0M1270.7 244.5h0M957.4 326.8h0M1244.4 312.5h0M938.7 410.9h0M1156.2 250.6h0M1178.7 291.9h0M1094.3 296.9h0M924.4 311.7h0M991.9 299.2h0M1186.2 263.8h0M1220.2 303.1h0M1160.2 259.9h0M1061.2 276.9h0M1090.6 326h0M994.5 358.6h0M1010 343.4h0M1035.2 347.7h0M1086.7 319.1h0M988.9 314.2h0M1167 311h0M1246.5 265.1h0M1120.3 276.1h0M1009.8 338.8h0M1072.3 291.9h0M1129.5 258.2h0M998.8 342.2h0M950.8 351.6h0M975.1 358.6h0M989 353.6h0M1012.3 369.4h0M958.3 307h0M1057.3 290.8h0M1073.5 310.3h0M910.1 428.5h0M1262.1 310.5h0M875.4 386.2h0M1079.6 289.3h0M1143.4 295.8h0M1214.3 314h0M1159.2 304.6h0M1030.8 370.8h0M1276.1 357.2h0M1091 365.9h0M1280.8 312h0M1307.6 183.9h0M1078.4 283.9h0M1113 255.8h0M1078.1 296.1h0M957 455.8h0M1108.7 285.1h0M1102.6 305.3h0M1235.8 272.7h0M1223 245.6h0M1237.3 308.5h0M1050.4 319h0M1102.9 330.7h0M1188.8 316.6h0M1088.8 303.7h0M985.5 286.9h0M1196.5 269.3h0M1177.2 306.8h0M1172.4 408.4h0M978.6 329.7h0M1049.3 325.5h0M976.4 285.8h0M1075.3 295.6h0M1159.7 320.3h0M1216.8 293.6h0M1040.2 265.7h0M1298.8 248.2h0M1166.1 275.9h0M1049.2 379.7h0M1219.1 258.8h0M1286.9 234.4h0M1111 322h0M1174.1 325.3h0M1104 274.7h0M1089.8 338.3h0M1124.8 306.9h0M1231 226h0M1158.5 282.1h0M1174.5 303.7h0M1088.5 322h0M1172.9 363h0M1137 315.1h0M1076.1 312.3h0M988.1 307.7h0M1135.7 288h0M1248.2 222.9h0M995.7 337.5h0M1030.6 368.9h0M1106.7 281.4h0M1273.3 246.8h0M1050.8 317.4h0M1242.4 239h0M962.8 341.7h0M1023.5 333.8h0M915.9 384.3h0M1061.9 288.9h0M1027.2 295.5h0M958.7 334.5h0M1179.1 263.1h0M1162.8 346.5h0M1049.5 300.1h0M1109.9 330.2h0M1009.6 308.2h0M1186.6 285.9h0M1162.5 405.9h0M1308.3 267.6h0M1254.5 289.8h0M1014.3 303.2h0M917.4 238.8h0M1308.1 278.4h0M1119.4 302.6h0M1038.9 338.4h0M922.8 287.6h0M1229.3 273.8h0M1253.5 280.5h0M1297.9 233.1h0M1004.4 347.7h0M1014.8 288.4h0M1164.7 305.4h0M1296.1 190h0M1182 196h0M1124.4 270.7h0M1263.7 250.4h0M1318.3 269h0M1042.6 298.1h0M1153.9 280.4h0M1086.8 324.4h0M1017.8 306.4h0M1199.7 324h0M994.8 283.6h0M1238.7 298.5h0M1208.8 240.8h0M1185.2 299.7h0M1104.8 355.5h0M1060.9 291.3h0M1156.9 300.2h0M1189.5 227.7h0M1151.5 288.5h0M1124.9 315.6h0M1025.3 323.1h0M1218.7 286.3h0M1029.1 343.9h0M1195.9 288.3h0M1030.3 324.7h0M1134.9 236.5h0M1090 271h0M1165.6 298h0M1105.6 283.8h0M984.3 353.4h0M1269.1 292h0M1015.8 322.3h0M1010.5 300h0M1206.4 304h0M1267.4 354.9h0M1045.6 294.7h0M1010.7 412.2h0M993.5 373.1h0M1069.1 338.3h0M1240.4 270.3h0M980.5 295.2h0M1231.6 274.4h0M1219.6 290.4h0M996.5 318.3h0M955.9 345.7h0M1016.1 306.4h0M987 361.1h0M1016.2 386.1h0M1279.1 274.8h0M977.4 359.3h0M1106.9 296.2h0M1197.5 301.7h0M1002.1 431.5h0M976.6 305.1h0M1127 256.9h0M1160 288.3h0M977.1 330.3h0M970.3 320.8h0M1207.6 288.7h0M1068.5 289.1h0M1234.6 262.5h0M1182.2 292.7h0M1191.9 286.6h0M983.3 374.1h0M1183.4 259.4h0M1048.3 331.7h0M1278.3 287.9h0M958 301.6h0M1092.4 315.4h0M952.6 317.6h0M1081.1 387.1h0M913.1 220.4h0M1018.2 273.2h0M1053.8 348h0M1180.1 308.5h0M924.2 380.8h0M1066.5 287.8h0M974.6 218.8h0M1046.4 282.2h0M986.6 300h0M1284 261.8h0M1038.7 292.4h0M982 249.7h0M1088.5 318h0M1082.9 270.1h0M1111.8 324h0M1122.6 304.8h0M1239.1 233.5h0M1239.7 251.4h0M1131.1 311.7h0M1264.7 211.1h0M971.5 310.2h0M1002.8 261.3h0M1157.9 288.1h0M999.9 321.9h0M1210.2 265h0M1250.9 250.7h0M1237.6 224.4h0M1158.9 368.4h0M1001.4 329.4h0M1143.5 245.6h0M1080 345h0M1109.9 245.5h0M1251 276.1h0M1153.7 294.1h0M1189.1 206.9h0M1230.7 336.5h0M1242.2 273.6h0M978.9 369.2h0M972.9 288h0M1198.9 290.3h0M1048.9 251.8h0M1083 295.2h0M1080.6 295.5h0M923.1 278.1h0M1183.5 310.3h0M1135.8 297.3h0M1120.3 293.4h0M1208.8 231.3h0M1144 343.8h0M1041.5 347.3h0M1194.1 267h0M1270 263.3h0M1138.5 280.1h0M1054.4 288.6h0M1026.4 321.4h0M1023.4 291.6h0M1277.6 287.4h0M905.5 379.7h0M1110.9 288.1h0M1243.3 272.1h0M1030 311.7h0M1111.6 337.7h0M987.7 307.2h0M1113.9 308.2h0M1184 284.8h0M1060.6 290.6h0M1061.6 346.3h0M1190.3 297.3h0M982.2 303.6h0M1108.6 343.3h0M1141.7 250.2h0M1112.6 305.6h0M988.6 411.7h0M1084.2 403.6h0M1091.3 223.9h0M1124 308.3h0M1010.3 324.7h0M1174.8 146.2h0M1096.8 289.2h0M1190.3 309.4h0M1021.1 328.2h0M1013.3 294.1h0M979.9 318h0M1318.2 284.1h0M1108.7 314.3h0M1232.2 315.7h0M1132.6 291.3h0M1242.5 231.5h0M1076.5 305h0M1002.4 298.4h0M1012.1 308.6h0M1135.6 289.5h0M1213.6 325.8h0M1028.8 337.6h0M1065 337.8h0M1118.4 319.7h0M1321.1 170.4h0M1102 399.3h0M1107 266.6h0M1171.9 278.4h0M986.2 418.7h0M1144.9 269.1h0M1094.9 347h0M1212.8 318.9h0M1138.4 326.6h0M1127.5 248.7h0M1042.9 355.2h0M998.8 382.6h0M1070.8 361.7h0M928.7 379.2h0M1181.6 299.2h0M1156 328h0M1046.1 271.8h0M1022.4 295.5h0M1103.6 349.2h0M1253 168.5h0M1075.4 294.6h0M1247.2 268.8h0M1209.5 254.2h0M1123.2 290.3h0M984 314.1h0M1062.2 350.4h0M1181.6 283.4h0M977.2 310.3h0M1118.6 286.8h0M1167.3 332.2h0M1245.5 281.9h0M1234.7 220.4h0M1200.6 232.2h0M1144.2 347.7h0M1162.3 290.6h0M1209.8 282.6h0M1257.5 283.4h0M1062.3 330.2h0M1144.1 287.2h0M1155.2 295h0M1003.5 384h0M982.8 335h0M1051.1 317.9h0M1053.9 308.3h0M1177.2 398.2h0M1199.3 258.5h0M1072.7 344.1h0M1176.8 253.7h0M1107.5 314.2h0M1023.2 322.8h0M1037.7 383.2h0M995.5 290.1h0M956.3 317.5h0M1157.8 285.1h0M1098.6 313.5h0M1182.5 310.3h0M1122.7 292.6h0M1198.5 144.2h0M1079.5 290.4h0M1036.6 302.4h0M1048.7 281.4h0M923.7 379.6h0M940.3 397.1h0M1164.3 272.7h0M1119.1 287.3h0M1235.3 279.4h0M1065 268.8h0M1092.9 293.9h0M1074.4 313.2h0M1068.6 311.7h0M911.2 325.1h0M1040.2 312.9h0M1239.9 231.8h0M933.5 398h0M1203.3 306.9h0M1110.8 333.2h0M1039.8 375.5h0M1064.1 336.9h0M954.9 291h0M1168.1 329.5h0M1024 341.3h0M1088.8 306.7h0M1046.1 309.7h0M1104.4 270.3h0M1019.4 334.4h0M936.8 279.8h0M1266.2 313.5h0M1032.1 284.2h0M999.5 312.8h0M1091.3 338.6h0M983.5 301.1h0M1197.4 250.5h0M1237.9 296.1h0M1226.8 281.3h0M1190.1 276.3h0M1140.9 327.1h0M1055.4 336.3h0M1161.8 298.7h0M982.8 331.7h0M985.2 375.5h0M1240.7 239.1h0M1189.9 308.2h0M1106.4 309.9h0M1171 238.1h0M971.3 311h0M966.1 237.7h0M1101.2 333.9h0M1143.8 322.7h0M1198.9 259.1h0M1248.6 207.4h0M1001.7 305h0M1097.2 313.4h0M1075.5 305.3h0M1187.4 331.5h0M1154.8 316.7h0M914.4 241.7h0M950.9 246.8h0M1204.6 252h0M1055.9 313.2h0M1148.2 276.1h0M1025.6 302.5h0M1236.8 259.8h0M997 322h0M929.2 380.5h0M1244.3 223h0M1074.5 299.8h0M1155.3 275.9h0M924.7 293.9h0M1007.6 325.9h0M904.8 389.3h0M1066.4 327.7h0M1004.3 218.3h0M994.3 334.3h0M1069.5 280.8h0M1039.3 358.5h0M1212.9 293.7h0M1116.2 273.8h0M1225.9 273.1h0M1303.6 332.9h0M925.2 336h0M1164.6 277.2h0M1148.8 298.3h0M1097.5 284.2h0M1010.6 255.4h0M1257.3 180.3h0M1283.3 255.3h0M1186 293.7h0M1110.2 276.4h0M1043.4 250.2h0M1217.6 157.8h0M1088.3 312.7h0M982.8 312.9h0M1238.4 273.9h0M1027.4 344.4h0M1194.8 272.3h0M1236.1 240.1h0M1048.9 300.5h0M1143 321h0M1267.4 190.5h0M1097.4 338.3h0M1087 310.5h0M1245 216.1h0M1029.7 357.1h0M1035.4 293.6h0M1030.6 334.1h0M1109.5 293h0M1128 285.9h0M1139.3 301.5h0M1031 333.6h0M1273.2 181.8h0M1124.2 303.9h0M1067.8 349.2h0M1182.4 329.9h0M998.8 337.3h0M1069.2 291.6h0M1117.2 283.6h0M1153.5 326.2h0M1006.8 337h0M1250.2 271.8h0M1235.3 287.5h0M1002.2 299.8h0M1156.5 290.5h0M1164.6 256.7h0M1019.4 315.9h0M1030.6 319.6h0M1163.5 300.5h0M1032.1 354.7h0M1100.7 299.4h0M1001.1 373h0M1134.7 316.5h0M1015.6 353.5h0M1211.8 226.8h0M1011.3 320.6h0M969.8 273.8h0M1181 304h0M987.4 390.5h0M1151.2 292.7h0M1202.2 269.9h0M1121.3 310.7h0M1045.8 289.2h0M1166.8 330.7h0M981.1 346.6h0M1144.4 329.4h0M1234 289.1h0M1170.4 316.8h0M943.7 355.2h0M1260.8 281.7h0M1075.2 335h0M929.1 337h0M1002.1 268.7h0M1085.8 339.7h0M1325.4 259.9h0M1279.9 267.3h0M1166.1 298.3h0M975.6 301.4h0M1267.3 254.2h0M1142.1 283.1h0M1062.2 337.3h0M1142.4 297.4h0M984.5 392h0M1030.8 171.2h0M1123.3 312.5h0M1110 248.6h0M961.1 328.5h0M1018.7 319.4h0M1125.3 315.4h0M1149.9 320.7h0M951.1 346.6h0M1168.7 276.5h0M1169.5 263.1h0M1230 287.5h0M974.3 295.5h0M1288.3 294.6h0M1096.9 335.2h0M1015.8 393.4h0M1188.1 340.4h0M960.7 306.8h0M932.4 323.1h0M987 284.1h0M1036.2 307h0M1293.9 226.1h0M980.8 298.4h0M1167.1 286h0M1044.5 327.3h0M991.2 310h0M1022.8 317.7h0M1065.7 300.4h0M1153.4 247.2h0M991.1 301.6h0M1090.1 343.9h0M1240.5 242.6h0M1231.9 270.5h0M1100.1 261.2h0M1130.5 307.6h0M992.5 389.3h0M995.9 297.4h0M1101.8 274h0M1186.9 241.9h0M1211.9 275.6h0M1254.3 189.1h0M1029.6 291.1h0M1050.2 295.9h0M1004 305h0M1206.5 261h0M1203.7 281.2h0M1021.6 309.4h0M1152.8 265.1h0M1058 325.9h0M1062.8 302.3h0M1233.8 270h0M1107.9 290.2h0M1057.4 253.3h0M1125.7 313.2h0M1176.8 284.3h0M1153.4 345.8h0M1002.7 330h0M1049.5 308.5h0M1201.5 334.2h0M1207.1 304.5h0M988.2 322h0M981.4 374.6h0M1318.4 317.6h0M1189.2 229.1h0M1146.8 290.2h0M1203.5 211.5h0M1297.7 238.6h0M961.8 304.8h0M1214.1 275.3h0M1185.1 263.7h0M1245 285.7h0M1191 292h0M1224.3 284h0M1168.4 274.2h0M1165.1 272.5h0M995.1 301.5h0M1147.7 265.8h0M1122.7 286.1h0M1085.7 311.8h0M922.9 329.5h0M1147.4 289.2h0M1296.7 276.6h0M1024.2 341h0M1166.3 266.9h0M1026.2 273.7h0M1188.8 301.2h0M1046.8 289h0M1011 281.7h0M1297 236.4h0M1142.4 321.6h0M982.1 313h0M857.3 310.3h0M1036.3 337.2h0M1085.6 337.4h0M977.6 331.1h0M971.3 317.7h0M1109.3 284.9h0M1019.5 323.7h0M1053.7 283.8h0M1192.4 284.1h0M1015.8 310.3h0M1030.5 236.2h0M1270 263.7h0M1220.6 324.3h0M991 293.7h0M1141.9 292.1h0M1061.2 302h0M976.7 307.1h0M1181.3 300.7h0M1044.3 391h0M905.1 407.7h0M1156.2 230.7h0M1104.4 363.3h0M1079.4 313.7h0M1194.1 323.2h0M1172.7 284.4h0M1168.2 275.5h0M1203 272.1h0M969.9 299.1h0M1153.9 303.4h0M1112.5 305.8h0M1222 261.8h0M1148.4 303.6h0M991.5 282.6h0M1126 219h0M1085.9 321h0M963.3 434.6h0M1068.8 331h0M1168.7 277.5h0M1110.2 315h0M969.9 310.5h0M1028.7 352.6h0M1019.3 381.3h0M1137.9 295.8h0M1111.4 306.8h0M928.4 331.7h0M885.7 163.3h0M1166.6 242.8h0M1313.7 204.6h0M950.5 309.7h0M1030.9 354.2h0M1132.9 283.5h0M952 293.3h0M1253 360.9h0M1107.8 264.9h0M1140.8 281.9h0M1000.8 301.4h0M1209.1 282.7h0M1278 201.7h0M1274 243.1h0M879.2 356.7h0M1029.2 328.5h0M1054.9 394.7h0M1224.4 298.5h0M974.6 324.9h0M1175 295.2h0M1196 230.4h0M1057.8 290.3h0M1069.1 343.4h0M948 316h0M943.5 255.2h0M1088.7 291.3h0M1243.9 267.6h0M1111.1 279.1h0M994.7 299.9h0M1152.6 297.4h0M1025.2 331h0M1121.7 308.1h0M1036.5 318.3h0M935.6 352.6h0M1231.3 254.9h0M853.4 465.7h0M992 340.9h0M1120.6 299.2h0M1273.1 234.7h0M1168.5 317.1h0M1160.5 303.1h0M1267.7 270h0M975.9 313.9h0M927.4 301.5h0M973.5 300.9h0M857.1 273.4h0M988.3 298.3h0M1032.8 201.9h0M1206.4 288.1h0M1226.2 307.5h0M1284.9 173.3h0M1274 254.5h0M1299.8 252.3h0M1227.3 279.3h0M1232.1 339.1h0M1053.1 410.6h0M1265.1 285.5h0M1047.3 326.7h0M1323.4 261.1h0M1193.2 274.9h0M886.4 268.3h0M1017.9 292.3h0M1143.4 281.3h0M1280.8 279.1h0M1271.4 335.8h0M1042.3 310.3h0M1312.2 283.2h0M1058.6 335.5h0M933.6 323.1h0M1315.5 233.7h0M997.1 237.8h0M1211 326.8h0M1171.1 284.1h0M1099.3 260.2h0M1271.7 237.8h0M1027.5 321.2h0M1179.6 284.3h0M1210.8 320.2h0M1102.6 321.2h0M991.7 370.8h0M1184.4 297.7h0M1059.5 281.5h0M1088.6 355.6h0M936.2 379.3h0M989.2 379h0M992.7 316.7h0M1253.3 271.2h0M1169.6 232h0M1216 203.9h0M1038.1 335h0M986.2 341.8h0M1022 393.5h0M1099.5 345.3h0M991.9 329.5h0M1000.8 366.3h0M1253.6 188.5h0M1277.1 222.7h0M1237.4 302.8h0M1034.8 318.1h0M1157.6 340h0M1092.3 369.4h0M972.9 315.3h0M1257.5 275.1h0M1058.6 333.2h0M989.4 345.7h0M927 287.9h0M1209.8 277.3h0M1196.8 267.5h0M1012 367.2h0M1171.2 297.1h0M1281 269.2h0M998.3 379h0M1047.3 316.3h0M876.6 287.6h0M1028.1 342.5h0M1157.1 294.5h0M1296 187.9h0M1049.8 355.8h0M1194.4 307.6h0M955 481.2h0M1147.5 247.4h0M1086.4 276.4h0M1082.8 285.7h0M1284.8 124.9h0M1231.4 346.4h0M1091.7 302h0M1040 325.9h0M1020.6 318.5h0M1183.7 270.6h0M1323 263.3h0M1074.2 275.5h0M1193.6 347.6h0M1046.5 305.1h0M1025.1 337.4h0M1237 196.6h0M1120.7 338.2h0M1059.1 301.3h0M906 315.7h0M1096.8 324.9h0M972.5 343h0M1220.9 282.6h0M1163 296.2h0M1213.3 372.3h0M1194 291.6h0M1091.3 307.3h0M1194.7 306.6h0M1127.8 325.6h0M1077.5 382.2h0M1310.7 278.5h0M986.5 321.2h0M1202.7 262.7h0M1076.6 291.3h0M1322.6 235.8h0M1053.4 328.4h0M984.2 348h0M1072.3 283.3h0M1097.9 211.4h0M1284.5 288.4h0M1078.6 364.1h0M1078.3 344.7h0M1248.4 286.4h0M1188.3 293.5h0M1302.5 146.8h0M1206.1 263h0M967.4 325.5h0M965.8 335.4h0M1009.4 302h0M1001.7 307.1h0M1154.7 241.8h0M1042.6 372.4h0M932.1 347.9h0M1093.5 263.3h0M934.1 372.6h0M1228.3 309.7h0M1238 229.1h0M1018.6 334.4h0M1095.1 329.2h0M929.4 338.5h0M1304.3 100.2h0M1009.1 306.6h0M1126.4 293.9h0M1313.4 324.2h0M996.4 317h0M1169.1 297.2h0M1125.9 298.5h0M1165.1 261.7h0M1294.5 233.6h0M1168.2 259.8h0M1148.6 300.7h0M942.8 359.1h0M1020.9 315.8h0M1238.5 294.6h0M1122.2 344.9h0M1109.7 337.9h0M1009.3 350.9h0M1108.5 341.6h0M1245 291.2h0M1195.6 267.1h0M1094.4 297.5h0M1203.2 215.8h0M1188.8 300.4h0M1231.2 280.5h0M1224.8 298.9h0M1109.3 371.3h0M1044.4 385.6h0M958 343.3h0M953 328.9h0M1251.1 310.9h0M1213.4 295.6h0M1128.2 275h0M1056.3 308.8h0M1209 285.2h0M988.6 320.6h0M1177.8 274.6h0M1181.8 274.6h0M1267.4 312.8h0M1108.7 333.1h0M1168.3 242.1h0M1110.3 276.9h0M1158.2 306.8h0M1082.9 341.2h0M938.1 272.3h0M1283.7 212.7h0M1008.8 320.1h0M1074.5 333.1h0M1122.6 273.5h0M1079.2 315.9h0M1030.3 332h0M1175.3 260.3h0M1101 290.3h0M1129.1 280.4h0M1295.9 278.8h0M1176.7 259.1h0M1177.6 272.3h0M1318.6 189.2h0M940 352.4h0M1023.4 375.3h0M1176 270.1h0M1248.4 251.2h0M1045.9 262.2h0M1074.5 353.4h0M1006.8 293.3h0M954.9 359h0M969.9 275.9h0M1086.2 297h0M967.8 437.5h0M1026 295h0M1121.6 281.7h0M1003.3 272.9h0M1070.9 368.5h0M1251.4 292.9h0M1049.8 310.6h0M1148.6 335.8h0M1166.3 357.4h0M1106.4 305.9h0M1068.5 353.3h0M1171.4 270.7h0M996.3 315.9h0M969 513.9h0M1225.1 315.7h0M1117.2 289.9h0M1056.6 271.9h0M1006.9 290.6h0M1054.7 269.8h0M1072.1 297.1h0M980.5 334h0M1238.7 263.3h0M1091.5 288.1h0M1049.2 240h0M1032.4 349.7h0M1192 259.5h0M928.3 407h0M1081.1 221.6h0M1139.2 303.1h0M1212.1 314.1h0M1235.7 270h0M1018.8 316.4h0M1112.9 323h0M1167.1 328.3h0M1303.8 234h0M1044.6 357.8h0M1188.8 316.3h0M994.3 350.1h0M1286.6 291.7h0M1113.4 332.9h0M1023.4 297.2h0M981 314.2h0M1056.3 292.8h0M1009.7 306h0M1157.6 327.9h0M1093.5 307.5h0M1018.1 326.8h0M1091.9 315.6h0M1083.7 329.8h0M1172 343.7h0M1176.8 227.6h0M983.4 308.3h0M1024 355.8h0M1058.3 277.1h0M1080.3 230.1h0M1022.7 295h0M1205.5 284.6h0M1090.7 350.7h0M1290.6 308.4h0M1025 349.5h0M1148.4 284h0M1219.5 248.5h0M938.3 392.2h0M1069.1 330.6h0M1003.6 354.2h0M1045.1 314.1h0M1229.7 272.1h0M1222.2 293.2h0M1226.4 293.8h0M1039.6 277.9h0M1179.4 270.6h0M1002.1 272.7h0M1145.7 298.5h0M1076.7 305.9h0M1007.2 447.7h0M905.2 358.3h0M1317.6 244.6h0M1030.4 332.7h0M1184 269.6h0M1038.4 335.5h0M1273.2 274.6h0M992.6 314.1h0M926.5 221.8h0M1289.2 329.6h0M1105 339.1h0M1119.5 311.9h0M1023 316.9h0M1074.6 328.9h0M1209.1 300.3h0M1184.9 317.9h0M995.5 361.9h0M1066.8 341h0M1207.3 290.7h0M1074.7 327.2h0M1083.7 293.9h0M1071.5 395h0M1012 225.6h0M1178.7 305.5h0M1226.1 212.4h0M1243.7 272.8h0M1317.5 196h0M1010.3 276.6h0M1025.1 308.9h0M995.3 346.5h0M1057.1 296h0M1096.5 331.8h0M1039.4 287h0M1205.7 242.1h0M1182.5 294.4h0M1130.9 320.5h0M1158.9 285.6h0M1054.3 462.5h0M1007.6 327.6h0M1010.2 325.7h0M1193.8 296h0M1162.6 317.6h0M892.2 374.1h0M1095.5 280.9h0M1008.7 281.7h0M1104.2 278.4h0M1205.3 302.4h0M1084.2 305.3h0M1118 313.1h0M1189.3 321.3h0M986.9 351.1h0M1071.4 316.1h0M1049.2 277.4h0M1189 299.7h0M971.8 326.6h0M1276.9 188h0M1274.9 234.2h0M1064.2 350.5h0M1203.7 289.9h0M1020.1 296.8h0M1208.7 288.7h0M1219.9 273h0M1233.2 302.2h0M1271.9 269h0M951.3 324.5h0M974.4 288.4h0M1186.1 253.1h0M1167.5 281.3h0M1209.2 326.8h0M1201.1 285.7h0M1039.3 374.3h0M1215.3 234.5h0M1219.2 286.8h0M1104.4 287.3h0M1206.9 324.8h0M1245.3 260.2h0M1002.6 280h0M1202.4 272.6h0M1244.1 199.2h0M1224.5 292h0M1019.1 286.9h0M974.4 333.3h0M1225.6 249.7h0M999.9 276.6h0M1034.4 336.7h0M958.2 297.3h0M1198.6 283.7h0M1224.3 267.3h0M1022.2 291.5h0M1190.4 227.4h0M1086.8 279.3h0M1061.2 304.3h0M1047.5 333.5h0M1248.6 308.1h0M1322.1 319.8h0M983.7 309.7h0M1155.8 310.8h0M994.8 364.6h0M1115.4 288.4h0M1134.5 291.5h0M1247.1 315h0M1212 272.9h0M1192.9 253.2h0M962.2 374.2h0M1065.8 397.5h0M1107.2 272.4h0M1167.9 363.9h0M1158.9 292.2h0M1217.7 286.4h0M1132.1 278h0M1017 312.4h0M970.3 313h0M1042.8 287h0M1028.9 326.7h0M1262.5 236h0M948.9 285.2h0M1026.9 350.2h0M1311 249.1h0M1183.8 228.6h0M994.7 353.7h0M1079.5 392h0M1052.2 305.4h0M1299 252.1h0M967.1 324.6h0M959.6 454.1h0M1249.3 311.2h0M1155 312.7h0M1213.2 293.5h0M1020.6 302.9h0M1052.2 315.9h0M1007.1 318.1h0M983.9 284.6h0M989 283.7h0M1202.7 305.5h0M1269.3 291.7h0M1322.8 257.1h0M956.6 348.6h0M1109.8 285.4h0M1254.2 267.1h0M981.9 376.7h0M1025.8 310h0M1078.8 284h0M1010.6 365.5h0M1233.2 296.8h0M1091.9 317.1h0M1035.7 319h0M1153.2 301.4h0M1043.8 249.6h0M1091.1 326.9h0M1211.7 322.9h0M961.5 352.8h0M1241.9 256.1h0M1043.4 262h0M958.5 193.2h0M1133 296.3h0M1207.3 304.3h0M1047.9 337.7h0M1088.7 339.5h0M1186.1 294.3h0M1257.2 222.1h0M1039.4 319.8h0M1225.6 287.2h0M1048.5 311.8h0M1058.1 284h0M1016.4 315.4h0M976.9 303.1h0M1025.2 309.3h0M1085.3 370.5h0M1067.3 297.2h0M1146.7 307.5h0M1218.1 303.8h0M1119.2 306.3h0M1071.3 315h0M1246.3 259.5h0M1289.6 238.3h0M888.4 237.2h0M1140.7 295.8h0M1005.4 369.2h0M1069.4 303.2h0M1009.1 384.5h0M1200.3 303.3h0M1207.8 253h0M1032.4 308.8h0M1161 246.4h0M1149.4 297h0M982.3 328.1h0M1115.6 295h0M938.8 239.3h0M1191 217.3h0M1072.2 342.5h0M1256.1 303.9h0M993.3 356.2h0M1019.9 343.6h0M928.3 340.9h0M1017.2 298.8h0M1027 306.1h0M1134 288.6h0M1015.3 315.8h0M968.1 301.5h0M979.1 380.4h0M1101.2 315.5h0M1259.2 277.5h0M1097 344.7h0M1210.6 282.5h0M1172.6 321.8h0M1024.4 375.3h0M1047.4 333.4h0M1017.6 328.4h0M885.4 301.1h0M897.2 257.6h0M1141.6 260.4h0M1055.3 276.4h0M1175 237.4h0M1245.8 318h0M1054.3 302.3h0M1314.8 211h0M1135.4 304.8h0M1325.1 253.3h0M1241.9 297.6h0M1131.1 347.8h0M1249.6 350.5h0M891.1 333.8h0M1060.1 306.3h0M1185.6 269.2h0M1114.8 297h0M1049.9 352.3h0M1001.4 287.2h0M1199.6 287.5h0M1266.2 253.1h0M1046.8 342.4h0M999 321.8h0M1088.3 319.4h0M1302.3 203.1h0M1214.2 276.9h0M1006.2 291.2h0M1012.4 418.6h0M1211.9 279.9h0M1107.4 325.9h0M980.8 303.4h0M1011.7 304.2h0M1174.1 222.9h0M1152.4 283.7h0M1209.6 287.2h0M1206.7 257.6h0M1247.9 233.2h0M1010 322h0M904.6 303.3h0M1133.7 415.9h0M1047.7 295.9h0M1165.3 296.1h0M1060.6 289.1h0M1045.3 285.2h0M1011.2 410.6h0M1029.5 349.4h0M1031.6 348.5h0M1139.9 269.1h0M1199.7 316h0M1187.4 293.7h0M1001.2 328.6h0M1261 208.8h0M938.5 436.3h0M1127.3 286.4h0M1139.9 263.6h0M1096.1 356h0M1014.8 302.6h0M1297.7 235.3h0M1095.8 303.7h0M1054.1 312h0M946.5 324.2h0M1198.6 303.1h0M945.6 277.3h0M968.2 338.9h0M1238.6 263.8h0M1262.3 241.6h0M1100.7 289.5h0M1060.3 339.8h0M983.1 296.2h0M1197 307.6h0M1171.4 258h0M1210.4 323.9h0M1001.7 298.5h0M1047.5 314.8h0M989.2 371.2h0M963.1 257.9h0M968.7 455.8h0M988.5 375.2h0M1125.4 274.2h0M994.4 298.1h0M1186.9 229.6h0M1223.7 284.8h0M1184.1 293.5h0M992.3 295.5h0M1013.8 300h0M1044.1 247.6h0M1040.1 309.5h0M979.9 347h0M1133.7 275.7h0M1021.3 271.4h0M1041.8 299.8h0M943.5 314.4h0M1182.8 309.1h0M1307.3 352.7h0M1083.9 289.3h0M992.9 359.3h0M1214.9 291.5h0M1054.8 290.5h0M1107.7 324.7h0M914.2 279.4h0M1212.2 276.8h0M1015.6 322.6h0M1310.7 256.1h0M1086 310.4h0M1315.4 276.8h0M999.8 328.3h0M1023.2 339.6h0M1203.9 296.3h0M1097.5 311.8h0M1055.7 311h0M1167.7 205.8h0M1020 297.4h0M1217.4 248.9h0M1020.1 305.7h0M1069.7 251.6h0M1046.4 306.7h0M1222 272.5h0M1021.8 373.7h0M1158.5 332.1h0M1188.7 282.2h0M1238 238.1h0M1072.8 297.9h0M1093.1 334.4h0M971.2 323.6h0M1161.1 306.4h0M988.9 311.4h0M1063.2 318.3h0M1243.5 337.4h0M986.1 344.8h0M1208.2 378.1h0M1050.2 346.6h0M1095.5 297.4h0M1068.6 376.5h0M1256.6 231.3h0M1160.8 274.5h0M1101.6 307.5h0M1225.1 319.7h0M878.1 339.3h0M1044 353.1h0M1136.1 330h0M1108.6 334h0M1003.9 318.2h0M998.4 330.5h0M1180.2 297.7h0M1324.6 156.8h0M1299.2 242.3h0M961.1 314.3h0M1052.5 300.2h0M1169.1 304.2h0M1025.2 288.4h0M1202.4 284.5h0M1025.7 295.5h0M1065.6 330.3h0M945.8 333.9h0M858.7 272h0M1246.7 298.6h0M1158.8 255.9h0M1175.2 274.6h0M1025.5 311.9h0M1098.7 337.4h0M1209.1 305.1h0M1210.6 284.7h0M1116.6 342.1h0M1314.1 292.5h0M1208.2 261.1h0M1101.2 305.8h0M1236.4 238.8h0M1239.7 282.9h0M1022.2 315.6h0M1187.1 255.5h0M1049 240h0M1260.4 257.5h0M1178.5 291.8h0M1130.3 324.1h0M1005.2 293.5h0M1117.3 286.5h0M1114.1 292.1h0M1104.4 428h0M1183.9 299.2h0M996.5 299.7h0M990.4 325.8h0M1138.7 287.6h0M1179.5 290.6h0M1108.3 289.1h0M964 345.3h0M1088.6 323h0M1001.2 352.6h0M1044.8 428.7h0M1229.6 274.3h0M1192.4 390.7h0M1018.4 345h0M1000.9 316.3h0M1050 333h0M1248.1 265.1h0M1285.8 270.7h0M1038.8 301.7h0M929.6 409.8h0M1311.7 344.6h0M1131.3 284.4h0M1178.3 327.6h0M1089.6 301.3h0M1064.2 291.3h0M1200.8 327.7h0M1262.6 269.1h0M1204.6 319.1h0M1186.9 283.1h0M1012.4 376h0M971.2 292.5h0M922.8 314.2h0M929.1 329.6h0M1186.7 271.8h0M924.2 348.6h0M1239.6 269h0M1056 324.2h0M1057.6 286.4h0M1197.4 270.2h0M1003.5 325.4h0M923.3 392.6h0M1173.2 263.6h0M1068.5 319.4h0M977.2 320.4h0M1249.8 258.3h0M1077.3 321.9h0M1226.5 314.9h0M1085.8 384.4h0M1125.7 238.9h0M879.4 349.9h0M993.6 355.8h0M1184 258.2h0M1206.9 280.1h0M1320.6 276.5h0M1261.2 301.7h0M1205.2 283.4h0M1309.8 248.7h0M1062.7 346.1h0M1232.5 288.6h0M1120.5 302.5h0M1212.2 263.1h0M1053.1 304h0M966.4 297.9h0M1212.1 286.6h0M1244.2 265.5h0M999.1 274.8h0M1258.1 219.7h0M1065.5 286.8h0M1023.9 311.4h0M1194.1 254.1h0M1077 324.3h0M1165.8 263.1h0M989.3 303h0M1062.3 278.6h0M1039.7 249.7h0M1070.3 329.8h0M1115.9 310.7h0M988.7 247.8h0M968.3 317.3h0M1140.8 296.5h0M990.5 361.1h0M1007.9 343.9h0M1014.1 289.9h0M1031.4 341.8h0M1152.5 298.2h0M1028.6 369.8h0M938.9 354.5h0M983.4 338.6h0M1095.6 333.9h0M1248.4 252.9h0M988.8 304.7h0M1031.5 372.1h0M1223 276.6h0M1297.9 261.9h0M1011.2 244.8h0M1132.1 240h0M1011.1 391.4h0M1147.1 292.7h0M1185 297.4h0M1102.7 296.7h0M1235.8 286.4h0M922.6 359.9h0M1278 231.8h0M1189.9 310.7h0M983 307.1h0M969 312.1h0M966 267.4h0M1213.6 314h0M1217.5 291h0M1075.4 381.5h0M1091.3 429.1h0M1024.5 342.9h0M1139.5 281.2h0M1174.4 213.3h0M1137.7 230.7h0M1195.7 268.2h0M1082.1 344.2h0M1118 275.1h0M888.2 315.8h0M1049.6 363.8h0M1173.1 370.1h0M1082.7 304.8h0M1144.6 212.9h0M1062.3 364.8h0M978.2 295.4h0M1126.1 317.2h0M1098.7 349.1h0M1059.7 368.9h0M946.4 318.6h0M1257.9 247.3h0M1055.6 271.6h0M1027.6 219.7h0M1023.7 307.6h0M1082 252.8h0M1111 266.7h0M1009.3 327.7h0M1032.4 287.3h0M1265.9 245.8h0M1200.4 300.8h0M1176.7 297.8h0M959.2 311.4h0M1036 345.4h0M1137.8 306.9h0M970 308.3h0M983.2 313h0M1014.9 267h0M1058.8 332.1h0M1243 319.3h0M1174.5 297.4h0M1047.8 293.7h0M892.8 401.8h0M1251.2 292.9h0M1102.4 275.9h0M1247.3 274.7h0M1072.4 274.8h0M1075.3 358.6h0M1068.5 404.7h0M994.6 315.2h0M1084.6 300.2h0M1196.6 330.2h0M1173 295.2h0M1218.4 279.4h0M1159 337.4h0M1122.1 267.6h0M1247 321.5h0M984.9 271.7h0M1266.3 266.9h0M939.1 309.5h0M1152.4 274.3h0M1019.8 316.2h0M1284.3 271.1h0M1061.7 314.2h0M1245.5 267.1h0M1119.1 301.1h0M1119.3 205.6h0M1037.4 304.5h0M1241.4 282.5h0M980.3 347.4h0M1119.8 291.5h0M1067.4 286.2h0M1166.8 306.9h0M1061.8 313.4h0M935.4 355.2h0M973 330.7h0M1116.2 275.1h0M1071.1 294.3h0M1237.8 257.1h0M1037.1 281.2h0M1114.3 290.4h0M1021 371.1h0M985.8 320.5h0M1026.5 304h0M1048.1 325.4h0M1175.8 299.2h0M1059.7 257.4h0M1205.3 287.3h0M1012.8 332.3h0M965.5 298.5h0M1253.9 282.2h0M991.8 313.8h0M1179.8 353.8h0M952.4 315h0M1149.3 292.7h0M1263.4 283.3h0M1263.9 213.5h0M1128.3 374.1h0M1164.9 286.6h0M1038.6 335.1h0M1154.8 307.8h0M1015.1 312h0M953.1 383.9h0M1100.5 296.8h0M1247 224.6h0M1101.6 343.8h0M1166.6 298.6h0M1184.1 338.4h0M1062.7 307.7h0M1075.6 295.7h0M1105.5 303.2h0M1280.3 230.5h0M990.1 322.7h0M1206.5 280.3h0M1113.1 215h0M1173.3 311.9h0M979.1 276.4h0M1053.2 296.8h0M1130.9 279.9h0M1207.1 300.4h0M1163.5 280.9h0M1026.6 332.1h0M1113.7 349.6h0M1199.3 332.8h0M1197.9 260.8h0M1144.8 318.1h0M1119.6 311.5h0M1226.8 244.3h0M1167.6 244.6h0M1092.9 345.2h0M1108.3 367h0M1090.5 338.9h0M1095.1 248.6h0M1149.9 295.9h0M1035.5 253.2h0M1080.2 263.3h0M1257.4 260.1h0M1123.3 276.3h0M1219.4 280.8h0M1045.6 334.8h0M1209.6 266.4h0M1051.9 328.8h0M906.7 330.9h0M1201.2 274.1h0M1185.9 379.5h0M1170.5 297.9h0M1151.7 301.7h0M1005.6 332h0M1103 279.5h0M1170.5 272.2h0M1131.9 282.8h0M1130 338.7h0M1131.9 361.1h0M1251.2 240.3h0M1228.9 262.7h0M850 275.9h0M1225.2 304h0M1297.3 249.9h0M1210.9 330.3h0M942.9 394.8h0M1130.5 270.7h0M1275.9 241.3h0M1000.1 373.6h0M1016.8 299.2h0M1137.3 338.6h0M1134.7 290.8h0M1176.2 297.1h0M1212.5 279.6h0M1202.1 270.1h0M1107.2 289.8h0M1013.3 358.9h0M1287.2 191.1h0M1200.6 362h0M1300.4 295.9h0M1266 250.1h0M1172.4 282.2h0M1100.6 275h0M1204.2 281.5h0M1104.2 348.7h0M1107 302.2h0M1141.8 284h0M999.2 331.4h0M1184.9 341.9h0M1211.1 275.1h0M1062 249.4h0M959.2 269.4h0M932.9 291.1h0M1194.5 250.8h0M983 343.5h0M906.3 294h0M1024.9 347.8h0M1200.9 315.4h0M976.6 319.9h0M1290.6 302.7h0M1149.6 266.4h0M1167.6 268.8h0M974.6 250.3h0M1133.9 298h0M940 316.5h0M1047.3 294.3h0M1019.2 232.7h0M1204.9 282.1h0M1313.4 253.3h0M951.5 247.6h0M1091.6 282.7h0M948.8 356.9h0M1213.2 211.4h0M988.1 277.9h0M1077.7 259.3h0M1123 320.1h0M958.3 318.1h0M907.7 416.3h0M1191.1 255.3h0M1121.3 279h0M1135.5 290.9h0M1156.3 285.5h0M1088.4 301.4h0M1230.4 234.8h0M1199.6 304.1h0M978.6 388h0M1201.7 279.6h0M1197 329.6h0M1007.7 323.9h0M1074.1 340.2h0M1108.3 441.9h0M1016.6 381.4h0M1144.1 285h0M1174.4 224.9h0M954.3 447.5h0M1053.1 322h0M1212.5 361.1h0M1039.2 404.2h0M991.5 303.9h0M983.4 324.9h0M1075.9 361.9h0M1113.8 330h0M1044.1 334.7h0M944.7 422.4h0M1283.4 242.6h0M1190.5 298.5h0M1071.1 294.7h0M995 294.5h0M1157.7 287.6h0M1095.9 260.7h0M1058.9 320.8h0M1104.9 224.6h0M1038.5 250h0M1100.3 300.1h0M930.8 275.2h0M904.9 298.4h0M1051.6 346.6h0M1219.5 300.5h0M1181.3 302.6h0M1277.3 271.8h0M1084.9 303.2h0M934.7 363.8h0M1199.7 307.3h0M1126.9 288.3h0M1115.9 251.3h0M1182.5 350h0M1072.7 311.5h0M1178.2 316.3h0M1030.9 418.9h0M1056 340.3h0M1087.2 328.8h0M1046.5 391.9h0M1199.9 254h0M1189.8 229h0M1015.5 343.6h0M1109.4 299.2h0M1031.6 328.1h0M1066.1 307.2h0M1033.8 241.1h0M1287.5 256.7h0M998.2 298.4h0M1219.2 237.7h0M1277.9 230h0M1230.2 267.5h0M968 298.3h0M963 341.1h0M975 320.9h0M1247.9 284.7h0M1120.2 318.9h0M1093.3 304.9h0M1040.8 287.6h0M1022.4 290.5h0M978.3 326.2h0M1012.6 335.9h0M999.8 338.3h0M1157.4 270.8h0M1069.8 283.9h0M1124.2 270.3h0M1118.7 310.9h0M1080.3 323.6h0M1084.3 336h0M1289.8 278.7h0M1122.6 246.3h0M961.5 346.2h0M1037.3 311.2h0M1170.2 299.6h0M970.3 320.8h0M999.1 320.5h0M985.2 435.1h0M968.6 297.1h0M1084.6 288.8h0M965.6 307.9h0M1057.9 293.9h0M1014.9 292.3h0M968.8 326.4h0M1018 316.8h0M928.3 327.6h0M990.9 260.8h0M1145 308h0M1310.1 226.3h0M1112.3 287.7h0M1199.6 310.3h0M1207.4 308.6h0M1095.1 292.8h0M980 335h0M953.9 339.7h0M1067.1 328.5h0M987.5 337h0M1248.3 295h0M1187.4 275.1h0M1228.4 271.4h0M1112.7 303.2h0M1182.8 273.1h0M1020.3 306.9h0M961.8 317.7h0M1159.3 280.6h0M1065 285.6h0M1020.3 333.5h0M1160.2 373.6h0M1106.6 290.9h0M999.6 371.7h0M854.5 391.2h0M1264.6 265.7h0M1053.7 282.2h0M1217.4 276.8h0M1171.9 326.8h0M971.5 316.1h0M1038.4 296.4h0M1216.4 276.4h0M885 330.3h0M1153.3 270.6h0M1199.8 266.9h0M995.1 324.9h0M1160.5 280.2h0M1147.2 281.3h0M960.3 339.7h0M1149.7 322.1h0M1171.3 291.7h0M991.7 299.2h0M957.8 297.1h0M1014.7 326.4h0M990.5 283.9h0M931.2 330.8h0M1072 328.9h0M980.8 432.3h0M1029.3 311.2h0M1157.2 315.2h0M1101.2 331.1h0M1065.9 260.2h0M1066.7 323.6h0M1189.1 272.4h0M1136.8 197.7h0M967.9 347h0M1077.6 338.8h0M1003.2 369.3h0M1078.8 283.6h0M1159.5 292.4h0M1226.9 283.4h0M1213.6 296.1h0M1153.2 330.3h0M1110.4 278.6h0M1219.5 266.1h0M1015.8 305.5h0M1097.1 241.1h0M1175.3 300.8h0M1080.6 313.8h0M1158.2 302.8h0M902.7 339h0M1027 318.5h0M1033.2 305.1h0M1002.4 321.6h0M984.6 347h0M1043.2 325.5h0M1044.6 286.3h0M1007.5 334.4h0M1123.3 272h0M1127.3 269.1h0M1015.1 364h0M998.7 281.2h0M1048.9 346.8h0M1041.9 268.7h0M1058.4 342.9h0M1044.9 332.5h0M1027.3 320.5h0M1213.3 291.9h0M1198.1 242.5h0M1252.1 171.1h0M932.7 359.2h0M1131.9 270.8h0M1121.5 293.6h0M1254.5 286.4h0M1130.2 295.5h0M1143 259.3h0M1191.9 277.7h0M1010.5 358.5h0M1261.3 260.6h0M1137.7 238h0M1098.7 370h0M1022 311.2h0M1088.8 315.3h0M1302.3 273.9h0M969 298h0M1075.1 287.1h0M1036.5 359h0M969.7 341.3h0M987.4 325h0M1151.6 293.2h0M932.9 350.7h0M969.6 341h0M1128.5 293.8h0M1209.3 311.3h0M1296.6 323.9h0M976.1 310.1h0M1054.6 279.2h0M985.4 330.9h0M1048.8 326.1h0M1102.2 283.6h0M1179.7 266.8h0M1165 299h0M1142.4 253.4h0M1293.7 273.9h0M1124.5 250.3h0M1236.9 343.6h0M1008.5 337.4h0M1223.1 258.7h0M1195.8 257.9h0M1159.5 287h0M1097.5 278.9h0M1270.1 240.7h0M974.5 356.3h0M1182.2 316.2h0M1058.9 294.3h0M1183.1 289.3h0M1071.1 323.4h0M1190.2 325.4h0M1246.5 359.5h0M1108.6 290.7h0M1310.1 268.3h0M1139.2 293.4h0M954.1 306.8h0M880.1 394.3h0M1007.4 293.8h0M1000.3 303h0M1026.2 354.9h0M1246.8 238.3h0M1117.1 300.3h0M1156.9 284.2h0M1135.6 325.1h0M1003.5 295.1h0M1202.4 282.7h0M1170 299.6h0M1187.5 325.4h0M1295 254.9h0M936.3 291.5h0M1165.6 277.3h0M1046.9 295.8h0M1145.5 341.6h0M1118.9 323.9h0M1029.2 269.5h0M1132.8 295.9h0M1217 251.7h0M1075.6 322.2h0M1125.2 313.9h0M969.8 278.5h0M1304.2 274h0M979.8 336.4h0M1151.3 296.2h0M1110.6 286.8h0M1216.4 259.3h0M1218.4 310.1h0M1146.4 278.1h0M1164.9 206.2h0M1117.9 313.2h0M1307.5 213.3h0M994.3 322.6h0M1320.3 291.5h0M990.9 263.6h0M1269.8 292.9h0M1288.3 262.1h0M886.4 392.3h0M1225.3 299.2h0M1049.2 258.6h0M1191.5 276.8h0M1286.3 256.8h0M1246 317.3h0M933.5 306.5h0M997 343.1h0M1101 301.6h0M1296.6 190.4h0M1068.5 303.4h0M1154.4 283.9h0M947.5 286.3h0M1095.7 331.5h0M1134.6 295.7h0M1073.7 323.2h0M1165.6 240.4h0M982.6 336.1h0M1013.9 344.4h0M977.5 306.4h0M1204.2 244.3h0M1105.6 318.4h0M974.9 384.8h0M1126.5 287.4h0M1221.1 252.8h0M1150.9 284.2h0M999.9 321.4h0M1091.7 337.3h0M1097.8 316.3h0M1216.8 332.3h0M1205.4 239.5h0M1020.1 316.9h0M1144.8 301.1h0M1061.6 311.7h0M1150.6 301.6h0M1146.2 311.4h0M1119 297.1h0M1197.4 284h0M1029.7 306.8h0M1277.3 252.1h0M1155.6 267h0M947.3 332.2h0M970.7 345.1h0M1145.5 295.5h0M1286 190.9h0M1139.1 305.6h0M1223.8 215.9h0M1175.4 275.7h0M1065.5 344.2h0M1148.2 329.6h0M1101 300h0M1027.8 286.8h0M1051.3 308.2h0M1304.6 230.5h0M1018.8 338.8h0M1114.9 214.6h0M971.9 315.7h0M1075.8 276.5h0M1176.4 279.9h0M1223.9 265.2h0M966.2 245h0M1165.8 299.2h0M1009 299.3h0M1181.5 301.9h0M1235.4 306.5h0M1098.6 294.6h0M1185.3 263.3h0M1149.2 254.6h0M1179.5 324.5h0M1191.7 253.5h0M1190.3 353.1h0M1120.6 331.9h0M1112 345.7h0M1020.4 381.1h0M1214.4 341.1h0M1180.1 353.3h0M1181.6 229.7h0M1051.2 314.2h0M937.6 321.6h0M1138 268.8h0M1122.7 291.6h0M912.9 315.5h0M1206.7 288h0M1178.2 306.6h0M1045.2 278.8h0M1300.1 292.3h0M918.1 246.9h0M1286.5 292.7h0M1143 304.6h0M1006.2 381.5h0M1027.1 379.9h0M1219.4 281.6h0M1094.9 336.8h0M1072.9 344.1h0M989 331.3h0M1185.1 316.8h0M997.4 343.3h0M933.8 315h0M1150.1 272.1h0M1028 303.1h0M1006.5 300.4h0M1145.6 280.6h0M1175.4 272.9h0M1092.4 324.1h0M1142 291h0M1015.4 321.6h0M1115.1 343.5h0M990.4 279.8h0M1201.4 264.6h0M1129.3 293.1h0M1196.8 289.4h0M992.6 402h0M1196.3 276.7h0M1204.8 313.1h0M1086.4 288.8h0M1122 310h0M1265 257.7h0M1081.3 283.5h0M1074.1 321.7h0M1113.4 322.5h0M1102 306.1h0M1043.9 414.1h0M1100.6 325.5h0M1192.8 309.2h0M1078 325.7h0M1118.6 308.8h0M1098.5 272.9h0M1019.2 309.1h0M1138.9 292.6h0M1220.5 270.6h0M1254.5 264.3h0M1081.3 399.5h0M1036.8 323h0M1037.9 309.1h0M1220.4 226.9h0M909.2 395.9h0M997.3 307.4h0M955.7 289.7h0M970.7 267.2h0M973.4 257.5h0M965 318.6h0M1140.7 283.4h0M988.1 308.9h0M1252.4 291.5h0M1098.5 352.6h0M908.6 319.9h0M981 350.9h0M1261.9 294.3h0M1108.3 380.6h0M1028.9 298.4h0M1121.2 292.4h0M923 344.1h0M1141 283.8h0M1090.6 331.7h0M1268.2 288.4h0M1149.5 239.9h0M1155.6 261.1h0M1165.9 267.2h0M1185.7 296.6h0M1015.4 322.2h0M1102.1 282.4h0M1116 294h0M1148.8 301.7h0M1013.6 287.2h0M1162.5 271.5h0M986.9 310.7h0M993.8 309.9h0M1279.4 219.3h0M1000.9 334.1h0M1055.7 265.2h0M1059.9 277.9h0M1180.9 297.2h0M1239.2 168.5h0M1319.5 201.6h0M1236.4 279.7h0M1009.6 348.9h0M1249.6 280h0M1063.3 388.3h0M1076.3 367.6h0M1163.4 238.2h0M1049.1 276.8h0M849.1 326.1h0M1045.8 309.3h0M1123.9 332.7h0M1052.8 314.6h0M1175.1 321h0M1155.4 316.6h0M1002.2 303h0M1172.4 315.1h0M1093.1 305.1h0M1223.3 119.4h0M920.1 372.7h0M979.3 342.9h0M1097.1 289.4h0M1224.9 273.3h0M1049.2 322.8h0M1176.2 318.7h0M1081.7 280.8h0M1031.1 286.1h0M1239.1 288h0M1009.8 290h0M1000.9 284.6h0M1044.9 393h0M978 339.4h0M1098.4 340.7h0M1156.4 315.1h0M1148.8 300.6h0M1052.8 290.4h0M1118.1 313.5h0M1082.7 253.4h0M1196.9 264.7h0M1082.4 261.2h0M976.8 166.3h0M961.6 294.8h0M1115.7 306.3h0M1211.8 228.5h0M993.3 293.4h0M1255.2 281.9h0M982.1 325.5h0M1153.5 286.3h0M1187.8 285.6h0M1021.4 310.1h0M989.1 372.2h0M996 308.3h0M928.8 404.7h0M1248.8 244h0M976.4 226.3h0M1088.9 314.8h0M1046.5 313.8h0M864.8 316.6h0M1184.9 403.2h0M1202.6 277.6h0M992.3 343.1h0M1250.1 236.7h0M1046.4 292.3h0M1096.5 361.4h0M1290 253.2h0M1027.3 295.5h0M1218.9 288h0M1122.1 338.6h0M1287.9 246.1h0M1108.9 325.7h0M1114.7 289.4h0M1151.6 293.7h0M1003.8 289.5h0M1206 252.1h0M970.2 388.6h0M1180.9 317.4h0M939.8 345.6h0M1149.9 333.4h0M1062.9 364.8h0M1146.4 293.7h0M1147.8 330.9h0M1149.3 267h0M1112.9 299.4h0M1171.4 268.7h0M1246.9 278.4h0M878.3 337.3h0M1015.3 295.5h0M973.7 335.1h0M1018.1 346.7h0M997.5 313h0M974.6 307.3h0M980 316.9h0M1149.4 248.6h0M1225.1 216.3h0M1044.8 349.3h0M952.5 367.3h0M1062.7 291h0M1222.2 254.5h0M1251.3 244.5h0M1230.3 341.5h0M1192.1 250.2h0M1062.4 318.9h0M1210.2 281.6h0M1132.3 411.2h0M1014.9 302.3h0M1166.6 278.8h0M1029.6 298.3h0M1052.4 336.6h0M1146 280.6h0M1011.4 300.4h0M1267.3 281.7h0M1156.3 324.4h0M1052.2 312.5h0M1066.7 336h0M1167.8 302.5h0M1037 298.5h0M969.7 315.2h0M1310.5 186.3h0M1066.2 302.1h0M1220.7 284.1h0M958 260.1h0M1179.4 255.4h0M1004.4 338h0M966.3 392.9h0M1166.3 336.3h0M1191.9 290.1h0M1185.6 284h0M1103.8 288.2h0M901.3 313.6h0M971.1 246.8h0M1163.4 336h0M1028.3 324.2h0M1122.5 298h0M936.5 321.8h0M1180.3 267.7h0M1167.9 255h0M1113.9 280.4h0M1001.3 249.5h0M1104.3 300.8h0M1025.4 399.7h0M1001.1 354.4h0M869 383h0M1273.9 326.8h0M1148.9 308.3h0M1058.5 299.4h0M1039.1 289.6h0M945 336.7h0M994.8 302.5h0M981.7 352.6h0M1034.1 288.2h0M1150.7 201.2h0M1099.8 290.5h0M1098.2 276h0M1133 321.8h0M1016.1 338.6h0M1080.3 351.9h0M1020.1 347.2h0M1012.8 305.8h0M1083.1 317.7h0M1007.5 334h0M918.7 340.3h0M1210.1 274h0M1140.3 305h0M1113.7 312.2h0M1209.2 310.3h0M1067.7 332.6h0M1061.7 338.1h0M1150 315.4h0M1214.7 272.7h0M1052.5 303h0M996.7 331.4h0M1106.7 285.3h0M994.1 318.3h0M1028.7 399.2h0M1278.2 285.2h0M1248.9 279.7h0M1128.7 302.7h0M945 242.3h0M1097.3 313.2h0M1002.1 300.4h0M1146.9 293.7h0M1310.8 229.7h0M1142.9 280.3h0M1026.9 303.8h0M928.4 357.9h0M1057.7 390.3h0M1015.1 331.9h0M1244.6 286.1h0M1324.4 192.6h0M1291.5 148.2h0M1214.2 309.6h0M1008.9 337.4h0M1060.4 263.5h0M1145.5 250.4h0M966.9 289.6h0M1064.4 316.1h0M960.3 380.5h0M1048.8 299.4h0M944.5 286.4h0M1295.3 242.8h0M1215.5 250.1h0M1125.2 339.2h0M984.9 307.4h0M1089 289.4h0M995.8 302.3h0M1129.4 301.8h0M1082.7 297.5h0M1291.3 268.7h0M1077.8 339.2h0M1214.1 280.9h0M1118.9 261.8h0M1319.2 239.2h0M1145.1 311.1h0M1064.3 372.5h0M923.1 319.1h0M1011.8 353.5h0M1172.9 297.4h0M1049 309.7h0M1292.6 277.5h0M1048.1 260.8h0M1021.5 405.8h0M1142.2 343.5h0M938.8 385.1h0M1114.4 249.4h0M1298.9 284h0M1313.2 272.6h0M1229.4 254.1h0M1032.7 265.4h0M1113.2 204.5h0M1129.1 280.8h0M1174.1 288.6h0M945 407.3h0M1164.5 285.1h0M1108.6 297.2h0M1116.7 281.3h0M1228.8 291.3h0M1069.3 297.2h0M1080.7 274.2h0M1260.3 270.4h0M1065.2 320.7h0M1096.4 346.8h0M984.8 290.1h0M1042.5 325.6h0M1077.3 305.9h0M1088.6 327h0M1190.9 312h0M1149.1 292.4h0M1207.7 230.1h0M1233.1 265.6h0M1133.2 341.6h0M1261.1 281.6h0M1207.9 272.9h0M991.8 364.2h0M989.5 281.1h0M970.9 318.7h0M972.2 221.3h0M1259.5 284.8h0M1078.7 315.2h0M1267.7 231.2h0M1251.2 283.6h0M1066.4 287.7h0M1040.7 317h0M1167.1 319.8h0M1256 291.8h0M1003.4 307.9h0M938.9 271h0M1002.2 307.3h0M1223.1 307h0M1179 273.2h0M1013.6 334.7h0M1203.3 297.3h0M1251 245h0M1071.1 322.8h0M977.2 281.1h0M1075.5 283.2h0M1163 274.8h0M940.5 303.8h0M1041.2 305.9h0M1108.6 334.9h0M1013.6 297.9h0M1176.6 315.8h0M1190.5 249.9h0M1086.4 355.3h0M1220.2 296.7h0M1208 239.5h0M1262.7 254.3h0M1214.3 234.9h0M1075.9 340.5h0M971.2 320.8h0M1175.5 300.5h0M1136.5 306.1h0M986.6 363.5h0M1081.1 286.5h0M1004.9 300h0M1038.2 267.7h0M996.1 288.7h0M1184.1 289.4h0M1175.7 232.8h0M987.9 387.5h0M1080.8 265.9h0M1168.7 258.5h0M1082.6 250.3h0M1318.3 268.8h0M1214.3 284.3h0M993.1 331.2h0M1161 310.3h0M1202.7 254.1h0M1074.4 285.1h0M1038.7 338.3h0M1131 268.7h0M1155.6 281.8h0M1069.5 348.3h0M1145.7 271.1h0M1021.4 330.6h0M1011.1 303.2h0M1094.5 315.1h0M1000.5 433.4h0M1045.3 363.4h0M997.6 377.4h0M1135.1 291.7h0M1190.3 342.9h0M1007.1 344.9h0M1265.1 323.5h0M1202.8 316.2h0M1000.1 198.1h0M1080 376.5h0M1212.2 246.5h0M1085.9 300.9h0M1129 272.4h0M1256.2 209.8h0M1068 361.7h0M964.6 303.7h0M1077.2 296.4h0M965.9 308.2h0M1203.1 294.4h0M975.3 313.8h0M1201.1 357.1h0M1259 274.9h0M1217.5 293.1h0M1001.3 350.2h0M856.8 329.6h0M979.4 318.9h0M1168.4 267.1h0M1137.6 341.4h0M1229.3 280.1h0M954 339.4h0M1257.9 247.2h0M977 320.4h0M904 322.5h0M1300.8 221.9h0M1049.1 337.5h0M1146.9 257.5h0M967.5 355.9h0M1222 297.9h0M1174.2 300.8h0M1138.7 314.6h0M1141.6 295.2h0M1032.7 320.6h0M1311 251.2h0M1159.6 287.7h0M998.1 434.3h0M1063.2 284.8h0M1060 339h0M1000.8 449.9h0M1215 332h0M1036.7 287.5h0M1138.7 303.2h0M1223.6 297h0M1041.9 331.5h0M1063.5 311.1h0M1039.3 340.6h0M1182 278.5h0M1272.7 265.6h0M1047.9 363h0M1057.3 280.8h0M996.8 373.5h0M854.9 336.9h0M1260 242.8h0M1012.8 318.1h0M1068.9 310h0M980.1 318.6h0M1171.4 348.5h0M1317.3 308.6h0M1120.2 302.4h0M1149.3 339.5h0M1211.6 289.7h0M1230.3 313.1h0M1072.5 320.9h0M1152.2 321.6h0M1011.3 379.7h0M1106.5 320.3h0M1167.4 276.1h0M1167.5 298.7h0M985.2 264.1h0M948.9 294.1h0M1277.9 293.2h0M854.1 305h0M1193.8 317.5h0M972.1 306.8h0M1034.7 329.8h0M1050.1 336.7h0M1320.4 251.7h0M1061 296.9h0M1205.2 268.8h0M969 324.8h0M1094.9 277.3h0M1003.4 385.4h0M1318.4 176.1h0M1146.4 275.6h0M855.5 188.9h0M1033.2 321.5h0M923.7 314.2h0M1102.6 322.6h0M985.7 340.1h0M1002.8 333.6h0M1319.4 235.1h0M1093.9 294.6h0M1090.7 325.7h0M1093.6 289.4h0M1033.5 314.1h0M1054 332.5h0M1285 278.9h0M956.7 316h0M1220.8 282.4h0M922.8 311.1h0M942.1 357.4h0M1117.3 224.2h0M1100.8 303.6h0M1000.8 388.6h0M1199.3 298.1h0M1163.1 284.6h0M1162.3 326.1h0M1178.4 255.6h0M1130.6 278.7h0M1319.3 227.9h0M979.6 308.4h0M1184.9 305.5h0M1009.3 351.4h0M971.1 321.2h0M1091.9 290.8h0M1105.9 285.8h0M1027.8 282.2h0M1218.6 256.5h0M1044.3 252.6h0M1066.3 313.2h0M1092.7 306.6h0M1181.9 245.6h0M1261.5 287.8h0M1031.3 303.9h0M1223.1 269.3h0M1026.5 298.6h0M965.3 319.3h0M969.6 363.7h0M1111.5 273.1h0M932.9 361.7h0M941.6 292.5h0M1206.8 252.6h0M1138.4 313.1h0M1024.4 305.8h0M1054.1 298.1h0M1002.4 329h0M1074.1 301.1h0M949.9 240.1h0M1014.1 311.6h0M921.5 328.1h0M991.9 361.8h0M1325.2 329.4h0M1104.3 294.6h0M1052.3 295.3h0M1163.5 252.2h0M1137.2 294.4h0M1114.9 342.5h0M1172.5 285.9h0M1248.4 271.7h0M1186.7 308.5h0M1091.8 273.2h0M1235.3 265.3h0M1095.6 295.7h0M1298.7 232.1h0M1197.3 260.6h0M1134.1 310.9h0M1268.2 296.1h0M1123.1 269.2h0M1165.4 300.5h0M1270.9 278.7h0M1319.7 174.6h0M1286.4 228.9h0M1169.3 273h0M1077 319.4h0M1192.8 202.6h0M1287.8 305.3h0M1256.6 258.5h0M1063.1 296.9h0M1094.5 311.7h0M1265.3 317.7h0M977.4 273.8h0M890.3 359.9h0M1124.9 296.3h0M1111.7 370.4h0M969.7 382.1h0M992 299.7h0M1050.2 392.6h0M1064.7 306.5h0M996 320.4h0M1269.9 203.6h0M1208 280.1h0M1034.5 317.8h0M973.1 337.9h0M1037.7 309.1h0M1021.8 323.4h0M1125.5 302.5h0M1089.5 298.4h0M1230.4 312h0M1149.9 310.8h0M1162.8 294.1h0M1020.9 339.5h0M1015.6 310.5h0M878.8 328.7h0M1172.8 248.6h0M1151.1 285.7h0M1210.9 328.2h0M1067.6 302.5h0M1093.3 296.3h0M980.5 314h0M1150.2 255.8h0M959.4 319.6h0M1226.3 222.1h0M901.7 376.6h0M1185.8 305.1h0M1267.8 255.3h0M983.2 271.7h0M935.7 369.6h0M1126.9 308.5h0M1174.8 261h0M1124 300h0M1145.3 351.6h0M1069.8 294.8h0M1113.2 296h0M1124.1 283h0M942.7 310.8h0M1229.8 293.6h0M1145 310.7h0M1048.2 364.2h0M971.9 330.4h0M1022.3 347.1h0M1007.2 325.9h0M1232.6 273.4h0M1057.8 364h0M1071.6 342.8h0M1102.6 331.8h0M981.7 331.7h0M1166.2 286.5h0M1004.7 306h0M1009.6 296.7h0M1190.9 283.8h0M1208.3 276.9h0M994.4 319.6h0M1150.5 289.7h0M1012.4 306.5h0M1057.7 295.4h0M1045.4 305.9h0M1224.5 292.6h0M1144.6 220.4h0M1112.4 310.9h0M971.1 407.2h0M1065.4 260.3h0M1065.7 399.4h0M1160.8 293.5h0M1299.7 275.3h0M1308.1 282h0M1321.8 251.3h0M1070.7 286h0M988.1 361.3h0M1221 315.5h0M1094.5 281.4h0M1114.4 250.4h0M1186.7 315.8h0M1235.3 261.6h0M997.6 299.8h0M976 312.3h0M1121.8 296.7h0M1071.5 246.3h0M1075.1 451.1h0M1119.5 337.1h0M1300.5 174h0M994.4 311.7h0M1164.8 319.1h0M1274.3 310h0M1256.9 237.6h0M1172.9 302h0M950.5 348.7h0M946.4 321.2h0M1070 332.8h0M1011.5 307h0M1039.9 335.7h0M1010.4 330.2h0M1026.5 386.3h0M979.2 328.7h0M1180.1 300.6h0M1037 304.3h0M1227.4 293.9h0M1041.9 320.7h0M1083.3 331.8h0M982 346.8h0M1288.7 267.7h0M1100.4 361.4h0M1143 304.9h0M1214.2 227.2h0M959.8 313.9h0M1000.5 332.1h0M1021.7 323.4h0M1256 269.5h0M1133.5 295.2h0M1102.8 209.2h0M1283.3 234.4h0M1241.6 271h0M990.3 314.7h0M1056.4 292.2h0M1161 277.9h0M977.5 358.7h0M1000.6 430.8h0M1254.9 233.9h0M1112.7 360.1h0M1037.9 316.2h0M1081.3 276.8h0M1084.9 393.4h0M1287.7 231.7h0M1027.9 304h0M1136.2 316.8h0M1011.6 371.8h0M1146.7 288.7h0M1150 233.2h0M1150.5 281.3h0M1282.1 324.9h0M915.5 187.4h0M1115.3 311.7h0M1032.1 297h0M1041 327.1h0M1148.9 301.8h0M1078.9 334.1h0M1051.6 336h0M1162 284.9h0M1094.5 424.3h0M1228.6 230.5h0M1212.5 253.4h0M1054.1 307.6h0M971.4 309.7h0M1011.5 310h0M1047 301.7h0M1270.6 211.8h0M938.7 407.5h0M1038.3 278h0M1028.3 289.9h0M1315.9 258.6h0M1157.5 285.3h0M1176.8 269.7h0M1132.9 292.5h0M1163.9 282.1h0M1014.8 290.4h0M1235.8 262.8h0M1249.6 315.5h0M1083.4 303.1h0M1124.1 296h0M958.3 318.8h0M1077.9 351.1h0M1190.3 257h0M1130.1 342.2h0M1191.7 315.7h0M1102.9 372.6h0M1158 288.7h0M1171 267.7h0M1206.3 227.5h0M973.9 328h0M1017.7 309.5h0M1159.7 310.5h0M1067.4 290.1h0M1175.2 305.9h0M1322.1 297.7h0M1118 285.4h0M1240 269.4h0M1260.9 233.1h0M1200.5 284.7h0M1240.3 280.4h0M1178.2 225.9h0M1163.7 304.4h0M1058.3 309.3h0M1058.9 315.5h0M1094.7 278h0M1046.4 328.4h0M1287.5 222.6h0M1018.6 327.1h0M1157.1 290.2h0M1076.9 312.5h0M1292.2 254.8h0M1130.9 295.5h0M934.5 336.9h0M1056.1 278.9h0M995 293.1h0M1107.7 269.7h0M1012 356.7h0M1059 306.6h0M956.6 298h0M1116.8 327.7h0M1076.3 333.4h0M1121.4 332.9h0M962.1 237.1h0M1156.8 313.9h0M1001.1 309.1h0M1149.5 272.1h0M1233.5 283.2h0M1239.8 275h0M977.6 356h0M1072.5 316.2h0M1273.4 258.3h0M1092.9 331.7h0M1227.5 271.4h0M1023.6 293.4h0M1068 308.7h0M1011.7 323.3h0M1068.4 411.8h0M1138.7 280.3h0M993.4 325.5h0M1241.9 297.9h0M1060.3 271.7h0M899.5 275h0M1008.6 333h0M1083.1 319.3h0M1168.2 273.2h0M1095.5 251.1h0M1106.4 289h0M1027.7 290.6h0M1037.8 335.3h0M1104.4 315.8h0M982.9 314.4h0M1059.4 296.9h0M1103.9 336.4h0M1319.8 185.2h0M990.6 327.7h0M1182.4 287.7h0M1230.5 204.1h0M1181.2 263.9h0M1105.9 327.7h0M1057.4 330.8h0M1178.8 256.2h0M1051.6 383.2h0M1094 299.4h0M1141.8 323.3h0M1267.6 245.7h0M1169.5 340.3h0M1175.7 352.1h0M1017.4 286.5h0M1109.2 319.6h0M990 302h0M982.2 325.7h0M1152.1 335.2h0M1201 274.6h0M1051.1 353.4h0M1089.7 437.4h0M1113.7 311h0M1218.9 263.8h0M1014 292.2h0M1038.1 334.2h0M1155.9 309.4h0M982.7 293.4h0M907.5 308.9h0M979 332.4h0M944.1 377.7h0M1222.4 297.7h0M1234.3 247.3h0M1017.8 371.5h0M956.7 308.8h0M1006.2 346.8h0M1025.5 341.4h0M1304.5 237.5h0M1212.3 319.5h0M1325 228.9h0M1198.9 248h0M1054.1 294.3h0M926.6 328.3h0M1054.7 329.8h0M1040.1 250.6h0M1287.1 249.5h0M942.7 323.4h0M1112.6 323.2h0M1012.4 461.8h0M1188.1 297.6h0M1274.7 184.8h0M1039.7 321.7h0M1150.3 272.7h0M1170.9 273.8h0M1001.4 311h0M1051.5 258.1h0M1131.5 321.9h0M1072.1 340.8h0M1105 282.3h0M1140.2 311.7h0M1172.4 284.7h0M1094.9 321.5h0M1239.9 268.1h0M1217.4 327.3h0M1123.1 302.5h0M1139.1 302.3h0M1194.2 251.9h0M978 328.4h0M1304.8 230.9h0M1154.9 316.6h0M1063.7 303.5h0M1039.3 315h0M1120.4 350.3h0M1256.6 299.8h0M1177.9 279.7h0M1299.5 276.5h0M1182.5 278.6h0M1187 245.7h0M1097.4 199.5h0M1317.9 318.7h0M999.5 353.5h0M1170.8 163.3h0M1142.5 281.8h0M1072.3 310.5h0M980.7 368.7h0M1172.1 304.8h0M1113.5 298.8h0M1017.3 332h0M1051.1 255.3h0M1278.6 412.4h0M994.8 287h0M1126.3 280.9h0M1068.6 315.2h0M1102.4 262.4h0M1052.3 329.6h0M1164.2 264.1h0M1260.9 229.8h0M1014.4 373.6h0M1148.1 278.8h0M1103.6 327.9h0M1312.8 158.7h0M1117.4 281.4h0M859.9 288.1h0M1205.2 269.4h0M1115.9 307.3h0M959.8 318.6h0M976.9 322.4h0M1159.6 262h0M1055.9 316.1h0M1254 292.6h0M1087.2 324h0M1293.4 236.3h0M1009.4 323.8h0M1152.1 285.4h0M1001.7 300.2h0M1245.6 240.6h0M1148.9 202.7h0M1075.8 302.8h0M962.9 315.1h0M1031.8 296.9h0M954.8 353.2h0M950.9 358.7h0M1053.5 306.7h0M1161.9 344.4h0M1048 280.7h0M1256.4 278.8h0M951.5 448.4h0M1006 349.2h0M969.1 312.3h0M1299.2 220.4h0M1074.9 308.4h0M965.5 330.2h0M1107 269.4h0M1209.8 310.5h0M1083.1 322h0M1142.7 264.6h0M993.3 367.2h0M1298.6 275.5h0M1196.2 284.9h0M1049.8 332.5h0M1180.7 305.7h0M1232 289.4h0M932.4 331h0M1059.6 293.8h0M1234.1 278.1h0M1176.1 300.8h0M1163.5 289.9h0M937.6 273.6h0M1216.3 276.6h0M1090.5 321.3h0M1024.5 314.9h0M1216.2 222.9h0M1082.2 346.1h0M998.6 339.5h0M1125 265.1h0M1023.8 313.1h0M1173.3 288.3h0M1141.7 210.6h0M1210.6 366.9h0M1184.2 197.4h0M1086.3 307.7h0M1273 255.7h0M1153.7 294.8h0M1062.2 365.4h0M1244.8 256.3h0M977 298.3h0M1004.8 306.5h0M1008.7 308.6h0M1086 269.8h0M1151.7 297.9h0M916.1 284.9h0M1289.8 271h0M984.5 315.7h0M1075.2 295.3h0M1117.2 284.7h0M1035.5 372.2h0M1117.1 242.9h0M1146.4 226.1h0M1004.1 293.9h0M1099.1 298.9h0M1219 306.9h0M1007.5 314.4h0M1006.3 324.1h0M1314.8 248.1h0M1233.1 266.1h0M1236.4 232.8h0M1224.1 263.2h0M950.6 260h0M984.8 300.1h0M1270.6 331.6h0M1092.5 273.3h0M1062.9 299.5h0M1198.8 302.6h0M1010.9 287h0M1166.3 300.7h0M1062.4 290.5h0M1045.8 266.6h0M945.1 358.2h0M1181.8 280.1h0M1153.6 180.3h0M1263.4 228.5h0M1194.2 331.8h0M980.7 310.7h0M1099.7 314.3h0M1100 346.3h0M1152.8 308.1h0M999.7 351.9h0M1269.7 272.8h0M859.9 340.7h0M1269.6 278.4h0M1177.6 317.9h0M913.8 329.9h0M1008.6 317.5h0M1100.3 306.5h0M1167.9 311.2h0M1158.4 324.7h0M1087.8 301.3h0M1076.5 323.3h0M1055.5 331.2h0M922.1 303.7h0M1211.8 324.6h0M1031.4 292.5h0M1055.2 296.6h0M981.8 272.3h0M1020.1 330.1h0M1114.3 279.8h0M1287.6 220.6h0M1202.7 264.7h0M1057.1 318.7h0M1152.8 292.7h0M1242.6 244.4h0M1115.6 285.6h0M1222.8 265.9h0M1075.6 298h0M954.9 322.3h0M1170.8 303.3h0M1065.7 310.4h0M1023.6 286h0M1052.7 345h0M1027.3 320.3h0M1146.7 268.3h0M1009.4 332.1h0M1139.2 302.6h0M1082.8 296h0M1178.8 301h0M1235.1 254.6h0M1097.3 322.5h0M1180.7 281.3h0M955 277.4h0M1086.9 320.8h0M984.9 242.4h0M1276.9 252.6h0M1170.6 306.6h0M1242.9 280.5h0M1081 301.1h0M1041.9 322.6h0M1027.5 334.7h0M1100.1 302.8h0M1002.8 320.8h0M1308.8 243.2h0M1078.4 323.8h0M1147.4 279h0M959.7 298.3h0M974.5 310.9h0M1169.1 314.6h0M1018 328.4h0M1041.2 303.6h0M1163.2 322.6h0M1122.7 315.2h0M1230.9 251.3h0M1243.5 291.6h0M991.9 352.3h0M1135.3 288.7h0M1147.1 337.5h0M1271.2 281.4h0M927.5 303.5h0M1020.1 287.9h0M1113.4 315.3h0M1172.7 309.7h0M1028.1 305.9h0M1035.3 316.9h0M961.3 354.4h0M1245.1 229.4h0M951.4 336.4h0M1005.7 291.3h0M1002.3 292.8h0M1146.2 263.2h0M1063 276h0M1090.1 326.5h0M990.2 332h0M1071.3 321.3h0M1161.4 293.4h0M1210.3 272.1h0M1147 259.8h0M984.5 270.9h0M1068.4 296.4h0M1129.5 297.3h0M922.7 307.1h0M1050.7 416.3h0M1213.9 280.4h0M1137 299.2h0M1216.5 296.1h0M1225.3 287.7h0M994.3 290.1h0M1061.2 313.3h0M1096.5 353.7h0M1191.1 295.3h0M950.1 365.7h0M960.7 313.5h0M1157.3 271h0M892.5 346h0M1037.3 359.4h0M1146.5 295h0M1189.3 243.1h0M1040.8 305.4h0M1242.8 314h0M1049.2 319.8h0M978.7 303.7h0M1015.6 299h0M1109.1 300.5h0M1169.3 272.9h0M1193 263.1h0M1099.1 299.5h0M1057.5 317.3h0M1245.6 294.6h0M986.6 319.5h0M974.5 328.2h0M1014.2 313.1h0M959.1 338.7h0M1067.4 347.1h0M1171.1 235.4h0M958.6 335.4h0M960.2 281.9h0M1181.6 224.2h0M1162.2 285.6h0M1028.5 377.6h0M1223.1 267.7h0M1138.9 281.9h0M1123.8 344.2h0M1037.9 320.1h0M1040.9 258.9h0M926 295.2h0M986.9 314.2h0M991.2 329.8h0M998.6 288.8h0M1209 262.2h0M1323.9 200.5h0M1033.6 261.7h0M1024.9 317.8h0M969.7 363h0M1080.1 313.9h0M1039.1 301.6h0M933.4 339.3h0M925.8 268.4h0M1157.3 280.7h0M1095.3 324.1h0M1041.8 326.4h0M1150.9 301.1h0M1299.5 272.4h0M1051.9 350.7h0M1324 279.1h0M1075.8 307.6h0M1144.7 329.4h0M1094.6 316.7h0M1116.4 271.7h0M1037.8 254.5h0M1252.7 290.6h0M1210.4 286.1h0M1009.6 285.6h0M1080.1 370.7h0M1303.9 162.7h0M1098.3 291.9h0M1188.1 367.5h0M1175 353h0M1097.6 301.3h0M1081 333.8h0M999 347.7h0M1261.9 290.9h0M1211.1 287.1h0M927.4 336.8h0M1048.3 283.8h0M1038 284.6h0M991.5 323.2h0M988.1 361.6h0M1282.8 233.3h0M1023.2 363.4h0M865 310.9h0M1226.9 290.4h0M1302.3 207.9h0M966.5 312.6h0M1105.7 344.8h0M855.1 331.8h0M1114 312.6h0M1094.5 277.2h0M1242.2 255.1h0M893.5 333.4h0M1186 310.7h0M1101.9 327.2h0M1054.9 313.7h0M1014 347.5h0M1282 289h0M1155.4 226.8h0M1063.5 352h0M1203.8 348.9h0M1163.3 295.7h0M1055.6 296.9h0M1218.6 209.2h0M943.9 263.1h0M1126.3 282.4h0M855.9 340.4h0M1040.4 296.1h0M987.5 301.3h0M1081.4 340.6h0M984.7 240h0M992.1 310.9h0M1145.3 272.6h0M1157.7 302.3h0M1057 308.3h0M1169.9 337.6h0M1027 338.3h0M1174.1 272.9h0M925.7 285.7h0M1118.5 276.7h0M885.6 388.1h0M1239.6 291.5h0M1250.7 260.3h0M1166.9 282.7h0M1013.8 336.4h0M1263.8 337.3h0M1010.8 358.8h0M1079 366.6h0M929.9 422.3h0M1140.9 310.7h0M1174.1 294.3h0M1175.2 270.2h0M1045.6 339h0M1143.5 306.8h0M1205.7 315h0M1044.1 320.5h0M1042.1 299.4h0M1142.7 286.3h0M999.8 373.9h0M1173.1 323.4h0M1133.9 285.8h0M1005 333h0M1061.5 357.7h0M1191.8 332.1h0M1061.3 283.1h0M1101.2 277.6h0M1121.9 303h0M1228.5 301.8h0M1286.2 280.8h0M1077 283.4h0M1272.2 295.6h0M1041.9 371.5h0M1100 267.3h0M1067.2 269.8h0M1254.5 251h0M1104.7 324.6h0M1215.6 226.6h0M1299.6 169.3h0M1153.3 273.7h0M1073.2 312.1h0M1181.7 321.7h0M1269.5 250.4h0M1096.7 245.4h0M1154.9 292h0M1040.1 297.5h0M1166.8 303.7h0M943.7 349.5h0M987.9 320.1h0M924.9 321.2h0M1122.6 304.9h0M1087.6 293.2h0M1247.5 317.1h0M1054.6 332.1h0M1096.4 324.9h0M1103.9 276.7h0M1139.6 282h0M993.3 286.8h0M1179.7 350.9h0M1180.2 298.6h0M952.8 344.8h0M950.6 317.9h0M1072.1 267.9h0M1068.8 327.1h0M1033.5 305.3h0M992.6 341.4h0M960.9 370.1h0M936.8 313.7h0M1230.4 338h0M1290 274.9h0M1229.3 314.9h0M1231.8 276.5h0M1113.9 333.7h0M1083.6 303.2h0M1244.1 252.3h0M993.7 272h0M1199.8 310.9h0M1209.7 279.6h0M998.6 271.2h0M1184.3 321.6h0M1153.7 308.3h0M1062.3 447.9h0M1122.9 270.8h0M1019.1 326.2h0M1000.1 324.5h0M1033.2 246.2h0M1189.7 311h0M1008.1 269.5h0M974.3 295.7h0M1078.1 306.2h0M1311.7 254.5h0M953.4 330.5h0M1200.2 257.1h0M1127.3 359.8h0M1110.3 282.3h0M1239.7 225.5h0M960.3 267h0M1179.4 297h0M1162.5 287.2h0M967.3 311h0M1205.2 388.5h0M1004.8 288.5h0M1221.2 321.5h0M1025.1 357h0M1272.1 118.9h0M1169.7 238.5h0M1070.7 350.6h0M1191.5 273.4h0M1239.5 264.8h0M1143.9 312.2h0M883.3 310.3h0M870.8 331.3h0M1059.9 306.3h0M1105.9 310.2h0M1181.6 283.9h0M999.3 321.9h0M1017.6 462.1h0M1047.2 322.5h0M1213.8 281.7h0M1107.9 280.8h0M1170.9 276.5h0M985.2 268.8h0M1008.8 289.6h0M1156.1 304.3h0M1094.9 304.8h0M1239.6 269.6h0M972.3 335h0M1002.5 331.2h0M1200 275.4h0M1213.3 300h0M1112.7 303.1h0M1210.7 279.4h0M1119.8 297.2h0M1213.3 285.2h0M1292.7 217.1h0M1185.4 301.6h0M998.7 328.8h0M1020.8 314.3h0M1154.4 296.1h0M1017.3 350.7h0M974.5 376.3h0M1241.6 250.5h0M1226.6 252.4h0M1244.5 270h0M1151 266.2h0M1128.5 284.6h0M1313.2 258.7h0M984.3 362h0M990.7 411.5h0M1281 227.9h0M1205.4 267.6h0M1052.6 307.7h0M1123.1 274h0M1062.9 304h0M1249.4 231.1h0M1129.4 340.6h0M1119.7 320.4h0M982.2 311.1h0M992.6 332.6h0M1175.3 293.3h0M1132.9 304.5h0M1137.7 311.8h0M950.8 320.2h0M1310.1 246.5h0M1014.6 412.2h0M1126.8 310.4h0M946.6 319.8h0M1073.6 350.6h0M1087.6 277.6h0M1167.1 267.3h0M1211.3 294.4h0M1078.9 332.7h0M1134.3 294.6h0M1018.4 381.7h0M1190.1 290.9h0M1289.5 252.3h0M1165.5 204.4h0M1096.9 308.8h0M1185.3 289.7h0M1008.3 386.2h0M1009.1 332.8h0M943.8 286.4h0M1039.5 348.8h0M1084.2 297.5h0M1126.1 255.8h0M1224.5 284.9h0M1159 281.9h0M1198.7 292.1h0M1223.2 309.8h0M1103.3 261.4h0M1086.2 322.7h0M1100.3 203.4h0M981 340.1h0M1085.7 341.2h0M1186.8 317.7h0M894 369.3h0M1104.1 317.6h0M1056.4 258.6h0M1117.1 304.7h0M1234.9 272.1h0M1108 290.3h0M1103.4 336h0M1023.9 307.3h0M1204.7 280.8h0M1103.5 298.2h0M1138.4 286.5h0M1151.3 286.9h0M1157.5 280.5h0M1157.2 286.4h0M933.8 466h0M975.1 362.2h0M1199.2 264.6h0M1075.3 311.2h0M1046.8 356.1h0M871.8 312.1h0M1289.7 251.7h0M1179.3 371h0M1125.1 306.7h0M896.8 359h0M980.4 366.1h0M1129.3 329h0M1001 322.4h0M1147.3 246.4h0M1172.9 309.6h0M1034.6 296h0M1137.7 296.6h0M1168.5 295.7h0M1020 323.1h0M1272.1 175.7h0M1278.1 194h0M1077.8 389.4h0M1116.1 286.2h0M1174.7 225.7h0M1108.1 274.2h0M1231.2 260h0M1220.6 275.2h0M917.5 321.1h0M1191.2 280.4h0M1010.2 276.6h0M1035 319.8h0M1222 318h0M1237 269.5h0M1136.7 301.1h0M1099 359.6h0M1030.8 336.5h0M1081.8 339.1h0M1126.4 274.4h0M1106.9 364.4h0M1035.3 319.4h0M1092.8 347.2h0M1093.2 309.9h0M1218 242.4h0M952.4 286.5h0M1120.2 241.4h0M1051.8 253.5h0M1180.1 306.3h0M1200.1 293.5h0M1008.2 239.9h0M1068.7 327.9h0M945.2 336.6h0M1018.2 330h0M971.2 218.7h0M1200.5 261.7h0M1014.5 365.5h0M1115.5 350.9h0M1002.2 329.1h0M1142.3 241.2h0M1109.9 287.3h0M1187.7 291.6h0M1186.4 243.8h0M1211.6 285.9h0M1051.9 296.4h0M1078.7 344.1h0M1000.3 314.2h0M1219.6 278.3h0M1193.2 243.6h0M942.2 219h0M1180.2 291.4h0M1103.8 317.8h0M1155.6 304.7h0M1152.7 277.2h0M1159.7 320.5h0M1032.9 311h0M1033.8 309.8h0M1241.2 294.7h0M1192.5 307.8h0M1082.3 298h0M1157.4 297.9h0M1305 124.5h0M1022.3 339.2h0M1096.6 310.7h0M979.9 312h0M1127 301.4h0M1120.9 261.1h0M1029.9 233.6h0M1141.6 313h0M1085.2 348.3h0M1024.5 373.8h0M997.7 314.3h0M1152.7 148.8h0M1157.1 299.5h0M1176.4 268.5h0M1046.9 280.8h0M881.1 455.9h0M1062.8 209.9h0M962.5 295.5h0M1038.3 323.2h0M1003.8 338.9h0M995.6 307.5h0M1149.6 279.6h0M1122 284.1h0M1013 260.5h0M953.1 337.7h0M1032.3 347.9h0M1022.1 267.1h0M878.5 451.6h0M1138.8 283.2h0M887.3 340.7h0M1091.4 334.3h0M1269.4 205.6h0M1046.7 341.3h0M1110.4 299.4h0M1044.6 313.7h0M1114.7 302h0M998.4 303.2h0M1097.7 319.8h0M1049.5 321.2h0M974.5 284.8h0M1054.8 287.5h0M1017.3 311h0M1023.4 343h0M1063.3 341.1h0M989.1 328.2h0M899.3 349h0M1229.1 229.9h0M1165.7 277.4h0M887.1 414.8h0M1096.3 294.4h0M1059.1 293.5h0M900.8 275h0M944.2 422.6h0M1305.2 250.5h0M1256.1 285.3h0M1113.2 372.9h0M924 307.9h0M1018.4 370.8h0M1322.5 222h0M1246.5 271.8h0M992.3 282.1h0M1203.3 263.5h0M1078.4 340.9h0M1125.7 269h0M1187.2 289.5h0M1303.6 217.2h0M1004.7 325.6h0M1229.1 308.6h0M1025 309.3h0M1136.3 302.4h0M950.2 290.6h0M1134.9 309.8h0M929.7 327.5h0M1075 288.9h0M1250.1 236h0M1076.8 349.7h0M893.6 325.7h0M1178.7 277.2h0M1158 348.4h0M1203.9 297.5h0M963.2 262.5h0M1062.8 278.6h0M997.3 335.1h0M1002.3 301.5h0M1067.4 303.4h0M1001.8 301.3h0M1073.1 329.7h0M1002.9 337.6h0M1009.1 375.4h0M981.7 326.2h0M1065.4 275h0M1113.9 317.7h0M1239.2 240.5h0M1193.1 329.9h0M1103.2 308.8h0M1186.9 297.3h0M981.2 297.6h0M1043.1 298.9h0M1095 323.9h0M1320.7 216.1h0M1060.3 306.3h0M1082.3 352.6h0M972.3 290h0M1160.8 284.9h0M1013.4 319.5h0M1067.7 332.9h0M957.5 293.9h0M986.9 306.6h0M1061.3 311.4h0M1048.4 326.9h0M1230.9 214.1h0M1191.7 248.9h0M1065 291.1h0M1112.7 347.5h0M899.3 298.8h0M1011.6 341h0M1019.4 419.7h0M1215.7 275.1h0M1115.6 298.6h0M969.5 436.1h0M885.2 436h0M1115.5 336.6h0M1119.8 273.5h0M927.9 341h0M1081.7 271.2h0M1058.2 440.2h0M1094.9 325h0M895.1 423.9h0M1102.7 293.7h0M1191.6 290.5h0M957.6 336.2h0M1196 243.1h0M1120 304.1h0M1172.9 271.2h0M1015.4 301.5h0M1008.2 295.8h0M1106.4 324.7h0M1137.8 350.2h0M1107.4 278.6h0M986.2 338.5h0M881.2 298.3h0M1130.9 306.1h0M1033.8 254.8h0M1269.3 244.1h0M1106.7 291.1h0M986.6 176.8h0M1011.3 210.2h0M1216 372.1h0M1232.2 296.2h0M1202.7 307.1h0M982.3 371h0M1228.4 288.6h0M1082.5 325.4h0M1047.8 276.9h0M1107.4 257.8h0M1018.5 323.5h0M1069.7 313.6h0M1135.4 321.3h0M1080.2 334.5h0M1059.4 332.7h0M1272.9 306h0M1309.8 273h0M936.6 379.4h0M1031.9 345.5h0M1035.7 415.3h0M1263.1 262.8h0M1002.9 327.8h0M1027.8 311.1h0M1221.9 273.6h0M1101.3 312.4h0M1021.6 327.8h0M1109.6 294.3h0M1198.1 277.3h0M1064.2 324.5h0M1175.7 281.7h0M1206.2 278.6h0M968.6 353.9h0M1122.2 349h0M943 360.9h0M998.7 292.9h0M1217.2 292.4h0M1072.4 333h0M1022.9 282h0M1145.3 258.7h0M1006.8 312.7h0M1065.7 293.3h0M1080.1 246.8h0M1193.5 280.8h0M1137.7 274.8h0M1193.3 202h0M1083.5 292.1h0M1018.9 309.9h0M1201.4 293.8h0M1023.1 328.5h0M1218.8 227.2h0M1051 343h0M1108.8 268.9h0M1037.4 366h0M1114 290.5h0M1179.7 274.4h0M1223.4 275.1h0M1095.1 319.2h0M1017.7 323.1h0M1077.8 313.1h0M1308.1 162.1h0M1111.8 285.3h0M1144.4 300h0M907.1 293.7h0M1122.7 334.9h0M958.8 446.2h0M1105.4 326.3h0M1145.2 277.5h0M1203.4 217.7h0M1129.3 301h0M1275.5 176h0M968 333.9h0M1091.4 249.5h0M1121.6 290.6h0M1253.9 291h0M1060.5 304.9h0M1137.6 308.4h0M1011 350.2h0M1188.9 218.4h0M1091.1 278.9h0M1251.9 258.7h0M1142.7 291.3h0M1068.5 314.4h0M1093.9 440.8h0M1059.1 264.7h0M1012.2 350.1h0M1049.4 309.9h0M1204.8 262.6h0M925.8 331.1h0M1217.5 304.9h0M1152.1 324.9h0M1268.3 202.4h0M1314.7 287.1h0M1137.2 275.7h0M1240.4 265.8h0M1032.9 299.2h0M1025.4 266h0M980.5 346.9h0M1157.5 250.8h0M1082.1 338.2h0M956.6 276.5h0M981.4 267h0M1110.2 317.3h0M1118.8 301.4h0M1211 316.2h0M1067.3 290.3h0M1154.8 290h0M1009.8 298.9h0M1028.1 300.5h0M1092.8 310.8h0M1222.7 307.1h0M997.6 329.1h0M1196.8 247.3h0M1208.5 283.8h0M1138.2 307.5h0M968.3 332.7h0M932.1 403.3h0M1245.1 207.1h0M1207.8 282.5h0M1078 283.2h0M1120.9 312.6h0M1039.7 324.2h0M1027.7 362.8h0M1189.4 268.9h0M1255.4 344.1h0M1241.9 303.8h0M1275 354.3h0M964.8 371.8h0M1215.5 263.8h0M1151 308.2h0M1177.1 231.5h0M1288.3 217.8h0M1091.7 280.3h0M1198.9 274.8h0M1062.6 307.3h0M1076.5 280.8h0M1067.7 309.9h0M905.7 339.1h0M1074.8 329.3h0M1210 333.7h0M968.9 275.8h0M1191.5 346.6h0M1212.3 256.7h0M1144.9 326h0M1285.4 277.3h0M1000 307.6h0M1145.5 306.9h0M1204.3 296.9h0M1299.9 226.7h0M1174.4 313.7h0M1104.6 360.2h0M931.3 390.9h0M1020.6 352h0M1038.8 342.9h0M1236 245.2h0M1167.3 314.1h0M954.3 322.8h0M1044.6 321.2h0M917.2 420.6h0M1133.3 297.9h0M1077.7 290.2h0M1140.1 299.5h0M1306.7 291h0M1069.5 317.9h0M1118.5 321h0M1144.5 344.1h0M1088.9 344.9h0M989.6 339.7h0M1112.6 281.4h0M990.3 322.1h0M1006.7 269h0M1043 342.7h0M934.4 382h0M1047.4 338.7h0M1166.8 287h0M1047 293.7h0M1157.9 304.2h0M1256.9 250.2h0M1110.2 283.7h0M1058 345.2h0M1246 234.9h0M1136 310.8h0M1238.9 298.1h0M1011.3 331.4h0M1078.5 283.7h0M971.5 344.7h0M1273.2 287.2h0M1085.4 338.7h0M1164.1 279.3h0M1019.8 358.3h0M955.7 315h0M1095.9 289.7h0M1135.9 298.9h0M1207.8 291h0M1040.8 322.4h0M1152.3 319.4h0M1240.1 265.6h0M1140.8 321.3h0M1051.7 399.2h0M1016.6 322.8h0M1018.8 325.5h0M1170.3 299.5h0M1062.5 305.8h0M1318.6 281.3h0M1253.7 285.8h0M1126.8 269.9h0M1137.5 308.4h0M1115.8 307.9h0M1186.7 323.4h0M1047.8 296.7h0M1061.7 331.9h0M960.8 315.9h0M1240.9 281.9h0M1074.5 316.2h0M967.8 296h0M1194.7 342h0M1285.9 306.2h0M1029.4 303.2h0M1132.3 286.3h0M980.3 308.9h0M1006.7 159.6h0M1075.8 295.3h0M1122.2 328.8h0M1062.1 326h0M1096.9 359.4h0M1096.3 322.9h0M1056.4 296.5h0M1234.9 284.1h0M1085.7 289.6h0M1324.1 202.9h0M931.1 300.2h0M1168.5 279.2h0M1234 264h0M986.6 302.7h0M1048.1 249h0M1161.8 360.9h0M1239.3 263.7h0M1022.1 309.9h0M1018.7 337.4h0M1043 298.7h0M1004.5 304.9h0M1116.9 332.3h0M1298.5 315.2h0M1030 249.5h0M971.6 305.4h0M988.1 383.6h0M959.5 333h0M1098.4 269.9h0M941 290.7h0M946.5 330.7h0M1125 291h0M1055.8 325.2h0M962.5 332h0M1071.9 273.6h0M984.6 426.6h0M1158.5 287.8h0M1148.4 315.8h0M1099.2 350.6h0M1140.3 271.7h0M1129.2 286.3h0M1127.6 444.5h0M1196.9 309.1h0M1060.8 286.4h0M1247.6 252h0M991.6 292.3h0M997 386.5h0M1080.5 328.3h0M1093.4 304.1h0M1098 390.5h0M1119.7 321.3h0M1075.1 262.7h0M1176.8 280.5h0M984 336.3h0M865.2 286.4h0M1224.4 274.8h0M989.9 323.4h0M1102.7 299.2h0M1074.9 325.3h0M943.8 337.5h0M1010.6 365.1h0M1246.3 283.1h0M1059.9 305.4h0M1304.6 226.5h0M1078.2 303.5h0M1113.3 322.6h0M889.3 319.6h0M1172 296.3h0M1258.9 295.7h0M1047.2 190.5h0M1230.9 284.5h0M1076.6 320h0M1060.1 374.2h0M1143.6 278.2h0M1083.7 323.8h0M1199.8 266.1h0M1188.1 262h0M1109.1 323.5h0M1097.1 335.6h0M1041.4 325.4h0M936.7 291.5h0M1274 299.9h0M1109.7 275.4h0M1246.1 292.4h0M1106.1 311.4h0M1035.9 288.2h0M1024.4 355.3h0M1132.1 282.6h0M1259.8 281.2h0M1028.6 306.7h0M1089.2 308.2h0M1079.8 308.3h0M974.6 306.2h0M1116.9 281.1h0M966.8 341.6h0M983.2 357.8h0M1006 325.4h0M1194.3 265h0M1134 247.1h0M1030.6 309.7h0M1070.9 294h0M1004.7 335.3h0M975.3 351.8h0M1180.9 227.7h0M1032.1 328.8h0M1108.9 355.4h0M1120.2 287.7h0M1220.1 267.4h0M1004.7 346.7h0M1181.4 278.5h0M1286.5 328.9h0M1109 302.1h0M1319.4 197h0M1052.9 315.2h0M1240.5 239.9h0M1154.3 258.3h0M1061 277.9h0M1284.8 288.5h0M1295.3 267.8h0M1164.7 338h0M954.3 363.1h0M1208.3 328.4h0M1013.4 307.2h0M1242.2 252.6h0M1035.8 345.1h0M1001.8 278.9h0M1097.1 334.9h0M1104.8 255.1h0M1237.9 254.2h0M1257.6 320.7h0M949.4 384.6h0M1181.9 321.8h0M1075.9 314.9h0M1040.9 295.4h0M1064.9 330.3h0M1002.1 267h0M1163.2 320.8h0M1003.9 319.1h0M1145.9 256.3h0M1229.4 268h0M1199.8 280.1h0M1163 257.2h0M1110.5 221.3h0M1139.6 329.2h0M1056.6 320.1h0M1100.6 268.3h0M1175.2 314.3h0M1234.6 311.6h0M1106.6 320.1h0M979.2 338.2h0M932.7 254h0M1180.5 242.3h0M1056.7 300.3h0M1118.8 329.3h0M1302.9 194.1h0M1030.6 263.6h0M1014.1 329h0M982.8 323.4h0M1111.1 310.8h0M1095.9 307.6h0M1222.9 265.2h0M1065.7 259.2h0M1190.5 269.3h0M1058.1 310.8h0M1117.3 323.1h0M1131.7 226.1h0M1167 286.4h0M1150.5 263.6h0M1209.5 283.7h0M987.3 303.4h0M1096.9 276.7h0M1207.9 248.1h0M1068.2 290.6h0M1057.9 339.4h0M1110.4 232.4h0M1009.3 264.2h0M1211.7 243.3h0M1178.3 303.9h0M1286.9 212.6h0M1307.1 225.1h0M1182.4 252h0M1235.9 270.3h0M1167.6 273h0M1054.8 434.7h0M997.9 322.8h0M1070.4 362h0M967.2 249.2h0M1187.8 153.5h0M973.2 314.6h0M1133.1 289.8h0M1049.5 301.8h0M1148.4 295.5h0M1020.9 330.7h0M911.2 370.4h0M1266.2 299.7h0M1271.3 278h0M1286 284.8h0M1084.8 311.2h0M1180.2 358.6h0M1029.5 350.5h0M1253.9 320.2h0M1101.3 332.2h0M1246 296.3h0M1052.1 297.1h0M1256.8 244.1h0M1135.9 290.1h0M1195.2 254.9h0M919 442.5h0M1245 274.3h0M1166 301.8h0M1032.5 301.2h0M1249.8 276.3h0M1038.2 297.9h0M991.1 325.3h0M1258.6 266.4h0M1117 324h0M1136.7 252.1h0M1239.3 270.5h0M1127.3 290.6h0M971.6 342.9h0M1030 394.7h0M1277.3 336.6h0M1109.6 310.8h0M997.7 290.6h0M1054.3 376.5h0M1210.9 258.7h0M1108.7 295.5h0M1010.1 339.7h0M975.3 295.4h0M1134.8 288.6h0M1091.6 288.4h0M916 316.4h0M951.7 226.5h0M1117.8 306.4h0M1266.5 212.3h0M1055.2 304.4h0M1144.2 180.2h0M1032.7 304.6h0M1124.3 306.6h0M1191.2 262.2h0M1008.6 367.2h0M1104.4 287.8h0M969.6 321.5h0M1131.4 349.2h0M1279.6 230.1h0M1149.5 306.6h0M1244.1 278.1h0M1207.1 235.6h0M985.4 335.7h0M1119.2 292.3h0M923 327.2h0M1102.2 280.3h0M1182.2 317.8h0M1014.9 342.2h0M1170.3 327h0M894 418.5h0M1139.1 311.3h0M1118 308.6h0M905.8 333.8h0M1189.2 361.5h0M1057.4 261.4h0M1165.5 298h0M1068.7 301.6h0M1152.2 277.2h0M1128.4 313.7h0M1127.8 359.1h0M1173.2 319.3h0M1105.6 306.3h0M1007.6 354.7h0M1067.3 349.2h0M1080.1 256.6h0M1063 294.8h0M1136.2 262.4h0M1037.1 319.6h0M1062.2 335.1h0M1041.9 384.6h0M1137.9 302.6h0M1079 316h0M1220.3 236.9h0M946.4 331.1h0M1207 312.4h0M1189 345.8h0M1250.8 281.5h0M1082.1 285.3h0M1262 290.5h0M1091.4 319.7h0M1009 339.4h0M1126.6 225.5h0M1012.9 490.7h0M1096.3 271.3h0M977.8 271.3h0M1021 345.9h0M1101.2 330.5h0M1083.4 313.7h0M1095.4 314.2h0M1013.5 287.1h0M1219.5 251.5h0M1251.3 249.3h0M1037.1 328.5h0M1236.9 271h0M1322.6 288.2h0M1014.9 286.8h0M1212.7 269.3h0M1209.4 299.6h0M1067 282h0M1172.9 288.7h0M1152.7 323.1h0M1307 198h0M1082.2 308.3h0M1095.9 317h0M1070.9 307h0M1284.6 267.9h0M1031.4 214.6h0M1022.7 350.2h0M1191.9 288.4h0M1206.5 317.9h0M1110.4 298.4h0M1013.7 308h0M1229.6 278.2h0M986.3 313.9h0M1255.2 218h0M953 307.7h0M976.8 313.3h0M1181.7 293.6h0M1131.9 265h0M990.8 255.4h0M1041.2 345.9h0M1242.8 298.5h0M1006.6 308.2h0M954.1 308.1h0M1074.2 293.4h0M881.6 257.1h0M1071.6 307.7h0M1206.2 286.4h0M1174.1 273.3h0M960.7 293.9h0M1324.2 243.2h0M1032.6 176.2h0M1226.7 324.1h0M1244.9 227.5h0M1056 309.2h0M935.1 386.8h0M1301.7 236.1h0M882.3 364.3h0M1036.3 369.3h0M1201.7 311.9h0M1244.1 305.4h0M1325.5 243.1h0M961.4 471.5h0M1164 319.5h0M1167 241.2h0M1076.3 299.5h0M1225.1 350.8h0M1000.3 251h0M1128.3 303.9h0M1192 333.4h0M1111.4 286.5h0M968.6 289h0M1119.8 293.2h0M1188 317.3h0M1019.5 248.1h0M988.1 363.6h0M1268.8 238.5h0M1075.9 307.1h0M1226.2 294.8h0M1132.4 279.1h0M1101.2 298.1h0M984.7 300.9h0M1182.9 324.9h0M1220.4 277.6h0M1073.9 290.5h0M1054.2 289.5h0M1187.7 259.6h0M1012.8 396.1h0M1110.7 347.7h0M980.4 305.1h0M1092 291.4h0M932 300.2h0M1207.7 296.8h0M930.3 289.4h0M1101.8 319h0M948.4 285.5h0M1201.7 279.2h0M906.4 334.2h0M1245 324.3h0M1219.2 252.2h0M1224.2 309.3h0M1310.4 193.3h0M996.5 332h0M923.5 304.8h0M1140.7 238.5h0M1019 292.6h0M1052.8 334h0M1111.4 302.6h0M1249.2 233.6h0M1275.8 270.5h0M1103.7 339.2h0M1105.1 301.7h0M978.2 290.9h0M895.5 234h0M1146 312.2h0M1063.1 295.1h0M1231.5 284h0M928.9 410.6h0M997.7 339.6h0M1295.2 307h0M1006.8 218.2h0M1052.9 292.7h0M986 353.7h0M1120.4 307.9h0M1156.7 299.3h0M1313 278.2h0M972.7 295.5h0M1064.3 290.9h0M975.3 306h0M1268.5 227h0M1136.2 287.4h0M1059.9 353.8h0M973.2 328.3h0M1148.9 285.4h0M957.6 300.4h0M1067 351.5h0M1035.3 314.3h0M1081.8 280.5h0M978.4 342h0M1144.5 329.2h0M1136 293.4h0M1144.5 284.6h0M985.6 323h0M1088.1 302.5h0M1230.1 280.6h0M1150.3 256.6h0M1025.1 354.2h0M1002.9 345.1h0M932.2 421.5h0M975.3 312.1h0M1035.3 252.2h0M1186.1 270.4h0M1159.2 323.3h0M1135 307.7h0M1052.3 328.8h0M1074.4 326h0M1145.9 295.3h0M1312 280.3h0M980.6 383.9h0M1225.3 256.9h0M1018.4 307.9h0M1166.1 275.6h0M1276.7 291.9h0M1043.7 292.7h0M1181.5 345.8h0M1083.6 351.1h0M1127.7 268.9h0M1147.4 325.3h0M1245.4 247.1h0M1248.9 262.1h0M1021.5 337.9h0M1153.8 283h0M1287.7 227.2h0M899.9 283.4h0M1098.8 323.6h0M1032.4 322.1h0M1034.1 345.3h0M1173.3 269.3h0M1190.2 300.8h0M997.1 335.8h0M1149.2 247.2h0M1012.2 324h0M1294.8 243h0M1030.2 359.2h0M1076.1 313h0M1158.8 357h0M1086.2 292.5h0M1097 322.9h0M1221.1 208.6h0M1087 329.2h0M1172.6 303.8h0M1139.6 282h0M1066.8 358.5h0M1156.6 290.5h0M1048.4 327h0M1019.4 306.5h0M1117.1 314h0M995.3 251.8h0M1194.3 328.8h0M956.9 371h0M1066.2 325.1h0M1069.3 320.9h0M1062.1 370.5h0M1111.4 306.6h0M961.6 312.3h0M1014 345.6h0M1078.4 292.5h0M1090.3 308.8h0M927.4 399.6h0M993.2 320.1h0M1094.1 357.1h0M1000.8 397.7h0M947.6 263h0M1085 395.4h0M955.4 232.1h0M1120.4 243.2h0M1077.4 327.2h0M1084.1 251h0M1029.6 310.1h0M1109.6 287.9h0M1224.9 320.4h0M1263.4 315.2h0M969.5 321.9h0M1289.2 191h0M1214.3 251.1h0M1085.5 317.3h0M1191.4 293.8h0M1055.4 327.8h0M1099.4 352.5h0M1160.7 299.4h0M1034.2 327.9h0M1078.9 326.9h0M1080.8 279.7h0M1082.4 296.5h0M1149 315.5h0M1132.7 316.8h0M1058.8 329.6h0M1029.8 281.9h0M1075.7 285.8h0M1160.5 301.8h0M1146.8 301h0M1190.9 281.1h0M988.6 343.7h0M1233.6 298.7h0M1087.9 298.8h0M1006.8 273.9h0M1049.5 264.1h0M1088.9 323.9h0M1227.1 287.1h0M1035.7 318.6h0M1152.9 314.7h0M1138.7 306h0M1013.1 316h0M1068 311.1h0M1198.1 216.6h0M1232.5 272.1h0M947 338.9h0M1209.4 325.1h0M1073.3 280.6h0M1082.6 369.5h0M1096.5 257.3h0M1207.2 252.2h0M1015.2 348h0M1230.1 287.3h0M981.8 319.8h0M994.1 303.3h0M1151.6 268.8h0M1184.4 281.6h0M1226 255.9h0M1222.2 273.7h0M1073.8 280h0M1110.1 369.2h0M981.1 341.8h0M999 298.5h0M985 517.2h0M1165.1 254.5h0M1266.4 236h0M1217.4 230.8h0M1253.5 228.3h0M1081.5 271.5h0M927.4 356.8h0M1054.3 273.2h0M1061 333.7h0M939.8 324.9h0M1271.8 247h0M965.5 299.2h0M1130.8 296.4h0M1014.2 340.6h0M1208.5 312.1h0M1114.1 327.7h0M1312.7 237.6h0M1035.1 236.8h0M1222.2 289.9h0M1105.5 325.7h0M1049.1 295.4h0M923.8 343.4h0M1068.9 364.9h0M1198 271h0M1216.9 294.1h0M1008.5 331.1h0M1027.4 345.2h0M1038.7 320.9h0M1043.4 305h0M1206.1 253.5h0M1197.2 247.4h0M1073.5 273.3h0M1187.9 275h0M1234.1 296.8h0M1161 265.8h0M1079.2 364.6h0M1188.4 281.7h0M968.4 266.3h0M998.6 274.5h0M1190.2 272.9h0M1115.9 340.7h0M1181.3 273.4h0M1177.6 286.8h0M1087.9 333.9h0M1223.6 281.8h0M1205.5 284.8h0M1017.8 314.5h0M1099.2 301.8h0M1096.5 275h0M1193.5 279.8h0M1284.3 265.6h0M1049.5 414.9h0M1238.1 252.6h0M1034 331.4h0M1057.1 337.2h0M1003.2 453.9h0M993.5 334.8h0M1059.3 341.6h0M1125.1 309.5h0M1173.1 427.9h0M1241.2 312.9h0M1048.9 310.1h0M1189 277.7h0M1093.8 297.2h0M993.3 315.4h0M1043.5 290.4h0M1180.6 227.9h0M1109.9 258.6h0M1133.1 299.7h0M1301.8 270h0M1301.9 237.1h0M1087.7 297.9h0M982.3 296h0M962.5 332h0M1078.4 303.2h0M1204.8 244.8h0M1104.6 312.8h0M968.9 385.2h0M1136.9 222.7h0M1134.4 284.6h0M1141.3 284.8h0M1312.7 132.7h0M1189 257.2h0M1017.8 345.5h0M1209 286.8h0M1189.9 275.9h0M915.4 385.5h0M1206.6 318.9h0M1124.5 268.5h0M998.1 331.7h0M1070.9 393.1h0M1190.1 278.7h0M1079.5 348.7h0M969.3 278h0M1052.5 338.1h0M1201.5 304.1h0M1030.2 309.2h0M1148.7 268.5h0M1182 291.2h0M1046.5 291.7h0M1145.4 224.3h0M1105.7 235.8h0M1033 325.2h0M1155.7 277h0M1283.6 176.2h0M1235.9 297.1h0M961.5 388.8h0M1207.7 268.5h0M1150.3 287.9h0M1114.3 334.5h0M1200.4 253.2h0M1035.9 334.2h0M969.1 307.2h0M1159.8 243.9h0M965.8 314.4h0M1258.2 257.7h0M1226.2 249.8h0M1133.1 308.5h0M1160.4 260.7h0M1166.6 266.3h0M975.1 354h0M1173.9 376.1h0M1176.9 285.6h0M1076.6 335.1h0M1230.6 273.6h0M1060.2 369.5h0M1013.5 314h0M1189.9 265.7h0M1201.8 179.2h0M1000 299.8h0M1015.5 269.1h0" fill="none" stroke="#000" stroke-width="6.0" stroke-linecap="round"/>
<path d="M889.4 314.3h0M961.5 318.5h0M1230.7 312.4h0M1126.2 324.6h0M893.4 319.5h0M1055.1 324.7h0M1077 314.8h0M924.7 313.2h0M1198.9 315.7h0M902.7 318.2h0M1035.1 312.3h0M1095 316.6h0M1053.9 314.8h0M1128.4 322.2h0M1200.4 311.9h0M1304.6 319.6h0M984.1 312h0M1157.9 310.6h0M1180.6 311.7h0M988.1 309.5h0M849.2 315.6h0M1312.8 319.5h0M990.8 315.6h0M998.3 317.7h0M1273.8 322.2h0M1127.6 316.1h0M1073.3 315.8h0M1217.4 313.7h0M863 307.7h0M1185.7 318.3h0M1027 307h0M891.8 317.8h0M1163.6 314.8h0M1292.8 320h0M947.3 314.6h0M1149.1 311.2h0M990.7 316.5h0M1202.3 312.4h0M1193 314.1h0M952.8 315.1h0M1244.4 314.3h0M1162.2 314.1h0M1174.2 311.2h0M1239.7 314h0M1052.9 305.3h0M1210.4 314.2h0M1267.5 309.5h0M897.3 319.9h0M1253.8 320.6h0M1036.4 306.1h0M1077.3 315.6h0M918.3 314.3h0M1181.6 310.2h0M987.8 317.3h0M1264 312.8h0M979.9 306.9h0M1116.5 313.7h0M1039.1 314.2h0M1140.9 315.4h0M942.3 309.4h0M934.5 317.7h0M1204.8 318.2h0M1207.3 309.7h0M1118.9 311.9h0M1287.9 314.5h0M946.7 312.4h0M1254.4 322.7h0M929.1 315.8h0M1308.5 310.4h0M1146 311.4h0M1138 314.6h0M1311.5 325.2h0M1223.9 314.1h0M1225.3 315.5h0M874.3 317.2h0M1024.6 314.7h0M889 325.2h0M940.8 312.5h0M950.5 318.2h0M1258.1 315.6h0M909 317.7h0M990.1 309.6h0M1083.6 322.9h0M1253.7 314.4h0M1308.9 315.1h0M1186.3 310.7h0M950.4 311.6h0M1108.5 317.4h0M1185.2 319.3h0M873.2 318.3h0M1172.8 320.3h0M1024.2 318.1h0M1129.8 315h0M1167.9 318.7h0M1167.7 317.6h0M1098 314.4h0M1113.1 318.2h0M943 320.7h0M1084.7 316h0M908.3 313.3h0M1077.8 318.1h0M1104.3 323.5h0M1217.7 314h0M1036.3 314.5h0M857.8 314.3h0M1100.2 320.4h0M946.4 306.6h0M1202.1 316.5h0M1033.9 320.3h0M1030 311.2h0M1282.3 321.6h0M1035.9 317.3h0M1014.9 312.4h0M1014.5 315.8h0M1077.8 308h0M893 312.4h0M1109.3 323.1h0M1288 310.9h0M1117 323.2h0M1203.3 314.5h0M1300.3 319.4h0M1250.2 315.1h0M1203.4 304.8h0M1236.4 312.3h0M1239.7 315.8h0M969.5 309.7h0M1078.4 308.8h0M1012 316.5h0M973.3 312h0M1121.1 307.3h0M1000.1 311.8h0M1143.6 318.8h0M1126.3 312.8h0M898.3 319.1h0M1059.5 321.8h0M1034.5 315h0M1185.6 309.8h0M890.5 309h0M929.1 314.8h0M1093 318.9h0M1041.5 316.1h0M1165.9 317.4h0M1007.3 312.9h0M942.6 316.3h0M1293 312.8h0M964.8 313.4h0M918.6 309.1h0M982 307.8h0M1010.5 312.7h0M955.9 309.9h0M1104.3 310.6h0M1295.4 317.9h0M908.6 314.4h0M1046.5 328h0M1167.2 319.1h0M1270.5 312.1h0M1325.4 318.4h0M917 316.5h0M1104.8 311.8h0M1268.8 319.9h0M873.8 311.4h0M1129.1 301.1h0M931.5 318.5h0M1214.8 312.1h0M1295.8 321.6h0M1105.3 312h0M852.8 309.6h0M879.1 321.9h0M1046.8 310.1h0M1252.7 315.8h0M961.4 321.4h0M1167.7 315.4h0M1041.8 314.5h0M975 315.4h0M1184.3 318.7h0M995.5 311.3h0M1025.9 317.6h0M1213.6 317.5h0M1084.7 325.4h0M1222.4 313.4h0" fill="none" stroke="#8e8e8e" stroke-width="6.0" stroke-linecap="round"/>
<line x1="73" y1="315.1" x2="335.2" y2="311.4" stroke="#c8375a" stroke-width="9.2"/>
<line x1="432.5" y1="348.6" x2="696.4" y2="275.2" stroke="#c8375a" stroke-width="9.4"/>
<line x1="848.5" y1="366.6" x2="1325" y2="243.6" stroke="#a4214f" stroke-width="9.5"/>
<path d="M80 69.3H74V552.1H335V546.1" fill="none" stroke="#262324" stroke-width="2.2" stroke-linejoin="miter"/>
<path d="M74 129.7h6M74 190.0h6M74 250.4h6M74 310.7h6M74 371.1h6M74 431.4h6M74 491.8h6M204.5 552.1v-6" fill="none" stroke="#262324" stroke-width="2.2"/>
<path d="M439.6 69.3H433.6V552.1H694.5V546.1" fill="none" stroke="#262324" stroke-width="2.2" stroke-linejoin="miter"/>
<path d="M433.6 129.7h6M433.6 190.0h6M433.6 250.4h6M433.6 310.7h6M433.6 371.1h6M433.6 431.4h6M433.6 491.8h6M564.0 552.1v-6" fill="none" stroke="#262324" stroke-width="2.2"/>
<path d="M854.0 76.3H848.5V553.1H1325.5V547.6" fill="none" stroke="#262324" stroke-width="2.4" stroke-linejoin="miter"/>
<path d="M848.5 135.9h5.5M848.5 195.5h5.5M848.5 255.1h5.5M848.5 314.7h5.5M848.5 374.3h5.5M848.5 433.9h5.5M848.5 493.5h5.5M1087.0 553.1v-5.5" fill="none" stroke="#262324" stroke-width="2.4"/>
<rect x="846.3" y="310.4" width="478.9" height="9.4" rx="2" fill="#9510f0"/>
<text x="-3.5" y="20.8" font-size="37.5" font-weight="bold" text-anchor="start" fill="#000" >a</text>
<text x="763" y="27.5" font-size="37.5" font-weight="bold" text-anchor="start" fill="#000" >b</text>
<text x="204.3" y="21" font-size="29.17" font-weight="normal" text-anchor="middle" fill="#000" >0s from</text>
<text x="204.3" y="57.7" font-size="29.17" font-weight="normal" text-anchor="middle" fill="#000" >stimulus onset</text>
<text x="564.4" y="21" font-size="29.17" font-weight="normal" text-anchor="middle" fill="#000" >60ms from</text>
<text x="564.4" y="57.7" font-size="29.17" font-weight="normal" text-anchor="middle" fill="#000" >stimulus onset</text>
<text x="64.5" y="76.6" font-size="29.17" font-weight="normal" text-anchor="end" fill="#262324" >0.2</text>
<text x="64.5" y="318" font-size="29.17" font-weight="normal" text-anchor="end" fill="#262324" >0</text>
<text x="64.5" y="565.6" font-size="29.17" font-weight="normal" text-anchor="end" fill="#262324" >-0.2</text>
<text x="420" y="76.6" font-size="29.17" font-weight="normal" text-anchor="end" fill="#262324" >0.2</text>
<text x="420" y="318" font-size="29.17" font-weight="normal" text-anchor="end" fill="#262324" >0</text>
<text x="420" y="559.6" font-size="29.17" font-weight="normal" text-anchor="end" fill="#262324" >-0.2</text>
<text x="840.3" y="84.3" font-size="29.17" font-weight="normal" text-anchor="end" fill="#262324" >0.2</text>
<text x="840.3" y="322.5" font-size="29.17" font-weight="normal" text-anchor="end" fill="#262324" >0</text>
<text x="840.3" y="561.2" font-size="29.17" font-weight="normal" text-anchor="end" fill="#262324" >-0.2</text>
<text x="58.5" y="582.3" font-size="29.17" font-weight="normal" text-anchor="start" fill="#262324" >-0.5</text>
<text x="198.6" y="582.3" font-size="29.17" font-weight="normal" text-anchor="start" fill="#262324" >0</text>
<text x="322.5" y="582.3" font-size="29.17" font-weight="normal" text-anchor="start" fill="#262324" >0.5</text>
<text x="418.9" y="582.3" font-size="29.17" font-weight="normal" text-anchor="start" fill="#262324" >-0.5</text>
<text x="558.5" y="582.3" font-size="29.17" font-weight="normal" text-anchor="start" fill="#262324" >0</text>
<text x="682.5" y="582.3" font-size="29.17" font-weight="normal" text-anchor="start" fill="#262324" >0.5</text>
<text x="832.4" y="586.6" font-size="29.17" font-weight="normal" text-anchor="start" fill="#262324" >-0.5</text>
<text x="1080.4" y="586.6" font-size="29.17" font-weight="normal" text-anchor="start" fill="#262324" >0</text>
<text x="1311.2" y="586.6" font-size="29.17" font-weight="normal" text-anchor="start" fill="#262324" >0.5</text>
<text x="204.3" y="613" font-size="29.17" font-weight="normal" text-anchor="middle" fill="#262324" >SI</text>
<text x="564.4" y="613" font-size="29.17" font-weight="normal" text-anchor="middle" fill="#262324" >SI</text>
<text x="1087" y="614.6" font-size="29.17" font-weight="normal" text-anchor="middle" fill="#262324" >SI</text>
<text x="0" y="0" font-size="29.17" font-weight="normal" text-anchor="middle" fill="#262324" transform="translate(21 310.7) rotate(-90)">Decoding weight</text>
<text x="0" y="0" font-size="29.17" font-weight="normal" text-anchor="middle" fill="#262324" transform="translate(786 315.6) rotate(-90)">Mean pairwise decoding weight</text>
</svg>
</body></html>
